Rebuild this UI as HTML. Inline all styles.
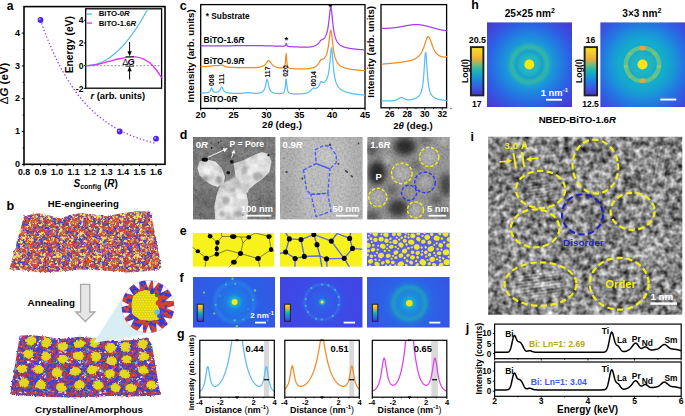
<!DOCTYPE html>
<html><head><meta charset="utf-8"><style>
html,body{margin:0;padding:0;background:#fff;font-family:"Liberation Sans",sans-serif;}
body{width:685px;height:416px;overflow:hidden;}
svg{display:block;}
</style></head><body>
<svg width="685" height="416" viewBox="0 0 685 416" font-family="Liberation Sans" font-weight="bold">
<defs>
<pattern id="amA" width="40" height="40" patternUnits="userSpaceOnUse"><rect width="40" height="40" fill="#b86a70"/><circle cx="18.1" cy="22.4" r="0.9" fill="#3c3cd4"/><circle cx="20.3" cy="23.5" r="1.0" fill="#d8402e"/><circle cx="25.2" cy="31.7" r="0.9" fill="#d8402e"/><circle cx="3.6" cy="32.4" r="0.8" fill="#eee46a"/><circle cx="-0.7" cy="-1.4" r="1.0" fill="#eee46a"/><circle cx="-0.7" cy="38.6" r="1.0" fill="#eee46a"/><circle cx="39.3" cy="-1.4" r="1.0" fill="#eee46a"/><circle cx="39.3" cy="38.6" r="1.0" fill="#eee46a"/><circle cx="6.3" cy="0.6" r="0.8" fill="#eee46a"/><circle cx="6.3" cy="40.6" r="0.8" fill="#eee46a"/><circle cx="7.6" cy="9.7" r="0.9" fill="#d8402e"/><circle cx="17.6" cy="33.7" r="1.0" fill="#eee46a"/><circle cx="20.0" cy="26.5" r="0.9" fill="#eee46a"/><circle cx="-0.1" cy="-0.2" r="1.0" fill="#3c3cd4"/><circle cx="-0.1" cy="39.8" r="1.0" fill="#3c3cd4"/><circle cx="39.9" cy="-0.2" r="1.0" fill="#3c3cd4"/><circle cx="39.9" cy="39.8" r="1.0" fill="#3c3cd4"/><circle cx="12.6" cy="9.2" r="0.8" fill="#d8402e"/><circle cx="30.7" cy="16.0" r="0.9" fill="#3c3cd4"/><circle cx="-1.7" cy="33.9" r="0.8" fill="#d8402e"/><circle cx="38.3" cy="33.9" r="0.8" fill="#d8402e"/><circle cx="36.4" cy="18.8" r="0.9" fill="#3c3cd4"/><circle cx="2.9" cy="25.2" r="0.9" fill="#3c3cd4"/><circle cx="3.5" cy="13.3" r="1.1" fill="#3c3cd4"/><circle cx="4.7" cy="9.9" r="0.8" fill="#d8402e"/><circle cx="31.9" cy="7.1" r="0.9" fill="#eee46a"/><circle cx="7.6" cy="29.3" r="1.0" fill="#d8402e"/><circle cx="4.7" cy="16.8" r="0.9" fill="#d8402e"/><circle cx="-1.2" cy="32.1" r="1.1" fill="#d8402e"/><circle cx="38.8" cy="32.1" r="1.1" fill="#d8402e"/><circle cx="8.4" cy="15.8" r="1.0" fill="#3c3cd4"/><circle cx="4.0" cy="-0.4" r="0.9" fill="#d8402e"/><circle cx="4.0" cy="39.6" r="0.9" fill="#d8402e"/><circle cx="30.9" cy="13.2" r="0.8" fill="#d8402e"/><circle cx="3.6" cy="23.3" r="1.0" fill="#d8402e"/><circle cx="14.9" cy="18.1" r="0.9" fill="#3c3cd4"/><circle cx="23.0" cy="34.7" r="0.8" fill="#d8402e"/><circle cx="36.3" cy="32.7" r="0.8" fill="#d8402e"/><circle cx="29.6" cy="37.6" r="1.1" fill="#d8402e"/><circle cx="35.3" cy="24.1" r="0.8" fill="#eee46a"/><circle cx="1.5" cy="-1.5" r="1.0" fill="#d8402e"/><circle cx="1.5" cy="38.5" r="1.0" fill="#d8402e"/><circle cx="41.5" cy="-1.5" r="1.0" fill="#d8402e"/><circle cx="41.5" cy="38.5" r="1.0" fill="#d8402e"/><circle cx="10.3" cy="32.9" r="0.9" fill="#eee46a"/><circle cx="7.0" cy="28.8" r="0.8" fill="#d8402e"/><circle cx="22.4" cy="34.1" r="0.9" fill="#eee46a"/><circle cx="36.7" cy="8.2" r="0.9" fill="#d8402e"/><circle cx="17.8" cy="2.4" r="0.9" fill="#d8402e"/><circle cx="22.9" cy="5.3" r="1.1" fill="#eee46a"/><circle cx="-0.8" cy="26.3" r="1.0" fill="#eee46a"/><circle cx="39.2" cy="26.3" r="1.0" fill="#eee46a"/><circle cx="5.6" cy="1.4" r="1.1" fill="#d8402e"/><circle cx="5.6" cy="41.4" r="1.1" fill="#d8402e"/><circle cx="28.0" cy="-1.5" r="1.0" fill="#d8402e"/><circle cx="28.0" cy="38.5" r="1.0" fill="#d8402e"/><circle cx="19.3" cy="29.2" r="1.1" fill="#d8402e"/><circle cx="3.0" cy="21.8" r="1.1" fill="#3c3cd4"/><circle cx="29.5" cy="28.1" r="1.1" fill="#3c3cd4"/><circle cx="14.1" cy="27.4" r="1.1" fill="#3c3cd4"/><circle cx="16.7" cy="31.6" r="1.0" fill="#3c3cd4"/><circle cx="25.0" cy="15.3" r="1.0" fill="#eee46a"/><circle cx="3.2" cy="25.6" r="1.1" fill="#3c3cd4"/><circle cx="29.1" cy="15.5" r="1.0" fill="#3c3cd4"/><circle cx="17.6" cy="33.5" r="1.1" fill="#d8402e"/><circle cx="1.2" cy="24.1" r="0.8" fill="#eee46a"/><circle cx="41.2" cy="24.1" r="0.8" fill="#eee46a"/><circle cx="27.9" cy="19.9" r="1.1" fill="#eee46a"/><circle cx="10.2" cy="0.5" r="1.0" fill="#d8402e"/><circle cx="10.2" cy="40.5" r="1.0" fill="#d8402e"/><circle cx="8.1" cy="6.8" r="1.0" fill="#3c3cd4"/><circle cx="17.7" cy="35.7" r="1.0" fill="#d8402e"/><circle cx="7.9" cy="17.2" r="1.1" fill="#3c3cd4"/><circle cx="35.2" cy="15.4" r="0.9" fill="#eee46a"/><circle cx="5.4" cy="19.9" r="1.1" fill="#3c3cd4"/><circle cx="28.4" cy="-2.0" r="0.8" fill="#d8402e"/><circle cx="28.4" cy="38.0" r="0.8" fill="#d8402e"/><circle cx="18.0" cy="11.0" r="0.9" fill="#d8402e"/><circle cx="25.0" cy="19.8" r="1.1" fill="#d8402e"/><circle cx="-0.7" cy="18.1" r="0.8" fill="#d8402e"/><circle cx="39.3" cy="18.1" r="0.8" fill="#d8402e"/><circle cx="34.9" cy="1.7" r="1.0" fill="#3c3cd4"/><circle cx="34.9" cy="41.7" r="1.0" fill="#3c3cd4"/><circle cx="12.4" cy="31.7" r="0.8" fill="#d8402e"/><circle cx="18.2" cy="1.0" r="0.8" fill="#3c3cd4"/><circle cx="18.2" cy="41.0" r="0.8" fill="#3c3cd4"/><circle cx="5.6" cy="1.9" r="0.9" fill="#eee46a"/><circle cx="5.6" cy="41.9" r="0.9" fill="#eee46a"/><circle cx="25.2" cy="26.2" r="1.1" fill="#3c3cd4"/><circle cx="27.4" cy="8.0" r="0.8" fill="#eee46a"/><circle cx="0.4" cy="18.9" r="0.8" fill="#3c3cd4"/><circle cx="40.4" cy="18.9" r="0.8" fill="#3c3cd4"/><circle cx="10.9" cy="13.8" r="1.0" fill="#eee46a"/><circle cx="24.6" cy="30.2" r="1.1" fill="#eee46a"/><circle cx="36.2" cy="3.5" r="1.0" fill="#3c3cd4"/><circle cx="5.2" cy="18.1" r="1.1" fill="#eee46a"/><circle cx="15.1" cy="22.8" r="1.1" fill="#3c3cd4"/><circle cx="37.8" cy="18.5" r="0.8" fill="#eee46a"/><circle cx="28.9" cy="32.7" r="1.0" fill="#eee46a"/><circle cx="8.5" cy="36.0" r="1.1" fill="#3c3cd4"/><circle cx="21.5" cy="31.6" r="1.1" fill="#d8402e"/><circle cx="34.2" cy="13.9" r="0.9" fill="#d8402e"/><circle cx="22.0" cy="30.7" r="0.8" fill="#eee46a"/><circle cx="32.4" cy="2.6" r="0.8" fill="#3c3cd4"/><circle cx="13.4" cy="31.5" r="0.8" fill="#d8402e"/><circle cx="20.7" cy="28.9" r="1.0" fill="#3c3cd4"/><circle cx="37.8" cy="19.7" r="0.8" fill="#3c3cd4"/><circle cx="8.9" cy="21.1" r="1.0" fill="#d8402e"/><circle cx="25.6" cy="20.9" r="1.0" fill="#3c3cd4"/><circle cx="12.5" cy="15.2" r="1.1" fill="#3c3cd4"/><circle cx="8.3" cy="34.0" r="1.0" fill="#3c3cd4"/><circle cx="22.9" cy="8.0" r="1.0" fill="#eee46a"/><circle cx="24.2" cy="1.1" r="1.0" fill="#3c3cd4"/><circle cx="24.2" cy="41.1" r="1.0" fill="#3c3cd4"/><circle cx="16.0" cy="32.0" r="0.9" fill="#eee46a"/><circle cx="27.6" cy="2.6" r="0.9" fill="#eee46a"/><circle cx="-1.7" cy="36.9" r="0.9" fill="#d8402e"/><circle cx="38.3" cy="36.9" r="0.9" fill="#d8402e"/><circle cx="5.1" cy="17.3" r="1.1" fill="#3c3cd4"/><circle cx="19.1" cy="12.7" r="1.0" fill="#d8402e"/><circle cx="37.0" cy="5.2" r="0.8" fill="#3c3cd4"/><circle cx="7.8" cy="9.1" r="0.9" fill="#eee46a"/><circle cx="14.2" cy="24.8" r="1.0" fill="#d8402e"/><circle cx="4.9" cy="20.4" r="0.8" fill="#d8402e"/><circle cx="21.2" cy="17.5" r="0.9" fill="#eee46a"/><circle cx="21.2" cy="6.4" r="1.0" fill="#d8402e"/><circle cx="25.5" cy="21.2" r="1.0" fill="#3c3cd4"/><circle cx="34.3" cy="9.3" r="1.1" fill="#3c3cd4"/><circle cx="36.1" cy="12.6" r="1.1" fill="#d8402e"/><circle cx="8.7" cy="-0.1" r="0.8" fill="#3c3cd4"/><circle cx="8.7" cy="39.9" r="0.8" fill="#3c3cd4"/><circle cx="9.6" cy="29.1" r="0.8" fill="#d8402e"/><circle cx="33.3" cy="16.9" r="0.8" fill="#3c3cd4"/><circle cx="16.1" cy="27.4" r="0.8" fill="#d8402e"/><circle cx="27.3" cy="36.5" r="0.8" fill="#3c3cd4"/><circle cx="20.2" cy="30.3" r="1.0" fill="#eee46a"/><circle cx="7.6" cy="2.8" r="0.8" fill="#d8402e"/><circle cx="22.1" cy="20.6" r="0.8" fill="#eee46a"/><circle cx="7.4" cy="8.2" r="1.1" fill="#3c3cd4"/><circle cx="37.1" cy="3.8" r="1.1" fill="#d8402e"/><circle cx="18.5" cy="30.6" r="0.9" fill="#d8402e"/><circle cx="20.6" cy="17.2" r="0.8" fill="#eee46a"/><circle cx="28.0" cy="33.8" r="0.9" fill="#d8402e"/><circle cx="29.6" cy="16.2" r="0.8" fill="#d8402e"/><circle cx="20.5" cy="0.6" r="1.1" fill="#3c3cd4"/><circle cx="20.5" cy="40.6" r="1.1" fill="#3c3cd4"/><circle cx="28.2" cy="34.4" r="0.9" fill="#eee46a"/><circle cx="24.0" cy="20.2" r="1.1" fill="#3c3cd4"/><circle cx="10.3" cy="36.5" r="1.1" fill="#3c3cd4"/><circle cx="32.6" cy="16.2" r="1.1" fill="#3c3cd4"/><circle cx="27.8" cy="30.7" r="0.9" fill="#3c3cd4"/><circle cx="28.9" cy="2.8" r="0.9" fill="#d8402e"/><circle cx="0.4" cy="14.2" r="1.0" fill="#eee46a"/><circle cx="40.4" cy="14.2" r="1.0" fill="#eee46a"/><circle cx="9.3" cy="37.8" r="0.9" fill="#eee46a"/><circle cx="26.4" cy="22.8" r="0.9" fill="#eee46a"/><circle cx="-0.0" cy="25.7" r="1.1" fill="#3c3cd4"/><circle cx="40.0" cy="25.7" r="1.1" fill="#3c3cd4"/><circle cx="-0.8" cy="0.9" r="1.0" fill="#eee46a"/><circle cx="-0.8" cy="40.9" r="1.0" fill="#eee46a"/><circle cx="39.2" cy="0.9" r="1.0" fill="#eee46a"/><circle cx="39.2" cy="40.9" r="1.0" fill="#eee46a"/><circle cx="10.3" cy="16.1" r="0.8" fill="#d8402e"/><circle cx="15.0" cy="3.9" r="1.1" fill="#d8402e"/><circle cx="22.0" cy="20.3" r="1.0" fill="#3c3cd4"/><circle cx="-0.2" cy="25.5" r="0.8" fill="#3c3cd4"/><circle cx="39.8" cy="25.5" r="0.8" fill="#3c3cd4"/><circle cx="23.9" cy="30.4" r="1.1" fill="#d8402e"/><circle cx="6.4" cy="18.9" r="0.9" fill="#d8402e"/><circle cx="24.4" cy="2.3" r="0.9" fill="#3c3cd4"/><circle cx="21.1" cy="23.9" r="0.9" fill="#eee46a"/><circle cx="26.2" cy="22.4" r="1.0" fill="#d8402e"/><circle cx="11.8" cy="0.6" r="0.8" fill="#d8402e"/><circle cx="11.8" cy="40.6" r="0.8" fill="#d8402e"/><circle cx="6.3" cy="30.2" r="1.1" fill="#eee46a"/><circle cx="29.9" cy="2.0" r="1.1" fill="#3c3cd4"/><circle cx="2.9" cy="36.2" r="0.9" fill="#eee46a"/><circle cx="-1.1" cy="9.7" r="1.1" fill="#eee46a"/><circle cx="38.9" cy="9.7" r="1.1" fill="#eee46a"/><circle cx="28.9" cy="18.7" r="1.1" fill="#3c3cd4"/><circle cx="24.1" cy="4.6" r="0.9" fill="#eee46a"/><circle cx="8.1" cy="2.1" r="0.8" fill="#eee46a"/><circle cx="17.7" cy="26.7" r="0.9" fill="#eee46a"/><circle cx="23.3" cy="16.8" r="1.0" fill="#3c3cd4"/><circle cx="-0.1" cy="-1.9" r="0.8" fill="#3c3cd4"/><circle cx="-0.1" cy="38.1" r="0.8" fill="#3c3cd4"/><circle cx="39.9" cy="-1.9" r="0.8" fill="#3c3cd4"/><circle cx="39.9" cy="38.1" r="0.8" fill="#3c3cd4"/><circle cx="4.6" cy="35.7" r="1.0" fill="#3c3cd4"/><circle cx="14.4" cy="10.9" r="1.0" fill="#eee46a"/><circle cx="23.7" cy="25.3" r="0.8" fill="#3c3cd4"/><circle cx="10.0" cy="-0.8" r="1.1" fill="#3c3cd4"/><circle cx="10.0" cy="39.2" r="1.1" fill="#3c3cd4"/><circle cx="1.6" cy="2.4" r="0.9" fill="#d8402e"/><circle cx="41.6" cy="2.4" r="0.9" fill="#d8402e"/><circle cx="24.9" cy="4.1" r="0.8" fill="#eee46a"/><circle cx="3.5" cy="27.1" r="1.0" fill="#eee46a"/><circle cx="14.9" cy="19.1" r="0.9" fill="#d8402e"/><circle cx="29.8" cy="33.5" r="0.8" fill="#d8402e"/><circle cx="32.4" cy="24.9" r="0.8" fill="#3c3cd4"/><circle cx="17.0" cy="10.3" r="0.9" fill="#3c3cd4"/><circle cx="26.1" cy="-0.4" r="1.0" fill="#d8402e"/><circle cx="26.1" cy="39.6" r="1.0" fill="#d8402e"/><circle cx="29.8" cy="36.8" r="0.9" fill="#eee46a"/><circle cx="3.9" cy="35.0" r="0.8" fill="#d8402e"/><circle cx="22.6" cy="19.4" r="0.9" fill="#eee46a"/><circle cx="31.0" cy="3.0" r="1.0" fill="#d8402e"/><circle cx="3.3" cy="12.2" r="1.0" fill="#3c3cd4"/><circle cx="11.3" cy="5.7" r="1.0" fill="#d8402e"/><circle cx="14.7" cy="4.7" r="1.0" fill="#3c3cd4"/><circle cx="36.7" cy="37.6" r="0.9" fill="#3c3cd4"/><circle cx="32.1" cy="12.2" r="0.9" fill="#d8402e"/><circle cx="37.4" cy="35.8" r="0.9" fill="#d8402e"/><circle cx="14.6" cy="14.5" r="0.9" fill="#eee46a"/><circle cx="7.8" cy="22.6" r="1.0" fill="#3c3cd4"/><circle cx="33.5" cy="22.5" r="1.1" fill="#d8402e"/><circle cx="35.2" cy="11.3" r="1.0" fill="#d8402e"/><circle cx="21.8" cy="22.7" r="1.0" fill="#3c3cd4"/><circle cx="32.2" cy="2.6" r="1.1" fill="#eee46a"/><circle cx="3.4" cy="3.3" r="1.1" fill="#3c3cd4"/><circle cx="3.4" cy="25.4" r="1.0" fill="#d8402e"/><circle cx="26.0" cy="9.8" r="1.1" fill="#d8402e"/><circle cx="20.9" cy="30.6" r="0.9" fill="#eee46a"/><circle cx="-1.3" cy="26.9" r="1.0" fill="#eee46a"/><circle cx="38.7" cy="26.9" r="1.0" fill="#eee46a"/><circle cx="28.8" cy="28.3" r="0.9" fill="#3c3cd4"/><circle cx="33.0" cy="26.7" r="1.1" fill="#3c3cd4"/><circle cx="33.4" cy="35.5" r="1.0" fill="#3c3cd4"/><circle cx="21.0" cy="28.4" r="0.9" fill="#3c3cd4"/><circle cx="16.8" cy="5.8" r="1.1" fill="#3c3cd4"/><circle cx="15.0" cy="6.7" r="0.9" fill="#d8402e"/><circle cx="11.7" cy="-1.2" r="0.9" fill="#d8402e"/><circle cx="11.7" cy="38.8" r="0.9" fill="#d8402e"/><circle cx="4.6" cy="25.9" r="0.8" fill="#3c3cd4"/><circle cx="2.5" cy="18.4" r="1.1" fill="#eee46a"/><circle cx="1.5" cy="4.3" r="0.8" fill="#d8402e"/><circle cx="41.5" cy="4.3" r="0.8" fill="#d8402e"/><circle cx="9.4" cy="28.7" r="0.8" fill="#eee46a"/><circle cx="7.4" cy="11.2" r="1.1" fill="#d8402e"/><circle cx="12.5" cy="21.9" r="0.9" fill="#3c3cd4"/><circle cx="10.4" cy="35.5" r="0.9" fill="#3c3cd4"/><circle cx="21.9" cy="-1.7" r="0.8" fill="#eee46a"/><circle cx="21.9" cy="38.3" r="0.8" fill="#eee46a"/><circle cx="2.0" cy="37.9" r="0.9" fill="#3c3cd4"/><circle cx="42.0" cy="37.9" r="0.9" fill="#3c3cd4"/><circle cx="21.1" cy="20.6" r="1.1" fill="#d8402e"/><circle cx="26.3" cy="9.5" r="0.9" fill="#d8402e"/><circle cx="14.9" cy="31.9" r="1.0" fill="#3c3cd4"/><circle cx="6.3" cy="6.3" r="0.9" fill="#d8402e"/><circle cx="34.8" cy="20.6" r="1.1" fill="#eee46a"/><circle cx="10.7" cy="21.4" r="1.1" fill="#d8402e"/><circle cx="0.1" cy="32.9" r="1.1" fill="#3c3cd4"/><circle cx="40.1" cy="32.9" r="1.1" fill="#3c3cd4"/><circle cx="3.3" cy="10.8" r="0.8" fill="#3c3cd4"/><circle cx="19.2" cy="18.7" r="1.0" fill="#3c3cd4"/><circle cx="34.3" cy="12.1" r="0.9" fill="#3c3cd4"/><circle cx="36.7" cy="3.6" r="0.8" fill="#3c3cd4"/><circle cx="21.7" cy="21.0" r="1.1" fill="#d8402e"/><circle cx="12.5" cy="12.4" r="0.9" fill="#d8402e"/><circle cx="18.7" cy="28.6" r="1.0" fill="#d8402e"/><circle cx="4.2" cy="15.8" r="1.1" fill="#eee46a"/><circle cx="33.2" cy="26.2" r="0.9" fill="#d8402e"/><circle cx="28.4" cy="9.5" r="0.9" fill="#eee46a"/><circle cx="0.4" cy="-0.3" r="0.8" fill="#3c3cd4"/><circle cx="0.4" cy="39.7" r="0.8" fill="#3c3cd4"/><circle cx="40.4" cy="-0.3" r="0.8" fill="#3c3cd4"/><circle cx="40.4" cy="39.7" r="0.8" fill="#3c3cd4"/><circle cx="24.6" cy="11.6" r="1.0" fill="#eee46a"/><circle cx="11.9" cy="13.5" r="1.0" fill="#eee46a"/><circle cx="10.3" cy="8.0" r="0.9" fill="#3c3cd4"/><circle cx="37.8" cy="22.5" r="0.9" fill="#3c3cd4"/><circle cx="33.1" cy="3.7" r="0.8" fill="#d8402e"/><circle cx="27.1" cy="28.3" r="0.9" fill="#d8402e"/><circle cx="33.5" cy="23.7" r="0.8" fill="#d8402e"/><circle cx="6.3" cy="5.0" r="0.8" fill="#eee46a"/><circle cx="36.8" cy="17.1" r="1.0" fill="#eee46a"/><circle cx="30.7" cy="32.8" r="0.9" fill="#eee46a"/><circle cx="16.5" cy="0.6" r="1.0" fill="#eee46a"/><circle cx="16.5" cy="40.6" r="1.0" fill="#eee46a"/><circle cx="-0.7" cy="31.6" r="1.0" fill="#eee46a"/><circle cx="39.3" cy="31.6" r="1.0" fill="#eee46a"/><circle cx="0.7" cy="13.2" r="1.0" fill="#d8402e"/><circle cx="40.7" cy="13.2" r="1.0" fill="#d8402e"/><circle cx="4.3" cy="15.1" r="1.1" fill="#eee46a"/><circle cx="33.0" cy="24.5" r="1.1" fill="#d8402e"/><circle cx="36.1" cy="21.9" r="1.0" fill="#d8402e"/><circle cx="5.7" cy="28.5" r="1.0" fill="#3c3cd4"/><circle cx="28.6" cy="33.4" r="1.1" fill="#d8402e"/><circle cx="25.1" cy="7.9" r="0.8" fill="#d8402e"/><circle cx="23.1" cy="27.9" r="1.1" fill="#d8402e"/><circle cx="14.4" cy="18.5" r="1.1" fill="#d8402e"/><circle cx="5.4" cy="36.2" r="1.0" fill="#eee46a"/><circle cx="22.4" cy="10.6" r="1.1" fill="#3c3cd4"/><circle cx="32.7" cy="24.1" r="1.1" fill="#d8402e"/><circle cx="11.5" cy="35.9" r="1.0" fill="#d8402e"/><circle cx="33.2" cy="7.4" r="0.8" fill="#eee46a"/><circle cx="1.3" cy="7.2" r="1.1" fill="#3c3cd4"/><circle cx="41.3" cy="7.2" r="1.1" fill="#3c3cd4"/><circle cx="26.3" cy="12.3" r="1.0" fill="#eee46a"/><circle cx="15.3" cy="23.7" r="0.8" fill="#3c3cd4"/><circle cx="8.0" cy="18.7" r="0.9" fill="#d8402e"/><circle cx="22.8" cy="6.9" r="0.9" fill="#eee46a"/><circle cx="22.7" cy="13.3" r="0.8" fill="#eee46a"/><circle cx="26.8" cy="5.8" r="1.0" fill="#3c3cd4"/><circle cx="18.8" cy="16.5" r="1.0" fill="#eee46a"/><circle cx="30.3" cy="30.1" r="1.1" fill="#eee46a"/><circle cx="33.5" cy="34.2" r="0.9" fill="#eee46a"/><circle cx="22.6" cy="36.2" r="1.0" fill="#eee46a"/><circle cx="17.3" cy="36.2" r="0.8" fill="#d8402e"/><circle cx="29.0" cy="36.0" r="1.0" fill="#3c3cd4"/><circle cx="30.1" cy="12.2" r="0.8" fill="#eee46a"/><circle cx="5.0" cy="17.9" r="0.9" fill="#eee46a"/><circle cx="2.1" cy="27.8" r="0.8" fill="#eee46a"/><circle cx="12.3" cy="15.8" r="0.8" fill="#d8402e"/><circle cx="36.5" cy="-1.3" r="1.1" fill="#eee46a"/><circle cx="36.5" cy="38.7" r="1.1" fill="#eee46a"/><circle cx="16.9" cy="32.2" r="1.0" fill="#d8402e"/><circle cx="22.7" cy="36.1" r="1.1" fill="#d8402e"/><circle cx="5.0" cy="21.5" r="0.8" fill="#3c3cd4"/><circle cx="9.8" cy="12.0" r="0.8" fill="#d8402e"/><circle cx="35.8" cy="32.6" r="0.9" fill="#eee46a"/><circle cx="23.4" cy="1.8" r="1.1" fill="#d8402e"/><circle cx="23.4" cy="41.8" r="1.1" fill="#d8402e"/><circle cx="12.3" cy="19.9" r="1.1" fill="#3c3cd4"/><circle cx="18.9" cy="8.3" r="1.1" fill="#d8402e"/><circle cx="35.9" cy="7.8" r="0.9" fill="#3c3cd4"/><circle cx="18.9" cy="6.9" r="1.1" fill="#3c3cd4"/><circle cx="8.1" cy="25.3" r="1.1" fill="#d8402e"/><circle cx="2.0" cy="4.2" r="0.9" fill="#3c3cd4"/><circle cx="36.0" cy="34.8" r="0.8" fill="#3c3cd4"/><circle cx="27.8" cy="37.5" r="0.8" fill="#eee46a"/><circle cx="8.9" cy="12.3" r="0.8" fill="#3c3cd4"/><circle cx="7.2" cy="9.4" r="1.1" fill="#eee46a"/><circle cx="14.9" cy="26.5" r="1.0" fill="#3c3cd4"/><circle cx="9.2" cy="12.0" r="1.0" fill="#3c3cd4"/><circle cx="11.1" cy="25.6" r="1.1" fill="#d8402e"/><circle cx="17.6" cy="21.1" r="0.8" fill="#eee46a"/><circle cx="24.0" cy="11.4" r="1.1" fill="#d8402e"/><circle cx="3.5" cy="11.4" r="0.8" fill="#3c3cd4"/><circle cx="11.2" cy="21.9" r="1.1" fill="#d8402e"/><circle cx="-0.5" cy="1.3" r="1.1" fill="#eee46a"/><circle cx="-0.5" cy="41.3" r="1.1" fill="#eee46a"/><circle cx="39.5" cy="1.3" r="1.1" fill="#eee46a"/><circle cx="39.5" cy="41.3" r="1.1" fill="#eee46a"/><circle cx="15.4" cy="37.2" r="0.8" fill="#eee46a"/><circle cx="22.2" cy="25.8" r="1.0" fill="#d8402e"/><circle cx="31.3" cy="20.7" r="1.1" fill="#eee46a"/><circle cx="27.4" cy="20.8" r="0.8" fill="#3c3cd4"/><circle cx="31.2" cy="6.6" r="0.8" fill="#eee46a"/><circle cx="17.6" cy="30.9" r="1.1" fill="#3c3cd4"/><circle cx="9.4" cy="19.6" r="1.0" fill="#d8402e"/><circle cx="20.0" cy="1.4" r="1.0" fill="#eee46a"/><circle cx="20.0" cy="41.4" r="1.0" fill="#eee46a"/><circle cx="22.9" cy="34.9" r="0.8" fill="#d8402e"/><circle cx="0.7" cy="19.8" r="0.9" fill="#eee46a"/><circle cx="40.7" cy="19.8" r="0.9" fill="#eee46a"/><circle cx="10.5" cy="31.9" r="1.1" fill="#d8402e"/><circle cx="22.8" cy="21.7" r="0.8" fill="#3c3cd4"/><circle cx="5.8" cy="12.4" r="0.9" fill="#d8402e"/><circle cx="24.8" cy="21.0" r="1.0" fill="#d8402e"/><circle cx="3.5" cy="32.8" r="0.9" fill="#d8402e"/><circle cx="6.4" cy="27.6" r="1.1" fill="#3c3cd4"/><circle cx="2.4" cy="16.4" r="0.8" fill="#eee46a"/><circle cx="-1.2" cy="1.7" r="1.1" fill="#eee46a"/><circle cx="-1.2" cy="41.7" r="1.1" fill="#eee46a"/><circle cx="38.8" cy="1.7" r="1.1" fill="#eee46a"/><circle cx="38.8" cy="41.7" r="1.1" fill="#eee46a"/><circle cx="-0.6" cy="5.8" r="1.0" fill="#eee46a"/><circle cx="39.4" cy="5.8" r="1.0" fill="#eee46a"/><circle cx="1.6" cy="9.6" r="0.8" fill="#3c3cd4"/><circle cx="41.6" cy="9.6" r="0.8" fill="#3c3cd4"/><circle cx="15.7" cy="11.9" r="0.8" fill="#eee46a"/><circle cx="1.4" cy="-0.2" r="1.0" fill="#3c3cd4"/><circle cx="1.4" cy="39.8" r="1.0" fill="#3c3cd4"/><circle cx="41.4" cy="-0.2" r="1.0" fill="#3c3cd4"/><circle cx="41.4" cy="39.8" r="1.0" fill="#3c3cd4"/><circle cx="9.2" cy="10.1" r="0.8" fill="#eee46a"/><circle cx="18.5" cy="37.3" r="0.9" fill="#eee46a"/><circle cx="-0.8" cy="24.4" r="0.9" fill="#d8402e"/><circle cx="39.2" cy="24.4" r="0.9" fill="#d8402e"/><circle cx="26.0" cy="2.3" r="1.0" fill="#d8402e"/><circle cx="34.6" cy="23.6" r="0.9" fill="#3c3cd4"/><circle cx="15.7" cy="33.7" r="1.1" fill="#eee46a"/><circle cx="8.6" cy="13.9" r="1.0" fill="#d8402e"/><circle cx="6.6" cy="8.1" r="0.9" fill="#d8402e"/><circle cx="12.3" cy="17.9" r="1.0" fill="#3c3cd4"/><circle cx="34.5" cy="8.2" r="0.8" fill="#eee46a"/><circle cx="27.7" cy="14.5" r="0.8" fill="#d8402e"/><circle cx="7.3" cy="10.5" r="1.1" fill="#eee46a"/><circle cx="28.6" cy="10.7" r="0.8" fill="#eee46a"/><circle cx="37.5" cy="14.4" r="1.0" fill="#3c3cd4"/><circle cx="36.3" cy="0.8" r="0.9" fill="#d8402e"/><circle cx="36.3" cy="40.8" r="0.9" fill="#d8402e"/><circle cx="3.3" cy="35.3" r="1.1" fill="#d8402e"/><circle cx="20.8" cy="2.2" r="0.8" fill="#eee46a"/><circle cx="1.6" cy="6.0" r="0.8" fill="#eee46a"/><circle cx="41.6" cy="6.0" r="0.8" fill="#eee46a"/><circle cx="12.5" cy="17.0" r="0.8" fill="#eee46a"/><circle cx="28.3" cy="10.4" r="1.0" fill="#3c3cd4"/><circle cx="5.9" cy="8.2" r="1.0" fill="#d8402e"/><circle cx="16.2" cy="15.5" r="0.8" fill="#3c3cd4"/><circle cx="11.7" cy="13.8" r="0.8" fill="#d8402e"/><circle cx="1.0" cy="25.2" r="1.1" fill="#eee46a"/><circle cx="41.0" cy="25.2" r="1.1" fill="#eee46a"/><circle cx="-1.0" cy="11.9" r="1.1" fill="#eee46a"/><circle cx="39.0" cy="11.9" r="1.1" fill="#eee46a"/><circle cx="8.6" cy="27.6" r="1.1" fill="#eee46a"/><circle cx="34.7" cy="9.4" r="0.8" fill="#eee46a"/><circle cx="17.1" cy="15.7" r="0.9" fill="#d8402e"/><circle cx="13.1" cy="19.9" r="0.8" fill="#d8402e"/><circle cx="16.1" cy="19.0" r="1.0" fill="#d8402e"/><circle cx="9.6" cy="3.7" r="0.9" fill="#d8402e"/><circle cx="6.0" cy="23.3" r="1.0" fill="#3c3cd4"/><circle cx="28.0" cy="0.9" r="0.9" fill="#eee46a"/><circle cx="28.0" cy="40.9" r="0.9" fill="#eee46a"/><circle cx="2.5" cy="16.2" r="0.9" fill="#d8402e"/><circle cx="23.4" cy="18.8" r="0.9" fill="#d8402e"/><circle cx="0.9" cy="13.9" r="1.0" fill="#3c3cd4"/><circle cx="40.9" cy="13.9" r="1.0" fill="#3c3cd4"/><circle cx="10.5" cy="26.7" r="0.9" fill="#d8402e"/><circle cx="24.6" cy="-1.8" r="1.0" fill="#eee46a"/><circle cx="24.6" cy="38.2" r="1.0" fill="#eee46a"/><circle cx="37.7" cy="30.9" r="1.0" fill="#eee46a"/><circle cx="16.4" cy="16.6" r="1.1" fill="#d8402e"/><circle cx="35.2" cy="15.3" r="0.8" fill="#3c3cd4"/><circle cx="5.4" cy="20.3" r="0.9" fill="#d8402e"/><circle cx="-0.9" cy="6.0" r="0.8" fill="#d8402e"/><circle cx="39.1" cy="6.0" r="0.8" fill="#d8402e"/><circle cx="27.2" cy="9.4" r="1.0" fill="#d8402e"/><circle cx="15.8" cy="9.6" r="1.0" fill="#eee46a"/><circle cx="21.9" cy="25.0" r="1.1" fill="#eee46a"/><circle cx="-1.2" cy="13.3" r="1.1" fill="#d8402e"/><circle cx="38.8" cy="13.3" r="1.1" fill="#d8402e"/><circle cx="12.5" cy="28.6" r="1.0" fill="#eee46a"/><circle cx="-1.4" cy="33.0" r="1.0" fill="#d8402e"/><circle cx="38.6" cy="33.0" r="1.0" fill="#d8402e"/><circle cx="19.6" cy="22.6" r="0.9" fill="#eee46a"/><circle cx="30.0" cy="21.4" r="0.8" fill="#d8402e"/><circle cx="13.0" cy="7.1" r="0.8" fill="#eee46a"/><circle cx="2.5" cy="2.7" r="1.0" fill="#d8402e"/><circle cx="4.5" cy="18.1" r="0.9" fill="#3c3cd4"/><circle cx="6.5" cy="34.7" r="0.8" fill="#3c3cd4"/><circle cx="10.2" cy="20.3" r="0.9" fill="#3c3cd4"/><circle cx="28.6" cy="10.1" r="0.9" fill="#3c3cd4"/><circle cx="13.4" cy="30.4" r="1.1" fill="#3c3cd4"/><circle cx="22.7" cy="16.8" r="1.0" fill="#3c3cd4"/><circle cx="33.2" cy="32.0" r="0.9" fill="#d8402e"/><circle cx="26.8" cy="9.2" r="0.8" fill="#d8402e"/><circle cx="23.4" cy="37.6" r="0.8" fill="#3c3cd4"/><circle cx="27.5" cy="16.8" r="0.9" fill="#eee46a"/><circle cx="37.3" cy="-0.4" r="1.0" fill="#d8402e"/><circle cx="37.3" cy="39.6" r="1.0" fill="#d8402e"/><circle cx="4.7" cy="1.7" r="1.0" fill="#d8402e"/><circle cx="4.7" cy="41.7" r="1.0" fill="#d8402e"/><circle cx="-0.3" cy="4.8" r="0.8" fill="#d8402e"/><circle cx="39.7" cy="4.8" r="0.8" fill="#d8402e"/><circle cx="21.7" cy="19.3" r="0.9" fill="#eee46a"/><circle cx="32.0" cy="33.5" r="0.9" fill="#d8402e"/><circle cx="24.7" cy="30.6" r="0.9" fill="#3c3cd4"/><circle cx="27.8" cy="21.8" r="0.8" fill="#3c3cd4"/><circle cx="7.0" cy="4.3" r="0.9" fill="#3c3cd4"/><circle cx="19.5" cy="4.8" r="0.8" fill="#d8402e"/><circle cx="22.6" cy="5.7" r="0.9" fill="#eee46a"/><circle cx="9.1" cy="19.3" r="0.9" fill="#eee46a"/><circle cx="2.0" cy="2.6" r="0.9" fill="#3c3cd4"/><circle cx="3.1" cy="7.3" r="1.1" fill="#eee46a"/><circle cx="8.1" cy="34.7" r="0.9" fill="#eee46a"/><circle cx="32.3" cy="15.8" r="1.0" fill="#d8402e"/><circle cx="26.3" cy="24.9" r="1.1" fill="#d8402e"/><circle cx="34.6" cy="-0.2" r="1.1" fill="#eee46a"/><circle cx="34.6" cy="39.8" r="1.1" fill="#eee46a"/><circle cx="29.0" cy="7.0" r="0.8" fill="#d8402e"/><circle cx="4.8" cy="3.0" r="1.1" fill="#d8402e"/><circle cx="12.4" cy="20.6" r="0.8" fill="#d8402e"/><circle cx="-1.6" cy="0.4" r="1.1" fill="#eee46a"/><circle cx="-1.6" cy="40.4" r="1.1" fill="#eee46a"/><circle cx="38.4" cy="0.4" r="1.1" fill="#eee46a"/><circle cx="38.4" cy="40.4" r="1.1" fill="#eee46a"/><circle cx="31.7" cy="29.4" r="1.1" fill="#eee46a"/><circle cx="33.1" cy="30.7" r="0.8" fill="#3c3cd4"/><circle cx="-2.0" cy="16.1" r="0.9" fill="#3c3cd4"/><circle cx="38.0" cy="16.1" r="0.9" fill="#3c3cd4"/><circle cx="36.4" cy="0.9" r="0.8" fill="#eee46a"/><circle cx="36.4" cy="40.9" r="0.8" fill="#eee46a"/><circle cx="15.5" cy="14.8" r="1.1" fill="#eee46a"/><circle cx="14.6" cy="25.5" r="0.9" fill="#d8402e"/><circle cx="36.2" cy="12.9" r="0.9" fill="#d8402e"/><circle cx="29.7" cy="8.5" r="1.0" fill="#3c3cd4"/><circle cx="27.2" cy="7.1" r="0.8" fill="#d8402e"/><circle cx="14.0" cy="17.2" r="1.0" fill="#d8402e"/><circle cx="16.1" cy="12.9" r="1.1" fill="#eee46a"/><circle cx="8.2" cy="35.2" r="1.1" fill="#d8402e"/><circle cx="4.3" cy="-0.5" r="1.1" fill="#eee46a"/><circle cx="4.3" cy="39.5" r="1.1" fill="#eee46a"/><circle cx="8.8" cy="16.3" r="0.8" fill="#3c3cd4"/><circle cx="10.9" cy="27.1" r="0.9" fill="#3c3cd4"/><circle cx="7.3" cy="14.3" r="0.8" fill="#3c3cd4"/><circle cx="25.4" cy="15.1" r="0.8" fill="#eee46a"/><circle cx="24.7" cy="35.5" r="1.0" fill="#3c3cd4"/><circle cx="20.2" cy="22.7" r="1.1" fill="#d8402e"/><circle cx="27.6" cy="18.1" r="0.9" fill="#eee46a"/><circle cx="15.4" cy="9.2" r="1.0" fill="#eee46a"/><circle cx="20.6" cy="1.3" r="0.9" fill="#eee46a"/><circle cx="20.6" cy="41.3" r="0.9" fill="#eee46a"/><circle cx="23.7" cy="23.8" r="0.8" fill="#3c3cd4"/><circle cx="18.7" cy="-0.3" r="0.9" fill="#3c3cd4"/><circle cx="18.7" cy="39.7" r="0.9" fill="#3c3cd4"/><circle cx="29.5" cy="-0.4" r="1.1" fill="#eee46a"/><circle cx="29.5" cy="39.6" r="1.1" fill="#eee46a"/><circle cx="5.1" cy="-0.4" r="0.8" fill="#eee46a"/><circle cx="5.1" cy="39.6" r="0.8" fill="#eee46a"/><circle cx="33.6" cy="26.0" r="1.1" fill="#3c3cd4"/><circle cx="31.9" cy="20.5" r="0.8" fill="#3c3cd4"/><circle cx="34.8" cy="28.5" r="1.1" fill="#d8402e"/><circle cx="18.2" cy="21.5" r="0.8" fill="#3c3cd4"/><circle cx="11.2" cy="25.7" r="1.0" fill="#d8402e"/><circle cx="31.5" cy="19.6" r="1.1" fill="#d8402e"/><circle cx="34.2" cy="30.8" r="1.1" fill="#eee46a"/><circle cx="31.9" cy="6.1" r="0.8" fill="#eee46a"/><circle cx="1.5" cy="13.8" r="1.1" fill="#3c3cd4"/><circle cx="41.5" cy="13.8" r="1.1" fill="#3c3cd4"/><circle cx="4.7" cy="7.3" r="1.1" fill="#eee46a"/><circle cx="24.7" cy="36.1" r="1.1" fill="#d8402e"/><circle cx="8.3" cy="25.2" r="1.0" fill="#3c3cd4"/><circle cx="7.9" cy="26.7" r="0.8" fill="#eee46a"/><circle cx="13.6" cy="12.6" r="0.9" fill="#eee46a"/><circle cx="24.1" cy="27.8" r="0.8" fill="#d8402e"/><circle cx="27.8" cy="18.7" r="0.8" fill="#d8402e"/><circle cx="37.6" cy="24.4" r="0.8" fill="#d8402e"/><circle cx="-0.2" cy="27.7" r="0.9" fill="#3c3cd4"/><circle cx="39.8" cy="27.7" r="0.9" fill="#3c3cd4"/><circle cx="12.4" cy="16.3" r="1.0" fill="#d8402e"/><circle cx="17.0" cy="32.8" r="0.9" fill="#eee46a"/><circle cx="20.3" cy="37.7" r="1.0" fill="#d8402e"/><circle cx="9.4" cy="23.2" r="1.1" fill="#d8402e"/><circle cx="11.5" cy="34.2" r="0.9" fill="#eee46a"/><circle cx="37.3" cy="15.5" r="1.0" fill="#3c3cd4"/><circle cx="17.9" cy="2.6" r="0.9" fill="#eee46a"/><circle cx="17.6" cy="-1.8" r="1.0" fill="#d8402e"/><circle cx="17.6" cy="38.2" r="1.0" fill="#d8402e"/><circle cx="26.9" cy="9.8" r="0.8" fill="#eee46a"/><circle cx="35.8" cy="10.1" r="0.9" fill="#eee46a"/><circle cx="32.8" cy="34.0" r="1.0" fill="#eee46a"/><circle cx="4.0" cy="35.9" r="0.9" fill="#d8402e"/><circle cx="15.0" cy="28.9" r="0.9" fill="#eee46a"/><circle cx="35.9" cy="38.0" r="1.0" fill="#d8402e"/><circle cx="18.8" cy="14.5" r="0.9" fill="#eee46a"/><circle cx="26.8" cy="24.2" r="1.1" fill="#3c3cd4"/><circle cx="-0.3" cy="15.8" r="1.0" fill="#3c3cd4"/><circle cx="39.7" cy="15.8" r="1.0" fill="#3c3cd4"/><circle cx="28.0" cy="-0.1" r="0.9" fill="#d8402e"/><circle cx="28.0" cy="39.9" r="0.9" fill="#d8402e"/><circle cx="16.1" cy="26.2" r="1.1" fill="#d8402e"/><circle cx="8.4" cy="14.8" r="0.9" fill="#d8402e"/><circle cx="29.7" cy="3.3" r="1.0" fill="#d8402e"/><circle cx="24.9" cy="29.7" r="1.1" fill="#d8402e"/><circle cx="29.2" cy="31.0" r="0.9" fill="#d8402e"/><circle cx="0.6" cy="34.4" r="1.1" fill="#3c3cd4"/><circle cx="40.6" cy="34.4" r="1.1" fill="#3c3cd4"/><circle cx="1.0" cy="14.0" r="1.0" fill="#eee46a"/><circle cx="41.0" cy="14.0" r="1.0" fill="#eee46a"/><circle cx="4.4" cy="31.6" r="1.0" fill="#d8402e"/><circle cx="5.0" cy="22.7" r="0.8" fill="#d8402e"/><circle cx="20.5" cy="11.8" r="0.8" fill="#3c3cd4"/><circle cx="16.6" cy="2.2" r="0.9" fill="#d8402e"/><circle cx="22.3" cy="18.4" r="0.8" fill="#3c3cd4"/><circle cx="34.0" cy="6.2" r="1.0" fill="#3c3cd4"/><circle cx="16.3" cy="24.5" r="1.1" fill="#3c3cd4"/><circle cx="16.5" cy="0.4" r="1.1" fill="#d8402e"/><circle cx="16.5" cy="40.4" r="1.1" fill="#d8402e"/><circle cx="29.4" cy="28.5" r="1.0" fill="#d8402e"/><circle cx="1.1" cy="4.4" r="1.1" fill="#d8402e"/><circle cx="41.1" cy="4.4" r="1.1" fill="#d8402e"/><circle cx="25.7" cy="33.9" r="0.9" fill="#d8402e"/><circle cx="3.1" cy="10.4" r="1.1" fill="#d8402e"/><circle cx="13.2" cy="19.6" r="1.1" fill="#eee46a"/><circle cx="37.9" cy="22.7" r="1.1" fill="#eee46a"/><circle cx="15.8" cy="12.0" r="0.9" fill="#3c3cd4"/><circle cx="14.7" cy="17.2" r="0.9" fill="#eee46a"/><circle cx="17.2" cy="18.0" r="1.1" fill="#d8402e"/><circle cx="2.5" cy="21.1" r="0.9" fill="#eee46a"/><circle cx="8.9" cy="4.0" r="0.9" fill="#eee46a"/><circle cx="19.4" cy="9.2" r="0.9" fill="#3c3cd4"/><circle cx="0.4" cy="16.3" r="0.8" fill="#3c3cd4"/><circle cx="40.4" cy="16.3" r="0.8" fill="#3c3cd4"/><circle cx="23.7" cy="-1.6" r="1.0" fill="#eee46a"/><circle cx="23.7" cy="38.4" r="1.0" fill="#eee46a"/><circle cx="14.8" cy="12.0" r="1.0" fill="#eee46a"/><circle cx="12.6" cy="19.9" r="1.1" fill="#eee46a"/><circle cx="2.1" cy="3.7" r="0.9" fill="#d8402e"/><circle cx="31.8" cy="17.0" r="0.9" fill="#3c3cd4"/><circle cx="11.4" cy="27.2" r="1.1" fill="#d8402e"/><circle cx="33.3" cy="13.1" r="1.1" fill="#d8402e"/><circle cx="31.5" cy="25.7" r="1.1" fill="#d8402e"/><circle cx="1.9" cy="25.0" r="1.1" fill="#eee46a"/><circle cx="41.9" cy="25.0" r="1.1" fill="#eee46a"/><circle cx="25.5" cy="0.9" r="1.1" fill="#3c3cd4"/><circle cx="25.5" cy="40.9" r="1.1" fill="#3c3cd4"/><circle cx="23.2" cy="0.2" r="0.9" fill="#3c3cd4"/><circle cx="23.2" cy="40.2" r="0.9" fill="#3c3cd4"/><circle cx="27.2" cy="-0.7" r="0.8" fill="#3c3cd4"/><circle cx="27.2" cy="39.3" r="0.8" fill="#3c3cd4"/><circle cx="31.3" cy="17.6" r="0.9" fill="#3c3cd4"/><circle cx="17.9" cy="17.5" r="0.9" fill="#d8402e"/><circle cx="29.4" cy="2.9" r="1.1" fill="#d8402e"/><circle cx="26.6" cy="21.9" r="0.8" fill="#d8402e"/><circle cx="12.4" cy="-1.8" r="1.1" fill="#eee46a"/><circle cx="12.4" cy="38.2" r="1.1" fill="#eee46a"/><circle cx="8.4" cy="16.6" r="1.1" fill="#eee46a"/><circle cx="4.9" cy="34.9" r="0.8" fill="#eee46a"/><circle cx="17.3" cy="15.1" r="1.1" fill="#eee46a"/><circle cx="19.7" cy="27.6" r="1.1" fill="#eee46a"/><circle cx="4.2" cy="29.7" r="1.0" fill="#d8402e"/><circle cx="8.1" cy="13.9" r="0.9" fill="#d8402e"/><circle cx="23.7" cy="20.8" r="1.0" fill="#eee46a"/><circle cx="33.7" cy="14.3" r="0.9" fill="#eee46a"/><circle cx="-0.8" cy="13.1" r="0.8" fill="#eee46a"/><circle cx="39.2" cy="13.1" r="0.8" fill="#eee46a"/><circle cx="10.5" cy="29.2" r="0.9" fill="#eee46a"/><circle cx="2.6" cy="33.0" r="1.0" fill="#eee46a"/><circle cx="17.3" cy="24.7" r="1.1" fill="#eee46a"/><circle cx="36.4" cy="18.2" r="0.8" fill="#eee46a"/><circle cx="30.1" cy="4.1" r="1.1" fill="#d8402e"/><circle cx="1.4" cy="27.9" r="1.0" fill="#eee46a"/><circle cx="41.4" cy="27.9" r="1.0" fill="#eee46a"/><circle cx="13.3" cy="6.1" r="1.1" fill="#3c3cd4"/><circle cx="32.2" cy="3.9" r="0.8" fill="#3c3cd4"/><circle cx="8.0" cy="21.4" r="0.8" fill="#eee46a"/><circle cx="30.6" cy="23.3" r="1.1" fill="#3c3cd4"/><circle cx="27.6" cy="14.6" r="1.0" fill="#3c3cd4"/><circle cx="11.6" cy="34.3" r="0.9" fill="#3c3cd4"/><circle cx="10.0" cy="0.8" r="0.9" fill="#eee46a"/><circle cx="10.0" cy="40.8" r="0.9" fill="#eee46a"/><circle cx="11.7" cy="10.1" r="0.9" fill="#d8402e"/><circle cx="10.9" cy="11.4" r="1.0" fill="#d8402e"/><circle cx="35.0" cy="6.4" r="1.1" fill="#3c3cd4"/><circle cx="24.4" cy="21.8" r="1.0" fill="#3c3cd4"/><circle cx="26.4" cy="36.8" r="0.9" fill="#3c3cd4"/><circle cx="2.2" cy="37.5" r="1.1" fill="#eee46a"/><circle cx="9.3" cy="18.1" r="1.0" fill="#eee46a"/><circle cx="37.7" cy="20.2" r="0.9" fill="#eee46a"/><circle cx="9.3" cy="38.0" r="1.1" fill="#d8402e"/><circle cx="26.3" cy="2.9" r="0.8" fill="#3c3cd4"/><circle cx="22.6" cy="4.8" r="0.9" fill="#3c3cd4"/><circle cx="34.9" cy="2.5" r="0.8" fill="#eee46a"/><circle cx="1.2" cy="22.8" r="1.0" fill="#3c3cd4"/><circle cx="41.2" cy="22.8" r="1.0" fill="#3c3cd4"/><circle cx="34.2" cy="31.4" r="0.8" fill="#eee46a"/><circle cx="21.1" cy="7.4" r="0.9" fill="#eee46a"/><circle cx="20.0" cy="7.9" r="0.9" fill="#3c3cd4"/><circle cx="19.4" cy="3.1" r="1.0" fill="#eee46a"/><circle cx="-1.1" cy="22.5" r="0.9" fill="#d8402e"/><circle cx="38.9" cy="22.5" r="0.9" fill="#d8402e"/><circle cx="13.4" cy="28.1" r="1.1" fill="#3c3cd4"/><circle cx="38.0" cy="37.0" r="1.1" fill="#3c3cd4"/><circle cx="0.8" cy="19.6" r="1.0" fill="#eee46a"/><circle cx="40.8" cy="19.6" r="1.0" fill="#eee46a"/><circle cx="24.5" cy="24.5" r="0.8" fill="#3c3cd4"/><circle cx="20.8" cy="-1.6" r="0.8" fill="#d8402e"/><circle cx="20.8" cy="38.4" r="0.8" fill="#d8402e"/><circle cx="34.8" cy="-1.7" r="0.8" fill="#d8402e"/><circle cx="34.8" cy="38.3" r="0.8" fill="#d8402e"/><circle cx="33.2" cy="27.5" r="1.0" fill="#eee46a"/><circle cx="30.3" cy="32.3" r="0.8" fill="#d8402e"/><circle cx="31.8" cy="-1.0" r="0.9" fill="#3c3cd4"/><circle cx="31.8" cy="39.0" r="0.9" fill="#3c3cd4"/><circle cx="13.4" cy="13.9" r="1.1" fill="#d8402e"/><circle cx="10.5" cy="23.4" r="0.9" fill="#eee46a"/><circle cx="27.0" cy="18.2" r="1.1" fill="#d8402e"/><circle cx="7.0" cy="6.0" r="0.9" fill="#d8402e"/><circle cx="31.3" cy="13.3" r="1.0" fill="#d8402e"/><circle cx="10.4" cy="20.9" r="1.1" fill="#d8402e"/><circle cx="7.4" cy="9.3" r="0.9" fill="#d8402e"/><circle cx="29.1" cy="27.0" r="1.0" fill="#3c3cd4"/><circle cx="3.1" cy="30.5" r="0.8" fill="#d8402e"/><circle cx="16.6" cy="-0.4" r="0.9" fill="#eee46a"/><circle cx="16.6" cy="39.6" r="0.9" fill="#eee46a"/><circle cx="36.4" cy="-0.4" r="0.8" fill="#eee46a"/><circle cx="36.4" cy="39.6" r="0.8" fill="#eee46a"/><circle cx="31.6" cy="31.3" r="1.1" fill="#d8402e"/><circle cx="15.2" cy="11.5" r="1.0" fill="#eee46a"/><circle cx="19.0" cy="32.7" r="0.9" fill="#d8402e"/><circle cx="15.2" cy="2.6" r="0.8" fill="#3c3cd4"/><circle cx="8.2" cy="35.1" r="1.1" fill="#3c3cd4"/><circle cx="13.7" cy="37.2" r="1.0" fill="#d8402e"/><circle cx="37.8" cy="7.7" r="1.0" fill="#d8402e"/><circle cx="35.3" cy="29.1" r="0.9" fill="#3c3cd4"/><circle cx="14.9" cy="4.8" r="1.1" fill="#d8402e"/><circle cx="2.9" cy="7.4" r="0.8" fill="#d8402e"/><circle cx="12.3" cy="7.3" r="1.0" fill="#d8402e"/><circle cx="21.6" cy="22.7" r="1.0" fill="#3c3cd4"/><circle cx="37.9" cy="3.3" r="0.8" fill="#d8402e"/><circle cx="12.4" cy="30.4" r="1.0" fill="#3c3cd4"/><circle cx="6.4" cy="13.2" r="0.9" fill="#eee46a"/><circle cx="31.7" cy="-1.1" r="1.0" fill="#eee46a"/><circle cx="31.7" cy="38.9" r="1.0" fill="#eee46a"/><circle cx="33.8" cy="18.6" r="1.1" fill="#d8402e"/><circle cx="-0.9" cy="1.0" r="0.9" fill="#3c3cd4"/><circle cx="-0.9" cy="41.0" r="0.9" fill="#3c3cd4"/><circle cx="39.1" cy="1.0" r="0.9" fill="#3c3cd4"/><circle cx="39.1" cy="41.0" r="0.9" fill="#3c3cd4"/><circle cx="2.1" cy="6.5" r="1.0" fill="#d8402e"/><circle cx="8.5" cy="0.8" r="1.1" fill="#d8402e"/><circle cx="8.5" cy="40.8" r="1.1" fill="#d8402e"/><circle cx="20.0" cy="26.1" r="0.8" fill="#eee46a"/><circle cx="0.6" cy="12.2" r="0.9" fill="#d8402e"/><circle cx="40.6" cy="12.2" r="0.9" fill="#d8402e"/><circle cx="24.8" cy="14.8" r="1.0" fill="#eee46a"/><circle cx="12.7" cy="14.3" r="1.0" fill="#3c3cd4"/><circle cx="16.7" cy="21.6" r="0.9" fill="#eee46a"/><circle cx="36.5" cy="9.3" r="1.1" fill="#3c3cd4"/><circle cx="35.3" cy="6.5" r="1.1" fill="#eee46a"/><circle cx="11.5" cy="6.8" r="0.8" fill="#3c3cd4"/><circle cx="23.3" cy="6.3" r="0.9" fill="#3c3cd4"/><circle cx="3.9" cy="27.5" r="1.0" fill="#d8402e"/><circle cx="19.9" cy="36.9" r="0.9" fill="#eee46a"/><circle cx="0.1" cy="19.9" r="1.0" fill="#d8402e"/><circle cx="40.1" cy="19.9" r="1.0" fill="#d8402e"/><circle cx="25.3" cy="18.5" r="0.9" fill="#d8402e"/><circle cx="19.3" cy="25.7" r="0.9" fill="#3c3cd4"/><circle cx="17.7" cy="3.4" r="0.8" fill="#3c3cd4"/><circle cx="33.2" cy="31.9" r="1.1" fill="#d8402e"/><circle cx="20.2" cy="17.0" r="1.1" fill="#eee46a"/><circle cx="19.6" cy="19.3" r="1.1" fill="#d8402e"/><circle cx="20.1" cy="13.7" r="0.8" fill="#d8402e"/><circle cx="33.4" cy="32.1" r="1.1" fill="#3c3cd4"/><circle cx="27.4" cy="31.9" r="1.1" fill="#3c3cd4"/><circle cx="32.1" cy="7.0" r="0.9" fill="#3c3cd4"/><circle cx="9.8" cy="36.8" r="1.0" fill="#d8402e"/><circle cx="13.7" cy="31.7" r="1.1" fill="#eee46a"/><circle cx="37.3" cy="25.8" r="1.0" fill="#d8402e"/><circle cx="4.4" cy="-0.7" r="0.9" fill="#3c3cd4"/><circle cx="4.4" cy="39.3" r="0.9" fill="#3c3cd4"/><circle cx="7.4" cy="27.8" r="1.1" fill="#3c3cd4"/><circle cx="24.9" cy="5.0" r="0.8" fill="#3c3cd4"/><circle cx="34.7" cy="30.7" r="1.1" fill="#3c3cd4"/><circle cx="22.8" cy="37.7" r="0.9" fill="#eee46a"/><circle cx="15.4" cy="14.1" r="0.8" fill="#d8402e"/><circle cx="31.8" cy="9.1" r="1.1" fill="#eee46a"/><circle cx="27.8" cy="20.6" r="0.9" fill="#d8402e"/><circle cx="7.5" cy="25.9" r="1.1" fill="#eee46a"/><circle cx="13.2" cy="37.1" r="0.9" fill="#3c3cd4"/><circle cx="-1.9" cy="24.8" r="1.1" fill="#3c3cd4"/><circle cx="38.1" cy="24.8" r="1.1" fill="#3c3cd4"/><circle cx="13.3" cy="11.2" r="0.9" fill="#eee46a"/><circle cx="1.4" cy="34.5" r="0.9" fill="#eee46a"/><circle cx="41.4" cy="34.5" r="0.9" fill="#eee46a"/><circle cx="29.8" cy="10.0" r="1.0" fill="#d8402e"/><circle cx="9.7" cy="13.1" r="0.8" fill="#d8402e"/><circle cx="14.2" cy="21.1" r="1.0" fill="#3c3cd4"/><circle cx="16.6" cy="16.3" r="0.9" fill="#d8402e"/><circle cx="-1.6" cy="4.9" r="1.0" fill="#eee46a"/><circle cx="38.4" cy="4.9" r="1.0" fill="#eee46a"/><circle cx="30.5" cy="22.2" r="1.1" fill="#eee46a"/><circle cx="36.1" cy="10.0" r="1.1" fill="#eee46a"/><circle cx="21.1" cy="7.6" r="0.8" fill="#3c3cd4"/><circle cx="6.0" cy="22.1" r="1.0" fill="#d8402e"/><circle cx="29.1" cy="12.8" r="1.0" fill="#3c3cd4"/><circle cx="28.2" cy="18.3" r="0.8" fill="#eee46a"/><circle cx="19.0" cy="-1.8" r="0.8" fill="#3c3cd4"/><circle cx="19.0" cy="38.2" r="0.8" fill="#3c3cd4"/><circle cx="2.8" cy="10.8" r="0.9" fill="#eee46a"/><circle cx="5.1" cy="17.0" r="1.0" fill="#eee46a"/><circle cx="16.1" cy="26.0" r="1.0" fill="#eee46a"/><circle cx="1.9" cy="28.4" r="0.8" fill="#d8402e"/><circle cx="41.9" cy="28.4" r="0.8" fill="#d8402e"/><circle cx="18.9" cy="0.7" r="0.9" fill="#d8402e"/><circle cx="18.9" cy="40.7" r="0.9" fill="#d8402e"/><circle cx="18.7" cy="4.2" r="1.1" fill="#3c3cd4"/><circle cx="19.5" cy="23.5" r="1.1" fill="#d8402e"/><circle cx="4.8" cy="12.2" r="1.1" fill="#d8402e"/><circle cx="20.4" cy="16.4" r="1.1" fill="#eee46a"/><circle cx="10.3" cy="31.7" r="0.9" fill="#3c3cd4"/><circle cx="14.6" cy="17.5" r="0.9" fill="#eee46a"/><circle cx="25.0" cy="16.4" r="1.1" fill="#d8402e"/><circle cx="18.2" cy="18.9" r="0.9" fill="#3c3cd4"/><circle cx="15.0" cy="35.9" r="1.1" fill="#3c3cd4"/><circle cx="16.1" cy="26.8" r="0.9" fill="#3c3cd4"/><circle cx="29.0" cy="38.0" r="1.0" fill="#eee46a"/><circle cx="17.4" cy="26.1" r="1.1" fill="#d8402e"/><circle cx="21.6" cy="-0.8" r="1.0" fill="#d8402e"/><circle cx="21.6" cy="39.2" r="1.0" fill="#d8402e"/><circle cx="0.7" cy="16.6" r="0.9" fill="#3c3cd4"/><circle cx="40.7" cy="16.6" r="0.9" fill="#3c3cd4"/><circle cx="24.5" cy="8.8" r="1.1" fill="#eee46a"/><circle cx="7.9" cy="36.5" r="1.0" fill="#d8402e"/><circle cx="32.9" cy="33.5" r="1.0" fill="#eee46a"/><circle cx="28.5" cy="30.5" r="1.0" fill="#3c3cd4"/><circle cx="10.1" cy="28.2" r="1.0" fill="#eee46a"/><circle cx="-0.5" cy="5.5" r="0.9" fill="#3c3cd4"/><circle cx="39.5" cy="5.5" r="0.9" fill="#3c3cd4"/><circle cx="29.1" cy="-2.0" r="1.0" fill="#d8402e"/><circle cx="29.1" cy="38.0" r="1.0" fill="#d8402e"/><circle cx="21.1" cy="19.8" r="1.0" fill="#d8402e"/><circle cx="35.7" cy="26.5" r="1.1" fill="#d8402e"/><circle cx="16.8" cy="5.8" r="0.9" fill="#eee46a"/><circle cx="21.2" cy="-0.4" r="1.1" fill="#eee46a"/><circle cx="21.2" cy="39.6" r="1.1" fill="#eee46a"/><circle cx="14.1" cy="30.4" r="0.9" fill="#d8402e"/><circle cx="27.7" cy="27.6" r="0.9" fill="#3c3cd4"/><circle cx="10.9" cy="14.3" r="0.8" fill="#eee46a"/><circle cx="15.0" cy="26.3" r="0.9" fill="#d8402e"/><circle cx="34.9" cy="37.3" r="0.8" fill="#d8402e"/><circle cx="4.7" cy="3.4" r="1.0" fill="#3c3cd4"/><circle cx="10.6" cy="19.6" r="0.8" fill="#eee46a"/><circle cx="32.8" cy="34.4" r="1.0" fill="#d8402e"/><circle cx="28.0" cy="13.5" r="0.8" fill="#3c3cd4"/><circle cx="19.0" cy="12.5" r="1.1" fill="#eee46a"/><circle cx="22.8" cy="24.4" r="0.8" fill="#3c3cd4"/><circle cx="8.9" cy="24.8" r="1.1" fill="#d8402e"/><circle cx="13.6" cy="17.6" r="1.1" fill="#eee46a"/><circle cx="36.6" cy="27.1" r="0.9" fill="#d8402e"/><circle cx="28.3" cy="8.6" r="1.1" fill="#3c3cd4"/><circle cx="9.1" cy="14.6" r="1.0" fill="#d8402e"/><circle cx="1.9" cy="27.8" r="1.1" fill="#d8402e"/><circle cx="41.9" cy="27.8" r="1.1" fill="#d8402e"/><circle cx="21.7" cy="23.3" r="0.8" fill="#d8402e"/><circle cx="14.1" cy="-0.6" r="1.1" fill="#eee46a"/><circle cx="14.1" cy="39.4" r="1.1" fill="#eee46a"/><circle cx="2.5" cy="4.1" r="1.0" fill="#d8402e"/><circle cx="7.1" cy="10.9" r="1.0" fill="#eee46a"/><circle cx="12.9" cy="18.7" r="1.0" fill="#d8402e"/><circle cx="14.2" cy="14.4" r="0.9" fill="#d8402e"/><circle cx="10.4" cy="0.6" r="1.0" fill="#d8402e"/><circle cx="10.4" cy="40.6" r="1.0" fill="#d8402e"/><circle cx="10.7" cy="4.5" r="0.9" fill="#3c3cd4"/><circle cx="20.5" cy="12.5" r="1.1" fill="#3c3cd4"/><circle cx="24.9" cy="26.4" r="1.0" fill="#eee46a"/><circle cx="16.5" cy="15.6" r="0.9" fill="#eee46a"/><circle cx="21.2" cy="21.3" r="1.1" fill="#3c3cd4"/><circle cx="9.0" cy="0.9" r="0.8" fill="#d8402e"/><circle cx="9.0" cy="40.9" r="0.8" fill="#d8402e"/><circle cx="31.9" cy="24.8" r="0.8" fill="#d8402e"/><circle cx="34.7" cy="33.4" r="1.0" fill="#eee46a"/><circle cx="29.8" cy="18.2" r="1.0" fill="#eee46a"/><circle cx="35.2" cy="-0.3" r="1.1" fill="#3c3cd4"/><circle cx="35.2" cy="39.7" r="1.1" fill="#3c3cd4"/><circle cx="3.0" cy="9.9" r="1.0" fill="#3c3cd4"/><circle cx="20.6" cy="12.4" r="1.0" fill="#3c3cd4"/><circle cx="-0.4" cy="3.0" r="0.8" fill="#3c3cd4"/><circle cx="39.6" cy="3.0" r="0.8" fill="#3c3cd4"/><circle cx="5.9" cy="15.6" r="0.8" fill="#eee46a"/><circle cx="22.5" cy="37.6" r="1.1" fill="#eee46a"/><circle cx="23.7" cy="23.3" r="0.9" fill="#d8402e"/><circle cx="36.0" cy="27.0" r="0.9" fill="#d8402e"/><circle cx="21.7" cy="13.5" r="1.0" fill="#eee46a"/><circle cx="0.7" cy="8.8" r="0.8" fill="#eee46a"/><circle cx="40.7" cy="8.8" r="0.8" fill="#eee46a"/><circle cx="2.9" cy="30.5" r="1.1" fill="#d8402e"/><circle cx="22.4" cy="4.1" r="0.9" fill="#eee46a"/><circle cx="32.6" cy="29.0" r="0.8" fill="#3c3cd4"/><circle cx="1.4" cy="31.9" r="0.8" fill="#d8402e"/><circle cx="41.4" cy="31.9" r="0.8" fill="#d8402e"/><circle cx="1.2" cy="6.5" r="1.1" fill="#eee46a"/><circle cx="41.2" cy="6.5" r="1.1" fill="#eee46a"/><circle cx="12.9" cy="10.4" r="0.8" fill="#3c3cd4"/><circle cx="25.4" cy="24.6" r="0.8" fill="#3c3cd4"/><circle cx="22.5" cy="15.3" r="0.9" fill="#3c3cd4"/><circle cx="28.6" cy="7.4" r="1.1" fill="#eee46a"/><circle cx="9.6" cy="11.2" r="1.0" fill="#3c3cd4"/><circle cx="2.6" cy="7.5" r="0.9" fill="#d8402e"/><circle cx="33.8" cy="28.0" r="1.0" fill="#3c3cd4"/><circle cx="25.1" cy="15.3" r="0.9" fill="#3c3cd4"/><circle cx="2.4" cy="19.7" r="1.0" fill="#eee46a"/><circle cx="1.9" cy="1.1" r="0.9" fill="#3c3cd4"/><circle cx="1.9" cy="41.1" r="0.9" fill="#3c3cd4"/><circle cx="41.9" cy="1.1" r="0.9" fill="#3c3cd4"/><circle cx="41.9" cy="41.1" r="0.9" fill="#3c3cd4"/><circle cx="13.2" cy="5.9" r="1.1" fill="#eee46a"/><circle cx="7.2" cy="20.0" r="1.1" fill="#eee46a"/><circle cx="22.6" cy="9.6" r="1.0" fill="#d8402e"/><circle cx="3.1" cy="34.6" r="0.8" fill="#d8402e"/><circle cx="18.7" cy="33.8" r="1.0" fill="#eee46a"/><circle cx="30.4" cy="28.9" r="1.1" fill="#d8402e"/><circle cx="5.9" cy="6.5" r="0.8" fill="#d8402e"/><circle cx="35.1" cy="15.2" r="0.8" fill="#d8402e"/><circle cx="33.9" cy="24.1" r="0.8" fill="#3c3cd4"/><circle cx="4.5" cy="11.5" r="0.8" fill="#d8402e"/><circle cx="8.0" cy="25.6" r="0.8" fill="#d8402e"/><circle cx="21.4" cy="15.0" r="1.0" fill="#d8402e"/><circle cx="20.3" cy="15.5" r="0.8" fill="#eee46a"/><circle cx="24.6" cy="7.7" r="0.8" fill="#d8402e"/><circle cx="35.5" cy="23.5" r="1.0" fill="#eee46a"/><circle cx="37.6" cy="5.3" r="1.0" fill="#eee46a"/><circle cx="14.9" cy="28.3" r="0.8" fill="#3c3cd4"/><circle cx="11.4" cy="11.7" r="1.1" fill="#3c3cd4"/><circle cx="28.0" cy="37.0" r="0.9" fill="#d8402e"/><circle cx="34.1" cy="30.6" r="1.1" fill="#d8402e"/><circle cx="29.6" cy="34.6" r="1.0" fill="#eee46a"/><circle cx="-1.7" cy="35.9" r="1.1" fill="#eee46a"/><circle cx="38.3" cy="35.9" r="1.1" fill="#eee46a"/><circle cx="-0.0" cy="33.6" r="1.1" fill="#eee46a"/><circle cx="40.0" cy="33.6" r="1.1" fill="#eee46a"/><circle cx="5.7" cy="16.1" r="0.8" fill="#eee46a"/><circle cx="31.2" cy="2.5" r="0.9" fill="#eee46a"/><circle cx="12.9" cy="24.3" r="0.9" fill="#d8402e"/><circle cx="34.3" cy="-0.5" r="0.9" fill="#d8402e"/><circle cx="34.3" cy="39.5" r="0.9" fill="#d8402e"/><circle cx="27.8" cy="7.6" r="0.8" fill="#3c3cd4"/><circle cx="22.3" cy="13.6" r="0.8" fill="#d8402e"/><circle cx="0.1" cy="13.1" r="1.1" fill="#d8402e"/><circle cx="40.1" cy="13.1" r="1.1" fill="#d8402e"/><circle cx="25.5" cy="2.6" r="0.8" fill="#3c3cd4"/><circle cx="19.3" cy="28.9" r="1.1" fill="#3c3cd4"/><circle cx="16.8" cy="12.7" r="0.9" fill="#eee46a"/><circle cx="29.7" cy="18.5" r="0.8" fill="#eee46a"/><circle cx="31.3" cy="-1.3" r="1.0" fill="#d8402e"/><circle cx="31.3" cy="38.7" r="1.0" fill="#d8402e"/><circle cx="6.5" cy="1.4" r="0.8" fill="#eee46a"/><circle cx="6.5" cy="41.4" r="0.8" fill="#eee46a"/><circle cx="29.2" cy="22.9" r="1.1" fill="#eee46a"/><circle cx="2.3" cy="3.9" r="0.9" fill="#d8402e"/><circle cx="33.0" cy="27.4" r="1.1" fill="#eee46a"/><circle cx="14.9" cy="4.5" r="0.8" fill="#eee46a"/><circle cx="9.2" cy="1.2" r="0.8" fill="#d8402e"/><circle cx="9.2" cy="41.2" r="0.8" fill="#d8402e"/><circle cx="21.3" cy="5.1" r="1.1" fill="#eee46a"/><circle cx="13.8" cy="4.8" r="1.0" fill="#eee46a"/><circle cx="35.4" cy="22.2" r="1.1" fill="#eee46a"/><circle cx="27.1" cy="-1.0" r="1.1" fill="#d8402e"/><circle cx="27.1" cy="39.0" r="1.1" fill="#d8402e"/><circle cx="25.3" cy="18.7" r="0.9" fill="#d8402e"/><circle cx="10.5" cy="24.1" r="1.0" fill="#eee46a"/><circle cx="2.4" cy="5.3" r="1.0" fill="#eee46a"/><circle cx="-0.4" cy="31.7" r="0.9" fill="#d8402e"/><circle cx="39.6" cy="31.7" r="0.9" fill="#d8402e"/><circle cx="20.2" cy="32.2" r="1.1" fill="#eee46a"/><circle cx="19.4" cy="15.9" r="0.9" fill="#eee46a"/><circle cx="-0.0" cy="1.9" r="0.8" fill="#eee46a"/><circle cx="-0.0" cy="41.9" r="0.8" fill="#eee46a"/><circle cx="40.0" cy="1.9" r="0.8" fill="#eee46a"/><circle cx="40.0" cy="41.9" r="0.8" fill="#eee46a"/><circle cx="27.1" cy="6.0" r="0.9" fill="#d8402e"/><circle cx="24.1" cy="30.5" r="0.9" fill="#eee46a"/><circle cx="14.7" cy="35.5" r="0.8" fill="#d8402e"/><circle cx="35.4" cy="19.3" r="0.8" fill="#d8402e"/><circle cx="35.6" cy="30.0" r="1.0" fill="#d8402e"/><circle cx="8.6" cy="17.8" r="0.8" fill="#eee46a"/><circle cx="37.4" cy="13.4" r="1.1" fill="#d8402e"/><circle cx="4.4" cy="1.5" r="0.9" fill="#eee46a"/><circle cx="4.4" cy="41.5" r="0.9" fill="#eee46a"/><circle cx="36.0" cy="31.6" r="0.8" fill="#d8402e"/><circle cx="24.1" cy="18.8" r="1.1" fill="#d8402e"/><circle cx="8.3" cy="25.7" r="1.1" fill="#d8402e"/><circle cx="37.9" cy="24.7" r="1.0" fill="#d8402e"/><circle cx="36.1" cy="31.8" r="1.0" fill="#d8402e"/><circle cx="5.6" cy="21.9" r="1.1" fill="#3c3cd4"/><circle cx="10.0" cy="22.1" r="0.8" fill="#d8402e"/><circle cx="29.7" cy="30.4" r="0.9" fill="#d8402e"/><circle cx="27.9" cy="29.1" r="0.8" fill="#eee46a"/><circle cx="3.8" cy="6.8" r="0.9" fill="#3c3cd4"/><circle cx="25.8" cy="14.6" r="0.8" fill="#eee46a"/><circle cx="-1.0" cy="24.2" r="1.0" fill="#d8402e"/><circle cx="39.0" cy="24.2" r="1.0" fill="#d8402e"/><circle cx="23.9" cy="24.5" r="1.0" fill="#3c3cd4"/><circle cx="35.1" cy="-1.2" r="1.0" fill="#eee46a"/><circle cx="35.1" cy="38.8" r="1.0" fill="#eee46a"/><circle cx="15.0" cy="16.4" r="1.0" fill="#eee46a"/><circle cx="14.1" cy="14.1" r="1.1" fill="#3c3cd4"/><circle cx="27.0" cy="33.7" r="1.0" fill="#eee46a"/><circle cx="10.0" cy="12.6" r="1.1" fill="#d8402e"/><circle cx="36.9" cy="12.1" r="0.8" fill="#eee46a"/><circle cx="5.7" cy="25.5" r="0.8" fill="#3c3cd4"/><circle cx="10.2" cy="30.4" r="1.1" fill="#d8402e"/><circle cx="14.1" cy="18.9" r="0.9" fill="#d8402e"/><circle cx="17.0" cy="11.1" r="0.8" fill="#3c3cd4"/><circle cx="25.6" cy="32.1" r="0.8" fill="#d8402e"/><circle cx="4.8" cy="3.1" r="1.0" fill="#3c3cd4"/><circle cx="0.6" cy="18.1" r="0.9" fill="#eee46a"/><circle cx="40.6" cy="18.1" r="0.9" fill="#eee46a"/><circle cx="1.4" cy="16.8" r="1.1" fill="#d8402e"/><circle cx="41.4" cy="16.8" r="1.1" fill="#d8402e"/><circle cx="14.4" cy="36.9" r="1.0" fill="#3c3cd4"/><circle cx="5.0" cy="32.3" r="1.0" fill="#d8402e"/><circle cx="3.9" cy="3.7" r="0.8" fill="#eee46a"/><circle cx="-0.3" cy="23.1" r="1.1" fill="#3c3cd4"/><circle cx="39.7" cy="23.1" r="1.1" fill="#3c3cd4"/><circle cx="30.3" cy="25.8" r="1.1" fill="#eee46a"/><circle cx="26.8" cy="6.3" r="0.9" fill="#eee46a"/><circle cx="20.6" cy="28.5" r="1.0" fill="#eee46a"/><circle cx="31.6" cy="33.0" r="0.8" fill="#d8402e"/><circle cx="1.9" cy="6.4" r="0.9" fill="#3c3cd4"/><circle cx="41.9" cy="6.4" r="0.9" fill="#3c3cd4"/><circle cx="17.6" cy="18.6" r="0.9" fill="#eee46a"/><circle cx="31.1" cy="13.3" r="1.1" fill="#3c3cd4"/><circle cx="0.0" cy="21.9" r="1.1" fill="#d8402e"/><circle cx="40.0" cy="21.9" r="1.1" fill="#d8402e"/><circle cx="2.8" cy="10.7" r="1.0" fill="#3c3cd4"/><circle cx="26.7" cy="16.5" r="0.8" fill="#eee46a"/><circle cx="18.5" cy="10.3" r="0.8" fill="#eee46a"/><circle cx="5.5" cy="7.9" r="1.0" fill="#eee46a"/><circle cx="0.1" cy="-0.5" r="0.9" fill="#3c3cd4"/><circle cx="0.1" cy="39.5" r="0.9" fill="#3c3cd4"/><circle cx="40.1" cy="-0.5" r="0.9" fill="#3c3cd4"/><circle cx="40.1" cy="39.5" r="0.9" fill="#3c3cd4"/><circle cx="6.4" cy="33.0" r="0.8" fill="#3c3cd4"/><circle cx="30.2" cy="32.7" r="0.8" fill="#3c3cd4"/><circle cx="4.8" cy="6.6" r="1.1" fill="#d8402e"/><circle cx="36.4" cy="19.0" r="0.9" fill="#d8402e"/><circle cx="9.6" cy="25.9" r="1.1" fill="#3c3cd4"/><circle cx="17.5" cy="18.3" r="0.9" fill="#eee46a"/><circle cx="18.2" cy="27.4" r="0.9" fill="#3c3cd4"/><circle cx="22.7" cy="5.8" r="0.9" fill="#d8402e"/><circle cx="14.4" cy="1.3" r="0.9" fill="#d8402e"/><circle cx="14.4" cy="41.3" r="0.9" fill="#d8402e"/><circle cx="37.7" cy="33.5" r="0.9" fill="#d8402e"/><circle cx="14.7" cy="12.4" r="1.0" fill="#d8402e"/><circle cx="33.6" cy="15.3" r="0.8" fill="#d8402e"/><circle cx="0.6" cy="30.6" r="1.0" fill="#d8402e"/><circle cx="40.6" cy="30.6" r="1.0" fill="#d8402e"/><circle cx="31.6" cy="3.3" r="0.9" fill="#d8402e"/><circle cx="30.8" cy="29.5" r="0.9" fill="#d8402e"/><circle cx="14.2" cy="18.9" r="0.9" fill="#3c3cd4"/><circle cx="32.4" cy="36.8" r="1.1" fill="#eee46a"/><circle cx="37.5" cy="6.8" r="0.8" fill="#3c3cd4"/><circle cx="32.2" cy="4.8" r="0.9" fill="#d8402e"/><circle cx="33.6" cy="27.2" r="1.1" fill="#d8402e"/><circle cx="34.6" cy="20.4" r="0.9" fill="#d8402e"/><circle cx="11.7" cy="16.8" r="1.0" fill="#3c3cd4"/><circle cx="32.8" cy="2.9" r="1.0" fill="#d8402e"/><circle cx="13.6" cy="9.1" r="0.8" fill="#d8402e"/><circle cx="16.5" cy="21.9" r="1.0" fill="#eee46a"/><circle cx="11.6" cy="0.7" r="0.9" fill="#eee46a"/><circle cx="11.6" cy="40.7" r="0.9" fill="#eee46a"/><circle cx="19.7" cy="15.1" r="0.8" fill="#d8402e"/><circle cx="11.9" cy="11.9" r="0.8" fill="#d8402e"/><circle cx="19.2" cy="0.8" r="0.9" fill="#3c3cd4"/><circle cx="19.2" cy="40.8" r="0.9" fill="#3c3cd4"/><circle cx="17.7" cy="21.0" r="0.8" fill="#d8402e"/><circle cx="31.4" cy="22.3" r="0.9" fill="#eee46a"/><circle cx="30.0" cy="20.1" r="1.1" fill="#3c3cd4"/><circle cx="35.8" cy="29.0" r="0.9" fill="#eee46a"/><circle cx="21.3" cy="23.2" r="1.1" fill="#eee46a"/><circle cx="34.3" cy="2.1" r="1.0" fill="#3c3cd4"/><circle cx="23.9" cy="36.3" r="0.9" fill="#d8402e"/><circle cx="15.0" cy="37.9" r="1.0" fill="#d8402e"/><circle cx="5.8" cy="30.2" r="1.0" fill="#eee46a"/><circle cx="12.3" cy="35.3" r="0.8" fill="#d8402e"/><circle cx="29.3" cy="35.2" r="0.9" fill="#3c3cd4"/><circle cx="3.2" cy="28.4" r="0.8" fill="#3c3cd4"/><circle cx="37.4" cy="21.1" r="0.9" fill="#d8402e"/><circle cx="13.5" cy="4.2" r="1.1" fill="#3c3cd4"/><circle cx="5.0" cy="17.8" r="1.0" fill="#d8402e"/><circle cx="4.4" cy="13.3" r="0.9" fill="#eee46a"/><circle cx="17.4" cy="23.8" r="1.1" fill="#3c3cd4"/><circle cx="36.3" cy="33.2" r="0.8" fill="#d8402e"/><circle cx="18.4" cy="25.7" r="0.9" fill="#eee46a"/><circle cx="-0.3" cy="12.5" r="0.8" fill="#d8402e"/><circle cx="39.7" cy="12.5" r="0.8" fill="#d8402e"/><circle cx="8.4" cy="29.2" r="0.8" fill="#3c3cd4"/><circle cx="9.5" cy="9.7" r="1.1" fill="#3c3cd4"/><circle cx="10.5" cy="4.1" r="1.1" fill="#3c3cd4"/><circle cx="28.7" cy="18.9" r="1.1" fill="#3c3cd4"/><circle cx="20.4" cy="10.9" r="1.0" fill="#eee46a"/><circle cx="13.0" cy="25.6" r="1.1" fill="#d8402e"/><circle cx="8.5" cy="9.1" r="1.1" fill="#3c3cd4"/><circle cx="37.0" cy="33.6" r="1.1" fill="#3c3cd4"/><circle cx="22.7" cy="3.0" r="1.1" fill="#3c3cd4"/><circle cx="33.5" cy="1.7" r="1.0" fill="#d8402e"/><circle cx="33.5" cy="41.7" r="1.0" fill="#d8402e"/><circle cx="19.5" cy="35.7" r="0.9" fill="#3c3cd4"/><circle cx="27.0" cy="26.6" r="0.9" fill="#eee46a"/><circle cx="25.6" cy="2.7" r="1.0" fill="#3c3cd4"/><circle cx="32.1" cy="18.5" r="0.9" fill="#d8402e"/><circle cx="27.2" cy="21.9" r="0.8" fill="#d8402e"/><circle cx="15.9" cy="9.8" r="0.8" fill="#d8402e"/><circle cx="16.6" cy="27.8" r="1.0" fill="#3c3cd4"/><circle cx="0.8" cy="34.7" r="1.0" fill="#eee46a"/><circle cx="40.8" cy="34.7" r="1.0" fill="#eee46a"/><circle cx="24.5" cy="14.2" r="0.8" fill="#d8402e"/><circle cx="26.6" cy="2.2" r="1.1" fill="#eee46a"/><circle cx="26.7" cy="24.2" r="1.1" fill="#3c3cd4"/><circle cx="32.5" cy="-0.4" r="0.8" fill="#eee46a"/><circle cx="32.5" cy="39.6" r="0.8" fill="#eee46a"/><circle cx="24.6" cy="25.5" r="1.0" fill="#3c3cd4"/><circle cx="14.5" cy="0.2" r="1.0" fill="#3c3cd4"/><circle cx="14.5" cy="40.2" r="1.0" fill="#3c3cd4"/><circle cx="-0.6" cy="23.7" r="1.1" fill="#3c3cd4"/><circle cx="39.4" cy="23.7" r="1.1" fill="#3c3cd4"/><circle cx="-0.4" cy="18.5" r="0.9" fill="#3c3cd4"/><circle cx="39.6" cy="18.5" r="0.9" fill="#3c3cd4"/><circle cx="0.4" cy="13.0" r="1.1" fill="#d8402e"/><circle cx="40.4" cy="13.0" r="1.1" fill="#d8402e"/><circle cx="15.8" cy="11.0" r="0.8" fill="#eee46a"/><circle cx="12.2" cy="15.8" r="1.0" fill="#d8402e"/><circle cx="16.9" cy="32.1" r="1.1" fill="#d8402e"/><circle cx="7.8" cy="21.2" r="0.8" fill="#d8402e"/><circle cx="12.1" cy="35.8" r="0.9" fill="#d8402e"/><circle cx="21.0" cy="10.6" r="0.8" fill="#eee46a"/><circle cx="14.0" cy="11.4" r="1.1" fill="#3c3cd4"/><circle cx="28.0" cy="23.8" r="1.0" fill="#3c3cd4"/><circle cx="2.2" cy="5.2" r="1.1" fill="#3c3cd4"/><circle cx="-0.4" cy="31.0" r="1.0" fill="#d8402e"/><circle cx="39.6" cy="31.0" r="1.0" fill="#d8402e"/><circle cx="25.0" cy="24.2" r="1.1" fill="#d8402e"/><circle cx="20.4" cy="10.8" r="0.9" fill="#3c3cd4"/><circle cx="2.8" cy="26.8" r="0.8" fill="#d8402e"/><circle cx="12.1" cy="24.3" r="1.0" fill="#d8402e"/><circle cx="36.2" cy="-0.4" r="1.1" fill="#3c3cd4"/><circle cx="36.2" cy="39.6" r="1.1" fill="#3c3cd4"/><circle cx="10.1" cy="33.0" r="1.0" fill="#d8402e"/><circle cx="3.0" cy="4.0" r="0.8" fill="#3c3cd4"/><circle cx="28.7" cy="21.1" r="1.1" fill="#d8402e"/><circle cx="2.4" cy="35.5" r="0.9" fill="#3c3cd4"/><circle cx="17.9" cy="1.1" r="0.8" fill="#eee46a"/><circle cx="17.9" cy="41.1" r="0.8" fill="#eee46a"/><circle cx="21.0" cy="37.0" r="0.8" fill="#eee46a"/><circle cx="28.8" cy="28.1" r="1.1" fill="#d8402e"/><circle cx="23.2" cy="16.5" r="0.9" fill="#eee46a"/><circle cx="11.5" cy="35.6" r="1.1" fill="#d8402e"/><circle cx="14.7" cy="7.6" r="1.1" fill="#d8402e"/><circle cx="30.1" cy="-0.7" r="0.8" fill="#eee46a"/><circle cx="30.1" cy="39.3" r="0.8" fill="#eee46a"/><circle cx="6.5" cy="2.0" r="1.0" fill="#eee46a"/><circle cx="6.5" cy="42.0" r="1.0" fill="#eee46a"/><circle cx="-1.8" cy="11.8" r="0.8" fill="#d8402e"/><circle cx="38.2" cy="11.8" r="0.8" fill="#d8402e"/><circle cx="5.9" cy="1.1" r="0.9" fill="#eee46a"/><circle cx="5.9" cy="41.1" r="0.9" fill="#eee46a"/><circle cx="14.7" cy="-2.0" r="1.1" fill="#d8402e"/><circle cx="14.7" cy="38.0" r="1.1" fill="#d8402e"/><circle cx="21.3" cy="4.1" r="1.0" fill="#d8402e"/><circle cx="35.0" cy="2.0" r="0.8" fill="#3c3cd4"/><circle cx="27.5" cy="33.3" r="0.8" fill="#3c3cd4"/><circle cx="6.2" cy="-1.3" r="1.1" fill="#3c3cd4"/><circle cx="6.2" cy="38.7" r="1.1" fill="#3c3cd4"/><circle cx="21.6" cy="2.1" r="1.1" fill="#eee46a"/><circle cx="2.7" cy="11.8" r="1.1" fill="#d8402e"/><circle cx="14.1" cy="3.3" r="0.8" fill="#d8402e"/><circle cx="17.3" cy="24.6" r="0.8" fill="#eee46a"/><circle cx="21.4" cy="2.2" r="1.1" fill="#eee46a"/><circle cx="10.5" cy="32.9" r="0.9" fill="#d8402e"/><circle cx="31.7" cy="0.1" r="1.0" fill="#eee46a"/><circle cx="31.7" cy="40.1" r="1.0" fill="#eee46a"/><circle cx="28.6" cy="37.9" r="0.8" fill="#eee46a"/><circle cx="8.0" cy="19.3" r="1.0" fill="#d8402e"/><circle cx="3.6" cy="27.8" r="0.8" fill="#eee46a"/><circle cx="4.8" cy="37.4" r="1.1" fill="#3c3cd4"/><circle cx="15.6" cy="-0.6" r="1.0" fill="#d8402e"/><circle cx="15.6" cy="39.4" r="1.0" fill="#d8402e"/><circle cx="37.7" cy="8.3" r="0.8" fill="#d8402e"/><circle cx="3.3" cy="32.1" r="0.9" fill="#eee46a"/><circle cx="4.6" cy="25.7" r="0.8" fill="#d8402e"/><circle cx="23.8" cy="25.7" r="1.1" fill="#3c3cd4"/><circle cx="5.5" cy="12.2" r="0.9" fill="#d8402e"/><circle cx="1.1" cy="34.7" r="1.1" fill="#eee46a"/><circle cx="41.1" cy="34.7" r="1.1" fill="#eee46a"/><circle cx="19.5" cy="36.5" r="1.1" fill="#3c3cd4"/><circle cx="32.2" cy="8.6" r="0.8" fill="#d8402e"/><circle cx="30.6" cy="18.9" r="0.9" fill="#3c3cd4"/><circle cx="17.2" cy="34.7" r="1.1" fill="#3c3cd4"/><circle cx="35.3" cy="36.9" r="1.0" fill="#d8402e"/><circle cx="2.5" cy="27.1" r="1.0" fill="#3c3cd4"/><circle cx="5.8" cy="22.8" r="0.9" fill="#d8402e"/><circle cx="3.2" cy="16.7" r="1.0" fill="#3c3cd4"/><circle cx="34.1" cy="18.3" r="0.8" fill="#eee46a"/><circle cx="31.6" cy="22.8" r="0.8" fill="#eee46a"/><circle cx="18.3" cy="2.5" r="0.8" fill="#d8402e"/><circle cx="17.0" cy="5.5" r="1.0" fill="#3c3cd4"/><circle cx="34.7" cy="22.1" r="0.9" fill="#d8402e"/><circle cx="33.6" cy="23.4" r="1.0" fill="#eee46a"/><circle cx="1.9" cy="8.0" r="1.1" fill="#eee46a"/><circle cx="41.9" cy="8.0" r="1.1" fill="#eee46a"/><circle cx="37.7" cy="23.6" r="0.8" fill="#d8402e"/><circle cx="22.4" cy="16.4" r="0.8" fill="#3c3cd4"/><circle cx="8.2" cy="0.6" r="1.1" fill="#d8402e"/><circle cx="8.2" cy="40.6" r="1.1" fill="#d8402e"/><circle cx="34.8" cy="6.2" r="1.0" fill="#d8402e"/><circle cx="9.9" cy="24.6" r="1.0" fill="#3c3cd4"/><circle cx="11.2" cy="24.3" r="1.1" fill="#d8402e"/><circle cx="10.3" cy="34.8" r="1.1" fill="#eee46a"/><circle cx="13.8" cy="-1.8" r="0.9" fill="#eee46a"/><circle cx="13.8" cy="38.2" r="0.9" fill="#eee46a"/><circle cx="25.9" cy="12.4" r="0.8" fill="#d8402e"/><circle cx="24.4" cy="9.7" r="1.1" fill="#d8402e"/><circle cx="5.7" cy="30.2" r="0.9" fill="#d8402e"/><circle cx="37.3" cy="33.1" r="1.1" fill="#3c3cd4"/><circle cx="24.1" cy="37.4" r="1.0" fill="#eee46a"/><circle cx="13.0" cy="15.2" r="0.8" fill="#eee46a"/><circle cx="25.7" cy="34.6" r="0.8" fill="#3c3cd4"/><circle cx="1.1" cy="14.7" r="1.1" fill="#eee46a"/><circle cx="41.1" cy="14.7" r="1.1" fill="#eee46a"/><circle cx="21.9" cy="20.7" r="1.0" fill="#eee46a"/><circle cx="27.1" cy="22.3" r="0.8" fill="#eee46a"/><circle cx="4.9" cy="17.6" r="1.1" fill="#3c3cd4"/><circle cx="11.7" cy="23.0" r="0.9" fill="#eee46a"/><circle cx="7.1" cy="31.6" r="0.8" fill="#d8402e"/><circle cx="11.1" cy="8.1" r="0.8" fill="#d8402e"/><circle cx="20.9" cy="6.9" r="1.0" fill="#eee46a"/><circle cx="25.0" cy="19.2" r="0.9" fill="#eee46a"/><circle cx="18.6" cy="27.5" r="1.0" fill="#d8402e"/><circle cx="23.4" cy="-1.0" r="1.0" fill="#eee46a"/><circle cx="23.4" cy="39.0" r="1.0" fill="#eee46a"/><circle cx="30.7" cy="11.5" r="0.9" fill="#eee46a"/><circle cx="29.4" cy="28.8" r="1.1" fill="#d8402e"/><circle cx="-0.7" cy="19.8" r="1.0" fill="#3c3cd4"/><circle cx="39.3" cy="19.8" r="1.0" fill="#3c3cd4"/><circle cx="15.4" cy="3.5" r="1.0" fill="#d8402e"/><circle cx="28.7" cy="24.6" r="0.9" fill="#3c3cd4"/><circle cx="29.7" cy="24.2" r="1.0" fill="#eee46a"/><circle cx="26.7" cy="22.4" r="1.0" fill="#d8402e"/><circle cx="28.1" cy="17.1" r="0.9" fill="#3c3cd4"/><circle cx="6.7" cy="20.5" r="0.8" fill="#d8402e"/><circle cx="35.5" cy="7.1" r="0.8" fill="#3c3cd4"/><circle cx="20.7" cy="-0.1" r="1.1" fill="#d8402e"/><circle cx="20.7" cy="39.9" r="1.1" fill="#d8402e"/><circle cx="0.2" cy="-0.9" r="0.9" fill="#3c3cd4"/><circle cx="0.2" cy="39.1" r="0.9" fill="#3c3cd4"/><circle cx="40.2" cy="-0.9" r="0.9" fill="#3c3cd4"/><circle cx="40.2" cy="39.1" r="0.9" fill="#3c3cd4"/><circle cx="25.5" cy="18.4" r="0.9" fill="#d8402e"/><circle cx="17.6" cy="34.8" r="1.0" fill="#d8402e"/><circle cx="18.9" cy="22.1" r="1.0" fill="#3c3cd4"/><circle cx="12.9" cy="-1.8" r="0.9" fill="#eee46a"/><circle cx="12.9" cy="38.2" r="0.9" fill="#eee46a"/><circle cx="21.9" cy="34.7" r="1.0" fill="#d8402e"/><circle cx="19.5" cy="11.5" r="0.8" fill="#d8402e"/><circle cx="17.5" cy="16.9" r="0.9" fill="#eee46a"/><circle cx="24.8" cy="18.9" r="1.1" fill="#3c3cd4"/><circle cx="9.5" cy="-0.9" r="0.9" fill="#eee46a"/><circle cx="9.5" cy="39.1" r="0.9" fill="#eee46a"/><circle cx="10.2" cy="28.5" r="1.0" fill="#eee46a"/><circle cx="10.2" cy="34.4" r="1.1" fill="#d8402e"/><circle cx="17.5" cy="16.0" r="1.0" fill="#eee46a"/><circle cx="21.9" cy="22.4" r="1.0" fill="#3c3cd4"/><circle cx="3.7" cy="-0.5" r="0.8" fill="#d8402e"/><circle cx="3.7" cy="39.5" r="0.8" fill="#d8402e"/><circle cx="32.7" cy="11.0" r="0.8" fill="#d8402e"/><circle cx="19.8" cy="33.7" r="0.8" fill="#d8402e"/><circle cx="0.5" cy="2.1" r="0.9" fill="#d8402e"/><circle cx="40.5" cy="2.1" r="0.9" fill="#d8402e"/><circle cx="-1.3" cy="25.9" r="1.0" fill="#3c3cd4"/><circle cx="38.7" cy="25.9" r="1.0" fill="#3c3cd4"/><circle cx="36.4" cy="26.9" r="0.9" fill="#d8402e"/><circle cx="19.2" cy="4.4" r="0.9" fill="#3c3cd4"/><circle cx="8.0" cy="19.7" r="0.9" fill="#3c3cd4"/><circle cx="23.5" cy="3.7" r="0.8" fill="#d8402e"/><circle cx="20.2" cy="27.5" r="1.0" fill="#d8402e"/><circle cx="23.4" cy="30.0" r="0.9" fill="#3c3cd4"/><circle cx="-0.1" cy="18.2" r="0.8" fill="#eee46a"/><circle cx="39.9" cy="18.2" r="0.8" fill="#eee46a"/><circle cx="3.4" cy="25.8" r="0.8" fill="#d8402e"/><circle cx="3.4" cy="21.7" r="0.9" fill="#d8402e"/><circle cx="30.7" cy="17.9" r="1.0" fill="#d8402e"/><circle cx="-0.2" cy="24.9" r="1.0" fill="#eee46a"/><circle cx="39.8" cy="24.9" r="1.0" fill="#eee46a"/><circle cx="28.1" cy="33.5" r="0.8" fill="#3c3cd4"/><circle cx="31.2" cy="4.1" r="1.0" fill="#d8402e"/><circle cx="7.4" cy="22.5" r="1.1" fill="#d8402e"/><circle cx="17.3" cy="32.6" r="0.9" fill="#3c3cd4"/><circle cx="30.7" cy="19.7" r="0.8" fill="#eee46a"/><circle cx="26.3" cy="36.9" r="0.9" fill="#eee46a"/><circle cx="21.0" cy="14.3" r="1.1" fill="#eee46a"/><circle cx="0.3" cy="19.3" r="0.8" fill="#eee46a"/><circle cx="40.3" cy="19.3" r="0.8" fill="#eee46a"/><circle cx="29.3" cy="10.1" r="0.8" fill="#eee46a"/><circle cx="23.9" cy="17.2" r="0.9" fill="#eee46a"/><circle cx="31.3" cy="22.0" r="0.9" fill="#d8402e"/><circle cx="10.1" cy="11.9" r="0.9" fill="#3c3cd4"/><circle cx="29.6" cy="6.2" r="0.8" fill="#eee46a"/><circle cx="8.9" cy="5.1" r="1.1" fill="#d8402e"/><circle cx="-1.4" cy="14.7" r="1.0" fill="#d8402e"/><circle cx="38.6" cy="14.7" r="1.0" fill="#d8402e"/><circle cx="26.5" cy="1.8" r="0.8" fill="#3c3cd4"/><circle cx="26.5" cy="41.8" r="0.8" fill="#3c3cd4"/><circle cx="9.3" cy="31.1" r="0.8" fill="#3c3cd4"/><circle cx="20.3" cy="32.0" r="1.0" fill="#eee46a"/><circle cx="7.4" cy="2.7" r="1.0" fill="#d8402e"/><circle cx="23.8" cy="18.4" r="1.0" fill="#eee46a"/><circle cx="25.8" cy="16.4" r="1.0" fill="#3c3cd4"/><circle cx="35.2" cy="-0.6" r="1.1" fill="#3c3cd4"/><circle cx="35.2" cy="39.4" r="1.1" fill="#3c3cd4"/><circle cx="27.6" cy="22.1" r="0.8" fill="#d8402e"/><circle cx="26.4" cy="9.9" r="1.0" fill="#eee46a"/><circle cx="24.3" cy="17.2" r="0.9" fill="#d8402e"/><circle cx="27.9" cy="35.4" r="0.9" fill="#d8402e"/><circle cx="17.9" cy="17.2" r="1.1" fill="#eee46a"/><circle cx="30.7" cy="32.4" r="1.1" fill="#3c3cd4"/><circle cx="17.9" cy="17.9" r="0.9" fill="#eee46a"/><circle cx="33.2" cy="16.7" r="1.0" fill="#eee46a"/><circle cx="14.6" cy="0.4" r="0.9" fill="#d8402e"/><circle cx="14.6" cy="40.4" r="0.9" fill="#d8402e"/><circle cx="-2.0" cy="5.5" r="1.1" fill="#3c3cd4"/><circle cx="38.0" cy="5.5" r="1.1" fill="#3c3cd4"/><circle cx="31.6" cy="11.2" r="1.1" fill="#d8402e"/><circle cx="2.7" cy="11.9" r="1.0" fill="#3c3cd4"/><circle cx="32.9" cy="33.3" r="1.0" fill="#d8402e"/><circle cx="3.8" cy="15.2" r="1.1" fill="#eee46a"/><circle cx="11.6" cy="26.7" r="0.9" fill="#d8402e"/><circle cx="2.3" cy="23.2" r="1.0" fill="#eee46a"/><circle cx="16.8" cy="37.5" r="1.0" fill="#3c3cd4"/><circle cx="34.9" cy="7.2" r="1.0" fill="#d8402e"/><circle cx="24.0" cy="-1.8" r="0.8" fill="#eee46a"/><circle cx="24.0" cy="38.2" r="0.8" fill="#eee46a"/><circle cx="37.8" cy="18.7" r="1.1" fill="#d8402e"/><circle cx="25.1" cy="34.2" r="0.9" fill="#eee46a"/><circle cx="18.8" cy="18.6" r="1.0" fill="#d8402e"/><circle cx="6.0" cy="10.1" r="0.8" fill="#d8402e"/><circle cx="21.0" cy="29.5" r="1.1" fill="#eee46a"/><circle cx="24.3" cy="26.3" r="1.1" fill="#d8402e"/><circle cx="13.9" cy="33.8" r="1.1" fill="#d8402e"/><circle cx="27.3" cy="7.1" r="0.8" fill="#3c3cd4"/><circle cx="15.4" cy="15.1" r="0.9" fill="#d8402e"/><circle cx="6.4" cy="16.0" r="1.1" fill="#d8402e"/><circle cx="14.2" cy="28.5" r="1.1" fill="#eee46a"/><circle cx="35.2" cy="28.2" r="1.1" fill="#3c3cd4"/><circle cx="37.2" cy="16.5" r="0.8" fill="#eee46a"/><circle cx="14.6" cy="13.1" r="0.8" fill="#eee46a"/><circle cx="30.2" cy="3.0" r="0.9" fill="#eee46a"/><circle cx="33.7" cy="25.3" r="1.0" fill="#d8402e"/><circle cx="9.4" cy="24.7" r="1.1" fill="#eee46a"/><circle cx="18.0" cy="10.9" r="1.1" fill="#d8402e"/><circle cx="13.9" cy="9.7" r="1.0" fill="#eee46a"/><circle cx="37.6" cy="3.2" r="1.0" fill="#d8402e"/><circle cx="19.8" cy="27.6" r="0.8" fill="#eee46a"/><circle cx="2.0" cy="7.1" r="0.8" fill="#d8402e"/><circle cx="11.5" cy="4.6" r="1.0" fill="#d8402e"/><circle cx="30.3" cy="6.4" r="1.0" fill="#d8402e"/><circle cx="3.2" cy="5.6" r="0.9" fill="#eee46a"/><circle cx="31.4" cy="20.2" r="0.9" fill="#eee46a"/><circle cx="1.1" cy="32.8" r="1.1" fill="#eee46a"/><circle cx="41.1" cy="32.8" r="1.1" fill="#eee46a"/><circle cx="4.2" cy="17.3" r="0.8" fill="#eee46a"/><circle cx="3.0" cy="37.4" r="1.1" fill="#3c3cd4"/><circle cx="21.8" cy="29.3" r="0.9" fill="#eee46a"/></pattern>
<pattern id="amB" width="40" height="40" patternUnits="userSpaceOnUse"><rect width="40" height="40" fill="#6a3a9a"/><circle cx="6.9" cy="25.7" r="1.1" fill="#3440dc"/><circle cx="1.7" cy="11.8" r="1.1" fill="#d8402e"/><circle cx="41.7" cy="11.8" r="1.1" fill="#d8402e"/><circle cx="19.2" cy="11.4" r="1.0" fill="#3440dc"/><circle cx="11.6" cy="15.7" r="0.8" fill="#d8402e"/><circle cx="1.5" cy="-1.5" r="1.0" fill="#3440dc"/><circle cx="1.5" cy="38.5" r="1.0" fill="#3440dc"/><circle cx="41.5" cy="-1.5" r="1.0" fill="#3440dc"/><circle cx="41.5" cy="38.5" r="1.0" fill="#3440dc"/><circle cx="37.6" cy="21.6" r="0.8" fill="#3440dc"/><circle cx="17.5" cy="24.4" r="1.1" fill="#d8402e"/><circle cx="13.7" cy="26.2" r="1.0" fill="#d8402e"/><circle cx="17.1" cy="21.0" r="0.9" fill="#d8402e"/><circle cx="28.6" cy="6.6" r="1.2" fill="#3440dc"/><circle cx="24.4" cy="29.4" r="1.2" fill="#3440dc"/><circle cx="15.5" cy="15.8" r="0.8" fill="#3440dc"/><circle cx="18.7" cy="10.9" r="1.1" fill="#3440dc"/><circle cx="34.4" cy="20.3" r="0.8" fill="#3440dc"/><circle cx="26.4" cy="37.2" r="1.0" fill="#3440dc"/><circle cx="20.4" cy="16.5" r="0.9" fill="#d8402e"/><circle cx="31.8" cy="20.6" r="1.1" fill="#d8402e"/><circle cx="33.2" cy="26.0" r="1.2" fill="#d8402e"/><circle cx="7.3" cy="20.3" r="0.9" fill="#3440dc"/><circle cx="10.7" cy="7.5" r="0.8" fill="#d8402e"/><circle cx="25.8" cy="26.7" r="1.2" fill="#d8402e"/><circle cx="16.9" cy="18.3" r="1.1" fill="#eef0f8"/><circle cx="18.6" cy="29.9" r="0.9" fill="#3440dc"/><circle cx="2.8" cy="29.3" r="1.1" fill="#3440dc"/><circle cx="4.7" cy="29.8" r="1.2" fill="#d8402e"/><circle cx="24.9" cy="25.5" r="1.0" fill="#d8402e"/><circle cx="29.3" cy="4.4" r="1.0" fill="#d8402e"/><circle cx="34.1" cy="25.2" r="0.8" fill="#d8402e"/><circle cx="33.5" cy="33.7" r="0.9" fill="#3440dc"/><circle cx="30.0" cy="0.4" r="0.9" fill="#d8402e"/><circle cx="30.0" cy="40.4" r="0.9" fill="#d8402e"/><circle cx="-1.7" cy="1.4" r="1.1" fill="#d8402e"/><circle cx="-1.7" cy="41.4" r="1.1" fill="#d8402e"/><circle cx="38.3" cy="1.4" r="1.1" fill="#d8402e"/><circle cx="38.3" cy="41.4" r="1.1" fill="#d8402e"/><circle cx="30.5" cy="10.7" r="1.2" fill="#d8402e"/><circle cx="-1.2" cy="36.3" r="0.8" fill="#3440dc"/><circle cx="38.8" cy="36.3" r="0.8" fill="#3440dc"/><circle cx="29.6" cy="26.0" r="1.1" fill="#3440dc"/><circle cx="20.1" cy="-0.9" r="1.0" fill="#3440dc"/><circle cx="20.1" cy="39.1" r="1.0" fill="#3440dc"/><circle cx="25.5" cy="31.5" r="1.2" fill="#3440dc"/><circle cx="10.9" cy="35.9" r="1.0" fill="#3440dc"/><circle cx="1.1" cy="24.1" r="1.2" fill="#3440dc"/><circle cx="41.1" cy="24.1" r="1.2" fill="#3440dc"/><circle cx="22.3" cy="29.0" r="0.9" fill="#3440dc"/><circle cx="26.7" cy="17.5" r="0.9" fill="#d8402e"/><circle cx="14.5" cy="29.4" r="0.9" fill="#3440dc"/><circle cx="2.2" cy="31.5" r="1.2" fill="#3440dc"/><circle cx="31.5" cy="2.5" r="1.0" fill="#d8402e"/><circle cx="11.9" cy="33.0" r="0.8" fill="#d8402e"/><circle cx="18.0" cy="2.0" r="1.1" fill="#d8402e"/><circle cx="24.2" cy="21.7" r="1.1" fill="#d8402e"/><circle cx="20.9" cy="12.2" r="0.9" fill="#d8402e"/><circle cx="19.3" cy="14.7" r="1.1" fill="#3440dc"/><circle cx="11.0" cy="24.3" r="1.1" fill="#d8402e"/><circle cx="8.2" cy="23.8" r="1.2" fill="#3440dc"/><circle cx="21.2" cy="36.5" r="1.2" fill="#3a9a50"/><circle cx="14.3" cy="10.7" r="0.9" fill="#3440dc"/><circle cx="7.1" cy="3.8" r="1.0" fill="#3440dc"/><circle cx="36.9" cy="32.3" r="1.0" fill="#3440dc"/><circle cx="12.8" cy="2.1" r="1.2" fill="#d8402e"/><circle cx="11.9" cy="0.3" r="1.0" fill="#3a9a50"/><circle cx="11.9" cy="40.3" r="1.0" fill="#3a9a50"/><circle cx="31.0" cy="18.1" r="0.8" fill="#60c0e0"/><circle cx="18.9" cy="25.9" r="1.2" fill="#d8402e"/><circle cx="13.5" cy="27.1" r="0.8" fill="#d8402e"/><circle cx="3.5" cy="31.5" r="1.2" fill="#60c0e0"/><circle cx="21.2" cy="3.7" r="1.0" fill="#3440dc"/><circle cx="31.3" cy="25.4" r="0.9" fill="#3440dc"/><circle cx="5.7" cy="3.3" r="0.9" fill="#3440dc"/><circle cx="-1.8" cy="2.0" r="0.9" fill="#3440dc"/><circle cx="-1.8" cy="42.0" r="0.9" fill="#3440dc"/><circle cx="38.2" cy="2.0" r="0.9" fill="#3440dc"/><circle cx="38.2" cy="42.0" r="0.9" fill="#3440dc"/><circle cx="4.1" cy="36.9" r="1.1" fill="#d8402e"/><circle cx="23.4" cy="16.0" r="0.9" fill="#d8402e"/><circle cx="27.8" cy="14.9" r="1.2" fill="#3440dc"/><circle cx="3.0" cy="16.9" r="1.2" fill="#d8402e"/><circle cx="24.8" cy="7.9" r="0.8" fill="#3440dc"/><circle cx="20.6" cy="2.8" r="1.0" fill="#d8402e"/><circle cx="21.5" cy="8.5" r="0.9" fill="#3440dc"/><circle cx="28.1" cy="2.1" r="1.0" fill="#3440dc"/><circle cx="6.9" cy="11.6" r="0.8" fill="#3440dc"/><circle cx="36.5" cy="8.8" r="0.8" fill="#d8402e"/><circle cx="18.2" cy="-1.5" r="0.9" fill="#d8402e"/><circle cx="18.2" cy="38.5" r="0.9" fill="#d8402e"/><circle cx="21.9" cy="25.6" r="0.9" fill="#d8402e"/><circle cx="24.2" cy="9.6" r="1.1" fill="#d8402e"/><circle cx="34.7" cy="32.2" r="0.9" fill="#3440dc"/><circle cx="12.4" cy="24.0" r="1.1" fill="#3440dc"/><circle cx="22.1" cy="9.3" r="0.8" fill="#d8402e"/><circle cx="2.3" cy="23.2" r="1.2" fill="#d8402e"/><circle cx="-1.6" cy="5.9" r="1.1" fill="#60c0e0"/><circle cx="38.4" cy="5.9" r="1.1" fill="#60c0e0"/><circle cx="0.2" cy="15.3" r="0.9" fill="#d8402e"/><circle cx="40.2" cy="15.3" r="0.9" fill="#d8402e"/><circle cx="2.7" cy="9.7" r="1.0" fill="#d8402e"/><circle cx="19.3" cy="9.3" r="1.2" fill="#eef0f8"/><circle cx="20.0" cy="32.1" r="1.1" fill="#d8402e"/><circle cx="31.1" cy="14.1" r="1.0" fill="#3440dc"/><circle cx="6.9" cy="16.8" r="1.1" fill="#d8402e"/><circle cx="10.1" cy="19.9" r="1.1" fill="#3440dc"/><circle cx="36.4" cy="29.0" r="1.1" fill="#3440dc"/><circle cx="27.6" cy="36.7" r="1.1" fill="#3440dc"/><circle cx="22.0" cy="21.4" r="0.9" fill="#60c0e0"/><circle cx="7.6" cy="20.0" r="1.1" fill="#d8402e"/><circle cx="25.4" cy="0.1" r="1.1" fill="#d8402e"/><circle cx="25.4" cy="40.1" r="1.1" fill="#d8402e"/><circle cx="15.8" cy="27.2" r="0.9" fill="#3440dc"/><circle cx="27.6" cy="-1.1" r="1.1" fill="#d8402e"/><circle cx="27.6" cy="38.9" r="1.1" fill="#d8402e"/><circle cx="24.5" cy="24.5" r="1.0" fill="#3440dc"/><circle cx="-0.4" cy="34.9" r="1.2" fill="#3440dc"/><circle cx="39.6" cy="34.9" r="1.2" fill="#3440dc"/><circle cx="26.7" cy="32.2" r="0.8" fill="#3a9a50"/><circle cx="8.5" cy="9.3" r="1.2" fill="#3440dc"/><circle cx="9.1" cy="19.4" r="1.1" fill="#eef0f8"/><circle cx="23.5" cy="35.7" r="0.8" fill="#eef0f8"/><circle cx="-1.4" cy="11.7" r="1.1" fill="#3440dc"/><circle cx="38.6" cy="11.7" r="1.1" fill="#3440dc"/><circle cx="11.8" cy="12.3" r="1.2" fill="#eef0f8"/><circle cx="-0.9" cy="3.8" r="1.1" fill="#3440dc"/><circle cx="39.1" cy="3.8" r="1.1" fill="#3440dc"/><circle cx="-1.7" cy="29.0" r="0.8" fill="#d8402e"/><circle cx="38.3" cy="29.0" r="0.8" fill="#d8402e"/><circle cx="6.9" cy="10.4" r="0.9" fill="#3440dc"/><circle cx="5.9" cy="3.5" r="1.2" fill="#3440dc"/><circle cx="4.9" cy="20.5" r="1.0" fill="#3a9a50"/><circle cx="21.4" cy="32.4" r="1.2" fill="#d8402e"/><circle cx="31.0" cy="29.4" r="1.0" fill="#d8402e"/><circle cx="37.6" cy="2.5" r="1.1" fill="#d8402e"/><circle cx="-1.9" cy="6.0" r="1.0" fill="#d8402e"/><circle cx="38.1" cy="6.0" r="1.0" fill="#d8402e"/><circle cx="31.6" cy="22.6" r="0.8" fill="#3440dc"/><circle cx="8.0" cy="23.4" r="0.8" fill="#3440dc"/><circle cx="3.6" cy="12.6" r="0.9" fill="#d8402e"/><circle cx="6.8" cy="3.0" r="1.2" fill="#3440dc"/><circle cx="25.4" cy="36.8" r="1.1" fill="#d8402e"/><circle cx="14.6" cy="33.9" r="1.1" fill="#3440dc"/><circle cx="36.6" cy="-1.8" r="1.0" fill="#d8402e"/><circle cx="36.6" cy="38.2" r="1.0" fill="#d8402e"/><circle cx="3.4" cy="22.4" r="1.1" fill="#d8402e"/><circle cx="14.2" cy="0.3" r="0.9" fill="#eef0f8"/><circle cx="14.2" cy="40.3" r="0.9" fill="#eef0f8"/><circle cx="10.7" cy="20.8" r="1.1" fill="#d8402e"/><circle cx="28.7" cy="4.7" r="0.9" fill="#3440dc"/><circle cx="21.2" cy="3.7" r="1.0" fill="#d8402e"/><circle cx="21.8" cy="26.2" r="1.0" fill="#eef0f8"/><circle cx="14.0" cy="8.4" r="1.0" fill="#3440dc"/><circle cx="8.5" cy="7.7" r="1.2" fill="#3440dc"/><circle cx="17.5" cy="32.5" r="1.1" fill="#3440dc"/><circle cx="10.2" cy="16.4" r="0.8" fill="#3440dc"/><circle cx="18.2" cy="10.1" r="1.0" fill="#d8402e"/><circle cx="7.9" cy="23.1" r="0.9" fill="#d8402e"/><circle cx="10.5" cy="7.2" r="1.1" fill="#3440dc"/><circle cx="35.5" cy="5.3" r="0.9" fill="#d8402e"/><circle cx="20.3" cy="33.4" r="1.2" fill="#3440dc"/><circle cx="0.7" cy="1.1" r="1.0" fill="#d8402e"/><circle cx="0.7" cy="41.1" r="1.0" fill="#d8402e"/><circle cx="40.7" cy="1.1" r="1.0" fill="#d8402e"/><circle cx="40.7" cy="41.1" r="1.0" fill="#d8402e"/><circle cx="0.3" cy="14.0" r="1.2" fill="#d8402e"/><circle cx="40.3" cy="14.0" r="1.2" fill="#d8402e"/><circle cx="8.4" cy="12.7" r="1.2" fill="#d8402e"/><circle cx="4.5" cy="17.6" r="0.9" fill="#d8402e"/><circle cx="-0.2" cy="28.6" r="1.0" fill="#3440dc"/><circle cx="39.8" cy="28.6" r="1.0" fill="#3440dc"/><circle cx="-0.9" cy="-1.4" r="0.9" fill="#3440dc"/><circle cx="-0.9" cy="38.6" r="0.9" fill="#3440dc"/><circle cx="39.1" cy="-1.4" r="0.9" fill="#3440dc"/><circle cx="39.1" cy="38.6" r="0.9" fill="#3440dc"/><circle cx="1.9" cy="21.8" r="1.2" fill="#3440dc"/><circle cx="41.9" cy="21.8" r="1.2" fill="#3440dc"/><circle cx="-0.1" cy="32.7" r="1.2" fill="#d8402e"/><circle cx="39.9" cy="32.7" r="1.2" fill="#d8402e"/><circle cx="24.5" cy="1.5" r="1.2" fill="#d8402e"/><circle cx="24.5" cy="41.5" r="1.2" fill="#d8402e"/><circle cx="31.8" cy="29.6" r="0.8" fill="#3440dc"/><circle cx="37.5" cy="11.9" r="1.0" fill="#3440dc"/><circle cx="19.5" cy="21.1" r="1.2" fill="#eef0f8"/><circle cx="15.8" cy="34.1" r="1.0" fill="#d8402e"/><circle cx="12.8" cy="1.9" r="0.8" fill="#d8402e"/><circle cx="12.8" cy="41.9" r="0.8" fill="#d8402e"/><circle cx="-1.3" cy="32.7" r="0.8" fill="#3440dc"/><circle cx="38.7" cy="32.7" r="0.8" fill="#3440dc"/><circle cx="10.5" cy="30.9" r="0.8" fill="#d8402e"/><circle cx="17.1" cy="23.1" r="1.0" fill="#d8402e"/><circle cx="22.3" cy="29.8" r="1.2" fill="#d8402e"/><circle cx="10.2" cy="30.0" r="1.2" fill="#d8402e"/><circle cx="21.8" cy="6.9" r="1.2" fill="#3440dc"/><circle cx="5.2" cy="35.3" r="1.0" fill="#60c0e0"/><circle cx="31.6" cy="28.8" r="1.0" fill="#3440dc"/><circle cx="12.5" cy="32.6" r="1.2" fill="#3440dc"/><circle cx="2.7" cy="22.8" r="0.9" fill="#3440dc"/><circle cx="0.8" cy="35.7" r="1.1" fill="#3440dc"/><circle cx="40.8" cy="35.7" r="1.1" fill="#3440dc"/><circle cx="13.3" cy="17.5" r="0.8" fill="#3440dc"/><circle cx="28.9" cy="28.3" r="1.2" fill="#3440dc"/><circle cx="25.3" cy="35.4" r="1.0" fill="#d8402e"/><circle cx="11.7" cy="19.9" r="1.2" fill="#3440dc"/><circle cx="36.4" cy="34.1" r="1.1" fill="#3a9a50"/><circle cx="29.5" cy="3.6" r="1.0" fill="#d8402e"/><circle cx="4.2" cy="36.1" r="0.9" fill="#d8402e"/><circle cx="3.3" cy="21.5" r="1.2" fill="#d8402e"/><circle cx="25.4" cy="17.2" r="0.8" fill="#d8402e"/><circle cx="27.5" cy="24.5" r="1.0" fill="#3440dc"/><circle cx="16.4" cy="36.3" r="0.9" fill="#d8402e"/><circle cx="31.8" cy="12.6" r="1.0" fill="#d8402e"/><circle cx="11.8" cy="30.4" r="1.1" fill="#d8402e"/><circle cx="28.6" cy="13.7" r="1.0" fill="#3440dc"/><circle cx="24.9" cy="4.1" r="1.1" fill="#d8402e"/><circle cx="24.5" cy="18.6" r="1.0" fill="#d8402e"/><circle cx="34.6" cy="10.9" r="1.1" fill="#d8402e"/><circle cx="9.3" cy="4.1" r="1.1" fill="#d8402e"/><circle cx="35.3" cy="30.9" r="1.2" fill="#3440dc"/><circle cx="33.9" cy="10.7" r="1.2" fill="#d8402e"/><circle cx="37.7" cy="25.6" r="1.0" fill="#3440dc"/><circle cx="3.6" cy="13.2" r="1.1" fill="#d8402e"/><circle cx="26.2" cy="25.2" r="0.8" fill="#eef0f8"/><circle cx="8.2" cy="4.0" r="1.2" fill="#d8402e"/><circle cx="18.7" cy="32.0" r="1.0" fill="#d8402e"/><circle cx="32.0" cy="11.7" r="1.1" fill="#3440dc"/><circle cx="26.2" cy="1.2" r="1.2" fill="#d8402e"/><circle cx="26.2" cy="41.2" r="1.2" fill="#d8402e"/><circle cx="15.0" cy="11.1" r="1.1" fill="#3a9a50"/><circle cx="27.8" cy="19.4" r="1.0" fill="#3440dc"/><circle cx="11.0" cy="11.6" r="1.1" fill="#d8402e"/><circle cx="3.5" cy="4.7" r="1.2" fill="#3440dc"/><circle cx="31.3" cy="26.8" r="0.9" fill="#3440dc"/><circle cx="20.4" cy="0.7" r="0.8" fill="#3440dc"/><circle cx="20.4" cy="40.7" r="0.8" fill="#3440dc"/><circle cx="4.6" cy="4.8" r="1.0" fill="#d8402e"/><circle cx="8.7" cy="3.1" r="1.2" fill="#d8402e"/><circle cx="-0.6" cy="36.5" r="0.9" fill="#d8402e"/><circle cx="39.4" cy="36.5" r="0.9" fill="#d8402e"/><circle cx="35.2" cy="0.6" r="1.1" fill="#d8402e"/><circle cx="35.2" cy="40.6" r="1.1" fill="#d8402e"/><circle cx="-1.4" cy="37.0" r="0.9" fill="#3440dc"/><circle cx="38.6" cy="37.0" r="0.9" fill="#3440dc"/><circle cx="29.3" cy="37.5" r="1.2" fill="#eef0f8"/><circle cx="30.5" cy="31.5" r="1.0" fill="#3440dc"/><circle cx="22.9" cy="37.2" r="0.8" fill="#3440dc"/><circle cx="17.9" cy="34.8" r="1.0" fill="#3440dc"/><circle cx="37.4" cy="30.2" r="1.1" fill="#d8402e"/><circle cx="34.8" cy="0.3" r="1.0" fill="#eef0f8"/><circle cx="34.8" cy="40.3" r="1.0" fill="#eef0f8"/><circle cx="33.9" cy="0.5" r="0.9" fill="#d8402e"/><circle cx="33.9" cy="40.5" r="0.9" fill="#d8402e"/><circle cx="8.7" cy="26.3" r="1.1" fill="#3440dc"/><circle cx="36.4" cy="4.6" r="1.0" fill="#d8402e"/><circle cx="31.7" cy="29.5" r="1.2" fill="#3a9a50"/><circle cx="21.2" cy="29.6" r="1.0" fill="#3440dc"/><circle cx="27.2" cy="34.1" r="0.9" fill="#3440dc"/><circle cx="1.2" cy="28.3" r="0.9" fill="#3440dc"/><circle cx="41.2" cy="28.3" r="0.9" fill="#3440dc"/><circle cx="34.0" cy="30.3" r="0.9" fill="#d8402e"/><circle cx="26.3" cy="24.9" r="1.2" fill="#d8402e"/><circle cx="8.6" cy="33.3" r="0.9" fill="#60c0e0"/><circle cx="28.0" cy="22.0" r="1.0" fill="#eef0f8"/><circle cx="16.5" cy="9.3" r="0.9" fill="#3440dc"/><circle cx="36.4" cy="1.4" r="0.8" fill="#eef0f8"/><circle cx="36.4" cy="41.4" r="0.8" fill="#eef0f8"/><circle cx="28.9" cy="38.0" r="1.1" fill="#d8402e"/><circle cx="16.6" cy="2.6" r="1.0" fill="#3440dc"/><circle cx="32.1" cy="1.4" r="0.9" fill="#d8402e"/><circle cx="32.1" cy="41.4" r="0.9" fill="#d8402e"/><circle cx="32.7" cy="0.9" r="1.0" fill="#d8402e"/><circle cx="32.7" cy="40.9" r="1.0" fill="#d8402e"/><circle cx="15.5" cy="33.9" r="0.9" fill="#3440dc"/><circle cx="29.7" cy="14.3" r="1.1" fill="#3440dc"/><circle cx="2.8" cy="18.8" r="1.0" fill="#3440dc"/><circle cx="22.2" cy="27.6" r="1.0" fill="#d8402e"/><circle cx="33.1" cy="27.2" r="0.9" fill="#d8402e"/><circle cx="10.9" cy="-2.0" r="1.2" fill="#d8402e"/><circle cx="10.9" cy="38.0" r="1.2" fill="#d8402e"/><circle cx="-1.4" cy="28.0" r="1.1" fill="#d8402e"/><circle cx="38.6" cy="28.0" r="1.1" fill="#d8402e"/><circle cx="20.1" cy="-1.9" r="1.1" fill="#3440dc"/><circle cx="20.1" cy="38.1" r="1.1" fill="#3440dc"/><circle cx="27.4" cy="25.2" r="1.1" fill="#d8402e"/><circle cx="17.1" cy="27.2" r="0.9" fill="#3440dc"/><circle cx="14.8" cy="10.2" r="1.0" fill="#60c0e0"/><circle cx="18.0" cy="-1.4" r="1.2" fill="#3440dc"/><circle cx="18.0" cy="38.6" r="1.2" fill="#3440dc"/><circle cx="20.1" cy="5.1" r="0.8" fill="#d8402e"/><circle cx="16.0" cy="18.0" r="1.2" fill="#3440dc"/><circle cx="21.3" cy="6.6" r="1.1" fill="#d8402e"/><circle cx="20.6" cy="16.4" r="1.0" fill="#3440dc"/><circle cx="27.1" cy="23.7" r="1.0" fill="#d8402e"/><circle cx="10.0" cy="23.3" r="1.1" fill="#3440dc"/><circle cx="-1.4" cy="29.7" r="1.0" fill="#3440dc"/><circle cx="38.6" cy="29.7" r="1.0" fill="#3440dc"/><circle cx="4.5" cy="29.2" r="1.0" fill="#d8402e"/><circle cx="23.4" cy="10.6" r="1.0" fill="#3440dc"/><circle cx="-1.1" cy="0.9" r="0.9" fill="#3440dc"/><circle cx="-1.1" cy="40.9" r="0.9" fill="#3440dc"/><circle cx="38.9" cy="0.9" r="0.9" fill="#3440dc"/><circle cx="38.9" cy="40.9" r="0.9" fill="#3440dc"/><circle cx="23.0" cy="25.9" r="1.2" fill="#3440dc"/><circle cx="17.6" cy="14.8" r="1.0" fill="#3440dc"/><circle cx="10.8" cy="36.9" r="0.8" fill="#d8402e"/><circle cx="21.5" cy="36.4" r="1.2" fill="#3440dc"/><circle cx="24.4" cy="20.4" r="0.9" fill="#d8402e"/><circle cx="17.7" cy="33.3" r="1.2" fill="#3440dc"/><circle cx="32.0" cy="21.7" r="1.0" fill="#3440dc"/><circle cx="36.3" cy="33.3" r="1.2" fill="#d8402e"/><circle cx="27.1" cy="14.4" r="1.0" fill="#3440dc"/><circle cx="27.8" cy="20.2" r="1.2" fill="#3440dc"/><circle cx="35.6" cy="19.2" r="1.1" fill="#d8402e"/><circle cx="26.7" cy="3.8" r="0.9" fill="#3440dc"/><circle cx="25.9" cy="6.7" r="0.9" fill="#d8402e"/><circle cx="11.2" cy="22.6" r="1.1" fill="#3440dc"/><circle cx="25.9" cy="30.5" r="1.0" fill="#d8402e"/><circle cx="26.1" cy="8.3" r="1.2" fill="#3440dc"/><circle cx="35.2" cy="2.6" r="0.9" fill="#eef0f8"/><circle cx="5.2" cy="24.7" r="0.9" fill="#d8402e"/><circle cx="24.3" cy="21.5" r="1.0" fill="#3440dc"/><circle cx="24.7" cy="31.1" r="1.1" fill="#3440dc"/><circle cx="33.1" cy="18.8" r="0.9" fill="#3440dc"/><circle cx="3.3" cy="18.1" r="0.9" fill="#3440dc"/><circle cx="-1.6" cy="11.6" r="1.0" fill="#3440dc"/><circle cx="38.4" cy="11.6" r="1.0" fill="#3440dc"/><circle cx="-1.2" cy="6.1" r="1.1" fill="#d8402e"/><circle cx="38.8" cy="6.1" r="1.1" fill="#d8402e"/><circle cx="14.5" cy="13.7" r="1.2" fill="#d8402e"/><circle cx="17.7" cy="23.1" r="1.2" fill="#d8402e"/><circle cx="4.2" cy="27.9" r="1.0" fill="#d8402e"/><circle cx="13.0" cy="-2.0" r="1.2" fill="#3440dc"/><circle cx="13.0" cy="38.0" r="1.2" fill="#3440dc"/><circle cx="1.2" cy="9.4" r="1.0" fill="#3a9a50"/><circle cx="41.2" cy="9.4" r="1.0" fill="#3a9a50"/><circle cx="1.5" cy="10.4" r="1.0" fill="#d8402e"/><circle cx="41.5" cy="10.4" r="1.0" fill="#d8402e"/><circle cx="15.3" cy="12.2" r="1.0" fill="#3440dc"/><circle cx="7.3" cy="20.7" r="1.1" fill="#3440dc"/><circle cx="29.6" cy="18.1" r="1.2" fill="#d8402e"/><circle cx="4.7" cy="12.1" r="1.0" fill="#d8402e"/><circle cx="8.4" cy="34.4" r="1.0" fill="#d8402e"/><circle cx="24.4" cy="5.2" r="0.9" fill="#3440dc"/><circle cx="21.7" cy="29.2" r="1.2" fill="#3440dc"/><circle cx="4.5" cy="18.4" r="1.0" fill="#3440dc"/><circle cx="37.8" cy="19.8" r="0.8" fill="#3440dc"/><circle cx="15.5" cy="27.9" r="1.0" fill="#3440dc"/><circle cx="34.3" cy="30.4" r="1.1" fill="#d8402e"/><circle cx="20.7" cy="4.5" r="1.2" fill="#eef0f8"/><circle cx="35.7" cy="9.4" r="0.8" fill="#3440dc"/><circle cx="20.0" cy="12.1" r="1.0" fill="#3440dc"/><circle cx="22.0" cy="17.4" r="1.1" fill="#3440dc"/><circle cx="11.1" cy="7.9" r="0.9" fill="#d8402e"/><circle cx="17.0" cy="20.2" r="1.2" fill="#3440dc"/><circle cx="10.4" cy="11.8" r="0.8" fill="#3440dc"/><circle cx="25.4" cy="1.5" r="1.1" fill="#3440dc"/><circle cx="25.4" cy="41.5" r="1.1" fill="#3440dc"/><circle cx="15.3" cy="-0.4" r="0.8" fill="#d8402e"/><circle cx="15.3" cy="39.6" r="0.8" fill="#d8402e"/><circle cx="4.3" cy="9.6" r="1.1" fill="#3440dc"/><circle cx="14.2" cy="35.3" r="0.9" fill="#d8402e"/><circle cx="22.8" cy="21.3" r="0.9" fill="#3440dc"/><circle cx="36.1" cy="25.3" r="1.1" fill="#3440dc"/><circle cx="8.5" cy="22.5" r="0.8" fill="#60c0e0"/><circle cx="13.2" cy="12.3" r="1.1" fill="#d8402e"/><circle cx="25.9" cy="5.4" r="1.2" fill="#3440dc"/><circle cx="2.6" cy="0.8" r="1.2" fill="#3440dc"/><circle cx="2.6" cy="40.8" r="1.2" fill="#3440dc"/><circle cx="22.0" cy="20.2" r="1.1" fill="#d8402e"/><circle cx="36.5" cy="23.9" r="1.0" fill="#3440dc"/><circle cx="35.3" cy="30.8" r="0.9" fill="#3440dc"/><circle cx="12.0" cy="-0.8" r="0.8" fill="#3440dc"/><circle cx="12.0" cy="39.2" r="0.8" fill="#3440dc"/><circle cx="20.8" cy="17.1" r="0.9" fill="#3440dc"/><circle cx="36.2" cy="19.3" r="0.9" fill="#3440dc"/><circle cx="35.5" cy="21.9" r="1.0" fill="#3440dc"/><circle cx="37.7" cy="22.5" r="1.0" fill="#3440dc"/><circle cx="18.3" cy="10.8" r="0.9" fill="#3440dc"/><circle cx="3.1" cy="14.6" r="1.1" fill="#d8402e"/><circle cx="3.8" cy="36.2" r="0.9" fill="#d8402e"/><circle cx="22.0" cy="11.7" r="0.9" fill="#3440dc"/><circle cx="36.8" cy="1.7" r="1.2" fill="#d8402e"/><circle cx="36.8" cy="41.7" r="1.2" fill="#d8402e"/><circle cx="27.5" cy="10.5" r="1.0" fill="#3440dc"/><circle cx="20.3" cy="11.0" r="1.1" fill="#3440dc"/><circle cx="33.8" cy="10.2" r="1.1" fill="#3440dc"/><circle cx="35.0" cy="19.2" r="1.2" fill="#3440dc"/><circle cx="16.3" cy="16.2" r="1.1" fill="#60c0e0"/><circle cx="21.2" cy="31.1" r="1.0" fill="#3440dc"/><circle cx="26.3" cy="10.5" r="0.8" fill="#d8402e"/><circle cx="28.8" cy="33.0" r="1.2" fill="#3440dc"/><circle cx="30.2" cy="4.3" r="1.2" fill="#d8402e"/><circle cx="4.3" cy="35.1" r="0.9" fill="#3440dc"/><circle cx="8.4" cy="29.3" r="0.8" fill="#3440dc"/><circle cx="21.2" cy="7.5" r="1.0" fill="#3440dc"/><circle cx="0.5" cy="15.8" r="1.2" fill="#d8402e"/><circle cx="40.5" cy="15.8" r="1.2" fill="#d8402e"/><circle cx="35.5" cy="28.7" r="1.2" fill="#d8402e"/><circle cx="10.6" cy="26.0" r="1.1" fill="#3440dc"/><circle cx="4.6" cy="9.8" r="0.9" fill="#3440dc"/><circle cx="15.1" cy="37.3" r="0.9" fill="#d8402e"/><circle cx="26.0" cy="14.0" r="1.0" fill="#3440dc"/><circle cx="33.2" cy="33.0" r="1.0" fill="#d8402e"/><circle cx="17.8" cy="4.9" r="1.0" fill="#eef0f8"/><circle cx="24.5" cy="2.4" r="1.2" fill="#60c0e0"/><circle cx="27.4" cy="5.2" r="1.0" fill="#3440dc"/><circle cx="18.9" cy="8.7" r="1.2" fill="#d8402e"/><circle cx="24.2" cy="29.9" r="1.0" fill="#3440dc"/><circle cx="22.0" cy="12.1" r="1.0" fill="#3440dc"/><circle cx="31.4" cy="11.7" r="0.8" fill="#d8402e"/><circle cx="1.6" cy="8.6" r="1.0" fill="#d8402e"/><circle cx="41.6" cy="8.6" r="1.0" fill="#d8402e"/><circle cx="15.2" cy="35.3" r="1.2" fill="#d8402e"/><circle cx="3.8" cy="33.2" r="0.9" fill="#d8402e"/><circle cx="24.4" cy="14.2" r="0.9" fill="#d8402e"/><circle cx="27.2" cy="28.8" r="0.9" fill="#3a9a50"/><circle cx="30.8" cy="13.7" r="0.9" fill="#3440dc"/><circle cx="16.5" cy="36.6" r="1.0" fill="#d8402e"/><circle cx="36.3" cy="18.1" r="1.0" fill="#3440dc"/><circle cx="14.0" cy="28.8" r="1.0" fill="#3440dc"/><circle cx="-0.1" cy="3.7" r="1.1" fill="#3440dc"/><circle cx="39.9" cy="3.7" r="1.1" fill="#3440dc"/><circle cx="28.4" cy="18.9" r="0.8" fill="#3440dc"/><circle cx="26.8" cy="34.6" r="1.1" fill="#d8402e"/><circle cx="27.8" cy="20.1" r="1.0" fill="#3440dc"/><circle cx="4.8" cy="20.9" r="0.9" fill="#3440dc"/><circle cx="18.5" cy="33.4" r="1.2" fill="#d8402e"/><circle cx="14.0" cy="14.5" r="1.1" fill="#3440dc"/><circle cx="11.5" cy="6.2" r="1.2" fill="#3440dc"/><circle cx="-0.2" cy="28.7" r="1.1" fill="#3440dc"/><circle cx="39.8" cy="28.7" r="1.1" fill="#3440dc"/><circle cx="36.6" cy="6.4" r="1.2" fill="#d8402e"/><circle cx="0.8" cy="20.9" r="1.2" fill="#d8402e"/><circle cx="40.8" cy="20.9" r="1.2" fill="#d8402e"/><circle cx="25.0" cy="9.0" r="1.0" fill="#d8402e"/><circle cx="22.1" cy="18.7" r="0.8" fill="#3440dc"/><circle cx="14.4" cy="33.2" r="0.9" fill="#d8402e"/><circle cx="7.1" cy="37.5" r="1.0" fill="#3440dc"/><circle cx="13.2" cy="14.7" r="1.2" fill="#eef0f8"/><circle cx="-1.9" cy="34.3" r="0.9" fill="#3440dc"/><circle cx="38.1" cy="34.3" r="0.9" fill="#3440dc"/><circle cx="37.7" cy="6.7" r="1.0" fill="#3440dc"/><circle cx="1.5" cy="26.3" r="1.2" fill="#d8402e"/><circle cx="41.5" cy="26.3" r="1.2" fill="#d8402e"/><circle cx="7.2" cy="26.7" r="0.8" fill="#3440dc"/><circle cx="11.3" cy="12.4" r="1.1" fill="#3440dc"/><circle cx="37.4" cy="6.6" r="1.0" fill="#d8402e"/><circle cx="12.8" cy="8.2" r="0.8" fill="#3440dc"/><circle cx="21.5" cy="5.3" r="0.9" fill="#d8402e"/><circle cx="18.5" cy="37.6" r="1.0" fill="#3440dc"/><circle cx="-0.4" cy="10.1" r="1.1" fill="#d8402e"/><circle cx="39.6" cy="10.1" r="1.1" fill="#d8402e"/><circle cx="30.8" cy="29.0" r="1.1" fill="#3440dc"/><circle cx="13.3" cy="37.9" r="1.2" fill="#3440dc"/><circle cx="21.6" cy="36.7" r="1.2" fill="#3440dc"/><circle cx="17.7" cy="-2.0" r="1.0" fill="#d8402e"/><circle cx="17.7" cy="38.0" r="1.0" fill="#d8402e"/><circle cx="22.4" cy="22.0" r="1.2" fill="#3440dc"/><circle cx="7.3" cy="28.2" r="1.0" fill="#3440dc"/><circle cx="4.6" cy="36.4" r="1.1" fill="#3a9a50"/><circle cx="22.8" cy="3.3" r="0.9" fill="#d8402e"/><circle cx="3.5" cy="15.0" r="1.0" fill="#d8402e"/><circle cx="2.8" cy="5.3" r="1.0" fill="#60c0e0"/><circle cx="9.3" cy="18.0" r="1.0" fill="#d8402e"/><circle cx="7.1" cy="29.8" r="1.1" fill="#eef0f8"/><circle cx="-1.6" cy="32.6" r="1.0" fill="#3440dc"/><circle cx="38.4" cy="32.6" r="1.0" fill="#3440dc"/><circle cx="27.6" cy="14.7" r="1.0" fill="#d8402e"/><circle cx="32.7" cy="27.0" r="1.2" fill="#d8402e"/><circle cx="1.9" cy="20.7" r="0.9" fill="#d8402e"/><circle cx="41.9" cy="20.7" r="0.9" fill="#d8402e"/><circle cx="9.2" cy="24.6" r="1.2" fill="#3440dc"/><circle cx="20.2" cy="2.4" r="0.8" fill="#d8402e"/><circle cx="5.1" cy="7.0" r="0.9" fill="#d8402e"/><circle cx="34.0" cy="14.4" r="1.2" fill="#3440dc"/><circle cx="7.2" cy="20.0" r="1.0" fill="#d8402e"/><circle cx="37.1" cy="22.7" r="1.1" fill="#d8402e"/><circle cx="20.1" cy="19.9" r="1.1" fill="#3440dc"/><circle cx="35.6" cy="-0.9" r="1.2" fill="#60c0e0"/><circle cx="35.6" cy="39.1" r="1.2" fill="#60c0e0"/><circle cx="27.3" cy="32.0" r="0.9" fill="#d8402e"/><circle cx="33.7" cy="17.4" r="1.1" fill="#d8402e"/><circle cx="5.4" cy="10.9" r="0.9" fill="#eef0f8"/><circle cx="33.1" cy="10.7" r="1.0" fill="#3440dc"/><circle cx="22.5" cy="27.3" r="0.9" fill="#3440dc"/><circle cx="26.8" cy="6.6" r="1.2" fill="#d8402e"/><circle cx="6.1" cy="16.6" r="1.1" fill="#d8402e"/><circle cx="7.0" cy="14.4" r="1.0" fill="#3a9a50"/><circle cx="20.0" cy="1.3" r="0.8" fill="#d8402e"/><circle cx="20.0" cy="41.3" r="0.8" fill="#d8402e"/><circle cx="24.8" cy="6.2" r="0.9" fill="#d8402e"/><circle cx="29.6" cy="26.1" r="0.9" fill="#d8402e"/><circle cx="11.0" cy="21.9" r="0.9" fill="#3440dc"/><circle cx="6.1" cy="25.1" r="1.1" fill="#d8402e"/><circle cx="7.0" cy="3.9" r="1.2" fill="#d8402e"/><circle cx="21.5" cy="0.8" r="1.1" fill="#d8402e"/><circle cx="21.5" cy="40.8" r="1.1" fill="#d8402e"/><circle cx="8.7" cy="33.3" r="1.0" fill="#d8402e"/><circle cx="23.0" cy="7.5" r="1.0" fill="#3a9a50"/><circle cx="5.2" cy="30.2" r="1.1" fill="#d8402e"/><circle cx="33.4" cy="25.5" r="0.8" fill="#d8402e"/><circle cx="33.2" cy="33.9" r="1.2" fill="#d8402e"/><circle cx="32.5" cy="4.3" r="0.8" fill="#eef0f8"/><circle cx="13.0" cy="8.4" r="1.0" fill="#d8402e"/><circle cx="1.8" cy="-1.4" r="1.1" fill="#d8402e"/><circle cx="1.8" cy="38.6" r="1.1" fill="#d8402e"/><circle cx="41.8" cy="-1.4" r="1.1" fill="#d8402e"/><circle cx="41.8" cy="38.6" r="1.1" fill="#d8402e"/><circle cx="14.1" cy="36.7" r="1.0" fill="#3440dc"/><circle cx="30.4" cy="22.5" r="0.9" fill="#3440dc"/><circle cx="32.0" cy="25.1" r="1.2" fill="#3440dc"/><circle cx="18.6" cy="29.7" r="1.0" fill="#d8402e"/><circle cx="25.2" cy="10.3" r="1.2" fill="#3a9a50"/><circle cx="25.8" cy="28.8" r="1.1" fill="#d8402e"/><circle cx="34.4" cy="18.4" r="1.1" fill="#3440dc"/><circle cx="10.0" cy="1.8" r="1.0" fill="#d8402e"/><circle cx="10.0" cy="41.8" r="1.0" fill="#d8402e"/><circle cx="25.5" cy="34.2" r="0.9" fill="#d8402e"/><circle cx="16.8" cy="6.5" r="1.0" fill="#d8402e"/><circle cx="27.4" cy="4.2" r="1.0" fill="#d8402e"/><circle cx="20.8" cy="7.0" r="1.1" fill="#3440dc"/><circle cx="-1.5" cy="-1.8" r="0.8" fill="#3440dc"/><circle cx="-1.5" cy="38.2" r="0.8" fill="#3440dc"/><circle cx="38.5" cy="-1.8" r="0.8" fill="#3440dc"/><circle cx="38.5" cy="38.2" r="0.8" fill="#3440dc"/><circle cx="20.9" cy="10.9" r="0.8" fill="#d8402e"/><circle cx="27.6" cy="26.3" r="0.9" fill="#d8402e"/><circle cx="-0.3" cy="22.1" r="0.9" fill="#3440dc"/><circle cx="39.7" cy="22.1" r="0.9" fill="#3440dc"/><circle cx="37.7" cy="28.7" r="0.9" fill="#3440dc"/><circle cx="17.5" cy="1.0" r="1.2" fill="#d8402e"/><circle cx="17.5" cy="41.0" r="1.2" fill="#d8402e"/><circle cx="4.4" cy="8.2" r="1.2" fill="#d8402e"/><circle cx="6.6" cy="16.6" r="0.8" fill="#3440dc"/><circle cx="22.5" cy="2.8" r="0.9" fill="#d8402e"/><circle cx="-0.1" cy="17.5" r="0.9" fill="#d8402e"/><circle cx="39.9" cy="17.5" r="0.9" fill="#d8402e"/><circle cx="12.0" cy="6.5" r="1.1" fill="#d8402e"/><circle cx="14.1" cy="9.2" r="1.2" fill="#d8402e"/><circle cx="11.9" cy="10.8" r="1.2" fill="#3440dc"/><circle cx="22.0" cy="2.8" r="1.1" fill="#3440dc"/><circle cx="0.7" cy="11.5" r="1.0" fill="#3440dc"/><circle cx="40.7" cy="11.5" r="1.0" fill="#3440dc"/><circle cx="7.1" cy="-0.6" r="0.9" fill="#d8402e"/><circle cx="7.1" cy="39.4" r="0.9" fill="#d8402e"/><circle cx="27.8" cy="-0.5" r="0.8" fill="#3440dc"/><circle cx="27.8" cy="39.5" r="0.8" fill="#3440dc"/><circle cx="0.8" cy="8.6" r="1.2" fill="#3440dc"/><circle cx="40.8" cy="8.6" r="1.2" fill="#3440dc"/><circle cx="4.6" cy="26.7" r="0.8" fill="#3440dc"/><circle cx="36.1" cy="12.5" r="1.2" fill="#d8402e"/><circle cx="21.7" cy="25.0" r="1.1" fill="#d8402e"/><circle cx="6.0" cy="33.0" r="1.1" fill="#3440dc"/><circle cx="25.8" cy="-0.9" r="1.1" fill="#3440dc"/><circle cx="25.8" cy="39.1" r="1.1" fill="#3440dc"/><circle cx="14.4" cy="0.5" r="0.8" fill="#3a9a50"/><circle cx="14.4" cy="40.5" r="0.8" fill="#3a9a50"/><circle cx="1.7" cy="23.8" r="1.0" fill="#3a9a50"/><circle cx="41.7" cy="23.8" r="1.0" fill="#3a9a50"/><circle cx="8.4" cy="0.8" r="1.0" fill="#d8402e"/><circle cx="8.4" cy="40.8" r="1.0" fill="#d8402e"/><circle cx="14.0" cy="10.8" r="1.2" fill="#3440dc"/><circle cx="-0.9" cy="7.8" r="0.9" fill="#3440dc"/><circle cx="39.1" cy="7.8" r="0.9" fill="#3440dc"/><circle cx="18.5" cy="20.0" r="1.2" fill="#d8402e"/><circle cx="8.8" cy="32.1" r="1.1" fill="#3440dc"/><circle cx="3.0" cy="4.9" r="1.2" fill="#3440dc"/><circle cx="9.6" cy="26.7" r="1.2" fill="#3440dc"/><circle cx="5.4" cy="8.2" r="1.1" fill="#d8402e"/><circle cx="14.3" cy="27.9" r="1.1" fill="#d8402e"/><circle cx="10.9" cy="17.5" r="1.2" fill="#3440dc"/><circle cx="7.7" cy="31.3" r="0.9" fill="#d8402e"/><circle cx="27.9" cy="3.3" r="1.2" fill="#3440dc"/><circle cx="8.8" cy="28.3" r="1.2" fill="#3440dc"/><circle cx="19.8" cy="14.7" r="0.9" fill="#3440dc"/><circle cx="36.5" cy="14.5" r="1.2" fill="#d8402e"/><circle cx="30.3" cy="7.4" r="1.2" fill="#3440dc"/><circle cx="16.0" cy="22.3" r="1.1" fill="#3440dc"/><circle cx="15.6" cy="15.2" r="1.1" fill="#d8402e"/><circle cx="13.2" cy="31.5" r="1.1" fill="#d8402e"/><circle cx="6.4" cy="34.7" r="1.0" fill="#3440dc"/><circle cx="4.0" cy="8.4" r="1.2" fill="#d8402e"/><circle cx="32.3" cy="1.0" r="1.1" fill="#d8402e"/><circle cx="32.3" cy="41.0" r="1.1" fill="#d8402e"/><circle cx="18.2" cy="22.1" r="1.2" fill="#3440dc"/><circle cx="5.4" cy="-1.3" r="1.0" fill="#3440dc"/><circle cx="5.4" cy="38.7" r="1.0" fill="#3440dc"/><circle cx="6.0" cy="9.6" r="0.9" fill="#d8402e"/><circle cx="21.8" cy="10.3" r="0.8" fill="#d8402e"/><circle cx="2.8" cy="36.4" r="1.0" fill="#3440dc"/><circle cx="5.2" cy="-0.6" r="1.2" fill="#d8402e"/><circle cx="5.2" cy="39.4" r="1.2" fill="#d8402e"/><circle cx="1.7" cy="11.5" r="1.0" fill="#3440dc"/><circle cx="41.7" cy="11.5" r="1.0" fill="#3440dc"/><circle cx="28.2" cy="22.8" r="0.8" fill="#3440dc"/><circle cx="11.7" cy="11.0" r="1.0" fill="#3440dc"/><circle cx="4.3" cy="5.1" r="0.8" fill="#d8402e"/><circle cx="25.9" cy="-1.4" r="0.9" fill="#3440dc"/><circle cx="25.9" cy="38.6" r="0.9" fill="#3440dc"/><circle cx="24.4" cy="19.8" r="1.2" fill="#d8402e"/><circle cx="10.5" cy="12.2" r="0.9" fill="#d8402e"/><circle cx="36.9" cy="19.2" r="1.0" fill="#3440dc"/><circle cx="10.6" cy="14.2" r="0.9" fill="#3440dc"/><circle cx="20.6" cy="1.0" r="0.9" fill="#d8402e"/><circle cx="20.6" cy="41.0" r="0.9" fill="#d8402e"/><circle cx="19.1" cy="21.2" r="1.2" fill="#eef0f8"/><circle cx="35.7" cy="17.8" r="1.2" fill="#d8402e"/><circle cx="4.8" cy="15.2" r="1.2" fill="#d8402e"/><circle cx="29.8" cy="37.1" r="1.2" fill="#d8402e"/><circle cx="27.9" cy="21.8" r="1.2" fill="#3440dc"/><circle cx="18.9" cy="37.8" r="1.0" fill="#eef0f8"/><circle cx="21.5" cy="17.2" r="1.2" fill="#eef0f8"/><circle cx="16.0" cy="14.7" r="1.1" fill="#d8402e"/><circle cx="26.6" cy="24.8" r="1.1" fill="#3440dc"/><circle cx="0.2" cy="19.1" r="1.1" fill="#3440dc"/><circle cx="40.2" cy="19.1" r="1.1" fill="#3440dc"/><circle cx="32.6" cy="9.0" r="1.2" fill="#eef0f8"/><circle cx="24.8" cy="32.8" r="0.9" fill="#d8402e"/><circle cx="8.7" cy="21.3" r="1.0" fill="#eef0f8"/><circle cx="37.3" cy="33.2" r="0.8" fill="#d8402e"/><circle cx="-0.1" cy="20.0" r="1.2" fill="#3440dc"/><circle cx="39.9" cy="20.0" r="1.2" fill="#3440dc"/><circle cx="12.1" cy="0.6" r="1.2" fill="#3440dc"/><circle cx="12.1" cy="40.6" r="1.2" fill="#3440dc"/><circle cx="16.0" cy="26.4" r="1.2" fill="#d8402e"/><circle cx="24.5" cy="-0.9" r="1.0" fill="#3440dc"/><circle cx="24.5" cy="39.1" r="1.0" fill="#3440dc"/><circle cx="7.2" cy="20.6" r="1.0" fill="#3440dc"/><circle cx="21.6" cy="8.8" r="0.9" fill="#d8402e"/><circle cx="12.2" cy="18.9" r="0.9" fill="#60c0e0"/><circle cx="9.1" cy="29.6" r="0.9" fill="#eef0f8"/><circle cx="11.9" cy="16.6" r="0.8" fill="#d8402e"/><circle cx="22.1" cy="9.8" r="1.2" fill="#d8402e"/><circle cx="19.3" cy="22.6" r="1.1" fill="#3440dc"/><circle cx="36.8" cy="-1.2" r="1.1" fill="#d8402e"/><circle cx="36.8" cy="38.8" r="1.1" fill="#d8402e"/><circle cx="1.0" cy="4.8" r="0.9" fill="#d8402e"/><circle cx="41.0" cy="4.8" r="0.9" fill="#d8402e"/><circle cx="6.1" cy="9.3" r="1.2" fill="#3440dc"/><circle cx="20.1" cy="22.0" r="1.1" fill="#3440dc"/><circle cx="3.1" cy="18.4" r="1.0" fill="#d8402e"/><circle cx="-0.9" cy="7.9" r="1.1" fill="#d8402e"/><circle cx="39.1" cy="7.9" r="1.1" fill="#d8402e"/><circle cx="26.4" cy="12.2" r="1.0" fill="#d8402e"/><circle cx="37.2" cy="2.0" r="1.1" fill="#eef0f8"/><circle cx="37.2" cy="42.0" r="1.1" fill="#eef0f8"/><circle cx="36.7" cy="15.6" r="0.8" fill="#3440dc"/><circle cx="8.9" cy="26.0" r="1.0" fill="#d8402e"/><circle cx="-0.7" cy="22.4" r="1.1" fill="#3440dc"/><circle cx="39.3" cy="22.4" r="1.1" fill="#3440dc"/><circle cx="10.1" cy="-0.6" r="0.8" fill="#d8402e"/><circle cx="10.1" cy="39.4" r="0.8" fill="#d8402e"/><circle cx="17.0" cy="16.6" r="1.0" fill="#d8402e"/><circle cx="2.9" cy="37.6" r="0.9" fill="#3440dc"/><circle cx="21.9" cy="23.7" r="1.2" fill="#d8402e"/><circle cx="18.2" cy="36.9" r="1.1" fill="#3440dc"/><circle cx="6.5" cy="28.2" r="1.2" fill="#3a9a50"/><circle cx="1.8" cy="11.3" r="1.1" fill="#d8402e"/><circle cx="41.8" cy="11.3" r="1.1" fill="#d8402e"/><circle cx="35.5" cy="27.5" r="1.0" fill="#3440dc"/><circle cx="29.2" cy="21.9" r="0.9" fill="#3440dc"/><circle cx="18.8" cy="25.2" r="1.1" fill="#d8402e"/><circle cx="36.6" cy="3.5" r="1.1" fill="#3440dc"/><circle cx="35.6" cy="-1.3" r="1.1" fill="#3440dc"/><circle cx="35.6" cy="38.7" r="1.1" fill="#3440dc"/><circle cx="19.0" cy="17.6" r="1.0" fill="#3440dc"/><circle cx="31.9" cy="21.9" r="1.0" fill="#3440dc"/><circle cx="28.4" cy="33.4" r="1.1" fill="#3440dc"/><circle cx="9.8" cy="0.0" r="0.8" fill="#d8402e"/><circle cx="9.8" cy="40.0" r="0.8" fill="#d8402e"/><circle cx="20.3" cy="3.1" r="1.1" fill="#3440dc"/><circle cx="17.6" cy="34.9" r="1.0" fill="#d8402e"/><circle cx="10.6" cy="5.2" r="0.9" fill="#3440dc"/><circle cx="5.9" cy="11.6" r="1.2" fill="#3440dc"/><circle cx="8.7" cy="9.6" r="1.1" fill="#60c0e0"/><circle cx="31.9" cy="-0.0" r="0.9" fill="#3440dc"/><circle cx="31.9" cy="40.0" r="0.9" fill="#3440dc"/><circle cx="-0.7" cy="35.7" r="1.2" fill="#d8402e"/><circle cx="39.3" cy="35.7" r="1.2" fill="#d8402e"/><circle cx="25.9" cy="9.3" r="0.9" fill="#3440dc"/><circle cx="31.0" cy="16.0" r="1.2" fill="#d8402e"/><circle cx="13.2" cy="7.0" r="0.9" fill="#3440dc"/><circle cx="24.2" cy="17.8" r="1.2" fill="#d8402e"/><circle cx="27.7" cy="2.2" r="1.1" fill="#eef0f8"/><circle cx="32.9" cy="30.9" r="0.9" fill="#d8402e"/><circle cx="6.9" cy="32.4" r="1.1" fill="#60c0e0"/><circle cx="26.6" cy="-0.9" r="1.0" fill="#3440dc"/><circle cx="26.6" cy="39.1" r="1.0" fill="#3440dc"/><circle cx="11.2" cy="-0.6" r="0.9" fill="#d8402e"/><circle cx="11.2" cy="39.4" r="0.9" fill="#d8402e"/><circle cx="34.0" cy="1.1" r="1.0" fill="#d8402e"/><circle cx="34.0" cy="41.1" r="1.0" fill="#d8402e"/><circle cx="9.5" cy="15.4" r="1.1" fill="#d8402e"/><circle cx="3.0" cy="11.6" r="1.1" fill="#d8402e"/><circle cx="8.7" cy="22.2" r="1.1" fill="#d8402e"/><circle cx="13.7" cy="36.3" r="0.9" fill="#d8402e"/><circle cx="34.7" cy="2.4" r="1.0" fill="#3440dc"/><circle cx="11.6" cy="6.7" r="0.8" fill="#3440dc"/><circle cx="0.4" cy="11.4" r="0.9" fill="#d8402e"/><circle cx="40.4" cy="11.4" r="0.9" fill="#d8402e"/><circle cx="28.4" cy="16.6" r="1.1" fill="#3440dc"/><circle cx="28.4" cy="37.3" r="1.1" fill="#3440dc"/><circle cx="22.3" cy="3.0" r="1.0" fill="#3440dc"/><circle cx="1.6" cy="29.7" r="1.2" fill="#3440dc"/><circle cx="41.6" cy="29.7" r="1.2" fill="#3440dc"/><circle cx="16.7" cy="18.8" r="1.2" fill="#eef0f8"/><circle cx="30.8" cy="17.8" r="1.1" fill="#3440dc"/><circle cx="35.9" cy="18.3" r="1.1" fill="#3440dc"/><circle cx="22.1" cy="8.6" r="0.9" fill="#d8402e"/><circle cx="-0.6" cy="1.0" r="0.9" fill="#d8402e"/><circle cx="-0.6" cy="41.0" r="0.9" fill="#d8402e"/><circle cx="39.4" cy="1.0" r="0.9" fill="#d8402e"/><circle cx="39.4" cy="41.0" r="0.9" fill="#d8402e"/><circle cx="32.6" cy="26.9" r="0.8" fill="#d8402e"/><circle cx="26.9" cy="29.9" r="1.1" fill="#3440dc"/><circle cx="23.9" cy="1.2" r="1.2" fill="#3440dc"/><circle cx="23.9" cy="41.2" r="1.2" fill="#3440dc"/><circle cx="6.7" cy="15.3" r="1.2" fill="#3a9a50"/><circle cx="32.7" cy="33.7" r="1.2" fill="#d8402e"/><circle cx="32.9" cy="8.0" r="1.2" fill="#eef0f8"/><circle cx="36.6" cy="35.9" r="0.9" fill="#d8402e"/><circle cx="32.2" cy="6.9" r="1.2" fill="#d8402e"/><circle cx="33.2" cy="16.0" r="1.1" fill="#d8402e"/><circle cx="-0.2" cy="25.1" r="0.9" fill="#d8402e"/><circle cx="39.8" cy="25.1" r="0.9" fill="#d8402e"/><circle cx="7.5" cy="24.5" r="0.9" fill="#3440dc"/><circle cx="29.8" cy="24.2" r="1.0" fill="#3440dc"/><circle cx="16.5" cy="0.6" r="1.1" fill="#3440dc"/><circle cx="16.5" cy="40.6" r="1.1" fill="#3440dc"/><circle cx="35.5" cy="-1.1" r="0.9" fill="#3440dc"/><circle cx="35.5" cy="38.9" r="0.9" fill="#3440dc"/><circle cx="34.4" cy="16.6" r="1.2" fill="#60c0e0"/><circle cx="3.6" cy="2.1" r="1.1" fill="#d8402e"/><circle cx="19.7" cy="24.9" r="1.1" fill="#d8402e"/><circle cx="3.8" cy="8.3" r="0.9" fill="#3440dc"/><circle cx="4.6" cy="26.0" r="1.2" fill="#3a9a50"/><circle cx="35.3" cy="28.5" r="0.9" fill="#d8402e"/><circle cx="23.3" cy="21.3" r="0.8" fill="#3440dc"/><circle cx="25.0" cy="2.9" r="0.8" fill="#3440dc"/><circle cx="19.5" cy="30.9" r="1.2" fill="#3a9a50"/><circle cx="31.3" cy="11.9" r="1.0" fill="#3440dc"/><circle cx="19.8" cy="23.8" r="1.0" fill="#3440dc"/><circle cx="30.5" cy="25.9" r="1.2" fill="#3a9a50"/><circle cx="32.0" cy="4.4" r="1.0" fill="#3440dc"/><circle cx="31.6" cy="36.4" r="0.8" fill="#d8402e"/><circle cx="34.8" cy="-1.0" r="1.1" fill="#d8402e"/><circle cx="34.8" cy="39.0" r="1.1" fill="#d8402e"/><circle cx="15.4" cy="15.4" r="1.1" fill="#3440dc"/><circle cx="36.0" cy="14.6" r="1.0" fill="#3440dc"/><circle cx="-0.6" cy="20.7" r="1.2" fill="#eef0f8"/><circle cx="39.4" cy="20.7" r="1.2" fill="#eef0f8"/><circle cx="1.1" cy="30.9" r="1.0" fill="#d8402e"/><circle cx="41.1" cy="30.9" r="1.0" fill="#d8402e"/><circle cx="25.2" cy="3.1" r="1.1" fill="#3440dc"/><circle cx="13.9" cy="21.6" r="0.9" fill="#d8402e"/><circle cx="10.2" cy="37.7" r="1.0" fill="#3440dc"/><circle cx="32.2" cy="33.5" r="1.0" fill="#3440dc"/><circle cx="21.6" cy="12.9" r="1.2" fill="#d8402e"/><circle cx="3.2" cy="14.9" r="0.9" fill="#3440dc"/><circle cx="36.5" cy="0.9" r="1.0" fill="#d8402e"/><circle cx="36.5" cy="40.9" r="1.0" fill="#d8402e"/><circle cx="25.4" cy="31.7" r="1.2" fill="#eef0f8"/><circle cx="7.4" cy="-0.3" r="1.0" fill="#d8402e"/><circle cx="7.4" cy="39.7" r="1.0" fill="#d8402e"/><circle cx="14.0" cy="1.0" r="1.2" fill="#d8402e"/><circle cx="14.0" cy="41.0" r="1.2" fill="#d8402e"/><circle cx="-1.2" cy="13.8" r="1.1" fill="#3a9a50"/><circle cx="38.8" cy="13.8" r="1.1" fill="#3a9a50"/><circle cx="1.3" cy="24.1" r="0.9" fill="#d8402e"/><circle cx="41.3" cy="24.1" r="0.9" fill="#d8402e"/><circle cx="28.7" cy="8.3" r="0.8" fill="#d8402e"/><circle cx="12.8" cy="12.1" r="0.8" fill="#d8402e"/><circle cx="16.3" cy="3.3" r="0.9" fill="#eef0f8"/><circle cx="14.7" cy="2.5" r="0.9" fill="#3440dc"/><circle cx="3.1" cy="14.8" r="1.2" fill="#eef0f8"/><circle cx="18.7" cy="23.2" r="1.2" fill="#d8402e"/><circle cx="30.2" cy="9.8" r="0.9" fill="#3440dc"/><circle cx="19.3" cy="11.5" r="0.9" fill="#3440dc"/><circle cx="21.7" cy="10.2" r="0.9" fill="#d8402e"/><circle cx="31.5" cy="17.9" r="1.1" fill="#3440dc"/><circle cx="10.2" cy="7.5" r="1.1" fill="#d8402e"/><circle cx="29.3" cy="18.4" r="0.9" fill="#3440dc"/><circle cx="37.9" cy="25.6" r="1.0" fill="#3440dc"/><circle cx="23.1" cy="28.4" r="1.1" fill="#3440dc"/><circle cx="10.9" cy="31.4" r="1.0" fill="#d8402e"/><circle cx="5.7" cy="16.1" r="0.8" fill="#eef0f8"/><circle cx="7.5" cy="21.7" r="1.1" fill="#3440dc"/><circle cx="27.5" cy="28.8" r="0.9" fill="#3440dc"/><circle cx="21.8" cy="11.2" r="1.0" fill="#d8402e"/><circle cx="-1.0" cy="18.7" r="1.1" fill="#3440dc"/><circle cx="39.0" cy="18.7" r="1.1" fill="#3440dc"/><circle cx="1.5" cy="22.0" r="1.1" fill="#3a9a50"/><circle cx="41.5" cy="22.0" r="1.1" fill="#3a9a50"/><circle cx="11.9" cy="36.2" r="1.2" fill="#3440dc"/><circle cx="33.9" cy="23.3" r="1.0" fill="#3440dc"/><circle cx="12.8" cy="34.1" r="1.2" fill="#d8402e"/><circle cx="13.6" cy="17.6" r="0.9" fill="#3440dc"/><circle cx="24.3" cy="2.2" r="0.8" fill="#3440dc"/><circle cx="34.9" cy="34.3" r="1.1" fill="#3440dc"/><circle cx="7.5" cy="22.7" r="1.1" fill="#d8402e"/><circle cx="31.5" cy="8.4" r="0.8" fill="#3440dc"/><circle cx="26.7" cy="27.9" r="1.1" fill="#d8402e"/><circle cx="35.1" cy="7.1" r="0.9" fill="#eef0f8"/><circle cx="0.7" cy="3.4" r="0.9" fill="#3440dc"/><circle cx="40.7" cy="3.4" r="0.9" fill="#3440dc"/><circle cx="34.4" cy="17.4" r="1.2" fill="#d8402e"/><circle cx="13.1" cy="5.3" r="0.9" fill="#d8402e"/><circle cx="18.5" cy="19.8" r="0.8" fill="#3440dc"/><circle cx="0.1" cy="35.5" r="1.1" fill="#3440dc"/><circle cx="40.1" cy="35.5" r="1.1" fill="#3440dc"/><circle cx="35.8" cy="23.8" r="0.9" fill="#3440dc"/><circle cx="8.5" cy="20.5" r="1.2" fill="#3a9a50"/><circle cx="9.3" cy="25.4" r="1.0" fill="#d8402e"/><circle cx="11.3" cy="-0.2" r="1.0" fill="#d8402e"/><circle cx="11.3" cy="39.8" r="1.0" fill="#d8402e"/><circle cx="3.5" cy="33.9" r="1.2" fill="#d8402e"/><circle cx="9.6" cy="9.4" r="1.0" fill="#d8402e"/><circle cx="-1.8" cy="14.5" r="1.1" fill="#d8402e"/><circle cx="38.2" cy="14.5" r="1.1" fill="#d8402e"/><circle cx="9.2" cy="30.3" r="1.2" fill="#60c0e0"/><circle cx="1.6" cy="31.3" r="1.2" fill="#3440dc"/><circle cx="41.6" cy="31.3" r="1.2" fill="#3440dc"/><circle cx="23.1" cy="4.3" r="1.1" fill="#3440dc"/><circle cx="19.4" cy="30.7" r="1.0" fill="#d8402e"/><circle cx="25.3" cy="35.9" r="1.2" fill="#3a9a50"/><circle cx="10.5" cy="16.9" r="1.0" fill="#3440dc"/><circle cx="3.2" cy="14.6" r="1.0" fill="#eef0f8"/><circle cx="35.2" cy="35.7" r="1.2" fill="#3440dc"/><circle cx="-0.9" cy="0.4" r="1.2" fill="#3440dc"/><circle cx="-0.9" cy="40.4" r="1.2" fill="#3440dc"/><circle cx="39.1" cy="0.4" r="1.2" fill="#3440dc"/><circle cx="39.1" cy="40.4" r="1.2" fill="#3440dc"/><circle cx="12.4" cy="14.5" r="1.2" fill="#d8402e"/><circle cx="22.5" cy="23.7" r="1.2" fill="#3440dc"/><circle cx="20.7" cy="22.0" r="1.0" fill="#3440dc"/><circle cx="-1.2" cy="25.9" r="0.8" fill="#3440dc"/><circle cx="38.8" cy="25.9" r="0.8" fill="#3440dc"/><circle cx="25.6" cy="1.8" r="0.9" fill="#3440dc"/><circle cx="25.6" cy="41.8" r="0.9" fill="#3440dc"/><circle cx="15.7" cy="8.8" r="1.0" fill="#d8402e"/><circle cx="4.8" cy="10.1" r="0.8" fill="#3440dc"/><circle cx="33.9" cy="16.5" r="1.1" fill="#d8402e"/><circle cx="15.1" cy="14.7" r="0.9" fill="#d8402e"/><circle cx="37.5" cy="19.8" r="1.1" fill="#3440dc"/><circle cx="3.6" cy="6.1" r="1.1" fill="#3440dc"/><circle cx="12.8" cy="34.5" r="1.0" fill="#d8402e"/><circle cx="31.4" cy="34.1" r="1.2" fill="#d8402e"/><circle cx="8.4" cy="10.6" r="1.1" fill="#3440dc"/><circle cx="21.6" cy="18.7" r="0.9" fill="#3440dc"/><circle cx="17.4" cy="27.0" r="0.9" fill="#eef0f8"/><circle cx="14.2" cy="18.8" r="1.0" fill="#d8402e"/><circle cx="37.6" cy="9.3" r="1.2" fill="#3440dc"/><circle cx="19.6" cy="14.0" r="1.0" fill="#d8402e"/><circle cx="33.8" cy="15.3" r="1.2" fill="#d8402e"/><circle cx="6.3" cy="22.5" r="1.0" fill="#3440dc"/><circle cx="11.7" cy="23.9" r="1.1" fill="#d8402e"/><circle cx="31.8" cy="32.1" r="0.9" fill="#3440dc"/><circle cx="10.8" cy="26.7" r="1.2" fill="#3440dc"/><circle cx="17.6" cy="2.4" r="0.8" fill="#d8402e"/><circle cx="21.5" cy="12.9" r="1.2" fill="#d8402e"/><circle cx="2.6" cy="13.9" r="1.1" fill="#3440dc"/><circle cx="8.7" cy="-1.5" r="1.2" fill="#3440dc"/><circle cx="8.7" cy="38.5" r="1.2" fill="#3440dc"/><circle cx="16.9" cy="25.9" r="0.8" fill="#60c0e0"/><circle cx="22.7" cy="23.6" r="1.1" fill="#60c0e0"/><circle cx="10.5" cy="5.5" r="0.9" fill="#3440dc"/><circle cx="14.0" cy="-1.7" r="0.9" fill="#d8402e"/><circle cx="14.0" cy="38.3" r="0.9" fill="#d8402e"/><circle cx="26.8" cy="20.1" r="0.9" fill="#eef0f8"/><circle cx="30.3" cy="16.6" r="1.2" fill="#3a9a50"/><circle cx="7.8" cy="14.9" r="1.0" fill="#3440dc"/><circle cx="23.7" cy="27.6" r="1.1" fill="#d8402e"/><circle cx="32.9" cy="16.4" r="0.9" fill="#d8402e"/><circle cx="24.3" cy="4.8" r="0.9" fill="#d8402e"/><circle cx="27.5" cy="29.7" r="0.9" fill="#3440dc"/><circle cx="14.1" cy="2.4" r="1.0" fill="#3a9a50"/><circle cx="33.5" cy="9.8" r="0.9" fill="#d8402e"/><circle cx="15.5" cy="27.4" r="0.9" fill="#3440dc"/><circle cx="5.1" cy="10.9" r="0.9" fill="#3440dc"/><circle cx="-0.3" cy="33.5" r="0.8" fill="#d8402e"/><circle cx="39.7" cy="33.5" r="0.8" fill="#d8402e"/><circle cx="33.0" cy="1.7" r="1.0" fill="#3440dc"/><circle cx="33.0" cy="41.7" r="1.0" fill="#3440dc"/><circle cx="16.5" cy="23.3" r="1.1" fill="#d8402e"/><circle cx="33.6" cy="1.5" r="1.2" fill="#d8402e"/><circle cx="33.6" cy="41.5" r="1.2" fill="#d8402e"/><circle cx="7.9" cy="5.8" r="1.2" fill="#3440dc"/><circle cx="-0.5" cy="7.8" r="0.8" fill="#d8402e"/><circle cx="39.5" cy="7.8" r="0.8" fill="#d8402e"/><circle cx="4.7" cy="13.1" r="1.1" fill="#60c0e0"/><circle cx="7.2" cy="15.9" r="0.9" fill="#3440dc"/><circle cx="2.3" cy="7.6" r="0.8" fill="#d8402e"/><circle cx="-1.0" cy="-1.1" r="1.0" fill="#3440dc"/><circle cx="-1.0" cy="38.9" r="1.0" fill="#3440dc"/><circle cx="39.0" cy="-1.1" r="1.0" fill="#3440dc"/><circle cx="39.0" cy="38.9" r="1.0" fill="#3440dc"/><circle cx="22.1" cy="33.4" r="1.2" fill="#d8402e"/><circle cx="-1.7" cy="11.1" r="1.2" fill="#3440dc"/><circle cx="38.3" cy="11.1" r="1.2" fill="#3440dc"/><circle cx="12.2" cy="-0.3" r="1.1" fill="#3440dc"/><circle cx="12.2" cy="39.7" r="1.1" fill="#3440dc"/><circle cx="3.8" cy="15.8" r="0.9" fill="#3440dc"/><circle cx="-1.2" cy="15.9" r="1.2" fill="#3440dc"/><circle cx="38.8" cy="15.9" r="1.2" fill="#3440dc"/><circle cx="12.5" cy="28.1" r="1.1" fill="#3440dc"/><circle cx="12.7" cy="13.6" r="1.0" fill="#3440dc"/><circle cx="18.9" cy="22.7" r="0.9" fill="#3440dc"/><circle cx="8.5" cy="5.0" r="0.9" fill="#3440dc"/><circle cx="37.2" cy="8.2" r="1.1" fill="#3440dc"/><circle cx="11.3" cy="3.2" r="1.1" fill="#d8402e"/><circle cx="14.0" cy="37.8" r="0.9" fill="#d8402e"/><circle cx="19.8" cy="13.4" r="0.8" fill="#d8402e"/><circle cx="20.2" cy="30.0" r="1.2" fill="#d8402e"/><circle cx="24.9" cy="14.5" r="0.9" fill="#d8402e"/><circle cx="3.8" cy="18.9" r="1.2" fill="#3440dc"/><circle cx="3.1" cy="1.2" r="1.0" fill="#eef0f8"/><circle cx="3.1" cy="41.2" r="1.0" fill="#eef0f8"/><circle cx="29.0" cy="35.1" r="0.9" fill="#d8402e"/><circle cx="31.2" cy="12.1" r="0.8" fill="#3440dc"/><circle cx="23.3" cy="17.6" r="0.9" fill="#d8402e"/><circle cx="37.1" cy="36.0" r="0.9" fill="#d8402e"/><circle cx="13.6" cy="13.8" r="1.2" fill="#d8402e"/><circle cx="0.7" cy="14.5" r="1.1" fill="#3440dc"/><circle cx="40.7" cy="14.5" r="1.1" fill="#3440dc"/><circle cx="13.3" cy="28.8" r="0.9" fill="#3440dc"/><circle cx="36.4" cy="8.3" r="1.2" fill="#3440dc"/><circle cx="6.8" cy="30.2" r="1.0" fill="#3440dc"/><circle cx="36.7" cy="5.5" r="1.2" fill="#3440dc"/><circle cx="21.0" cy="35.0" r="1.1" fill="#d8402e"/><circle cx="19.4" cy="28.4" r="1.1" fill="#3440dc"/><circle cx="30.4" cy="8.5" r="1.2" fill="#3440dc"/><circle cx="29.8" cy="7.1" r="0.8" fill="#3440dc"/><circle cx="-1.2" cy="25.9" r="1.1" fill="#d8402e"/><circle cx="38.8" cy="25.9" r="1.1" fill="#d8402e"/><circle cx="12.5" cy="22.3" r="1.2" fill="#3440dc"/><circle cx="-0.7" cy="26.4" r="1.0" fill="#3440dc"/><circle cx="39.3" cy="26.4" r="1.0" fill="#3440dc"/><circle cx="6.1" cy="1.3" r="1.2" fill="#eef0f8"/><circle cx="6.1" cy="41.3" r="1.2" fill="#eef0f8"/><circle cx="33.2" cy="7.5" r="0.9" fill="#3440dc"/><circle cx="12.9" cy="31.6" r="0.8" fill="#eef0f8"/><circle cx="31.2" cy="28.4" r="0.9" fill="#3440dc"/><circle cx="14.0" cy="29.8" r="0.9" fill="#d8402e"/><circle cx="19.1" cy="6.8" r="0.9" fill="#d8402e"/><circle cx="8.5" cy="4.1" r="1.0" fill="#d8402e"/><circle cx="5.6" cy="7.1" r="0.8" fill="#d8402e"/><circle cx="11.9" cy="1.8" r="0.9" fill="#3440dc"/><circle cx="11.9" cy="41.8" r="0.9" fill="#3440dc"/><circle cx="18.8" cy="5.5" r="1.2" fill="#3440dc"/><circle cx="28.2" cy="3.4" r="0.9" fill="#d8402e"/><circle cx="35.4" cy="3.3" r="1.1" fill="#3440dc"/><circle cx="33.4" cy="17.0" r="1.0" fill="#d8402e"/><circle cx="26.1" cy="19.3" r="1.0" fill="#3440dc"/><circle cx="33.7" cy="24.0" r="1.0" fill="#d8402e"/><circle cx="9.3" cy="36.7" r="1.0" fill="#d8402e"/><circle cx="17.2" cy="24.3" r="1.1" fill="#d8402e"/><circle cx="5.3" cy="11.1" r="0.8" fill="#d8402e"/><circle cx="-0.0" cy="2.4" r="1.1" fill="#eef0f8"/><circle cx="40.0" cy="2.4" r="1.1" fill="#eef0f8"/><circle cx="37.2" cy="23.7" r="1.0" fill="#3440dc"/><circle cx="22.0" cy="13.2" r="1.1" fill="#d8402e"/><circle cx="31.8" cy="-0.9" r="1.1" fill="#eef0f8"/><circle cx="31.8" cy="39.1" r="1.1" fill="#eef0f8"/><circle cx="8.2" cy="22.4" r="1.2" fill="#d8402e"/><circle cx="30.2" cy="15.0" r="1.2" fill="#d8402e"/><circle cx="17.4" cy="3.1" r="1.0" fill="#3440dc"/><circle cx="4.7" cy="34.2" r="0.9" fill="#d8402e"/><circle cx="21.1" cy="10.0" r="1.0" fill="#d8402e"/><circle cx="37.2" cy="23.6" r="1.2" fill="#3440dc"/><circle cx="37.1" cy="36.7" r="1.2" fill="#d8402e"/><circle cx="31.0" cy="28.5" r="1.1" fill="#3440dc"/><circle cx="8.3" cy="37.2" r="0.9" fill="#3440dc"/><circle cx="21.3" cy="7.5" r="1.1" fill="#d8402e"/><circle cx="5.6" cy="0.3" r="1.1" fill="#3440dc"/><circle cx="5.6" cy="40.3" r="1.1" fill="#3440dc"/><circle cx="36.3" cy="1.1" r="0.9" fill="#d8402e"/><circle cx="36.3" cy="41.1" r="0.9" fill="#d8402e"/><circle cx="36.6" cy="32.2" r="1.0" fill="#d8402e"/><circle cx="27.5" cy="24.8" r="1.0" fill="#3440dc"/><circle cx="8.4" cy="2.5" r="1.0" fill="#d8402e"/><circle cx="5.7" cy="35.4" r="0.8" fill="#d8402e"/><circle cx="25.8" cy="26.6" r="1.0" fill="#3440dc"/><circle cx="36.6" cy="27.1" r="1.2" fill="#eef0f8"/><circle cx="10.9" cy="17.2" r="1.1" fill="#d8402e"/><circle cx="15.5" cy="18.4" r="0.9" fill="#d8402e"/><circle cx="23.6" cy="29.0" r="0.9" fill="#d8402e"/><circle cx="24.6" cy="24.9" r="1.2" fill="#3440dc"/><circle cx="37.7" cy="30.5" r="1.2" fill="#3440dc"/><circle cx="22.5" cy="20.7" r="0.9" fill="#d8402e"/><circle cx="14.6" cy="10.6" r="0.9" fill="#d8402e"/><circle cx="4.1" cy="22.3" r="1.2" fill="#3440dc"/><circle cx="29.0" cy="37.2" r="0.8" fill="#eef0f8"/><circle cx="26.3" cy="37.0" r="0.9" fill="#d8402e"/><circle cx="0.8" cy="7.1" r="1.2" fill="#60c0e0"/><circle cx="40.8" cy="7.1" r="1.2" fill="#60c0e0"/><circle cx="5.7" cy="0.2" r="1.2" fill="#d8402e"/><circle cx="5.7" cy="40.2" r="1.2" fill="#d8402e"/><circle cx="12.9" cy="22.8" r="1.0" fill="#d8402e"/><circle cx="25.4" cy="37.6" r="1.0" fill="#d8402e"/><circle cx="28.5" cy="31.5" r="0.9" fill="#3440dc"/><circle cx="1.1" cy="9.2" r="1.2" fill="#3440dc"/><circle cx="41.1" cy="9.2" r="1.2" fill="#3440dc"/><circle cx="23.5" cy="23.9" r="1.1" fill="#d8402e"/><circle cx="-1.2" cy="19.0" r="1.0" fill="#3440dc"/><circle cx="38.8" cy="19.0" r="1.0" fill="#3440dc"/><circle cx="10.2" cy="36.3" r="1.0" fill="#d8402e"/><circle cx="37.0" cy="22.9" r="0.9" fill="#d8402e"/><circle cx="14.9" cy="29.9" r="1.1" fill="#3440dc"/><circle cx="-2.0" cy="14.7" r="1.1" fill="#d8402e"/><circle cx="38.0" cy="14.7" r="1.1" fill="#d8402e"/><circle cx="37.2" cy="28.3" r="1.2" fill="#3440dc"/><circle cx="0.9" cy="25.5" r="1.1" fill="#d8402e"/><circle cx="40.9" cy="25.5" r="1.1" fill="#d8402e"/><circle cx="31.5" cy="32.2" r="1.0" fill="#d8402e"/><circle cx="6.3" cy="33.1" r="1.1" fill="#3440dc"/><circle cx="21.9" cy="29.5" r="0.9" fill="#3440dc"/><circle cx="-1.8" cy="30.9" r="1.1" fill="#3440dc"/><circle cx="38.2" cy="30.9" r="1.1" fill="#3440dc"/><circle cx="8.3" cy="9.4" r="1.1" fill="#d8402e"/><circle cx="32.5" cy="10.5" r="1.0" fill="#d8402e"/><circle cx="11.4" cy="30.3" r="0.9" fill="#d8402e"/><circle cx="16.2" cy="34.4" r="0.9" fill="#3440dc"/><circle cx="5.6" cy="2.1" r="1.1" fill="#3440dc"/><circle cx="6.7" cy="11.3" r="0.8" fill="#3440dc"/><circle cx="29.3" cy="33.1" r="0.9" fill="#3440dc"/><circle cx="29.6" cy="36.9" r="1.1" fill="#3440dc"/><circle cx="24.0" cy="37.2" r="1.1" fill="#3a9a50"/><circle cx="19.5" cy="5.0" r="1.0" fill="#3440dc"/><circle cx="27.2" cy="19.4" r="0.9" fill="#d8402e"/><circle cx="30.0" cy="22.8" r="0.9" fill="#3440dc"/><circle cx="17.8" cy="4.7" r="1.0" fill="#d8402e"/><circle cx="11.0" cy="-1.9" r="1.0" fill="#d8402e"/><circle cx="11.0" cy="38.1" r="1.0" fill="#d8402e"/><circle cx="3.7" cy="35.4" r="1.2" fill="#d8402e"/><circle cx="12.6" cy="14.3" r="1.1" fill="#d8402e"/><circle cx="2.9" cy="26.7" r="0.9" fill="#3440dc"/><circle cx="26.0" cy="28.4" r="1.2" fill="#d8402e"/><circle cx="35.0" cy="31.9" r="1.0" fill="#eef0f8"/><circle cx="5.2" cy="17.3" r="1.1" fill="#eef0f8"/><circle cx="4.4" cy="30.0" r="1.0" fill="#3440dc"/><circle cx="25.9" cy="34.9" r="1.2" fill="#3440dc"/><circle cx="22.8" cy="31.4" r="0.9" fill="#3440dc"/><circle cx="7.5" cy="23.5" r="0.9" fill="#d8402e"/><circle cx="0.0" cy="17.7" r="1.0" fill="#3a9a50"/><circle cx="40.0" cy="17.7" r="1.0" fill="#3a9a50"/><circle cx="8.6" cy="14.9" r="0.8" fill="#3440dc"/><circle cx="6.8" cy="21.0" r="1.1" fill="#d8402e"/><circle cx="5.2" cy="2.5" r="1.1" fill="#eef0f8"/><circle cx="25.7" cy="24.1" r="0.9" fill="#d8402e"/><circle cx="17.8" cy="27.3" r="1.0" fill="#3440dc"/><circle cx="3.2" cy="37.9" r="1.0" fill="#d8402e"/><circle cx="32.2" cy="37.9" r="1.0" fill="#d8402e"/><circle cx="33.6" cy="19.5" r="0.9" fill="#d8402e"/><circle cx="13.5" cy="0.1" r="1.2" fill="#d8402e"/><circle cx="13.5" cy="40.1" r="1.2" fill="#d8402e"/><circle cx="33.4" cy="33.1" r="1.0" fill="#d8402e"/><circle cx="37.5" cy="2.1" r="1.0" fill="#3440dc"/><circle cx="29.7" cy="27.4" r="1.2" fill="#3a9a50"/><circle cx="24.3" cy="36.7" r="0.9" fill="#3440dc"/><circle cx="20.3" cy="10.7" r="1.2" fill="#eef0f8"/><circle cx="4.1" cy="26.0" r="1.1" fill="#3440dc"/><circle cx="5.8" cy="23.3" r="1.0" fill="#d8402e"/><circle cx="14.5" cy="14.2" r="1.0" fill="#d8402e"/><circle cx="4.4" cy="21.1" r="1.1" fill="#d8402e"/><circle cx="1.4" cy="19.4" r="1.2" fill="#d8402e"/><circle cx="41.4" cy="19.4" r="1.2" fill="#d8402e"/><circle cx="37.7" cy="29.8" r="1.0" fill="#3440dc"/><circle cx="30.2" cy="3.1" r="1.0" fill="#d8402e"/><circle cx="6.9" cy="18.3" r="0.9" fill="#d8402e"/><circle cx="23.6" cy="17.4" r="1.0" fill="#d8402e"/><circle cx="9.0" cy="22.7" r="1.1" fill="#d8402e"/><circle cx="23.9" cy="0.1" r="1.1" fill="#d8402e"/><circle cx="23.9" cy="40.1" r="1.1" fill="#d8402e"/><circle cx="13.5" cy="30.8" r="1.2" fill="#3440dc"/><circle cx="30.1" cy="17.0" r="0.8" fill="#3440dc"/><circle cx="11.8" cy="10.5" r="1.2" fill="#3440dc"/><circle cx="25.2" cy="30.5" r="1.1" fill="#3440dc"/><circle cx="14.3" cy="0.6" r="1.2" fill="#3440dc"/><circle cx="14.3" cy="40.6" r="1.2" fill="#3440dc"/><circle cx="19.9" cy="36.1" r="0.9" fill="#d8402e"/><circle cx="6.4" cy="17.2" r="0.8" fill="#d8402e"/><circle cx="12.5" cy="-1.9" r="1.0" fill="#3440dc"/><circle cx="12.5" cy="38.1" r="1.0" fill="#3440dc"/><circle cx="9.4" cy="19.9" r="1.1" fill="#d8402e"/><circle cx="11.2" cy="24.9" r="0.9" fill="#3440dc"/><circle cx="8.9" cy="22.7" r="1.2" fill="#3440dc"/><circle cx="32.5" cy="18.5" r="1.2" fill="#3440dc"/><circle cx="23.0" cy="4.8" r="0.9" fill="#d8402e"/><circle cx="26.8" cy="31.2" r="0.8" fill="#3440dc"/><circle cx="16.2" cy="0.7" r="1.1" fill="#3440dc"/><circle cx="16.2" cy="40.7" r="1.1" fill="#3440dc"/><circle cx="8.0" cy="28.6" r="0.9" fill="#d8402e"/><circle cx="37.1" cy="8.7" r="1.2" fill="#3440dc"/><circle cx="30.7" cy="18.2" r="1.0" fill="#3440dc"/><circle cx="6.2" cy="31.4" r="1.1" fill="#3440dc"/><circle cx="19.2" cy="9.4" r="0.9" fill="#d8402e"/><circle cx="28.8" cy="20.0" r="1.2" fill="#d8402e"/><circle cx="14.6" cy="14.2" r="0.9" fill="#d8402e"/><circle cx="9.9" cy="20.5" r="1.0" fill="#d8402e"/><circle cx="33.4" cy="14.0" r="1.0" fill="#3440dc"/><circle cx="37.9" cy="23.8" r="1.0" fill="#eef0f8"/><circle cx="7.7" cy="8.3" r="0.9" fill="#3440dc"/><circle cx="11.6" cy="33.9" r="1.1" fill="#d8402e"/><circle cx="15.7" cy="8.9" r="1.2" fill="#60c0e0"/><circle cx="8.5" cy="5.3" r="0.8" fill="#3440dc"/><circle cx="37.8" cy="13.1" r="0.8" fill="#d8402e"/><circle cx="19.5" cy="22.4" r="1.1" fill="#d8402e"/><circle cx="20.5" cy="32.8" r="1.2" fill="#eef0f8"/><circle cx="17.6" cy="13.9" r="1.0" fill="#3440dc"/><circle cx="18.2" cy="9.9" r="0.8" fill="#d8402e"/><circle cx="25.4" cy="36.5" r="0.9" fill="#3a9a50"/><circle cx="8.2" cy="3.4" r="1.2" fill="#d8402e"/><circle cx="13.8" cy="14.7" r="1.1" fill="#d8402e"/><circle cx="7.7" cy="-1.9" r="1.2" fill="#d8402e"/><circle cx="7.7" cy="38.1" r="1.2" fill="#d8402e"/><circle cx="16.4" cy="17.7" r="0.9" fill="#3440dc"/><circle cx="36.7" cy="20.8" r="1.2" fill="#3440dc"/><circle cx="26.4" cy="33.5" r="0.9" fill="#d8402e"/><circle cx="8.5" cy="20.5" r="1.2" fill="#d8402e"/><circle cx="8.4" cy="15.6" r="0.9" fill="#d8402e"/><circle cx="28.4" cy="19.7" r="1.0" fill="#3440dc"/><circle cx="33.5" cy="33.4" r="1.2" fill="#d8402e"/><circle cx="37.1" cy="9.0" r="1.2" fill="#3440dc"/><circle cx="9.2" cy="34.7" r="1.2" fill="#d8402e"/><circle cx="15.1" cy="37.8" r="1.0" fill="#3440dc"/><circle cx="0.5" cy="24.8" r="0.9" fill="#3440dc"/><circle cx="40.5" cy="24.8" r="0.9" fill="#3440dc"/><circle cx="36.6" cy="16.7" r="0.9" fill="#3440dc"/><circle cx="29.2" cy="21.4" r="1.2" fill="#d8402e"/><circle cx="11.1" cy="5.5" r="1.0" fill="#3440dc"/><circle cx="32.2" cy="17.0" r="1.1" fill="#3440dc"/><circle cx="35.0" cy="6.6" r="1.0" fill="#d8402e"/><circle cx="6.1" cy="31.8" r="1.0" fill="#d8402e"/><circle cx="3.4" cy="10.9" r="0.9" fill="#d8402e"/><circle cx="8.4" cy="11.3" r="0.9" fill="#3440dc"/><circle cx="20.2" cy="26.0" r="1.2" fill="#d8402e"/><circle cx="30.3" cy="9.8" r="0.8" fill="#d8402e"/><circle cx="35.0" cy="1.7" r="1.1" fill="#3440dc"/><circle cx="35.0" cy="41.7" r="1.1" fill="#3440dc"/><circle cx="26.3" cy="18.0" r="1.0" fill="#3440dc"/><circle cx="30.3" cy="4.0" r="1.0" fill="#d8402e"/><circle cx="16.6" cy="24.5" r="1.2" fill="#d8402e"/><circle cx="8.6" cy="36.8" r="1.2" fill="#d8402e"/><circle cx="4.1" cy="11.5" r="1.2" fill="#3440dc"/><circle cx="5.3" cy="20.4" r="1.0" fill="#3440dc"/><circle cx="28.9" cy="-0.0" r="0.9" fill="#3440dc"/><circle cx="28.9" cy="40.0" r="0.9" fill="#3440dc"/><circle cx="13.0" cy="22.0" r="1.2" fill="#3440dc"/><circle cx="33.9" cy="31.2" r="1.1" fill="#3440dc"/><circle cx="34.9" cy="32.0" r="0.9" fill="#d8402e"/><circle cx="16.3" cy="-1.4" r="1.2" fill="#d8402e"/><circle cx="16.3" cy="38.6" r="1.2" fill="#d8402e"/><circle cx="11.8" cy="28.3" r="1.2" fill="#3440dc"/><circle cx="22.9" cy="23.8" r="1.2" fill="#d8402e"/><circle cx="8.5" cy="5.0" r="1.0" fill="#3440dc"/><circle cx="18.5" cy="7.6" r="1.1" fill="#eef0f8"/><circle cx="34.6" cy="15.6" r="1.0" fill="#3440dc"/><circle cx="3.7" cy="0.8" r="1.0" fill="#3440dc"/><circle cx="3.7" cy="40.8" r="1.0" fill="#3440dc"/><circle cx="33.7" cy="30.5" r="1.1" fill="#3440dc"/><circle cx="9.7" cy="23.3" r="0.9" fill="#3440dc"/><circle cx="18.6" cy="2.8" r="1.0" fill="#3440dc"/><circle cx="8.7" cy="28.4" r="0.9" fill="#3440dc"/><circle cx="0.3" cy="23.4" r="0.8" fill="#60c0e0"/><circle cx="40.3" cy="23.4" r="0.8" fill="#60c0e0"/><circle cx="32.1" cy="24.2" r="0.8" fill="#3440dc"/><circle cx="15.9" cy="1.7" r="1.2" fill="#60c0e0"/><circle cx="15.9" cy="41.7" r="1.2" fill="#60c0e0"/><circle cx="28.5" cy="23.8" r="0.9" fill="#3440dc"/><circle cx="-0.6" cy="15.5" r="0.8" fill="#3440dc"/><circle cx="39.4" cy="15.5" r="0.8" fill="#3440dc"/><circle cx="3.2" cy="37.1" r="1.0" fill="#d8402e"/><circle cx="29.0" cy="29.2" r="1.1" fill="#3440dc"/><circle cx="33.4" cy="8.1" r="1.1" fill="#d8402e"/><circle cx="27.7" cy="22.7" r="0.9" fill="#d8402e"/><circle cx="14.3" cy="34.6" r="0.9" fill="#3440dc"/><circle cx="22.7" cy="11.9" r="1.1" fill="#60c0e0"/><circle cx="35.2" cy="15.6" r="1.2" fill="#d8402e"/><circle cx="7.2" cy="34.1" r="1.2" fill="#3440dc"/><circle cx="22.9" cy="25.7" r="0.9" fill="#d8402e"/><circle cx="4.8" cy="2.5" r="0.8" fill="#3440dc"/><circle cx="19.8" cy="6.3" r="1.2" fill="#d8402e"/><circle cx="-0.5" cy="25.3" r="0.9" fill="#3440dc"/><circle cx="39.5" cy="25.3" r="0.9" fill="#3440dc"/><circle cx="17.0" cy="35.6" r="1.0" fill="#d8402e"/><circle cx="9.7" cy="8.9" r="1.1" fill="#d8402e"/><circle cx="13.5" cy="-0.6" r="1.1" fill="#d8402e"/><circle cx="13.5" cy="39.4" r="1.1" fill="#d8402e"/><circle cx="14.6" cy="30.8" r="1.2" fill="#d8402e"/><circle cx="9.9" cy="29.6" r="0.8" fill="#d8402e"/><circle cx="21.5" cy="5.0" r="0.9" fill="#3440dc"/><circle cx="2.0" cy="21.6" r="1.1" fill="#3440dc"/><circle cx="42.0" cy="21.6" r="1.1" fill="#3440dc"/><circle cx="28.5" cy="2.0" r="1.2" fill="#eef0f8"/><circle cx="29.9" cy="0.2" r="0.9" fill="#d8402e"/><circle cx="29.9" cy="40.2" r="0.9" fill="#d8402e"/><circle cx="35.3" cy="10.8" r="0.9" fill="#d8402e"/><circle cx="29.2" cy="4.8" r="1.1" fill="#3440dc"/><circle cx="14.5" cy="9.0" r="0.9" fill="#3440dc"/><circle cx="29.1" cy="32.6" r="0.8" fill="#d8402e"/><circle cx="14.9" cy="0.5" r="1.2" fill="#3440dc"/><circle cx="14.9" cy="40.5" r="1.2" fill="#3440dc"/><circle cx="23.7" cy="20.9" r="1.0" fill="#3440dc"/><circle cx="21.6" cy="24.6" r="0.9" fill="#3440dc"/><circle cx="5.9" cy="17.8" r="0.9" fill="#d8402e"/><circle cx="20.4" cy="34.2" r="1.2" fill="#3440dc"/></pattern>
<filter id="ragged" x="-5%" y="-10%" width="110%" height="120%"><feTurbulence type="fractalNoise" baseFrequency="0.6" numOctaves="1" seed="2" result="t"/><feDisplacementMap in="SourceGraphic" in2="t" scale="3.2" xChannelSelector="R" yChannelSelector="G"/></filter>
<clipPath id="slab2"><path d="M19.70,335.80 L30.00,335.00 L45.00,336.50 L60.00,339.00 L80.00,336.70 L97.30,338.40 L114.60,341.00 L132.00,340.10 L147.50,337.50 L152.00,345.00 L157.00,375.00 L159.60,390.30 L161.30,394.60 L150.00,396.00 L130.00,396.50 L110.00,396.00 L90.00,397.00 L70.00,397.50 L50.00,397.00 L30.00,396.00 L12.00,395.00 L10.20,392.00 L15.00,365.00 Z"/></clipPath>
<clipPath id="mag"><circle cx="148" cy="306.6" r="26.4"/></clipPath>
<pattern id="amC" width="30" height="30" patternUnits="userSpaceOnUse"><rect width="30" height="30" fill="#c04050"/><circle cx="2.3" cy="5.0" r="1.4" fill="#2c3ce0"/><circle cx="17.8" cy="11.2" r="1.7" fill="#d8402e"/><circle cx="10.2" cy="23.8" r="1.9" fill="#2c3ce0"/><circle cx="20.5" cy="25.3" r="1.8" fill="#d8402e"/><circle cx="0.8" cy="22.7" r="1.5" fill="#2c3ce0"/><circle cx="30.8" cy="22.7" r="1.5" fill="#2c3ce0"/><circle cx="12.7" cy="18.6" r="1.4" fill="#d8402e"/><circle cx="12.3" cy="10.2" r="2.1" fill="#2c3ce0"/><circle cx="2.4" cy="16.2" r="1.7" fill="#d8402e"/><circle cx="5.8" cy="13.5" r="1.9" fill="#d8402e"/><circle cx="8.8" cy="26.2" r="1.6" fill="#d8402e"/><circle cx="5.6" cy="21.8" r="2.1" fill="#2c3ce0"/><circle cx="15.5" cy="19.1" r="1.8" fill="#d8402e"/><circle cx="3.4" cy="26.2" r="1.8" fill="#d8402e"/><circle cx="3.1" cy="15.4" r="2.2" fill="#d8402e"/><circle cx="2.2" cy="10.6" r="1.6" fill="#d8402e"/><circle cx="15.1" cy="2.0" r="1.9" fill="#2c3ce0"/><circle cx="23.0" cy="10.2" r="1.7" fill="#2c3ce0"/><circle cx="20.6" cy="-0.4" r="1.9" fill="#d8402e"/><circle cx="20.6" cy="29.6" r="1.9" fill="#d8402e"/><circle cx="23.9" cy="7.4" r="1.8" fill="#d8402e"/><circle cx="15.3" cy="18.3" r="1.7" fill="#2c3ce0"/><circle cx="24.2" cy="21.4" r="1.6" fill="#d8402e"/><circle cx="13.6" cy="25.7" r="1.8" fill="#2c3ce0"/><circle cx="15.9" cy="14.8" r="1.4" fill="#2c3ce0"/><circle cx="21.2" cy="15.5" r="2.1" fill="#2c3ce0"/><circle cx="3.2" cy="15.4" r="1.6" fill="#2c3ce0"/><circle cx="18.5" cy="8.3" r="1.9" fill="#2c3ce0"/><circle cx="4.2" cy="4.2" r="1.8" fill="#d8402e"/><circle cx="23.9" cy="-1.7" r="1.5" fill="#2c3ce0"/><circle cx="23.9" cy="28.3" r="1.5" fill="#2c3ce0"/><circle cx="13.8" cy="-1.7" r="1.8" fill="#d8402e"/><circle cx="13.8" cy="28.3" r="1.8" fill="#d8402e"/><circle cx="8.0" cy="19.4" r="1.4" fill="#d8402e"/><circle cx="5.6" cy="15.7" r="2.1" fill="#d8402e"/><circle cx="6.4" cy="19.5" r="1.4" fill="#2c3ce0"/><circle cx="14.7" cy="6.2" r="1.6" fill="#d8402e"/><circle cx="22.7" cy="7.7" r="1.6" fill="#2c3ce0"/><circle cx="8.8" cy="19.2" r="1.5" fill="#d8402e"/><circle cx="10.0" cy="19.9" r="1.9" fill="#2c3ce0"/><circle cx="8.6" cy="16.9" r="1.7" fill="#2c3ce0"/><circle cx="3.4" cy="1.2" r="2.2" fill="#d8402e"/><circle cx="3.4" cy="31.2" r="2.2" fill="#d8402e"/><circle cx="-1.8" cy="20.9" r="1.7" fill="#d8402e"/><circle cx="28.2" cy="20.9" r="1.7" fill="#d8402e"/><circle cx="6.4" cy="13.2" r="1.4" fill="#2c3ce0"/><circle cx="15.6" cy="6.4" r="2.0" fill="#2c3ce0"/><circle cx="23.0" cy="10.4" r="1.4" fill="#2c3ce0"/><circle cx="8.9" cy="4.4" r="1.8" fill="#2c3ce0"/><circle cx="18.1" cy="1.7" r="2.0" fill="#d8402e"/><circle cx="18.1" cy="31.7" r="2.0" fill="#d8402e"/><circle cx="19.5" cy="27.6" r="1.9" fill="#d8402e"/><circle cx="12.9" cy="26.3" r="1.8" fill="#d8402e"/><circle cx="23.6" cy="11.2" r="1.5" fill="#d8402e"/><circle cx="-1.2" cy="15.0" r="1.5" fill="#d8402e"/><circle cx="28.8" cy="15.0" r="1.5" fill="#d8402e"/><circle cx="12.3" cy="10.6" r="1.7" fill="#d8402e"/><circle cx="10.6" cy="19.2" r="2.2" fill="#d8402e"/><circle cx="25.3" cy="0.3" r="2.0" fill="#d8402e"/><circle cx="25.3" cy="30.3" r="2.0" fill="#d8402e"/><circle cx="1.2" cy="26.7" r="1.5" fill="#2c3ce0"/><circle cx="31.2" cy="26.7" r="1.5" fill="#2c3ce0"/><circle cx="9.7" cy="-1.0" r="2.0" fill="#d8402e"/><circle cx="9.7" cy="29.0" r="2.0" fill="#d8402e"/><circle cx="24.1" cy="0.1" r="1.7" fill="#d8402e"/><circle cx="24.1" cy="30.1" r="1.7" fill="#d8402e"/><circle cx="24.7" cy="2.4" r="1.4" fill="#2c3ce0"/><circle cx="18.2" cy="14.3" r="2.2" fill="#2c3ce0"/><circle cx="24.7" cy="21.0" r="1.9" fill="#d8402e"/><circle cx="12.7" cy="22.3" r="1.9" fill="#2c3ce0"/><circle cx="4.4" cy="16.5" r="2.1" fill="#d8402e"/><circle cx="9.6" cy="11.9" r="1.9" fill="#2c3ce0"/><circle cx="14.8" cy="18.0" r="1.5" fill="#d8402e"/><circle cx="13.1" cy="15.9" r="1.7" fill="#2c3ce0"/><circle cx="10.1" cy="-1.2" r="1.6" fill="#2c3ce0"/><circle cx="10.1" cy="28.8" r="1.6" fill="#2c3ce0"/><circle cx="25.7" cy="10.2" r="2.0" fill="#d8402e"/><circle cx="15.8" cy="27.9" r="1.4" fill="#d8402e"/><circle cx="11.8" cy="20.9" r="1.9" fill="#d8402e"/><circle cx="6.8" cy="20.1" r="2.0" fill="#d8402e"/><circle cx="6.1" cy="11.6" r="1.5" fill="#2c3ce0"/><circle cx="2.3" cy="-0.9" r="1.9" fill="#2c3ce0"/><circle cx="2.3" cy="29.1" r="1.9" fill="#2c3ce0"/><circle cx="15.8" cy="13.8" r="2.1" fill="#2c3ce0"/><circle cx="4.1" cy="10.7" r="1.5" fill="#d8402e"/><circle cx="3.3" cy="19.3" r="2.1" fill="#2c3ce0"/><circle cx="9.5" cy="10.1" r="2.1" fill="#2c3ce0"/><circle cx="17.9" cy="2.4" r="2.0" fill="#d8402e"/><circle cx="11.0" cy="19.8" r="1.9" fill="#d8402e"/><circle cx="15.4" cy="3.3" r="1.6" fill="#d8402e"/><circle cx="11.8" cy="16.2" r="1.6" fill="#2c3ce0"/><circle cx="5.8" cy="15.9" r="1.4" fill="#d8402e"/><circle cx="15.2" cy="12.4" r="1.8" fill="#2c3ce0"/><circle cx="2.2" cy="13.2" r="1.5" fill="#d8402e"/><circle cx="25.8" cy="27.2" r="2.0" fill="#2c3ce0"/><circle cx="18.4" cy="15.1" r="1.7" fill="#d8402e"/><circle cx="26.2" cy="13.9" r="1.7" fill="#2c3ce0"/><circle cx="7.5" cy="19.1" r="1.8" fill="#2c3ce0"/><circle cx="6.6" cy="2.5" r="1.5" fill="#2c3ce0"/><circle cx="25.4" cy="13.8" r="1.6" fill="#2c3ce0"/><circle cx="27.2" cy="7.2" r="1.5" fill="#2c3ce0"/><circle cx="22.1" cy="9.0" r="1.9" fill="#2c3ce0"/><circle cx="22.0" cy="16.4" r="1.6" fill="#2c3ce0"/><circle cx="11.3" cy="19.9" r="1.6" fill="#d8402e"/><circle cx="5.9" cy="5.3" r="1.4" fill="#d8402e"/><circle cx="16.7" cy="12.6" r="2.2" fill="#2c3ce0"/><circle cx="17.9" cy="19.7" r="2.2" fill="#2c3ce0"/><circle cx="13.3" cy="25.9" r="1.8" fill="#d8402e"/><circle cx="7.6" cy="22.3" r="1.7" fill="#d8402e"/><circle cx="13.3" cy="0.5" r="1.4" fill="#2c3ce0"/><circle cx="13.3" cy="30.5" r="1.4" fill="#2c3ce0"/><circle cx="4.0" cy="26.9" r="1.4" fill="#2c3ce0"/><circle cx="6.6" cy="12.4" r="1.6" fill="#d8402e"/><circle cx="10.4" cy="-0.6" r="2.0" fill="#d8402e"/><circle cx="10.4" cy="29.4" r="2.0" fill="#d8402e"/><circle cx="6.4" cy="18.8" r="2.0" fill="#d8402e"/><circle cx="27.7" cy="1.9" r="2.1" fill="#2c3ce0"/><circle cx="27.7" cy="31.9" r="2.1" fill="#2c3ce0"/><circle cx="9.3" cy="14.5" r="1.5" fill="#d8402e"/><circle cx="1.7" cy="10.3" r="1.5" fill="#d8402e"/><circle cx="31.7" cy="10.3" r="1.5" fill="#d8402e"/><circle cx="1.9" cy="5.5" r="1.5" fill="#d8402e"/><circle cx="31.9" cy="5.5" r="1.5" fill="#d8402e"/><circle cx="25.1" cy="12.8" r="2.1" fill="#d8402e"/><circle cx="5.2" cy="6.7" r="2.1" fill="#d8402e"/><circle cx="13.4" cy="17.4" r="2.1" fill="#d8402e"/><circle cx="27.1" cy="24.0" r="2.0" fill="#d8402e"/><circle cx="6.5" cy="25.9" r="1.4" fill="#d8402e"/><circle cx="9.9" cy="-1.6" r="1.5" fill="#d8402e"/><circle cx="9.9" cy="28.4" r="1.5" fill="#d8402e"/><circle cx="-0.4" cy="12.8" r="1.7" fill="#2c3ce0"/><circle cx="29.6" cy="12.8" r="1.7" fill="#2c3ce0"/><circle cx="7.8" cy="9.7" r="1.8" fill="#2c3ce0"/><circle cx="21.4" cy="18.4" r="2.1" fill="#d8402e"/><circle cx="27.5" cy="4.2" r="2.0" fill="#d8402e"/><circle cx="4.5" cy="26.0" r="1.8" fill="#d8402e"/><circle cx="8.3" cy="16.7" r="1.4" fill="#d8402e"/><circle cx="16.1" cy="26.2" r="1.8" fill="#2c3ce0"/><circle cx="25.5" cy="1.4" r="1.7" fill="#d8402e"/><circle cx="25.5" cy="31.4" r="1.7" fill="#d8402e"/><circle cx="0.7" cy="2.7" r="1.8" fill="#2c3ce0"/><circle cx="30.7" cy="2.7" r="1.8" fill="#2c3ce0"/><circle cx="19.6" cy="5.5" r="2.1" fill="#2c3ce0"/><circle cx="10.2" cy="6.0" r="1.6" fill="#d8402e"/><circle cx="11.5" cy="20.5" r="2.1" fill="#2c3ce0"/><circle cx="18.4" cy="24.7" r="1.5" fill="#2c3ce0"/><circle cx="5.2" cy="7.1" r="1.6" fill="#d8402e"/><circle cx="20.1" cy="22.3" r="1.8" fill="#d8402e"/><circle cx="19.2" cy="20.5" r="1.7" fill="#d8402e"/><circle cx="15.6" cy="17.4" r="1.8" fill="#d8402e"/><circle cx="15.0" cy="22.8" r="2.2" fill="#d8402e"/><circle cx="21.7" cy="18.7" r="1.5" fill="#d8402e"/><circle cx="10.2" cy="9.3" r="1.5" fill="#d8402e"/><circle cx="0.6" cy="-0.1" r="1.6" fill="#d8402e"/><circle cx="0.6" cy="29.9" r="1.6" fill="#d8402e"/><circle cx="30.6" cy="-0.1" r="1.6" fill="#d8402e"/><circle cx="30.6" cy="29.9" r="1.6" fill="#d8402e"/><circle cx="12.1" cy="-0.4" r="1.6" fill="#d8402e"/><circle cx="12.1" cy="29.6" r="1.6" fill="#d8402e"/><circle cx="14.6" cy="18.8" r="2.0" fill="#2c3ce0"/><circle cx="2.3" cy="27.1" r="1.5" fill="#2c3ce0"/><circle cx="24.6" cy="27.4" r="2.1" fill="#2c3ce0"/><circle cx="9.2" cy="19.1" r="2.1" fill="#2c3ce0"/><circle cx="18.1" cy="26.5" r="1.7" fill="#2c3ce0"/><circle cx="-1.6" cy="12.3" r="2.1" fill="#d8402e"/><circle cx="28.4" cy="12.3" r="2.1" fill="#d8402e"/><circle cx="11.1" cy="23.8" r="2.0" fill="#2c3ce0"/><circle cx="20.7" cy="9.7" r="1.7" fill="#d8402e"/><circle cx="24.3" cy="9.4" r="2.0" fill="#d8402e"/><circle cx="3.4" cy="23.6" r="1.9" fill="#2c3ce0"/><circle cx="20.4" cy="7.3" r="1.9" fill="#2c3ce0"/><circle cx="10.7" cy="3.2" r="1.4" fill="#d8402e"/><circle cx="8.7" cy="4.1" r="1.4" fill="#d8402e"/><circle cx="3.1" cy="6.5" r="1.6" fill="#d8402e"/><circle cx="3.2" cy="4.7" r="1.7" fill="#2c3ce0"/><circle cx="20.5" cy="6.9" r="1.6" fill="#2c3ce0"/><circle cx="12.9" cy="7.6" r="2.2" fill="#d8402e"/><circle cx="7.7" cy="0.1" r="1.4" fill="#2c3ce0"/><circle cx="7.7" cy="30.1" r="1.4" fill="#2c3ce0"/><circle cx="3.1" cy="6.8" r="1.7" fill="#d8402e"/><circle cx="10.1" cy="9.3" r="1.7" fill="#2c3ce0"/><circle cx="27.0" cy="21.1" r="1.7" fill="#2c3ce0"/><circle cx="10.1" cy="17.4" r="1.5" fill="#2c3ce0"/><circle cx="20.4" cy="24.7" r="1.5" fill="#2c3ce0"/><circle cx="-0.1" cy="9.8" r="1.8" fill="#2c3ce0"/><circle cx="29.9" cy="9.8" r="1.8" fill="#2c3ce0"/><circle cx="3.5" cy="16.0" r="1.6" fill="#d8402e"/><circle cx="26.7" cy="27.0" r="1.9" fill="#2c3ce0"/><circle cx="19.9" cy="13.5" r="1.9" fill="#2c3ce0"/><circle cx="-0.2" cy="24.1" r="1.4" fill="#2c3ce0"/><circle cx="29.8" cy="24.1" r="1.4" fill="#2c3ce0"/><circle cx="14.0" cy="4.6" r="1.5" fill="#d8402e"/><circle cx="26.1" cy="13.7" r="2.1" fill="#2c3ce0"/><circle cx="23.1" cy="26.0" r="1.5" fill="#d8402e"/><circle cx="14.2" cy="17.6" r="1.7" fill="#2c3ce0"/><circle cx="4.1" cy="7.3" r="2.0" fill="#d8402e"/><circle cx="16.4" cy="7.5" r="1.7" fill="#2c3ce0"/><circle cx="5.9" cy="2.2" r="2.1" fill="#2c3ce0"/><circle cx="21.3" cy="-1.2" r="1.4" fill="#2c3ce0"/><circle cx="21.3" cy="28.8" r="1.4" fill="#2c3ce0"/><circle cx="4.0" cy="15.1" r="1.7" fill="#d8402e"/><circle cx="6.5" cy="8.0" r="1.8" fill="#2c3ce0"/><circle cx="12.6" cy="22.2" r="2.0" fill="#2c3ce0"/><circle cx="23.5" cy="9.2" r="1.8" fill="#d8402e"/><circle cx="22.2" cy="8.0" r="1.5" fill="#2c3ce0"/><circle cx="7.0" cy="11.6" r="1.5" fill="#d8402e"/><circle cx="9.4" cy="0.2" r="1.8" fill="#2c3ce0"/><circle cx="9.4" cy="30.2" r="1.8" fill="#2c3ce0"/><circle cx="4.3" cy="22.2" r="1.8" fill="#d8402e"/><circle cx="26.5" cy="15.0" r="1.7" fill="#d8402e"/><circle cx="4.6" cy="26.6" r="1.5" fill="#d8402e"/><circle cx="13.5" cy="10.1" r="1.4" fill="#2c3ce0"/><circle cx="6.7" cy="9.4" r="1.8" fill="#d8402e"/><circle cx="26.8" cy="27.7" r="1.4" fill="#2c3ce0"/><circle cx="19.1" cy="4.5" r="1.9" fill="#d8402e"/><circle cx="-1.6" cy="17.0" r="1.5" fill="#d8402e"/><circle cx="28.4" cy="17.0" r="1.5" fill="#d8402e"/><circle cx="22.6" cy="10.6" r="1.8" fill="#d8402e"/><circle cx="20.1" cy="18.2" r="2.1" fill="#d8402e"/><circle cx="19.8" cy="26.1" r="1.9" fill="#2c3ce0"/><circle cx="8.1" cy="10.4" r="1.7" fill="#2c3ce0"/><circle cx="27.3" cy="7.8" r="2.2" fill="#d8402e"/><circle cx="19.2" cy="15.6" r="1.7" fill="#d8402e"/><circle cx="3.9" cy="17.0" r="1.6" fill="#2c3ce0"/><circle cx="27.9" cy="27.7" r="2.1" fill="#d8402e"/><circle cx="21.3" cy="5.0" r="1.9" fill="#d8402e"/><circle cx="26.1" cy="9.1" r="1.9" fill="#2c3ce0"/><circle cx="3.8" cy="21.2" r="1.5" fill="#d8402e"/><circle cx="13.7" cy="1.1" r="1.4" fill="#2c3ce0"/><circle cx="13.7" cy="31.1" r="1.4" fill="#2c3ce0"/><circle cx="-0.5" cy="-0.4" r="1.9" fill="#2c3ce0"/><circle cx="-0.5" cy="29.6" r="1.9" fill="#2c3ce0"/><circle cx="29.5" cy="-0.4" r="1.9" fill="#2c3ce0"/><circle cx="29.5" cy="29.6" r="1.9" fill="#2c3ce0"/><circle cx="-0.4" cy="1.3" r="1.8" fill="#d8402e"/><circle cx="-0.4" cy="31.3" r="1.8" fill="#d8402e"/><circle cx="29.6" cy="1.3" r="1.8" fill="#d8402e"/><circle cx="29.6" cy="31.3" r="1.8" fill="#d8402e"/><circle cx="4.9" cy="20.6" r="1.8" fill="#2c3ce0"/><circle cx="1.7" cy="9.9" r="2.2" fill="#2c3ce0"/><circle cx="31.7" cy="9.9" r="2.2" fill="#2c3ce0"/><circle cx="11.5" cy="0.4" r="2.0" fill="#2c3ce0"/><circle cx="11.5" cy="30.4" r="2.0" fill="#2c3ce0"/><circle cx="1.2" cy="15.0" r="2.2" fill="#d8402e"/><circle cx="31.2" cy="15.0" r="2.2" fill="#d8402e"/><circle cx="17.1" cy="27.9" r="1.7" fill="#d8402e"/><circle cx="15.9" cy="2.7" r="1.7" fill="#d8402e"/><circle cx="5.3" cy="25.1" r="2.0" fill="#2c3ce0"/><circle cx="18.2" cy="6.7" r="1.5" fill="#d8402e"/><circle cx="18.9" cy="9.2" r="2.1" fill="#d8402e"/><circle cx="3.9" cy="-0.7" r="1.9" fill="#d8402e"/><circle cx="3.9" cy="29.3" r="1.9" fill="#d8402e"/><circle cx="-0.5" cy="7.3" r="1.7" fill="#2c3ce0"/><circle cx="29.5" cy="7.3" r="1.7" fill="#2c3ce0"/><circle cx="16.1" cy="13.6" r="1.9" fill="#d8402e"/><circle cx="23.0" cy="11.4" r="2.1" fill="#2c3ce0"/><circle cx="15.3" cy="14.1" r="1.5" fill="#d8402e"/><circle cx="18.2" cy="7.9" r="2.1" fill="#d8402e"/><circle cx="8.7" cy="10.0" r="1.9" fill="#2c3ce0"/><circle cx="25.5" cy="3.8" r="1.5" fill="#d8402e"/><circle cx="4.3" cy="11.8" r="2.1" fill="#2c3ce0"/><circle cx="5.9" cy="21.3" r="1.8" fill="#d8402e"/><circle cx="3.8" cy="7.1" r="2.0" fill="#2c3ce0"/><circle cx="14.8" cy="26.6" r="1.6" fill="#d8402e"/><circle cx="20.2" cy="3.9" r="1.7" fill="#d8402e"/><circle cx="5.3" cy="8.3" r="1.8" fill="#d8402e"/><circle cx="10.2" cy="17.1" r="2.0" fill="#d8402e"/><circle cx="26.3" cy="18.5" r="1.8" fill="#2c3ce0"/><circle cx="2.5" cy="26.9" r="1.5" fill="#d8402e"/><circle cx="22.4" cy="2.8" r="1.7" fill="#d8402e"/><circle cx="1.6" cy="13.6" r="2.0" fill="#d8402e"/><circle cx="31.6" cy="13.6" r="2.0" fill="#d8402e"/><circle cx="25.3" cy="12.6" r="1.7" fill="#2c3ce0"/><circle cx="17.9" cy="-0.9" r="1.9" fill="#d8402e"/><circle cx="17.9" cy="29.1" r="1.9" fill="#d8402e"/><circle cx="0.4" cy="27.5" r="1.7" fill="#d8402e"/><circle cx="30.4" cy="27.5" r="1.7" fill="#d8402e"/><circle cx="11.0" cy="16.4" r="1.5" fill="#d8402e"/><circle cx="15.8" cy="24.5" r="1.7" fill="#2c3ce0"/><circle cx="7.3" cy="9.7" r="2.1" fill="#d8402e"/><circle cx="24.1" cy="4.2" r="1.8" fill="#2c3ce0"/><circle cx="17.8" cy="18.9" r="1.6" fill="#2c3ce0"/><circle cx="10.7" cy="16.5" r="2.0" fill="#2c3ce0"/><circle cx="6.8" cy="5.9" r="1.7" fill="#2c3ce0"/><circle cx="-0.7" cy="-1.3" r="2.2" fill="#2c3ce0"/><circle cx="-0.7" cy="28.7" r="2.2" fill="#2c3ce0"/><circle cx="29.3" cy="-1.3" r="2.2" fill="#2c3ce0"/><circle cx="29.3" cy="28.7" r="2.2" fill="#2c3ce0"/><circle cx="26.6" cy="23.9" r="2.0" fill="#d8402e"/><circle cx="25.2" cy="5.1" r="2.1" fill="#d8402e"/><circle cx="5.2" cy="1.4" r="1.7" fill="#d8402e"/><circle cx="5.2" cy="31.4" r="1.7" fill="#d8402e"/><circle cx="9.1" cy="5.6" r="2.1" fill="#d8402e"/></pattern>
<clipPath id="corec"><path d="M133.30,296.10 L139.00,292.00 L145.90,289.90 L149.50,291.00 L151.50,293.50 L154.00,293.00 L158.40,298.90 L156.50,302.00 L157.50,306.00 L159.50,310.00 L158.40,319.80 L150.00,320.50 L140.30,319.80 L135.00,316.00 L132.00,312.90 L131.80,303.00 Z"/></clipPath>
<filter id="blur2" x="-20%" y="-20%" width="140%" height="140%"><feGaussianBlur stdDeviation="2"/></filter>
<filter id="blur1" x="-20%" y="-20%" width="140%" height="140%"><feGaussianBlur stdDeviation="0.8"/></filter>
<filter id="blur4" x="-50%" y="-50%" width="200%" height="200%"><feGaussianBlur stdDeviation="4"/></filter>
<filter id="blur3" x="-50%" y="-50%" width="200%" height="200%"><feGaussianBlur stdDeviation="3"/></filter>
<filter id="noiseS" x="0" y="0" width="100%" height="100%"><feTurbulence type="fractalNoise" baseFrequency="0.45" numOctaves="2" seed="3"/><feColorMatrix type="matrix" values="0 0 0 0 0  0 0 0 0 0  0 0 0 0 0  1.2 0 0 0 -0.45"/></filter>
<filter id="noiseW" x="0" y="0" width="100%" height="100%"><feTurbulence type="fractalNoise" baseFrequency="0.12" numOctaves="3" seed="8"/><feColorMatrix type="matrix" values="0 0 0 0 0  0 0 0 0 0  0 0 0 0 0  1.6 0 0 0 -0.6"/></filter>
<clipPath id="dclip0"><rect x="193" y="137" width="82.60000000000002" height="82.6"/></clipPath>
<clipPath id="dclip1"><rect x="280" y="137" width="82.80000000000001" height="82.6"/></clipPath>
<clipPath id="dclip2"><rect x="367.2" y="137" width="82.60000000000002" height="82.6"/></clipPath>
<clipPath id="eclip0"><rect x="192.6" y="233.0" width="81.70000000000002" height="33.80000000000001"/></clipPath>
<clipPath id="eclip1"><rect x="279.9" y="233.0" width="82.40000000000003" height="33.80000000000001"/></clipPath>
<clipPath id="eclip2"><rect x="367" y="232.6" width="82.80000000000001" height="33.599999999999994"/></clipPath>
<linearGradient id="parV" x1="0" y1="1" x2="0" y2="0"><stop offset="0" stop-color="#4a36c8"/><stop offset="0.15" stop-color="#3a58e0"/><stop offset="0.3" stop-color="#2080e0"/><stop offset="0.45" stop-color="#12a8c8"/><stop offset="0.55" stop-color="#30b8a0"/><stop offset="0.65" stop-color="#80bc78"/><stop offset="0.74" stop-color="#e6ac3a"/><stop offset="0.85" stop-color="#f6c430"/><stop offset="1.0" stop-color="#f8e024"/></linearGradient>
<filter id="bl07" x="-100%" y="-100%" width="300%" height="300%"><feGaussianBlur stdDeviation="0.7"/></filter>
<filter id="bl15" x="-100%" y="-100%" width="300%" height="300%"><feGaussianBlur stdDeviation="1.5"/></filter>
<clipPath id="fclip0"><rect x="193" y="277" width="82.10000000000002" height="50.69999999999999"/></clipPath>
<radialGradient id="fg0" cx="234.6" cy="302.1" r="60" gradientUnits="userSpaceOnUse"><stop offset="0" stop-color="#1a9ae0"/><stop offset="0.12" stop-color="#1e7ee6"/><stop offset="0.35" stop-color="#2a60e6"/><stop offset="1" stop-color="#3b52e4"/></radialGradient>
<clipPath id="fclip1"><rect x="279.9" y="277" width="82.80000000000001" height="50.69999999999999"/></clipPath>
<radialGradient id="fg1" cx="322.1" cy="302.1" r="60" gradientUnits="userSpaceOnUse"><stop offset="0" stop-color="#2080e8"/><stop offset="0.1" stop-color="#3060e8"/><stop offset="0.4" stop-color="#3c4ae6"/><stop offset="1" stop-color="#4440e0"/></radialGradient>
<clipPath id="fclip2"><rect x="367" y="277" width="82.80000000000001" height="50.69999999999999"/></clipPath>
<radialGradient id="fg2" cx="409.3" cy="303.3" r="55" gradientUnits="userSpaceOnUse"><stop offset="0" stop-color="#18a0d0"/><stop offset="0.15" stop-color="#1c8ede"/><stop offset="0.45" stop-color="#2c62e6"/><stop offset="1" stop-color="#3c4ee4"/></radialGradient>
<clipPath id="gc199"><rect x="199.8" y="340.3" width="74.5" height="56.89999999999998"/></clipPath>
<clipPath id="gc284"><rect x="284.8" y="340.3" width="74.5" height="56.89999999999998"/></clipPath>
<clipPath id="gc372"><rect x="372.3" y="340.3" width="74.5" height="56.89999999999998"/></clipPath>
<clipPath id="hclip0"><rect x="487" y="22.2" width="85" height="84.89999999999999"/></clipPath>
<radialGradient id="hg0" cx="529.3" cy="64.5" r="62" gradientUnits="userSpaceOnUse"><stop offset="0" stop-color="#20b4c4"/><stop offset="0.2" stop-color="#18a8d0"/><stop offset="0.35" stop-color="#1a9cd8"/><stop offset="0.5" stop-color="#2080e0"/><stop offset="0.65" stop-color="#2c62e4"/><stop offset="0.8" stop-color="#3c4ade"/><stop offset="1" stop-color="#5034c0"/></radialGradient>
<clipPath id="hclip1"><rect x="600.2" y="22.2" width="85.79999999999995" height="84.89999999999999"/></clipPath>
<radialGradient id="hg1" cx="642.5" cy="64.5" r="62" gradientUnits="userSpaceOnUse"><stop offset="0" stop-color="#18b0c8"/><stop offset="0.38" stop-color="#14aacc"/><stop offset="0.52" stop-color="#1a94d8"/><stop offset="0.66" stop-color="#2476e2"/><stop offset="0.82" stop-color="#3458e2"/><stop offset="1" stop-color="#4a40cc"/></radialGradient>
<clipPath id="iclip"><rect x="488.2" y="136.8" width="194.09999999999997" height="178.0"/></clipPath>
<filter id="hrtem" x="0" y="0" width="100%" height="100%" color-interpolation-filters="sRGB"><feTurbulence type="fractalNoise" baseFrequency="0.17" numOctaves="2" seed="12" result="n1"/><feColorMatrix in="n1" type="matrix" values="1 0 0 0 0  1 0 0 0 0  1 0 0 0 0  0 0 0 0 1" result="g1"/><feTurbulence type="fractalNoise" baseFrequency="0.03" numOctaves="1" seed="4" result="n2"/><feColorMatrix in="n2" type="matrix" values="1 0 0 0 0  1 0 0 0 0  1 0 0 0 0  0 0 0 0 1" result="g2"/><feComposite in="g1" in2="g2" operator="arithmetic" k1="0" k2="1.12" k3="0.3" k4="-0.18"/><feGaussianBlur stdDeviation="0.7"/></filter>
<pattern id="fr1" width="40" height="3.1" patternUnits="userSpaceOnUse" patternTransform="rotate(-8)"><rect width="40" height="1.3" fill="#222"/><rect y="1.55" width="40" height="0.9" fill="#ddd"/></pattern>
<pattern id="fr2" width="3.0" height="40" patternUnits="userSpaceOnUse" patternTransform="rotate(12)"><rect width="1.3" height="40" fill="#222"/><rect x="1.5" width="0.9" height="40" fill="#ddd"/></pattern>
<filter id="bl05"><feGaussianBlur stdDeviation="0.5"/></filter>
<radialGradient id="softm"><stop offset="0.5" stop-color="#fff"/><stop offset="1" stop-color="#000"/></radialGradient>
<mask id="sm1" maskContentUnits="objectBoundingBox"><rect width="1" height="1" fill="url(#softm)"/></mask>
</defs>
<text x="6.7" y="9.6" font-size="12.2" text-anchor="start" fill="#000" >a</text>
<rect x="24" y="6.6" width="141" height="157.70000000000002" fill="none" stroke="#000" stroke-width="1.6"/>
<line x1="24.0" y1="164.3" x2="24.0" y2="166.3" stroke="#000" stroke-width="1"/>
<line x1="32.25" y1="164.3" x2="32.25" y2="165.60000000000002" stroke="#000" stroke-width="0.9"/>
<text x="24.0" y="175.2" font-size="8.8" text-anchor="middle" fill="#000" >0.8</text>
<line x1="40.5" y1="164.3" x2="40.5" y2="166.3" stroke="#000" stroke-width="1"/>
<line x1="48.75" y1="164.3" x2="48.75" y2="165.60000000000002" stroke="#000" stroke-width="0.9"/>
<text x="40.5" y="175.2" font-size="8.8" text-anchor="middle" fill="#000" >0.9</text>
<line x1="56.99999999999999" y1="164.3" x2="56.99999999999999" y2="166.3" stroke="#000" stroke-width="1"/>
<line x1="65.25" y1="164.3" x2="65.25" y2="165.60000000000002" stroke="#000" stroke-width="0.9"/>
<text x="56.99999999999999" y="175.2" font-size="8.8" text-anchor="middle" fill="#000" >1.0</text>
<line x1="73.5" y1="164.3" x2="73.5" y2="166.3" stroke="#000" stroke-width="1"/>
<line x1="81.75" y1="164.3" x2="81.75" y2="165.60000000000002" stroke="#000" stroke-width="0.9"/>
<text x="73.5" y="175.2" font-size="8.8" text-anchor="middle" fill="#000" >1.1</text>
<line x1="90.00000000000001" y1="164.3" x2="90.00000000000001" y2="166.3" stroke="#000" stroke-width="1"/>
<line x1="98.25000000000001" y1="164.3" x2="98.25000000000001" y2="165.60000000000002" stroke="#000" stroke-width="0.9"/>
<text x="90.00000000000001" y="175.2" font-size="8.8" text-anchor="middle" fill="#000" >1.2</text>
<line x1="106.5" y1="164.3" x2="106.5" y2="166.3" stroke="#000" stroke-width="1"/>
<line x1="114.75" y1="164.3" x2="114.75" y2="165.60000000000002" stroke="#000" stroke-width="0.9"/>
<text x="106.5" y="175.2" font-size="8.8" text-anchor="middle" fill="#000" >1.3</text>
<line x1="123.00000000000001" y1="164.3" x2="123.00000000000001" y2="166.3" stroke="#000" stroke-width="1"/>
<line x1="131.25" y1="164.3" x2="131.25" y2="165.60000000000002" stroke="#000" stroke-width="0.9"/>
<text x="123.00000000000001" y="175.2" font-size="8.8" text-anchor="middle" fill="#000" >1.4</text>
<line x1="139.5" y1="164.3" x2="139.5" y2="166.3" stroke="#000" stroke-width="1"/>
<line x1="147.75" y1="164.3" x2="147.75" y2="165.60000000000002" stroke="#000" stroke-width="0.9"/>
<text x="139.5" y="175.2" font-size="8.8" text-anchor="middle" fill="#000" >1.5</text>
<line x1="156.0" y1="164.3" x2="156.0" y2="166.3" stroke="#000" stroke-width="1"/>
<text x="156.0" y="175.2" font-size="8.8" text-anchor="middle" fill="#000" >1.6</text>
<line x1="21.8" y1="164.3" x2="24" y2="164.3" stroke="#000" stroke-width="1"/>
<text x="20.1" y="166.9" font-size="9" text-anchor="end" fill="#000" >0</text>
<line x1="21.8" y1="131.5" x2="24" y2="131.5" stroke="#000" stroke-width="1"/>
<text x="20.1" y="134.1" font-size="9" text-anchor="end" fill="#000" >1</text>
<line x1="21.8" y1="98.70000000000002" x2="24" y2="98.70000000000002" stroke="#000" stroke-width="1"/>
<text x="20.1" y="101.30000000000001" font-size="9" text-anchor="end" fill="#000" >2</text>
<line x1="21.8" y1="65.90000000000002" x2="24" y2="65.90000000000002" stroke="#000" stroke-width="1"/>
<text x="20.1" y="68.50000000000001" font-size="9" text-anchor="end" fill="#000" >3</text>
<line x1="21.8" y1="33.10000000000002" x2="24" y2="33.10000000000002" stroke="#000" stroke-width="1"/>
<text x="20.1" y="35.700000000000024" font-size="9" text-anchor="end" fill="#000" >4</text>
<line x1="22.7" y1="147.9" x2="24" y2="147.9" stroke="#000" stroke-width="1"/>
<line x1="22.7" y1="115.10000000000002" x2="24" y2="115.10000000000002" stroke="#000" stroke-width="1"/>
<line x1="22.7" y1="82.30000000000001" x2="24" y2="82.30000000000001" stroke="#000" stroke-width="1"/>
<line x1="22.7" y1="49.50000000000003" x2="24" y2="49.50000000000003" stroke="#000" stroke-width="1"/>
<text transform="translate(8.2,83.5) rotate(-90)" font-size="11.5" text-anchor="middle"><tspan font-weight="normal">Δ</tspan><tspan font-style="italic">G</tspan> (eV)</text>
<text transform="translate(8.2,83.5) rotate(-90)" font-size="11.5" text-anchor="middle" fill="none"></text>
<text x="73.5" y="186.8" font-size="10"><tspan font-style="italic">S</tspan><tspan font-size="7" dy="2.5">config</tspan><tspan dy="-2.5"> (</tspan><tspan font-style="italic">R</tspan>)</text>
<path d="M40.50,19.98 L41.66,23.30 L42.81,26.54 L43.97,29.70 L45.12,32.78 L46.28,35.78 L47.43,38.71 L48.59,41.57 L49.74,44.36 L50.90,47.08 L52.05,49.73 L53.20,52.31 L54.36,54.83 L55.51,57.29 L56.67,59.69 L57.83,62.03 L58.98,64.32 L60.13,66.54 L61.29,68.71 L62.44,70.83 L63.60,72.89 L64.75,74.91 L65.91,76.87 L67.06,78.79 L68.22,80.66 L69.37,82.48 L70.53,84.26 L71.68,85.99 L72.84,87.68 L73.99,89.33 L75.15,90.94 L76.30,92.50 L77.46,94.03 L78.61,95.53 L79.77,96.98 L80.92,98.40 L82.08,99.78 L83.23,101.13 L84.39,102.45 L85.55,103.74 L86.70,104.99 L87.86,106.21 L89.01,107.40 L90.16,108.56 L91.32,109.70 L92.47,110.80 L93.63,111.88 L94.78,112.93 L95.94,113.96 L97.09,114.96 L98.25,115.93 L99.41,116.88 L100.56,117.81 L101.71,118.71 L102.87,119.60 L104.03,120.46 L105.18,121.30 L106.33,122.12 L107.49,122.91 L108.64,123.69 L109.80,124.45 L110.95,125.19 L112.11,125.92 L113.26,126.62 L114.42,127.31 L115.57,127.98 L116.73,128.63 L117.88,129.27 L119.04,129.89 L120.19,130.50 L121.35,131.09 L122.50,131.67 L123.66,132.23 L124.81,132.78 L125.97,133.31 L127.12,133.84 L128.28,134.35 L129.44,134.84 L130.59,135.33 L131.74,135.80 L132.90,136.26 L134.06,136.71 L135.21,137.15 L136.36,137.58 L137.52,137.99 L138.68,138.40 L139.83,138.80 L140.98,139.18 L142.14,139.56 L143.30,139.93 L144.45,140.29 L145.60,140.64 L146.76,140.98 L147.91,141.31 L149.07,141.63 L150.22,141.95 L151.38,142.26 L152.53,142.56 L153.69,142.86 L154.84,143.14 L156.00,143.42" fill="none" stroke="#9933ee" stroke-width="1.3" stroke-dasharray="1.3,2.2"/>
<circle cx="40.5" cy="19.980000000000018" r="2.9" fill="#5020f0"/>
<circle cx="39.7" cy="19.180000000000017" r="1.0" fill="#a898ff"/>
<circle cx="119.69999999999997" cy="131.5" r="2.9" fill="#5020f0"/>
<circle cx="118.89999999999998" cy="130.7" r="1.0" fill="#a898ff"/>
<circle cx="156.0" cy="138.716" r="2.9" fill="#5020f0"/>
<circle cx="155.2" cy="137.916" r="1.0" fill="#a898ff"/>
<rect x="85.7" y="8.8" width="75.89999999999999" height="79.4" fill="#fff" stroke="#000" stroke-width="1.3"/>
<line x1="83.9" y1="88.4" x2="85.7" y2="88.4" stroke="#000" stroke-width="1"/>
<text x="83.5" y="91.5" font-size="8.6" text-anchor="end" fill="#000" >-2</text>
<line x1="83.9" y1="65.7" x2="85.7" y2="65.7" stroke="#000" stroke-width="1"/>
<text x="83.5" y="68.8" font-size="8.6" text-anchor="end" fill="#000" >0</text>
<line x1="83.9" y1="43.0" x2="85.7" y2="43.0" stroke="#000" stroke-width="1"/>
<text x="83.5" y="46.1" font-size="8.6" text-anchor="end" fill="#000" >2</text>
<line x1="83.9" y1="20.300000000000004" x2="85.7" y2="20.300000000000004" stroke="#000" stroke-width="1"/>
<text x="83.5" y="23.400000000000006" font-size="8.6" text-anchor="end" fill="#000" >4</text>
<text transform="translate(73.2,44.7) rotate(-90)" font-size="10.3" text-anchor="middle">Energy (eV)</text>
<line x1="85.7" y1="65.7" x2="161.6" y2="65.7" stroke="#777" stroke-width="0.8" stroke-dasharray="2,1.6"/>
<path d="M85.70,65.70 L86.32,65.70 L86.94,65.68 L87.56,65.66 L88.18,65.62 L88.80,65.57 L89.42,65.52 L90.04,65.45 L90.66,65.37 L91.28,65.28 L91.90,65.18 L92.52,65.07 L93.14,64.95 L93.76,64.82 L94.38,64.67 L95.00,64.52 L95.62,64.35 L96.24,64.17 L96.86,63.99 L97.48,63.79 L98.10,63.57 L98.72,63.35 L99.34,63.12 L99.96,62.87 L100.58,62.62 L101.20,62.35 L101.82,62.07 L102.44,61.78 L103.06,61.48 L103.68,61.16 L104.30,60.84 L104.92,60.50 L105.54,60.16 L106.16,59.80 L106.78,59.43 L107.40,59.04 L108.02,58.65 L108.64,58.24 L109.26,57.83 L109.88,57.40 L110.50,56.96 L111.12,56.51 L111.74,56.04 L112.36,55.57 L112.98,55.08 L113.60,54.58 L114.22,54.07 L114.84,53.55 L115.46,53.02 L116.08,52.48 L116.70,51.92 L117.32,51.35 L117.94,50.77 L118.56,50.18 L119.18,49.58 L119.80,48.96 L120.42,48.33 L121.04,47.70 L121.66,47.05 L122.28,46.38 L122.90,45.71 L123.52,45.02 L124.14,44.33 L124.76,43.62 L125.38,42.90 L126.00,42.16 L126.62,41.42 L127.24,40.66 L127.86,39.89 L128.48,39.11 L129.10,38.32 L129.72,37.52 L130.34,36.70 L130.96,35.88 L131.58,35.04 L132.20,34.19 L132.82,33.32 L133.44,32.45 L134.06,31.56 L134.68,30.66 L135.30,29.75 L135.92,28.83 L136.54,27.89 L137.16,26.95 L137.78,25.99 L138.40,25.02 L139.02,24.04 L139.64,23.04 L140.26,22.03 L140.88,21.02 L141.50,19.99 L142.12,18.94 L142.74,17.89 L143.36,16.82 L143.98,15.75 L144.60,14.66 L145.22,13.55 L145.84,12.44 L146.46,11.31 L147.08,10.18 L147.70,9.03" fill="none" stroke="#55bbee" stroke-width="1.2"/>
<path d="M85.70,65.70 C87.25,65.58 92.32,65.40 95.00,65.00 C97.68,64.60 99.30,63.93 101.80,63.30 C104.30,62.67 107.30,61.92 110.00,61.20 C112.70,60.48 115.17,59.63 118.00,59.00 C120.83,58.37 124.08,57.75 127.00,57.40 C129.92,57.05 132.83,56.67 135.50,56.90 C138.17,57.13 140.58,57.78 143.00,58.80 C145.42,59.82 147.83,61.22 150.00,63.00 C152.17,64.78 154.07,67.05 156.00,69.50 C157.93,71.95 160.67,76.33 161.60,77.70" fill="none" stroke="#dd33ee" stroke-width="1.3"/>
<line x1="86.7" y1="14" x2="92" y2="14" stroke="#55bbee" stroke-width="1.3"/>
<line x1="86.7" y1="23.1" x2="92" y2="23.1" stroke="#dd33ee" stroke-width="1.3"/>
<text x="98.7" y="16.4" font-size="7.8">BiTO-0<tspan font-style="italic">R</tspan></text>
<text x="98.7" y="25.6" font-size="7.8">BiTO-1.6<tspan font-style="italic">R</tspan></text>
<line x1="129.6" y1="42" x2="129.6" y2="55" stroke="#000" stroke-width="1"/>
<path d="M127.4,51.3 L129.6,56.3 L131.8,51.3 Z" fill="#000"/>
<line x1="125.5" y1="56.7" x2="134" y2="56.7" stroke="#000" stroke-width="0.8"/>
<line x1="125.5" y1="66.2" x2="134" y2="66.2" stroke="#000" stroke-width="0.8"/>
<line x1="129.6" y1="67.5" x2="129.6" y2="79.5" stroke="#000" stroke-width="1"/>
<path d="M127.4,71.3 L129.6,66.5 L131.8,71.3 Z" fill="#000"/>
<text x="122.6" y="64.7" font-size="8.6" font-weight="normal">Δ</text>
<text x="127.6" y="64.7" font-size="9.2" font-style="italic">G</text>
<text x="90.4" y="99.4" font-size="9.4"><tspan font-style="italic">r</tspan> (arb. units)</text>
<text x="6.4" y="209.5" font-size="12.6" text-anchor="start" fill="#000" >b</text>
<text x="83.3" y="207.2" font-size="9.6" text-anchor="middle" fill="#000" >HE-engineering</text>
<path d="M23.80,216.50 L32.00,214.20 L39.70,213.30 L50.00,215.80 L60.80,218.50 L70.00,215.00 L82.00,213.00 L94.00,214.50 L105.80,216.20 L120.00,213.50 L137.60,211.20 L150.80,211.50 L161.40,266.70 L158.70,269.40 L143.00,271.50 L127.00,272.50 L105.00,270.50 L79.40,269.40 L60.00,271.50 L42.30,272.50 L25.00,270.50 L9.30,269.40 Z" fill="url(#amA)" filter="url(#ragged)"/>
<g filter="url(#ragged)">
<path d="M19.70,335.80 L30.00,335.00 L45.00,336.50 L60.00,339.00 L80.00,336.70 L97.30,338.40 L114.60,341.00 L132.00,340.10 L147.50,337.50 L152.00,345.00 L157.00,375.00 L159.60,390.30 L161.30,394.60 L150.00,396.00 L130.00,396.50 L110.00,396.00 L90.00,397.00 L70.00,397.50 L50.00,397.00 L30.00,396.00 L12.00,395.00 L10.20,392.00 L15.00,365.00 Z" fill="url(#amB)"/>
<g clip-path="url(#slab2)">
<path d="M32.25,336.18 L36.09,338.88 L35.47,342.79 L32.09,344.92 L27.64,344.62 L25.52,341.03 L27.83,337.67 Z" fill="#e2d81c" stroke="#e2d81c" stroke-width="0.8" stroke-linejoin="round"/>
<path d="M48.79,338.59 L51.94,341.61 L50.05,345.06 L46.54,347.47 L42.09,345.73 L41.80,341.82 L44.02,338.42 Z" fill="#e2d81c" stroke="#e2d81c" stroke-width="0.8" stroke-linejoin="round"/>
<path d="M62.53,350.96 L58.34,348.85 L57.66,344.75 L61.35,342.53 L65.42,342.72 L68.18,345.58 L66.50,349.01 Z" fill="#e2d81c" stroke="#e2d81c" stroke-width="0.8" stroke-linejoin="round"/>
<path d="M75.19,346.96 L73.75,342.91 L77.01,340.14 L81.10,339.85 L84.68,342.19 L83.76,346.09 L79.77,347.42 Z" fill="#e2d81c" stroke="#e2d81c" stroke-width="0.8" stroke-linejoin="round"/>
<path d="M99.30,341.69 L98.39,345.06 L94.86,347.52 L90.42,345.77 L90.15,341.93 L92.28,338.73 L97.05,338.24 Z" fill="#e2d81c" stroke="#e2d81c" stroke-width="0.8" stroke-linejoin="round"/>
<path d="M116.01,347.76 L113.93,351.54 L109.18,352.69 L105.83,349.86 L105.33,346.01 L108.89,343.27 L113.66,344.10 Z" fill="#e2d81c" stroke="#e2d81c" stroke-width="0.8" stroke-linejoin="round"/>
<path d="M120.39,344.27 L124.65,342.33 L129.24,343.73 L130.63,347.78 L127.78,351.19 L123.22,350.74 L120.25,348.20 Z" fill="#e2d81c" stroke="#e2d81c" stroke-width="0.8" stroke-linejoin="round"/>
<path d="M137.79,344.54 L139.12,341.26 L143.35,339.68 L147.43,342.10 L147.02,346.15 L143.64,348.66 L139.54,347.58 Z" fill="#e2d81c" stroke="#e2d81c" stroke-width="0.8" stroke-linejoin="round"/>
<path d="M22.81,352.89 L26.30,350.23 L30.76,349.90 L33.85,352.97 L32.37,356.73 L28.37,358.31 L24.12,356.86 Z" fill="#e2d81c" stroke="#e2d81c" stroke-width="0.8" stroke-linejoin="round"/>
<path d="M47.88,360.37 L43.65,360.29 L41.23,357.50 L41.90,354.07 L45.66,351.84 L49.97,353.66 L50.62,357.52 Z" fill="#e2d81c" stroke="#e2d81c" stroke-width="0.8" stroke-linejoin="round"/>
<path d="M66.91,362.09 L62.79,363.34 L58.68,361.87 L57.56,357.93 L61.04,355.31 L65.34,355.51 L68.51,358.35 Z" fill="#e2d81c" stroke="#e2d81c" stroke-width="0.8" stroke-linejoin="round"/>
<path d="M81.96,352.09 L83.55,355.68 L82.19,359.49 L77.60,359.50 L73.37,357.86 L73.67,353.71 L77.56,351.91 Z" fill="#e2d81c" stroke="#e2d81c" stroke-width="0.8" stroke-linejoin="round"/>
<path d="M98.30,360.73 L93.41,361.11 L91.15,357.70 L91.25,353.99 L95.27,351.82 L99.61,353.55 L101.26,357.41 Z" fill="#e2d81c" stroke="#e2d81c" stroke-width="0.8" stroke-linejoin="round"/>
<path d="M115.40,358.10 L116.58,361.40 L114.95,365.03 L110.33,364.75 L106.62,362.42 L107.16,358.23 L111.52,356.66 Z" fill="#e2d81c" stroke="#e2d81c" stroke-width="0.8" stroke-linejoin="round"/>
<path d="M127.18,355.16 L131.06,356.82 L131.12,360.47 L128.52,363.46 L124.25,362.60 L121.67,359.73 L123.46,356.51 Z" fill="#e2d81c" stroke="#e2d81c" stroke-width="0.8" stroke-linejoin="round"/>
<path d="M149.27,355.96 L147.61,359.48 L143.60,360.66 L139.40,359.22 L139.09,355.28 L142.12,352.43 L146.31,353.26 Z" fill="#e2d81c" stroke="#e2d81c" stroke-width="0.8" stroke-linejoin="round"/>
<path d="M18.91,371.96 L16.69,368.46 L19.51,365.41 L23.54,364.96 L27.11,366.98 L26.51,370.65 L23.09,372.51 Z" fill="#e2d81c" stroke="#e2d81c" stroke-width="0.8" stroke-linejoin="round"/>
<path d="M42.70,372.25 L38.66,373.81 L34.88,372.05 L33.41,368.44 L36.75,365.99 L40.85,365.77 L43.74,368.55 Z" fill="#e2d81c" stroke="#e2d81c" stroke-width="0.8" stroke-linejoin="round"/>
<path d="M57.11,377.91 L53.14,375.74 L51.88,372.19 L54.21,368.67 L58.98,368.96 L61.55,371.94 L61.03,375.59 Z" fill="#e2d81c" stroke="#e2d81c" stroke-width="0.8" stroke-linejoin="round"/>
<path d="M80.70,371.02 L78.39,374.41 L74.34,375.15 L70.09,373.66 L70.57,369.72 L73.81,367.54 L78.02,367.79 Z" fill="#e2d81c" stroke="#e2d81c" stroke-width="0.8" stroke-linejoin="round"/>
<path d="M92.51,365.27 L96.72,366.86 L97.58,370.97 L94.04,373.78 L89.23,373.65 L86.87,370.14 L88.74,366.81 Z" fill="#e2d81c" stroke="#e2d81c" stroke-width="0.8" stroke-linejoin="round"/>
<path d="M107.25,370.21 L111.77,369.61 L114.94,372.78 L113.44,376.58 L109.46,378.52 L105.86,376.35 L104.25,372.95 Z" fill="#e2d81c" stroke="#e2d81c" stroke-width="0.8" stroke-linejoin="round"/>
<path d="M121.92,369.81 L126.48,370.21 L129.49,372.53 L129.69,376.36 L125.64,378.38 L121.42,376.99 L119.24,373.39 Z" fill="#e2d81c" stroke="#e2d81c" stroke-width="0.8" stroke-linejoin="round"/>
<path d="M148.31,372.47 L144.25,374.25 L140.21,373.61 L137.82,370.42 L140.34,367.37 L144.41,365.83 L147.62,368.58 Z" fill="#e2d81c" stroke="#e2d81c" stroke-width="0.8" stroke-linejoin="round"/>
<path d="M25.50,378.18 L28.49,380.95 L28.84,384.81 L24.92,387.29 L20.27,385.99 L19.38,382.25 L21.08,378.96 Z" fill="#e2d81c" stroke="#e2d81c" stroke-width="0.8" stroke-linejoin="round"/>
<path d="M45.95,386.88 L42.51,389.11 L38.16,388.63 L35.65,385.23 L37.76,381.53 L42.39,380.47 L45.37,383.32 Z" fill="#e2d81c" stroke="#e2d81c" stroke-width="0.8" stroke-linejoin="round"/>
<path d="M56.17,388.10 L57.40,384.36 L61.94,382.92 L65.07,385.72 L66.50,389.36 L62.75,391.69 L58.71,390.93 Z" fill="#e2d81c" stroke="#e2d81c" stroke-width="0.8" stroke-linejoin="round"/>
<path d="M75.58,382.09 L79.83,380.21 L84.00,382.44 L84.30,386.38 L81.42,389.48 L76.56,389.28 L74.27,385.76 Z" fill="#e2d81c" stroke="#e2d81c" stroke-width="0.8" stroke-linejoin="round"/>
<path d="M95.98,389.25 L92.74,386.27 L93.86,382.30 L98.08,380.58 L101.82,382.53 L103.56,386.03 L100.61,389.11 Z" fill="#e2d81c" stroke="#e2d81c" stroke-width="0.8" stroke-linejoin="round"/>
<path d="M114.64,383.42 L118.53,384.81 L120.33,387.93 L118.57,391.36 L114.20,391.55 L110.94,389.31 L111.08,385.63 Z" fill="#e2d81c" stroke="#e2d81c" stroke-width="0.8" stroke-linejoin="round"/>
<path d="M134.05,390.93 L129.87,391.92 L125.86,389.81 L126.08,385.70 L129.96,383.86 L134.13,384.36 L136.58,387.69 Z" fill="#e2d81c" stroke="#e2d81c" stroke-width="0.8" stroke-linejoin="round"/>
<path d="M156.44,385.10 L154.40,388.72 L149.92,389.10 L146.92,386.77 L146.57,383.29 L149.90,381.01 L154.36,381.53 Z" fill="#e2d81c" stroke="#e2d81c" stroke-width="0.8" stroke-linejoin="round"/>
</g>
</g>
<path d="M80.6,284.3 L89.8,284.3 L89.8,312 L95,312 L85.3,321.5 L75.7,312 L80.6,312 Z" fill="#e6e6e6" stroke="#a8a8a8" stroke-width="1.3"/>
<text x="27.6" y="306.2" font-size="9.8" text-anchor="start" fill="#000" >Annealing</text>
<text x="89" y="413.3" font-size="9.8" text-anchor="middle" fill="#000" >Crystalline/Amorphous</text>
<path d="M93.5,343 L125.4,292.9 L147.6,307 L152.1,332.9 Z" fill="#d9edf4"/>
<circle cx="148" cy="306.6" r="26.4" fill="url(#amC)"/>
<g clip-path="url(#mag)">
<path d="M176.0,305.1 L166.4,308.0 L175.4,312.3 Z" fill="#fafafa"/>
<path d="M173.0,319.2 L163.3,317.0 L168.9,325.2 Z" fill="#fafafa"/>
<path d="M163.4,330.0 L156.1,323.2 L156.9,333.2 Z" fill="#fafafa"/>
<path d="M152.3,334.3 L148.5,325.1 L145.1,334.4 Z" fill="#fafafa"/>
<path d="M143.3,334.2 L142.6,324.3 L136.4,332.1 Z" fill="#fafafa"/>
<path d="M129.9,327.9 L134.3,319.0 L125.0,322.6 Z" fill="#fafafa"/>
<path d="M123.1,319.5 L130.6,312.9 L120.7,312.6 Z" fill="#fafafa"/>
<path d="M120.0,307.6 L129.6,304.9 L120.7,300.4 Z" fill="#fafafa"/>
<path d="M123.8,292.5 L133.4,295.3 L128.2,286.8 Z" fill="#fafafa"/>
<path d="M132.5,283.3 L139.8,290.0 L139.0,280.1 Z" fill="#fafafa"/>
<path d="M144.5,278.8 L148.1,288.1 L151.8,278.9 Z" fill="#fafafa"/>
<path d="M152.7,279.0 L153.4,288.9 L159.6,281.1 Z" fill="#fafafa"/>
<path d="M164.2,283.7 L160.6,293.0 L169.5,288.7 Z" fill="#fafafa"/>
<path d="M173.2,294.3 L165.5,300.7 L175.5,301.2 Z" fill="#fafafa"/>
<path d="M133.30,296.10 L139.00,292.00 L145.90,289.90 L149.50,291.00 L151.50,293.50 L154.00,293.00 L158.40,298.90 L156.50,302.00 L157.50,306.00 L159.50,310.00 L158.40,319.80 L150.00,320.50 L140.30,319.80 L135.00,316.00 L132.00,312.90 L131.80,303.00 Z" fill="#f0e414"/>
<g clip-path="url(#corec)">
<circle cx="131.0" cy="289.5" r="1.35" fill="#f6ec1c" stroke="#c8b610" stroke-width="0.35"/>
<circle cx="133.8" cy="289.5" r="1.35" fill="#f6ec1c" stroke="#c8b610" stroke-width="0.35"/>
<circle cx="136.6" cy="289.5" r="1.35" fill="#f6ec1c" stroke="#c8b610" stroke-width="0.35"/>
<circle cx="139.4" cy="289.5" r="1.35" fill="#f6ec1c" stroke="#c8b610" stroke-width="0.35"/>
<circle cx="142.2" cy="289.5" r="1.35" fill="#f6ec1c" stroke="#c8b610" stroke-width="0.35"/>
<circle cx="145.0" cy="289.5" r="1.35" fill="#f6ec1c" stroke="#c8b610" stroke-width="0.35"/>
<circle cx="147.8" cy="289.5" r="1.35" fill="#f6ec1c" stroke="#c8b610" stroke-width="0.35"/>
<circle cx="150.6" cy="289.5" r="1.35" fill="#f6ec1c" stroke="#c8b610" stroke-width="0.35"/>
<circle cx="153.4" cy="289.5" r="1.35" fill="#f6ec1c" stroke="#c8b610" stroke-width="0.35"/>
<circle cx="156.2" cy="289.5" r="1.35" fill="#f6ec1c" stroke="#c8b610" stroke-width="0.35"/>
<circle cx="159.0" cy="289.5" r="1.35" fill="#f6ec1c" stroke="#c8b610" stroke-width="0.35"/>
<circle cx="132.4" cy="291.9" r="1.35" fill="#f6ec1c" stroke="#c8b610" stroke-width="0.35"/>
<circle cx="135.2" cy="291.9" r="1.35" fill="#f6ec1c" stroke="#c8b610" stroke-width="0.35"/>
<circle cx="138.0" cy="291.9" r="1.35" fill="#f6ec1c" stroke="#c8b610" stroke-width="0.35"/>
<circle cx="140.8" cy="291.9" r="1.35" fill="#f6ec1c" stroke="#c8b610" stroke-width="0.35"/>
<circle cx="143.6" cy="291.9" r="1.35" fill="#f6ec1c" stroke="#c8b610" stroke-width="0.35"/>
<circle cx="146.4" cy="291.9" r="1.35" fill="#f6ec1c" stroke="#c8b610" stroke-width="0.35"/>
<circle cx="149.2" cy="291.9" r="1.35" fill="#f6ec1c" stroke="#c8b610" stroke-width="0.35"/>
<circle cx="152.0" cy="291.9" r="1.35" fill="#f6ec1c" stroke="#c8b610" stroke-width="0.35"/>
<circle cx="154.8" cy="291.9" r="1.35" fill="#f6ec1c" stroke="#c8b610" stroke-width="0.35"/>
<circle cx="157.6" cy="291.9" r="1.35" fill="#f6ec1c" stroke="#c8b610" stroke-width="0.35"/>
<circle cx="160.4" cy="291.9" r="1.35" fill="#f6ec1c" stroke="#c8b610" stroke-width="0.35"/>
<circle cx="131.0" cy="294.4" r="1.35" fill="#f6ec1c" stroke="#c8b610" stroke-width="0.35"/>
<circle cx="133.8" cy="294.4" r="1.35" fill="#f6ec1c" stroke="#c8b610" stroke-width="0.35"/>
<circle cx="136.6" cy="294.4" r="1.35" fill="#f6ec1c" stroke="#c8b610" stroke-width="0.35"/>
<circle cx="139.4" cy="294.4" r="1.35" fill="#f6ec1c" stroke="#c8b610" stroke-width="0.35"/>
<circle cx="142.2" cy="294.4" r="1.35" fill="#f6ec1c" stroke="#c8b610" stroke-width="0.35"/>
<circle cx="145.0" cy="294.4" r="1.35" fill="#f6ec1c" stroke="#c8b610" stroke-width="0.35"/>
<circle cx="147.8" cy="294.4" r="1.35" fill="#f6ec1c" stroke="#c8b610" stroke-width="0.35"/>
<circle cx="150.6" cy="294.4" r="1.35" fill="#f6ec1c" stroke="#c8b610" stroke-width="0.35"/>
<circle cx="153.4" cy="294.4" r="1.35" fill="#f6ec1c" stroke="#c8b610" stroke-width="0.35"/>
<circle cx="156.2" cy="294.4" r="1.35" fill="#f6ec1c" stroke="#c8b610" stroke-width="0.35"/>
<circle cx="159.0" cy="294.4" r="1.35" fill="#f6ec1c" stroke="#c8b610" stroke-width="0.35"/>
<circle cx="132.4" cy="296.8" r="1.35" fill="#f6ec1c" stroke="#c8b610" stroke-width="0.35"/>
<circle cx="135.2" cy="296.8" r="1.35" fill="#f6ec1c" stroke="#c8b610" stroke-width="0.35"/>
<circle cx="138.0" cy="296.8" r="1.35" fill="#f6ec1c" stroke="#c8b610" stroke-width="0.35"/>
<circle cx="140.8" cy="296.8" r="1.35" fill="#f6ec1c" stroke="#c8b610" stroke-width="0.35"/>
<circle cx="143.6" cy="296.8" r="1.35" fill="#f6ec1c" stroke="#c8b610" stroke-width="0.35"/>
<circle cx="146.4" cy="296.8" r="1.35" fill="#f6ec1c" stroke="#c8b610" stroke-width="0.35"/>
<circle cx="149.2" cy="296.8" r="1.35" fill="#f6ec1c" stroke="#c8b610" stroke-width="0.35"/>
<circle cx="152.0" cy="296.8" r="1.35" fill="#f6ec1c" stroke="#c8b610" stroke-width="0.35"/>
<circle cx="154.8" cy="296.8" r="1.35" fill="#f6ec1c" stroke="#c8b610" stroke-width="0.35"/>
<circle cx="157.6" cy="296.8" r="1.35" fill="#f6ec1c" stroke="#c8b610" stroke-width="0.35"/>
<circle cx="160.4" cy="296.8" r="1.35" fill="#f6ec1c" stroke="#c8b610" stroke-width="0.35"/>
<circle cx="131.0" cy="299.3" r="1.35" fill="#f6ec1c" stroke="#c8b610" stroke-width="0.35"/>
<circle cx="133.8" cy="299.3" r="1.35" fill="#f6ec1c" stroke="#c8b610" stroke-width="0.35"/>
<circle cx="136.6" cy="299.3" r="1.35" fill="#f6ec1c" stroke="#c8b610" stroke-width="0.35"/>
<circle cx="139.4" cy="299.3" r="1.35" fill="#f6ec1c" stroke="#c8b610" stroke-width="0.35"/>
<circle cx="142.2" cy="299.3" r="1.35" fill="#f6ec1c" stroke="#c8b610" stroke-width="0.35"/>
<circle cx="145.0" cy="299.3" r="1.35" fill="#f6ec1c" stroke="#c8b610" stroke-width="0.35"/>
<circle cx="147.8" cy="299.3" r="1.35" fill="#f6ec1c" stroke="#c8b610" stroke-width="0.35"/>
<circle cx="150.6" cy="299.3" r="1.35" fill="#f6ec1c" stroke="#c8b610" stroke-width="0.35"/>
<circle cx="153.4" cy="299.3" r="1.35" fill="#f6ec1c" stroke="#c8b610" stroke-width="0.35"/>
<circle cx="156.2" cy="299.3" r="1.35" fill="#f6ec1c" stroke="#c8b610" stroke-width="0.35"/>
<circle cx="159.0" cy="299.3" r="1.35" fill="#f6ec1c" stroke="#c8b610" stroke-width="0.35"/>
<circle cx="132.4" cy="301.7" r="1.35" fill="#f6ec1c" stroke="#c8b610" stroke-width="0.35"/>
<circle cx="135.2" cy="301.7" r="1.35" fill="#f6ec1c" stroke="#c8b610" stroke-width="0.35"/>
<circle cx="138.0" cy="301.7" r="1.35" fill="#f6ec1c" stroke="#c8b610" stroke-width="0.35"/>
<circle cx="140.8" cy="301.7" r="1.35" fill="#f6ec1c" stroke="#c8b610" stroke-width="0.35"/>
<circle cx="143.6" cy="301.7" r="1.35" fill="#f6ec1c" stroke="#c8b610" stroke-width="0.35"/>
<circle cx="146.4" cy="301.7" r="1.35" fill="#f6ec1c" stroke="#c8b610" stroke-width="0.35"/>
<circle cx="149.2" cy="301.7" r="1.35" fill="#f6ec1c" stroke="#c8b610" stroke-width="0.35"/>
<circle cx="152.0" cy="301.7" r="1.35" fill="#f6ec1c" stroke="#c8b610" stroke-width="0.35"/>
<circle cx="154.8" cy="301.7" r="1.35" fill="#f6ec1c" stroke="#c8b610" stroke-width="0.35"/>
<circle cx="157.6" cy="301.7" r="1.35" fill="#f6ec1c" stroke="#c8b610" stroke-width="0.35"/>
<circle cx="160.4" cy="301.7" r="1.35" fill="#f6ec1c" stroke="#c8b610" stroke-width="0.35"/>
<circle cx="131.0" cy="304.2" r="1.35" fill="#f6ec1c" stroke="#c8b610" stroke-width="0.35"/>
<circle cx="133.8" cy="304.2" r="1.35" fill="#f6ec1c" stroke="#c8b610" stroke-width="0.35"/>
<circle cx="136.6" cy="304.2" r="1.35" fill="#f6ec1c" stroke="#c8b610" stroke-width="0.35"/>
<circle cx="139.4" cy="304.2" r="1.35" fill="#f6ec1c" stroke="#c8b610" stroke-width="0.35"/>
<circle cx="142.2" cy="304.2" r="1.35" fill="#f6ec1c" stroke="#c8b610" stroke-width="0.35"/>
<circle cx="145.0" cy="304.2" r="1.35" fill="#f6ec1c" stroke="#c8b610" stroke-width="0.35"/>
<circle cx="147.8" cy="304.2" r="1.35" fill="#f6ec1c" stroke="#c8b610" stroke-width="0.35"/>
<circle cx="150.6" cy="304.2" r="1.35" fill="#f6ec1c" stroke="#c8b610" stroke-width="0.35"/>
<circle cx="153.4" cy="304.2" r="1.35" fill="#f6ec1c" stroke="#c8b610" stroke-width="0.35"/>
<circle cx="156.2" cy="304.2" r="1.35" fill="#f6ec1c" stroke="#c8b610" stroke-width="0.35"/>
<circle cx="159.0" cy="304.2" r="1.35" fill="#f6ec1c" stroke="#c8b610" stroke-width="0.35"/>
<circle cx="132.4" cy="306.6" r="1.35" fill="#f6ec1c" stroke="#c8b610" stroke-width="0.35"/>
<circle cx="135.2" cy="306.6" r="1.35" fill="#f6ec1c" stroke="#c8b610" stroke-width="0.35"/>
<circle cx="138.0" cy="306.6" r="1.35" fill="#f6ec1c" stroke="#c8b610" stroke-width="0.35"/>
<circle cx="140.8" cy="306.6" r="1.35" fill="#f6ec1c" stroke="#c8b610" stroke-width="0.35"/>
<circle cx="143.6" cy="306.6" r="1.35" fill="#f6ec1c" stroke="#c8b610" stroke-width="0.35"/>
<circle cx="146.4" cy="306.6" r="1.35" fill="#f6ec1c" stroke="#c8b610" stroke-width="0.35"/>
<circle cx="149.2" cy="306.6" r="1.35" fill="#f6ec1c" stroke="#c8b610" stroke-width="0.35"/>
<circle cx="152.0" cy="306.6" r="1.35" fill="#f6ec1c" stroke="#c8b610" stroke-width="0.35"/>
<circle cx="154.8" cy="306.6" r="1.35" fill="#f6ec1c" stroke="#c8b610" stroke-width="0.35"/>
<circle cx="157.6" cy="306.6" r="1.35" fill="#f6ec1c" stroke="#c8b610" stroke-width="0.35"/>
<circle cx="160.4" cy="306.6" r="1.35" fill="#f6ec1c" stroke="#c8b610" stroke-width="0.35"/>
<circle cx="131.0" cy="309.1" r="1.35" fill="#f6ec1c" stroke="#c8b610" stroke-width="0.35"/>
<circle cx="133.8" cy="309.1" r="1.35" fill="#f6ec1c" stroke="#c8b610" stroke-width="0.35"/>
<circle cx="136.6" cy="309.1" r="1.35" fill="#f6ec1c" stroke="#c8b610" stroke-width="0.35"/>
<circle cx="139.4" cy="309.1" r="1.35" fill="#f6ec1c" stroke="#c8b610" stroke-width="0.35"/>
<circle cx="142.2" cy="309.1" r="1.35" fill="#f6ec1c" stroke="#c8b610" stroke-width="0.35"/>
<circle cx="145.0" cy="309.1" r="1.35" fill="#f6ec1c" stroke="#c8b610" stroke-width="0.35"/>
<circle cx="147.8" cy="309.1" r="1.35" fill="#f6ec1c" stroke="#c8b610" stroke-width="0.35"/>
<circle cx="150.6" cy="309.1" r="1.35" fill="#f6ec1c" stroke="#c8b610" stroke-width="0.35"/>
<circle cx="153.4" cy="309.1" r="1.35" fill="#f6ec1c" stroke="#c8b610" stroke-width="0.35"/>
<circle cx="156.2" cy="309.1" r="1.35" fill="#f6ec1c" stroke="#c8b610" stroke-width="0.35"/>
<circle cx="159.0" cy="309.1" r="1.35" fill="#f6ec1c" stroke="#c8b610" stroke-width="0.35"/>
<circle cx="132.4" cy="311.5" r="1.35" fill="#f6ec1c" stroke="#c8b610" stroke-width="0.35"/>
<circle cx="135.2" cy="311.5" r="1.35" fill="#f6ec1c" stroke="#c8b610" stroke-width="0.35"/>
<circle cx="138.0" cy="311.5" r="1.35" fill="#f6ec1c" stroke="#c8b610" stroke-width="0.35"/>
<circle cx="140.8" cy="311.5" r="1.35" fill="#f6ec1c" stroke="#c8b610" stroke-width="0.35"/>
<circle cx="143.6" cy="311.5" r="1.35" fill="#f6ec1c" stroke="#c8b610" stroke-width="0.35"/>
<circle cx="146.4" cy="311.5" r="1.35" fill="#f6ec1c" stroke="#c8b610" stroke-width="0.35"/>
<circle cx="149.2" cy="311.5" r="1.35" fill="#f6ec1c" stroke="#c8b610" stroke-width="0.35"/>
<circle cx="152.0" cy="311.5" r="1.35" fill="#f6ec1c" stroke="#c8b610" stroke-width="0.35"/>
<circle cx="154.8" cy="311.5" r="1.35" fill="#f6ec1c" stroke="#c8b610" stroke-width="0.35"/>
<circle cx="157.6" cy="311.5" r="1.35" fill="#f6ec1c" stroke="#c8b610" stroke-width="0.35"/>
<circle cx="160.4" cy="311.5" r="1.35" fill="#f6ec1c" stroke="#c8b610" stroke-width="0.35"/>
<circle cx="131.0" cy="314.0" r="1.35" fill="#f6ec1c" stroke="#c8b610" stroke-width="0.35"/>
<circle cx="133.8" cy="314.0" r="1.35" fill="#f6ec1c" stroke="#c8b610" stroke-width="0.35"/>
<circle cx="136.6" cy="314.0" r="1.35" fill="#f6ec1c" stroke="#c8b610" stroke-width="0.35"/>
<circle cx="139.4" cy="314.0" r="1.35" fill="#f6ec1c" stroke="#c8b610" stroke-width="0.35"/>
<circle cx="142.2" cy="314.0" r="1.35" fill="#f6ec1c" stroke="#c8b610" stroke-width="0.35"/>
<circle cx="145.0" cy="314.0" r="1.35" fill="#f6ec1c" stroke="#c8b610" stroke-width="0.35"/>
<circle cx="147.8" cy="314.0" r="1.35" fill="#f6ec1c" stroke="#c8b610" stroke-width="0.35"/>
<circle cx="150.6" cy="314.0" r="1.35" fill="#f6ec1c" stroke="#c8b610" stroke-width="0.35"/>
<circle cx="153.4" cy="314.0" r="1.35" fill="#f6ec1c" stroke="#c8b610" stroke-width="0.35"/>
<circle cx="156.2" cy="314.0" r="1.35" fill="#f6ec1c" stroke="#c8b610" stroke-width="0.35"/>
<circle cx="159.0" cy="314.0" r="1.35" fill="#f6ec1c" stroke="#c8b610" stroke-width="0.35"/>
<circle cx="132.4" cy="316.4" r="1.35" fill="#f6ec1c" stroke="#c8b610" stroke-width="0.35"/>
<circle cx="135.2" cy="316.4" r="1.35" fill="#f6ec1c" stroke="#c8b610" stroke-width="0.35"/>
<circle cx="138.0" cy="316.4" r="1.35" fill="#f6ec1c" stroke="#c8b610" stroke-width="0.35"/>
<circle cx="140.8" cy="316.4" r="1.35" fill="#f6ec1c" stroke="#c8b610" stroke-width="0.35"/>
<circle cx="143.6" cy="316.4" r="1.35" fill="#f6ec1c" stroke="#c8b610" stroke-width="0.35"/>
<circle cx="146.4" cy="316.4" r="1.35" fill="#f6ec1c" stroke="#c8b610" stroke-width="0.35"/>
<circle cx="149.2" cy="316.4" r="1.35" fill="#f6ec1c" stroke="#c8b610" stroke-width="0.35"/>
<circle cx="152.0" cy="316.4" r="1.35" fill="#f6ec1c" stroke="#c8b610" stroke-width="0.35"/>
<circle cx="154.8" cy="316.4" r="1.35" fill="#f6ec1c" stroke="#c8b610" stroke-width="0.35"/>
<circle cx="157.6" cy="316.4" r="1.35" fill="#f6ec1c" stroke="#c8b610" stroke-width="0.35"/>
<circle cx="160.4" cy="316.4" r="1.35" fill="#f6ec1c" stroke="#c8b610" stroke-width="0.35"/>
<circle cx="131.0" cy="318.9" r="1.35" fill="#f6ec1c" stroke="#c8b610" stroke-width="0.35"/>
<circle cx="133.8" cy="318.9" r="1.35" fill="#f6ec1c" stroke="#c8b610" stroke-width="0.35"/>
<circle cx="136.6" cy="318.9" r="1.35" fill="#f6ec1c" stroke="#c8b610" stroke-width="0.35"/>
<circle cx="139.4" cy="318.9" r="1.35" fill="#f6ec1c" stroke="#c8b610" stroke-width="0.35"/>
<circle cx="142.2" cy="318.9" r="1.35" fill="#f6ec1c" stroke="#c8b610" stroke-width="0.35"/>
<circle cx="145.0" cy="318.9" r="1.35" fill="#f6ec1c" stroke="#c8b610" stroke-width="0.35"/>
<circle cx="147.8" cy="318.9" r="1.35" fill="#f6ec1c" stroke="#c8b610" stroke-width="0.35"/>
<circle cx="150.6" cy="318.9" r="1.35" fill="#f6ec1c" stroke="#c8b610" stroke-width="0.35"/>
<circle cx="153.4" cy="318.9" r="1.35" fill="#f6ec1c" stroke="#c8b610" stroke-width="0.35"/>
<circle cx="156.2" cy="318.9" r="1.35" fill="#f6ec1c" stroke="#c8b610" stroke-width="0.35"/>
<circle cx="159.0" cy="318.9" r="1.35" fill="#f6ec1c" stroke="#c8b610" stroke-width="0.35"/>
<circle cx="132.4" cy="321.3" r="1.35" fill="#f6ec1c" stroke="#c8b610" stroke-width="0.35"/>
<circle cx="135.2" cy="321.3" r="1.35" fill="#f6ec1c" stroke="#c8b610" stroke-width="0.35"/>
<circle cx="138.0" cy="321.3" r="1.35" fill="#f6ec1c" stroke="#c8b610" stroke-width="0.35"/>
<circle cx="140.8" cy="321.3" r="1.35" fill="#f6ec1c" stroke="#c8b610" stroke-width="0.35"/>
<circle cx="143.6" cy="321.3" r="1.35" fill="#f6ec1c" stroke="#c8b610" stroke-width="0.35"/>
<circle cx="146.4" cy="321.3" r="1.35" fill="#f6ec1c" stroke="#c8b610" stroke-width="0.35"/>
<circle cx="149.2" cy="321.3" r="1.35" fill="#f6ec1c" stroke="#c8b610" stroke-width="0.35"/>
<circle cx="152.0" cy="321.3" r="1.35" fill="#f6ec1c" stroke="#c8b610" stroke-width="0.35"/>
<circle cx="154.8" cy="321.3" r="1.35" fill="#f6ec1c" stroke="#c8b610" stroke-width="0.35"/>
<circle cx="157.6" cy="321.3" r="1.35" fill="#f6ec1c" stroke="#c8b610" stroke-width="0.35"/>
<circle cx="160.4" cy="321.3" r="1.35" fill="#f6ec1c" stroke="#c8b610" stroke-width="0.35"/>
</g>
<circle cx="157" cy="312" r="2.6" fill="#60c0ee"/><circle cx="159" cy="316" r="2" fill="#2a60d0"/><circle cx="156.5" cy="295.5" r="1.6" fill="#2a8a40"/>
<circle cx="158" cy="303" r="2.4" fill="#d8402e"/><circle cx="160.5" cy="299.5" r="2.2" fill="#d8402e"/><circle cx="152" cy="292" r="2.2" fill="#2c3ce0"/>
</g>
<text x="179.8" y="10.1" font-size="12.5" text-anchor="start" fill="#000" >c</text>
<rect x="200.7" y="4.6" width="164.3" height="103.80000000000001" fill="none" stroke="#000" stroke-width="1.3"/>
<line x1="200.70" y1="108.4" x2="200.70" y2="110.4" stroke="#000" stroke-width="1"/>
<line x1="217.13" y1="108.4" x2="217.13" y2="109.7" stroke="#000" stroke-width="0.9"/>
<text x="200.7" y="117.9" font-size="9.2" text-anchor="middle" fill="#000" >20</text>
<line x1="233.56" y1="108.4" x2="233.56" y2="110.4" stroke="#000" stroke-width="1"/>
<line x1="249.99" y1="108.4" x2="249.99" y2="109.7" stroke="#000" stroke-width="0.9"/>
<text x="233.56" y="117.9" font-size="9.2" text-anchor="middle" fill="#000" >25</text>
<line x1="266.42" y1="108.4" x2="266.42" y2="110.4" stroke="#000" stroke-width="1"/>
<line x1="282.85" y1="108.4" x2="282.85" y2="109.7" stroke="#000" stroke-width="0.9"/>
<text x="266.42" y="117.9" font-size="9.2" text-anchor="middle" fill="#000" >30</text>
<line x1="299.28" y1="108.4" x2="299.28" y2="110.4" stroke="#000" stroke-width="1"/>
<line x1="315.71" y1="108.4" x2="315.71" y2="109.7" stroke="#000" stroke-width="0.9"/>
<text x="299.28" y="117.9" font-size="9.2" text-anchor="middle" fill="#000" >35</text>
<line x1="332.14" y1="108.4" x2="332.14" y2="110.4" stroke="#000" stroke-width="1"/>
<line x1="348.57" y1="108.4" x2="348.57" y2="109.7" stroke="#000" stroke-width="0.9"/>
<text x="332.14" y="117.9" font-size="9.2" text-anchor="middle" fill="#000" >40</text>
<line x1="365.00" y1="108.4" x2="365.00" y2="110.4" stroke="#000" stroke-width="1"/>
<text x="365.0" y="117.9" font-size="9.2" text-anchor="middle" fill="#000" >45</text>
<text x="282" y="128.3" font-size="9.7" text-anchor="middle">2<tspan font-style="italic">θ</tspan> (deg.)</text>
<text transform="translate(193.8,55.8) rotate(-90)" font-size="9.75" text-anchor="middle">Intensity (arb. units)</text>
<path d="M200.70,92.87 L201.03,92.87 L201.36,92.87 L201.69,92.87 L202.01,92.86 L202.34,92.86 L202.67,92.86 L203.00,92.85 L203.33,92.85 L203.66,92.84 L203.99,92.84 L204.31,92.83 L204.64,92.82 L204.97,92.81 L205.30,92.79 L205.63,92.77 L205.96,92.75 L206.29,92.73 L206.61,92.70 L206.94,92.66 L207.27,92.61 L207.60,92.56 L207.93,92.49 L208.26,92.40 L208.59,92.28 L208.91,92.13 L209.24,91.92 L209.57,91.64 L209.90,91.25 L210.23,90.72 L210.56,90.00 L210.89,89.13 L211.22,88.30 L211.54,87.94 L211.87,88.29 L212.20,89.10 L212.53,89.96 L212.86,90.66 L213.19,91.17 L213.52,91.54 L213.84,91.80 L214.17,91.98 L214.50,92.11 L214.83,92.19 L215.16,92.25 L215.49,92.28 L215.82,92.29 L216.14,92.28 L216.47,92.25 L216.80,92.21 L217.13,92.14 L217.46,92.05 L217.79,91.94 L218.12,91.79 L218.44,91.61 L218.77,91.37 L219.10,91.08 L219.43,90.71 L219.76,90.26 L220.09,89.71 L220.42,89.06 L220.74,88.36 L221.07,87.69 L221.40,87.19 L221.73,87.01 L222.06,87.21 L222.39,87.73 L222.72,88.41 L223.04,89.13 L223.37,89.80 L223.70,90.37 L224.03,90.84 L224.36,91.23 L224.69,91.54 L225.02,91.80 L225.34,92.01 L225.67,92.18 L226.00,92.33 L226.33,92.45 L226.66,92.55 L226.99,92.64 L227.32,92.71 L227.65,92.78 L227.97,92.84 L228.30,92.89 L228.63,92.93 L228.96,92.97 L229.29,93.01 L229.62,93.04 L229.95,93.07 L230.27,93.09 L230.60,93.12 L230.93,93.14 L231.26,93.16 L231.59,93.18 L231.92,93.19 L232.25,93.21 L232.57,93.23 L232.90,93.24 L233.23,93.25 L233.56,93.27 L233.89,93.28 L234.22,93.29 L234.55,93.30 L234.87,93.31 L235.20,93.32 L235.53,93.33 L235.86,93.34 L236.19,93.35 L236.52,93.35 L236.85,93.36 L237.17,93.37 L237.50,93.37 L237.83,93.38 L238.16,93.38 L238.49,93.38 L238.82,93.39 L239.15,93.39 L239.47,93.38 L239.80,93.38 L240.13,93.37 L240.46,93.36 L240.79,93.35 L241.12,93.33 L241.45,93.31 L241.77,93.29 L242.10,93.26 L242.43,93.23 L242.76,93.19 L243.09,93.15 L243.42,93.10 L243.75,93.05 L244.08,92.99 L244.40,92.94 L244.73,92.88 L245.06,92.82 L245.39,92.77 L245.72,92.71 L246.05,92.66 L246.38,92.62 L246.70,92.58 L247.03,92.55 L247.36,92.53 L247.69,92.51 L248.02,92.51 L248.35,92.51 L248.68,92.53 L249.00,92.55 L249.33,92.59 L249.66,92.63 L249.99,92.67 L250.32,92.72 L250.65,92.78 L250.98,92.84 L251.30,92.89 L251.63,92.95 L251.96,93.01 L252.29,93.06 L252.62,93.11 L252.95,93.15 L253.28,93.19 L253.60,93.23 L253.93,93.26 L254.26,93.28 L254.59,93.30 L254.92,93.31 L255.25,93.32 L255.58,93.33 L255.90,93.32 L256.23,93.32 L256.56,93.31 L256.89,93.29 L257.22,93.27 L257.55,93.25 L257.88,93.22 L258.20,93.19 L258.53,93.15 L258.86,93.11 L259.19,93.06 L259.52,93.00 L259.85,92.93 L260.18,92.86 L260.51,92.77 L260.83,92.67 L261.16,92.55 L261.49,92.42 L261.82,92.26 L262.15,92.07 L262.48,91.85 L262.81,91.59 L263.13,91.27 L263.46,90.88 L263.79,90.41 L264.12,89.82 L264.45,89.11 L264.78,88.22 L265.11,87.13 L265.43,85.82 L265.76,84.29 L266.09,82.63 L266.42,81.04 L266.75,79.85 L267.08,79.40 L267.41,79.86 L267.73,81.05 L268.06,82.65 L268.39,84.32 L268.72,85.85 L269.05,87.17 L269.38,88.27 L269.71,89.16 L270.03,89.88 L270.36,90.47 L270.69,90.95 L271.02,91.35 L271.35,91.67 L271.68,91.94 L272.01,92.17 L272.33,92.36 L272.66,92.53 L272.99,92.67 L273.32,92.79 L273.65,92.90 L273.98,92.99 L274.31,93.07 L274.63,93.14 L274.96,93.20 L275.29,93.25 L275.62,93.30 L275.95,93.34 L276.28,93.38 L276.61,93.41 L276.94,93.44 L277.26,93.46 L277.59,93.49 L277.92,93.50 L278.25,93.51 L278.58,93.52 L278.91,93.53 L279.24,93.53 L279.56,93.53 L279.89,93.52 L280.22,93.51 L280.55,93.48 L280.88,93.46 L281.21,93.42 L281.54,93.37 L281.86,93.30 L282.19,93.22 L282.52,93.11 L282.85,92.96 L283.18,92.76 L283.51,92.49 L283.84,92.11 L284.16,91.56 L284.49,90.74 L284.82,89.47 L285.15,87.47 L285.48,84.45 L285.81,80.76 L286.14,78.81 L286.46,80.78 L286.79,84.47 L287.12,87.51 L287.45,89.52 L287.78,90.80 L288.11,91.64 L288.44,92.21 L288.76,92.60 L289.09,92.89 L289.42,93.10 L289.75,93.26 L290.08,93.39 L290.41,93.49 L290.74,93.57 L291.06,93.63 L291.39,93.69 L291.72,93.73 L292.05,93.77 L292.38,93.80 L292.71,93.83 L293.04,93.85 L293.37,93.87 L293.69,93.89 L294.02,93.90 L294.35,93.92 L294.68,93.93 L295.01,93.93 L295.34,93.94 L295.67,93.95 L295.99,93.95 L296.32,93.95 L296.65,93.95 L296.98,93.95 L297.31,93.95 L297.64,93.95 L297.97,93.94 L298.29,93.94 L298.62,93.93 L298.95,93.92 L299.28,93.92 L299.61,93.90 L299.94,93.89 L300.27,93.88 L300.59,93.86 L300.92,93.85 L301.25,93.83 L301.58,93.81 L301.91,93.78 L302.24,93.76 L302.57,93.73 L302.89,93.70 L303.22,93.66 L303.55,93.62 L303.88,93.58 L304.21,93.54 L304.54,93.49 L304.87,93.43 L305.19,93.37 L305.52,93.30 L305.85,93.23 L306.18,93.14 L306.51,93.05 L306.84,92.95 L307.17,92.84 L307.50,92.72 L307.82,92.58 L308.15,92.42 L308.48,92.25 L308.81,92.06 L309.14,91.85 L309.47,91.61 L309.80,91.36 L310.12,91.07 L310.45,90.76 L310.78,90.43 L311.11,90.08 L311.44,89.72 L311.77,89.36 L312.10,89.02 L312.42,88.72 L312.75,88.47 L313.08,88.29 L313.41,88.17 L313.74,88.12 L314.07,88.12 L314.40,88.16 L314.72,88.20 L315.05,88.24 L315.38,88.27 L315.71,88.26 L316.04,88.22 L316.37,88.14 L316.70,88.02 L317.02,87.85 L317.35,87.62 L317.68,87.34 L318.01,87.00 L318.34,86.60 L318.67,86.11 L319.00,85.55 L319.32,84.90 L319.65,84.17 L319.98,83.40 L320.31,82.66 L320.64,82.05 L320.97,81.65 L321.30,81.51 L321.62,81.60 L321.95,81.81 L322.28,82.05 L322.61,82.25 L322.94,82.38 L323.27,82.44 L323.60,82.42 L323.92,82.33 L324.25,82.18 L324.58,81.97 L324.91,81.71 L325.24,81.40 L325.57,81.03 L325.90,80.61 L326.23,80.12 L326.55,79.55 L326.88,78.89 L327.21,78.11 L327.54,77.19 L327.87,76.10 L328.20,74.78 L328.53,73.19 L328.85,71.26 L329.18,68.91 L329.51,66.08 L329.84,62.74 L330.17,58.96 L330.50,54.98 L330.83,51.30 L331.15,48.66 L331.48,47.78 L331.81,48.96 L332.14,51.89 L332.47,55.86 L332.80,60.13 L333.13,64.19 L333.45,67.80 L333.78,70.90 L334.11,73.51 L334.44,75.70 L334.77,77.53 L335.10,79.08 L335.43,80.40 L335.75,81.53 L336.08,82.50 L336.41,83.36 L336.74,84.12 L337.07,84.79 L337.40,85.39 L337.73,85.94 L338.05,86.43 L338.38,86.88 L338.71,87.30 L339.04,87.68 L339.37,88.04 L339.70,88.37 L340.03,88.68 L340.36,88.96 L340.68,89.23 L341.01,89.48 L341.34,89.72 L341.67,89.95 L342.00,90.16 L342.33,90.35 L342.66,90.54 L342.98,90.72 L343.31,90.89 L343.64,91.05 L343.97,91.20 L344.30,91.35 L344.63,91.49 L344.96,91.62 L345.28,91.74 L345.61,91.86 L345.94,91.98 L346.27,92.09 L346.60,92.20 L346.93,92.30 L347.26,92.40 L347.58,92.49 L347.91,92.58 L348.24,92.67 L348.57,92.76 L348.90,92.84 L349.23,92.92 L349.56,93.00 L349.88,93.08 L350.21,93.15 L350.54,93.22 L350.87,93.29 L351.20,93.36 L351.53,93.42 L351.86,93.49 L352.18,93.55 L352.51,93.61 L352.84,93.67 L353.17,93.73 L353.50,93.79 L353.83,93.85 L354.16,93.90 L354.48,93.96 L354.81,94.01 L355.14,94.06 L355.47,94.11 L355.80,94.16 L356.13,94.20 L356.46,94.25 L356.78,94.30 L357.11,94.34 L357.44,94.38 L357.77,94.42 L358.10,94.46 L358.43,94.50 L358.76,94.54 L359.09,94.58 L359.41,94.62 L359.74,94.65 L360.07,94.69 L360.40,94.72 L360.73,94.75 L361.06,94.78 L361.39,94.81 L361.71,94.84 L362.04,94.87 L362.37,94.90 L362.70,94.93 L363.03,94.95 L363.36,94.98 L363.69,95.00 L364.01,95.03 L364.34,95.05 L364.67,95.07 L365.00,95.10" fill="none" stroke="#5bbcf0" stroke-width="1.25" stroke-linejoin="round"/>
<path d="M200.70,66.71 L201.03,66.71 L201.36,66.71 L201.69,66.71 L202.01,66.71 L202.34,66.71 L202.67,66.71 L203.00,66.70 L203.33,66.70 L203.66,66.69 L203.99,66.68 L204.31,66.67 L204.64,66.66 L204.97,66.64 L205.30,66.63 L205.63,66.61 L205.96,66.59 L206.29,66.56 L206.61,66.54 L206.94,66.51 L207.27,66.48 L207.60,66.45 L207.93,66.41 L208.26,66.38 L208.59,66.34 L208.91,66.30 L209.24,66.26 L209.57,66.22 L209.90,66.18 L210.23,66.14 L210.56,66.09 L210.89,66.05 L211.22,66.01 L211.54,65.97 L211.87,65.93 L212.20,65.89 L212.53,65.86 L212.86,65.83 L213.19,65.80 L213.52,65.77 L213.84,65.74 L214.17,65.72 L214.50,65.70 L214.83,65.68 L215.16,65.67 L215.49,65.66 L215.82,65.65 L216.14,65.64 L216.47,65.63 L216.80,65.62 L217.13,65.60 L217.46,65.59 L217.79,65.57 L218.12,65.54 L218.44,65.51 L218.77,65.46 L219.10,65.41 L219.43,65.34 L219.76,65.26 L220.09,65.17 L220.42,65.07 L220.74,64.99 L221.07,64.93 L221.40,64.90 L221.73,64.92 L222.06,65.00 L222.39,65.13 L222.72,65.29 L223.04,65.47 L223.37,65.66 L223.70,65.85 L224.03,66.02 L224.36,66.17 L224.69,66.31 L225.02,66.44 L225.34,66.55 L225.67,66.65 L226.00,66.73 L226.33,66.81 L226.66,66.88 L226.99,66.94 L227.32,66.99 L227.65,67.04 L227.97,67.08 L228.30,67.12 L228.63,67.16 L228.96,67.19 L229.29,67.22 L229.62,67.24 L229.95,67.27 L230.27,67.29 L230.60,67.31 L230.93,67.33 L231.26,67.35 L231.59,67.36 L231.92,67.38 L232.25,67.40 L232.57,67.41 L232.90,67.42 L233.23,67.44 L233.56,67.45 L233.89,67.46 L234.22,67.47 L234.55,67.48 L234.87,67.49 L235.20,67.50 L235.53,67.51 L235.86,67.52 L236.19,67.53 L236.52,67.54 L236.85,67.55 L237.17,67.55 L237.50,67.56 L237.83,67.57 L238.16,67.58 L238.49,67.59 L238.82,67.59 L239.15,67.60 L239.47,67.61 L239.80,67.61 L240.13,67.62 L240.46,67.63 L240.79,67.63 L241.12,67.64 L241.45,67.65 L241.77,67.65 L242.10,67.66 L242.43,67.66 L242.76,67.67 L243.09,67.67 L243.42,67.68 L243.75,67.68 L244.08,67.69 L244.40,67.69 L244.73,67.70 L245.06,67.70 L245.39,67.71 L245.72,67.71 L246.05,67.71 L246.38,67.72 L246.70,67.72 L247.03,67.72 L247.36,67.72 L247.69,67.72 L248.02,67.73 L248.35,67.73 L248.68,67.73 L249.00,67.73 L249.33,67.73 L249.66,67.73 L249.99,67.73 L250.32,67.73 L250.65,67.72 L250.98,67.72 L251.30,67.72 L251.63,67.72 L251.96,67.71 L252.29,67.71 L252.62,67.70 L252.95,67.69 L253.28,67.69 L253.60,67.68 L253.93,67.67 L254.26,67.66 L254.59,67.65 L254.92,67.63 L255.25,67.62 L255.58,67.60 L255.90,67.58 L256.23,67.56 L256.56,67.54 L256.89,67.52 L257.22,67.49 L257.55,67.46 L257.88,67.43 L258.20,67.39 L258.53,67.35 L258.86,67.30 L259.19,67.26 L259.52,67.20 L259.85,67.14 L260.18,67.08 L260.51,67.00 L260.83,66.92 L261.16,66.83 L261.49,66.73 L261.82,66.62 L262.15,66.50 L262.48,66.36 L262.81,66.20 L263.13,66.03 L263.46,65.84 L263.79,65.62 L264.12,65.38 L264.45,65.11 L264.78,64.81 L265.11,64.48 L265.43,64.11 L265.76,63.72 L266.09,63.30 L266.42,62.86 L266.75,62.40 L267.08,61.96 L267.41,61.54 L267.73,61.18 L268.06,60.89 L268.39,60.71 L268.72,60.66 L269.05,60.73 L269.38,60.92 L269.71,61.22 L270.03,61.60 L270.36,62.03 L270.69,62.49 L271.02,62.95 L271.35,63.41 L271.68,63.85 L272.01,64.25 L272.33,64.63 L272.66,64.98 L272.99,65.29 L273.32,65.57 L273.65,65.83 L273.98,66.06 L274.31,66.26 L274.63,66.45 L274.96,66.62 L275.29,66.77 L275.62,66.90 L275.95,67.03 L276.28,67.14 L276.61,67.24 L276.94,67.33 L277.26,67.41 L277.59,67.49 L277.92,67.56 L278.25,67.62 L278.58,67.67 L278.91,67.72 L279.24,67.77 L279.56,67.80 L279.89,67.84 L280.22,67.86 L280.55,67.88 L280.88,67.90 L281.21,67.90 L281.54,67.90 L281.86,67.89 L282.19,67.86 L282.52,67.82 L282.85,67.75 L283.18,67.65 L283.51,67.50 L283.84,67.27 L284.16,66.93 L284.49,66.38 L284.82,65.47 L285.15,63.88 L285.48,61.01 L285.81,56.53 L286.14,53.55 L286.46,56.57 L286.79,61.09 L287.12,63.99 L287.45,65.62 L287.78,66.56 L288.11,67.15 L288.44,67.53 L288.76,67.79 L289.09,67.99 L289.42,68.13 L289.75,68.24 L290.08,68.32 L290.41,68.39 L290.74,68.45 L291.06,68.50 L291.39,68.54 L291.72,68.58 L292.05,68.61 L292.38,68.64 L292.71,68.67 L293.04,68.69 L293.37,68.71 L293.69,68.73 L294.02,68.75 L294.35,68.76 L294.68,68.78 L295.01,68.79 L295.34,68.80 L295.67,68.81 L295.99,68.82 L296.32,68.83 L296.65,68.84 L296.98,68.85 L297.31,68.86 L297.64,68.87 L297.97,68.87 L298.29,68.88 L298.62,68.88 L298.95,68.89 L299.28,68.89 L299.61,68.90 L299.94,68.90 L300.27,68.90 L300.59,68.90 L300.92,68.90 L301.25,68.90 L301.58,68.90 L301.91,68.90 L302.24,68.90 L302.57,68.89 L302.89,68.89 L303.22,68.88 L303.55,68.88 L303.88,68.87 L304.21,68.86 L304.54,68.85 L304.87,68.84 L305.19,68.83 L305.52,68.82 L305.85,68.80 L306.18,68.79 L306.51,68.77 L306.84,68.75 L307.17,68.73 L307.50,68.70 L307.82,68.68 L308.15,68.65 L308.48,68.61 L308.81,68.58 L309.14,68.54 L309.47,68.50 L309.80,68.45 L310.12,68.40 L310.45,68.34 L310.78,68.28 L311.11,68.22 L311.44,68.14 L311.77,68.07 L312.10,67.98 L312.42,67.89 L312.75,67.79 L313.08,67.68 L313.41,67.56 L313.74,67.43 L314.07,67.29 L314.40,67.14 L314.72,66.98 L315.05,66.81 L315.38,66.62 L315.71,66.41 L316.04,66.18 L316.37,65.94 L316.70,65.67 L317.02,65.38 L317.35,65.06 L317.68,64.71 L318.01,64.32 L318.34,63.89 L318.67,63.42 L319.00,62.90 L319.32,62.34 L319.65,61.75 L319.98,61.15 L320.31,60.58 L320.64,60.09 L320.97,59.71 L321.30,59.46 L321.62,59.32 L321.95,59.26 L322.28,59.22 L322.61,59.18 L322.94,59.09 L323.27,58.96 L323.60,58.78 L323.92,58.53 L324.25,58.24 L324.58,57.88 L324.91,57.46 L325.24,56.98 L325.57,56.43 L325.90,55.79 L326.23,55.06 L326.55,54.22 L326.88,53.24 L327.21,52.10 L327.54,50.77 L327.87,49.20 L328.20,47.38 L328.53,45.27 L328.85,42.86 L329.18,40.19 L329.51,37.37 L329.84,34.62 L330.17,32.25 L330.50,30.66 L330.83,30.18 L331.15,30.94 L331.48,32.81 L331.81,35.45 L332.14,38.48 L332.47,41.57 L332.80,44.49 L333.13,47.15 L333.45,49.51 L333.78,51.56 L334.11,53.34 L334.44,54.89 L334.77,56.23 L335.10,57.40 L335.43,58.42 L335.75,59.33 L336.08,60.13 L336.41,60.84 L336.74,61.48 L337.07,62.06 L337.40,62.59 L337.73,63.06 L338.05,63.50 L338.38,63.90 L338.71,64.27 L339.04,64.61 L339.37,64.92 L339.70,65.21 L340.03,65.48 L340.36,65.73 L340.68,65.96 L341.01,66.18 L341.34,66.38 L341.67,66.57 L342.00,66.75 L342.33,66.92 L342.66,67.07 L342.98,67.22 L343.31,67.36 L343.64,67.49 L343.97,67.61 L344.30,67.73 L344.63,67.84 L344.96,67.95 L345.28,68.05 L345.61,68.14 L345.94,68.23 L346.27,68.32 L346.60,68.40 L346.93,68.48 L347.26,68.56 L347.58,68.63 L347.91,68.71 L348.24,68.78 L348.57,68.84 L348.90,68.91 L349.23,68.97 L349.56,69.03 L349.88,69.09 L350.21,69.15 L350.54,69.20 L350.87,69.26 L351.20,69.31 L351.53,69.36 L351.86,69.41 L352.18,69.46 L352.51,69.51 L352.84,69.56 L353.17,69.60 L353.50,69.65 L353.83,69.69 L354.16,69.73 L354.48,69.77 L354.81,69.81 L355.14,69.85 L355.47,69.89 L355.80,69.93 L356.13,69.97 L356.46,70.01 L356.78,70.04 L357.11,70.08 L357.44,70.11 L357.77,70.14 L358.10,70.17 L358.43,70.21 L358.76,70.24 L359.09,70.27 L359.41,70.30 L359.74,70.32 L360.07,70.35 L360.40,70.38 L360.73,70.41 L361.06,70.43 L361.39,70.46 L361.71,70.48 L362.04,70.51 L362.37,70.53 L362.70,70.55 L363.03,70.57 L363.36,70.60 L363.69,70.62 L364.01,70.64 L364.34,70.66 L364.67,70.68 L365.00,70.70" fill="none" stroke="#f28a26" stroke-width="1.25" stroke-linejoin="round"/>
<path d="M200.70,45.90 L201.03,45.91 L201.36,45.91 L201.69,45.91 L202.01,45.91 L202.34,45.91 L202.67,45.91 L203.00,45.91 L203.33,45.91 L203.66,45.91 L203.99,45.91 L204.31,45.92 L204.64,45.92 L204.97,45.92 L205.30,45.92 L205.63,45.92 L205.96,45.92 L206.29,45.92 L206.61,45.92 L206.94,45.92 L207.27,45.92 L207.60,45.92 L207.93,45.92 L208.26,45.92 L208.59,45.92 L208.91,45.92 L209.24,45.92 L209.57,45.92 L209.90,45.91 L210.23,45.91 L210.56,45.91 L210.89,45.91 L211.22,45.91 L211.54,45.91 L211.87,45.91 L212.20,45.91 L212.53,45.91 L212.86,45.91 L213.19,45.90 L213.52,45.90 L213.84,45.90 L214.17,45.90 L214.50,45.90 L214.83,45.90 L215.16,45.90 L215.49,45.89 L215.82,45.89 L216.14,45.89 L216.47,45.89 L216.80,45.89 L217.13,45.88 L217.46,45.88 L217.79,45.88 L218.12,45.88 L218.44,45.88 L218.77,45.87 L219.10,45.87 L219.43,45.87 L219.76,45.87 L220.09,45.86 L220.42,45.86 L220.74,45.86 L221.07,45.86 L221.40,45.85 L221.73,45.85 L222.06,45.85 L222.39,45.84 L222.72,45.84 L223.04,45.84 L223.37,45.84 L223.70,45.83 L224.03,45.83 L224.36,45.83 L224.69,45.82 L225.02,45.82 L225.34,45.82 L225.67,45.81 L226.00,45.81 L226.33,45.81 L226.66,45.80 L226.99,45.80 L227.32,45.80 L227.65,45.79 L227.97,45.79 L228.30,45.79 L228.63,45.78 L228.96,45.78 L229.29,45.78 L229.62,45.77 L229.95,45.77 L230.27,45.77 L230.60,45.76 L230.93,45.76 L231.26,45.76 L231.59,45.75 L231.92,45.75 L232.25,45.75 L232.57,45.74 L232.90,45.74 L233.23,45.74 L233.56,45.73 L233.89,45.73 L234.22,45.73 L234.55,45.72 L234.87,45.72 L235.20,45.72 L235.53,45.71 L235.86,45.71 L236.19,45.71 L236.52,45.71 L236.85,45.70 L237.17,45.70 L237.50,45.70 L237.83,45.69 L238.16,45.69 L238.49,45.69 L238.82,45.68 L239.15,45.68 L239.47,45.68 L239.80,45.68 L240.13,45.67 L240.46,45.67 L240.79,45.67 L241.12,45.67 L241.45,45.66 L241.77,45.66 L242.10,45.66 L242.43,45.66 L242.76,45.66 L243.09,45.65 L243.42,45.65 L243.75,45.65 L244.08,45.65 L244.40,45.65 L244.73,45.64 L245.06,45.64 L245.39,45.64 L245.72,45.64 L246.05,45.64 L246.38,45.64 L246.70,45.64 L247.03,45.64 L247.36,45.64 L247.69,45.63 L248.02,45.63 L248.35,45.63 L248.68,45.63 L249.00,45.63 L249.33,45.63 L249.66,45.63 L249.99,45.63 L250.32,45.63 L250.65,45.63 L250.98,45.63 L251.30,45.63 L251.63,45.63 L251.96,45.63 L252.29,45.64 L252.62,45.64 L252.95,45.64 L253.28,45.64 L253.60,45.64 L253.93,45.64 L254.26,45.64 L254.59,45.65 L254.92,45.65 L255.25,45.65 L255.58,45.65 L255.90,45.65 L256.23,45.66 L256.56,45.66 L256.89,45.66 L257.22,45.66 L257.55,45.67 L257.88,45.67 L258.20,45.67 L258.53,45.68 L258.86,45.68 L259.19,45.68 L259.52,45.69 L259.85,45.69 L260.18,45.70 L260.51,45.70 L260.83,45.71 L261.16,45.71 L261.49,45.71 L261.82,45.72 L262.15,45.72 L262.48,45.73 L262.81,45.74 L263.13,45.74 L263.46,45.75 L263.79,45.75 L264.12,45.76 L264.45,45.76 L264.78,45.77 L265.11,45.78 L265.43,45.78 L265.76,45.79 L266.09,45.80 L266.42,45.80 L266.75,45.81 L267.08,45.82 L267.41,45.83 L267.73,45.83 L268.06,45.84 L268.39,45.85 L268.72,45.86 L269.05,45.87 L269.38,45.88 L269.71,45.88 L270.03,45.89 L270.36,45.90 L270.69,45.91 L271.02,45.92 L271.35,45.93 L271.68,45.94 L272.01,45.95 L272.33,45.96 L272.66,45.97 L272.99,45.98 L273.32,45.99 L273.65,46.00 L273.98,46.01 L274.31,46.02 L274.63,46.03 L274.96,46.04 L275.29,46.05 L275.62,46.06 L275.95,46.07 L276.28,46.08 L276.61,46.09 L276.94,46.10 L277.26,46.12 L277.59,46.13 L277.92,46.14 L278.25,46.15 L278.58,46.16 L278.91,46.17 L279.24,46.18 L279.56,46.19 L279.89,46.20 L280.22,46.21 L280.55,46.22 L280.88,46.23 L281.21,46.24 L281.54,46.24 L281.86,46.25 L282.19,46.25 L282.52,46.25 L282.85,46.25 L283.18,46.24 L283.51,46.22 L283.84,46.19 L284.16,46.14 L284.49,46.05 L284.82,45.90 L285.15,45.60 L285.48,45.03 L285.81,44.03 L286.14,43.29 L286.46,44.06 L286.79,45.09 L287.12,45.69 L287.45,46.01 L287.78,46.20 L288.11,46.32 L288.44,46.40 L288.76,46.46 L289.09,46.50 L289.42,46.54 L289.75,46.57 L290.08,46.60 L290.41,46.62 L290.74,46.65 L291.06,46.67 L291.39,46.69 L291.72,46.71 L292.05,46.72 L292.38,46.74 L292.71,46.76 L293.04,46.78 L293.37,46.79 L293.69,46.81 L294.02,46.82 L294.35,46.84 L294.68,46.86 L295.01,46.87 L295.34,46.88 L295.67,46.90 L295.99,46.91 L296.32,46.93 L296.65,46.94 L296.98,46.95 L297.31,46.97 L297.64,46.98 L297.97,46.99 L298.29,47.00 L298.62,47.02 L298.95,47.03 L299.28,47.04 L299.61,47.05 L299.94,47.06 L300.27,47.07 L300.59,47.08 L300.92,47.09 L301.25,47.10 L301.58,47.11 L301.91,47.11 L302.24,47.12 L302.57,47.13 L302.89,47.13 L303.22,47.14 L303.55,47.14 L303.88,47.15 L304.21,47.15 L304.54,47.15 L304.87,47.15 L305.19,47.15 L305.52,47.15 L305.85,47.15 L306.18,47.14 L306.51,47.14 L306.84,47.13 L307.17,47.12 L307.50,47.11 L307.82,47.10 L308.15,47.08 L308.48,47.07 L308.81,47.05 L309.14,47.02 L309.47,47.00 L309.80,46.97 L310.12,46.93 L310.45,46.90 L310.78,46.86 L311.11,46.81 L311.44,46.76 L311.77,46.70 L312.10,46.64 L312.42,46.57 L312.75,46.50 L313.08,46.42 L313.41,46.33 L313.74,46.23 L314.07,46.13 L314.40,46.01 L314.72,45.88 L315.05,45.75 L315.38,45.60 L315.71,45.44 L316.04,45.26 L316.37,45.07 L316.70,44.86 L317.02,44.63 L317.35,44.37 L317.68,44.10 L318.01,43.79 L318.34,43.46 L318.67,43.09 L319.00,42.68 L319.32,42.25 L319.65,41.79 L319.98,41.32 L320.31,40.86 L320.64,40.46 L320.97,40.14 L321.30,39.90 L321.62,39.74 L321.95,39.63 L322.28,39.53 L322.61,39.42 L322.94,39.28 L323.27,39.09 L323.60,38.86 L323.92,38.57 L324.25,38.24 L324.58,37.84 L324.91,37.39 L325.24,36.86 L325.57,36.27 L325.90,35.58 L326.23,34.79 L326.55,33.87 L326.88,32.81 L327.21,31.57 L327.54,30.11 L327.87,28.41 L328.20,26.41 L328.53,24.10 L328.85,21.46 L329.18,18.53 L329.51,15.43 L329.84,12.40 L330.17,9.80 L330.50,8.04 L330.83,7.48 L331.15,8.28 L331.48,10.29 L331.81,13.14 L332.14,16.41 L332.47,19.74 L332.80,22.90 L333.13,25.76 L333.45,28.29 L333.78,30.49 L334.11,32.39 L334.44,34.03 L334.77,35.45 L335.10,36.69 L335.43,37.76 L335.75,38.70 L336.08,39.54 L336.41,40.27 L336.74,40.93 L337.07,41.52 L337.40,42.06 L337.73,42.54 L338.05,42.98 L338.38,43.38 L338.71,43.74 L339.04,44.08 L339.37,44.39 L339.70,44.68 L340.03,44.94 L340.36,45.18 L340.68,45.41 L341.01,45.62 L341.34,45.82 L341.67,46.01 L342.00,46.18 L342.33,46.34 L342.66,46.49 L342.98,46.63 L343.31,46.77 L343.64,46.89 L343.97,47.01 L344.30,47.12 L344.63,47.23 L344.96,47.33 L345.28,47.42 L345.61,47.51 L345.94,47.60 L346.27,47.68 L346.60,47.76 L346.93,47.84 L347.26,47.91 L347.58,47.98 L347.91,48.05 L348.24,48.11 L348.57,48.17 L348.90,48.23 L349.23,48.29 L349.56,48.35 L349.88,48.40 L350.21,48.45 L350.54,48.51 L350.87,48.56 L351.20,48.61 L351.53,48.65 L351.86,48.70 L352.18,48.74 L352.51,48.79 L352.84,48.83 L353.17,48.87 L353.50,48.91 L353.83,48.95 L354.16,48.99 L354.48,49.03 L354.81,49.07 L355.14,49.11 L355.47,49.14 L355.80,49.18 L356.13,49.21 L356.46,49.24 L356.78,49.28 L357.11,49.31 L357.44,49.34 L357.77,49.37 L358.10,49.40 L358.43,49.43 L358.76,49.45 L359.09,49.48 L359.41,49.51 L359.74,49.53 L360.07,49.56 L360.40,49.59 L360.73,49.61 L361.06,49.63 L361.39,49.66 L361.71,49.68 L362.04,49.70 L362.37,49.72 L362.70,49.74 L363.03,49.77 L363.36,49.79 L363.69,49.81 L364.01,49.82 L364.34,49.84 L364.67,49.86 L365.00,49.88" fill="none" stroke="#a43ef0" stroke-width="1.25" stroke-linejoin="round"/>
<text x="205.8" y="19" font-size="8.3" text-anchor="start" fill="#000" >* Substrate</text>
<text x="286.3" y="43.2" font-size="9.5" text-anchor="middle" fill="#000" >*</text>
<text x="330.3" y="10.2" font-size="9.5" text-anchor="middle" fill="#000" >*</text>
<text x="203.5" y="42.6" font-size="8.5">BiTO-1.6<tspan font-style="italic">R</tspan></text>
<text x="203.5" y="63.6" font-size="8.5">BiTO-0.9<tspan font-style="italic">R</tspan></text>
<text x="203.5" y="102.4" font-size="8.5">BiTO-0<tspan font-style="italic">R</tspan></text>
<text transform="translate(213.6,80.2) rotate(-90)" font-size="7" text-anchor="middle">008</text>
<text transform="translate(224.2,79.2) rotate(-90)" font-size="7" text-anchor="middle">111</text>
<text transform="translate(270.0,72) rotate(-90)" font-size="7" text-anchor="middle">117</text>
<text transform="translate(288.4,71) rotate(-90)" font-size="7" text-anchor="middle">020</text>
<text transform="translate(316.4,78.8) rotate(-90)" font-size="7" text-anchor="middle">0014</text>
<rect x="381" y="4.6" width="65.60000000000002" height="103.2" fill="none" stroke="#000" stroke-width="1.3"/>
<line x1="389.75" y1="107.8" x2="389.75" y2="109.8" stroke="#000" stroke-width="1"/>
<line x1="398.50" y1="107.8" x2="398.50" y2="109.1" stroke="#000" stroke-width="0.9"/>
<text x="389.75" y="117.3" font-size="8.6" text-anchor="middle" fill="#000" >26</text>
<line x1="407.25" y1="107.8" x2="407.25" y2="109.8" stroke="#000" stroke-width="1"/>
<line x1="416.00" y1="107.8" x2="416.00" y2="109.1" stroke="#000" stroke-width="0.9"/>
<text x="407.25" y="117.3" font-size="8.6" text-anchor="middle" fill="#000" >28</text>
<line x1="424.75" y1="107.8" x2="424.75" y2="109.8" stroke="#000" stroke-width="1"/>
<line x1="433.50" y1="107.8" x2="433.50" y2="109.1" stroke="#000" stroke-width="0.9"/>
<text x="424.75" y="117.3" font-size="8.6" text-anchor="middle" fill="#000" >30</text>
<line x1="442.25" y1="107.8" x2="442.25" y2="109.8" stroke="#000" stroke-width="1"/>
<line x1="451.00" y1="107.8" x2="451.00" y2="109.1" stroke="#000" stroke-width="0.9"/>
<text x="442.25" y="117.3" font-size="8.6" text-anchor="middle" fill="#000" >32</text>
<text x="413" y="128.6" font-size="9.6" text-anchor="middle">2<tspan font-style="italic">θ</tspan> (deg.)</text>
<text transform="translate(373.6,51.8) rotate(-90)" font-size="9.6" text-anchor="middle">Intensity (arb. units)</text>
<path d="M381.44,28.31 L381.57,28.31 L381.70,28.31 L381.83,28.31 L381.96,28.31 L382.09,28.32 L382.23,28.32 L382.36,28.32 L382.49,28.32 L382.62,28.32 L382.75,28.32 L382.88,28.32 L383.01,28.32 L383.14,28.32 L383.28,28.32 L383.41,28.32 L383.54,28.32 L383.67,28.32 L383.80,28.32 L383.93,28.32 L384.06,28.32 L384.19,28.31 L384.32,28.31 L384.46,28.31 L384.59,28.31 L384.72,28.31 L384.85,28.31 L384.98,28.31 L385.11,28.30 L385.24,28.30 L385.38,28.30 L385.51,28.30 L385.64,28.30 L385.77,28.29 L385.90,28.29 L386.03,28.29 L386.16,28.28 L386.29,28.28 L386.43,28.28 L386.56,28.27 L386.69,28.27 L386.82,28.27 L386.95,28.26 L387.08,28.26 L387.21,28.25 L387.34,28.25 L387.48,28.25 L387.61,28.24 L387.74,28.24 L387.87,28.23 L388.00,28.22 L388.13,28.22 L388.26,28.21 L388.39,28.21 L388.52,28.20 L388.66,28.20 L388.79,28.19 L388.92,28.18 L389.05,28.18 L389.18,28.17 L389.31,28.16 L389.44,28.15 L389.57,28.15 L389.71,28.14 L389.84,28.13 L389.97,28.12 L390.10,28.11 L390.23,28.11 L390.36,28.10 L390.49,28.09 L390.62,28.08 L390.76,28.07 L390.89,28.06 L391.02,28.05 L391.15,28.04 L391.28,28.03 L391.41,28.02 L391.54,28.01 L391.68,28.00 L391.81,27.99 L391.94,27.97 L392.07,27.96 L392.20,27.95 L392.33,27.94 L392.46,27.93 L392.59,27.92 L392.73,27.90 L392.86,27.89 L392.99,27.88 L393.12,27.86 L393.25,27.85 L393.38,27.84 L393.51,27.82 L393.64,27.81 L393.78,27.79 L393.91,27.78 L394.04,27.77 L394.17,27.75 L394.30,27.74 L394.43,27.72 L394.56,27.70 L394.69,27.69 L394.82,27.67 L394.96,27.66 L395.09,27.64 L395.22,27.62 L395.35,27.61 L395.48,27.59 L395.61,27.57 L395.74,27.56 L395.88,27.54 L396.01,27.52 L396.14,27.50 L396.27,27.48 L396.40,27.46 L396.53,27.45 L396.66,27.43 L396.79,27.41 L396.93,27.39 L397.06,27.37 L397.19,27.35 L397.32,27.33 L397.45,27.31 L397.58,27.29 L397.71,27.27 L397.84,27.25 L397.98,27.23 L398.11,27.21 L398.24,27.19 L398.37,27.16 L398.50,27.14 L398.63,27.12 L398.76,27.10 L398.89,27.08 L399.02,27.06 L399.16,27.03 L399.29,27.01 L399.42,26.99 L399.55,26.97 L399.68,26.94 L399.81,26.92 L399.94,26.90 L400.07,26.87 L400.21,26.85 L400.34,26.83 L400.47,26.80 L400.60,26.78 L400.73,26.75 L400.86,26.73 L400.99,26.71 L401.12,26.68 L401.26,26.66 L401.39,26.63 L401.52,26.61 L401.65,26.58 L401.78,26.56 L401.91,26.54 L402.04,26.51 L402.18,26.49 L402.31,26.46 L402.44,26.44 L402.57,26.41 L402.70,26.39 L402.83,26.36 L402.96,26.34 L403.09,26.31 L403.22,26.29 L403.36,26.26 L403.49,26.23 L403.62,26.21 L403.75,26.18 L403.88,26.16 L404.01,26.13 L404.14,26.11 L404.27,26.08 L404.41,26.06 L404.54,26.03 L404.67,26.01 L404.80,25.98 L404.93,25.96 L405.06,25.93 L405.19,25.91 L405.32,25.88 L405.46,25.86 L405.59,25.83 L405.72,25.81 L405.85,25.78 L405.98,25.76 L406.11,25.73 L406.24,25.71 L406.38,25.69 L406.51,25.66 L406.64,25.64 L406.77,25.61 L406.90,25.59 L407.03,25.57 L407.16,25.54 L407.29,25.52 L407.43,25.50 L407.56,25.47 L407.69,25.45 L407.82,25.43 L407.95,25.41 L408.08,25.38 L408.21,25.36 L408.34,25.34 L408.48,25.32 L408.61,25.30 L408.74,25.28 L408.87,25.26 L409.00,25.24 L409.13,25.22 L409.26,25.20 L409.39,25.18 L409.52,25.16 L409.66,25.14 L409.79,25.12 L409.92,25.10 L410.05,25.08 L410.18,25.06 L410.31,25.04 L410.44,25.03 L410.57,25.01 L410.71,24.99 L410.84,24.98 L410.97,24.96 L411.10,24.94 L411.23,24.93 L411.36,24.91 L411.49,24.90 L411.62,24.88 L411.76,24.87 L411.89,24.85 L412.02,24.84 L412.15,24.83 L412.28,24.81 L412.41,24.80 L412.54,24.79 L412.67,24.78 L412.81,24.77 L412.94,24.76 L413.07,24.75 L413.20,24.73 L413.33,24.73 L413.46,24.72 L413.59,24.71 L413.72,24.70 L413.86,24.69 L413.99,24.68 L414.12,24.68 L414.25,24.67 L414.38,24.66 L414.51,24.66 L414.64,24.65 L414.77,24.65 L414.91,24.64 L415.04,24.64 L415.17,24.63 L415.30,24.63 L415.43,24.63 L415.56,24.63 L415.69,24.63 L415.82,24.62 L415.96,24.62 L416.09,24.62 L416.22,24.62 L416.35,24.62 L416.48,24.62 L416.61,24.63 L416.74,24.63 L416.88,24.63 L417.01,24.63 L417.14,24.64 L417.27,24.64 L417.40,24.65 L417.53,24.65 L417.66,24.66 L417.79,24.66 L417.93,24.67 L418.06,24.68 L418.19,24.68 L418.32,24.69 L418.45,24.70 L418.58,24.71 L418.71,24.72 L418.84,24.73 L418.98,24.74 L419.11,24.75 L419.24,24.76 L419.37,24.77 L419.50,24.78 L419.63,24.80 L419.76,24.81 L419.89,24.82 L420.02,24.84 L420.16,24.85 L420.29,24.87 L420.42,24.88 L420.55,24.90 L420.68,24.91 L420.81,24.93 L420.94,24.95 L421.07,24.96 L421.21,24.98 L421.34,25.00 L421.47,25.02 L421.60,25.04 L421.73,25.06 L421.86,25.08 L421.99,25.10 L422.12,25.12 L422.26,25.14 L422.39,25.17 L422.52,25.19 L422.65,25.21 L422.78,25.23 L422.91,25.26 L423.04,25.28 L423.18,25.31 L423.31,25.33 L423.44,25.36 L423.57,25.38 L423.70,25.41 L423.83,25.43 L423.96,25.46 L424.09,25.49 L424.22,25.51 L424.36,25.54 L424.49,25.57 L424.62,25.60 L424.75,25.63 L424.88,25.66 L425.01,25.68 L425.14,25.71 L425.27,25.74 L425.41,25.77 L425.54,25.80 L425.67,25.84 L425.80,25.87 L425.93,25.90 L426.06,25.93 L426.19,25.96 L426.32,25.99 L426.46,26.03 L426.59,26.06 L426.72,26.09 L426.85,26.12 L426.98,26.16 L427.11,26.19 L427.24,26.22 L427.38,26.26 L427.51,26.29 L427.64,26.33 L427.77,26.36 L427.90,26.40 L428.03,26.43 L428.16,26.46 L428.29,26.50 L428.42,26.54 L428.56,26.57 L428.69,26.61 L428.82,26.64 L428.95,26.68 L429.08,26.71 L429.21,26.75 L429.34,26.79 L429.48,26.82 L429.61,26.86 L429.74,26.90 L429.87,26.93 L430.00,26.97 L430.13,27.01 L430.26,27.04 L430.39,27.08 L430.52,27.12 L430.66,27.15 L430.79,27.19 L430.92,27.23 L431.05,27.27 L431.18,27.30 L431.31,27.34 L431.44,27.38 L431.57,27.41 L431.71,27.45 L431.84,27.49 L431.97,27.53 L432.10,27.56 L432.23,27.60 L432.36,27.64 L432.49,27.68 L432.62,27.71 L432.76,27.75 L432.89,27.79 L433.02,27.82 L433.15,27.86 L433.28,27.90 L433.41,27.93 L433.54,27.97 L433.67,28.01 L433.81,28.04 L433.94,28.08 L434.07,28.12 L434.20,28.15 L434.33,28.19 L434.46,28.23 L434.59,28.26 L434.72,28.30 L434.86,28.33 L434.99,28.37 L435.12,28.41 L435.25,28.44 L435.38,28.48 L435.51,28.51 L435.64,28.55 L435.77,28.58 L435.91,28.62 L436.04,28.65 L436.17,28.69 L436.30,28.72 L436.43,28.76 L436.56,28.79 L436.69,28.82 L436.82,28.86 L436.96,28.89 L437.09,28.93 L437.22,28.96 L437.35,28.99 L437.48,29.02 L437.61,29.06 L437.74,29.09 L437.88,29.12 L438.01,29.16 L438.14,29.19 L438.27,29.22 L438.40,29.25 L438.53,29.28 L438.66,29.31 L438.79,29.34 L438.92,29.38 L439.06,29.41 L439.19,29.44 L439.32,29.47 L439.45,29.50 L439.58,29.53 L439.71,29.56 L439.84,29.59 L439.97,29.62 L440.11,29.65 L440.24,29.67 L440.37,29.70 L440.50,29.73 L440.63,29.76 L440.76,29.79 L440.89,29.82 L441.02,29.84 L441.16,29.87 L441.29,29.90 L441.42,29.92 L441.55,29.95 L441.68,29.98 L441.81,30.00 L441.94,30.03 L442.07,30.06 L442.21,30.08 L442.34,30.11 L442.47,30.13 L442.60,30.16 L442.73,30.18 L442.86,30.21 L442.99,30.23 L443.12,30.26 L443.26,30.28 L443.39,30.30 L443.52,30.33 L443.65,30.35 L443.78,30.37 L443.91,30.40 L444.04,30.42 L444.18,30.44 L444.31,30.46 L444.44,30.49 L444.57,30.51 L444.70,30.53 L444.83,30.55 L444.96,30.57 L445.09,30.59 L445.22,30.61 L445.36,30.63 L445.49,30.66 L445.62,30.68 L445.75,30.70 L445.88,30.72 L446.01,30.74 L446.14,30.75 L446.27,30.77 L446.41,30.79 L446.54,30.81 L446.67,30.83 L446.80,30.85 L446.93,30.87 L447.06,30.89" fill="none" stroke="#a43ef0" stroke-width="1.25" stroke-linejoin="round"/>
<path d="M381.44,64.19 L381.57,64.18 L381.70,64.17 L381.83,64.16 L381.96,64.14 L382.09,64.13 L382.23,64.12 L382.36,64.11 L382.49,64.10 L382.62,64.09 L382.75,64.08 L382.88,64.07 L383.01,64.06 L383.14,64.05 L383.28,64.04 L383.41,64.03 L383.54,64.01 L383.67,64.00 L383.80,63.99 L383.93,63.98 L384.06,63.97 L384.19,63.96 L384.32,63.95 L384.46,63.94 L384.59,63.93 L384.72,63.92 L384.85,63.90 L384.98,63.89 L385.11,63.88 L385.24,63.87 L385.38,63.86 L385.51,63.85 L385.64,63.84 L385.77,63.83 L385.90,63.81 L386.03,63.80 L386.16,63.79 L386.29,63.78 L386.43,63.77 L386.56,63.76 L386.69,63.75 L386.82,63.73 L386.95,63.72 L387.08,63.71 L387.21,63.70 L387.34,63.69 L387.48,63.68 L387.61,63.67 L387.74,63.65 L387.87,63.64 L388.00,63.63 L388.13,63.62 L388.26,63.61 L388.39,63.60 L388.52,63.58 L388.66,63.57 L388.79,63.56 L388.92,63.55 L389.05,63.54 L389.18,63.52 L389.31,63.51 L389.44,63.50 L389.57,63.49 L389.71,63.48 L389.84,63.46 L389.97,63.45 L390.10,63.44 L390.23,63.43 L390.36,63.42 L390.49,63.40 L390.62,63.39 L390.76,63.38 L390.89,63.37 L391.02,63.35 L391.15,63.34 L391.28,63.33 L391.41,63.32 L391.54,63.31 L391.68,63.29 L391.81,63.28 L391.94,63.27 L392.07,63.25 L392.20,63.24 L392.33,63.23 L392.46,63.22 L392.59,63.20 L392.73,63.19 L392.86,63.18 L392.99,63.17 L393.12,63.15 L393.25,63.14 L393.38,63.13 L393.51,63.11 L393.64,63.10 L393.78,63.09 L393.91,63.07 L394.04,63.06 L394.17,63.05 L394.30,63.03 L394.43,63.02 L394.56,63.01 L394.69,62.99 L394.82,62.98 L394.96,62.97 L395.09,62.95 L395.22,62.94 L395.35,62.93 L395.48,62.91 L395.61,62.90 L395.74,62.88 L395.88,62.87 L396.01,62.86 L396.14,62.84 L396.27,62.83 L396.40,62.81 L396.53,62.80 L396.66,62.78 L396.79,62.77 L396.93,62.76 L397.06,62.74 L397.19,62.73 L397.32,62.71 L397.45,62.70 L397.58,62.68 L397.71,62.67 L397.84,62.65 L397.98,62.64 L398.11,62.62 L398.24,62.61 L398.37,62.59 L398.50,62.58 L398.63,62.56 L398.76,62.55 L398.89,62.53 L399.02,62.51 L399.16,62.50 L399.29,62.48 L399.42,62.47 L399.55,62.45 L399.68,62.43 L399.81,62.42 L399.94,62.40 L400.07,62.39 L400.21,62.37 L400.34,62.35 L400.47,62.34 L400.60,62.32 L400.73,62.30 L400.86,62.28 L400.99,62.27 L401.12,62.25 L401.26,62.23 L401.39,62.22 L401.52,62.20 L401.65,62.18 L401.78,62.16 L401.91,62.14 L402.04,62.13 L402.18,62.11 L402.31,62.09 L402.44,62.07 L402.57,62.05 L402.70,62.03 L402.83,62.01 L402.96,62.00 L403.09,61.98 L403.22,61.96 L403.36,61.94 L403.49,61.92 L403.62,61.90 L403.75,61.88 L403.88,61.86 L404.01,61.84 L404.14,61.82 L404.27,61.80 L404.41,61.77 L404.54,61.75 L404.67,61.73 L404.80,61.71 L404.93,61.69 L405.06,61.67 L405.19,61.65 L405.32,61.62 L405.46,61.60 L405.59,61.58 L405.72,61.55 L405.85,61.53 L405.98,61.51 L406.11,61.48 L406.24,61.46 L406.38,61.44 L406.51,61.41 L406.64,61.39 L406.77,61.36 L406.90,61.34 L407.03,61.31 L407.16,61.29 L407.29,61.26 L407.43,61.23 L407.56,61.21 L407.69,61.18 L407.82,61.15 L407.95,61.13 L408.08,61.10 L408.21,61.07 L408.34,61.04 L408.48,61.01 L408.61,60.98 L408.74,60.95 L408.87,60.92 L409.00,60.89 L409.13,60.86 L409.26,60.83 L409.39,60.80 L409.52,60.77 L409.66,60.73 L409.79,60.70 L409.92,60.67 L410.05,60.63 L410.18,60.60 L410.31,60.56 L410.44,60.53 L410.57,60.49 L410.71,60.46 L410.84,60.42 L410.97,60.38 L411.10,60.34 L411.23,60.30 L411.36,60.26 L411.49,60.22 L411.62,60.18 L411.76,60.14 L411.89,60.10 L412.02,60.06 L412.15,60.01 L412.28,59.97 L412.41,59.92 L412.54,59.88 L412.67,59.83 L412.81,59.78 L412.94,59.74 L413.07,59.69 L413.20,59.64 L413.33,59.59 L413.46,59.53 L413.59,59.48 L413.72,59.43 L413.86,59.37 L413.99,59.32 L414.12,59.26 L414.25,59.20 L414.38,59.14 L414.51,59.08 L414.64,59.02 L414.77,58.96 L414.91,58.89 L415.04,58.83 L415.17,58.76 L415.30,58.69 L415.43,58.62 L415.56,58.55 L415.69,58.47 L415.82,58.40 L415.96,58.32 L416.09,58.24 L416.22,58.16 L416.35,58.08 L416.48,58.00 L416.61,57.91 L416.74,57.82 L416.88,57.73 L417.01,57.64 L417.14,57.55 L417.27,57.45 L417.40,57.35 L417.53,57.25 L417.66,57.15 L417.79,57.04 L417.93,56.93 L418.06,56.82 L418.19,56.70 L418.32,56.58 L418.45,56.46 L418.58,56.34 L418.71,56.21 L418.84,56.08 L418.98,55.94 L419.11,55.81 L419.24,55.66 L419.37,55.52 L419.50,55.37 L419.63,55.21 L419.76,55.05 L419.89,54.89 L420.02,54.72 L420.16,54.55 L420.29,54.37 L420.42,54.19 L420.55,54.00 L420.68,53.81 L420.81,53.61 L420.94,53.41 L421.07,53.20 L421.21,52.98 L421.34,52.76 L421.47,52.53 L421.60,52.29 L421.73,52.05 L421.86,51.81 L421.99,51.55 L422.12,51.29 L422.26,51.02 L422.39,50.74 L422.52,50.46 L422.65,50.17 L422.78,49.87 L422.91,49.56 L423.04,49.25 L423.18,48.92 L423.31,48.59 L423.44,48.26 L423.57,47.91 L423.70,47.56 L423.83,47.20 L423.96,46.83 L424.09,46.46 L424.22,46.08 L424.36,45.70 L424.49,45.31 L424.62,44.91 L424.75,44.51 L424.88,44.11 L425.01,43.71 L425.14,43.30 L425.27,42.89 L425.41,42.48 L425.54,42.08 L425.67,41.68 L425.80,41.28 L425.93,40.89 L426.06,40.50 L426.19,40.13 L426.32,39.76 L426.46,39.41 L426.59,39.07 L426.72,38.75 L426.85,38.45 L426.98,38.16 L427.11,37.90 L427.24,37.66 L427.38,37.44 L427.51,37.25 L427.64,37.09 L427.77,36.96 L427.90,36.85 L428.03,36.78 L428.16,36.73 L428.29,36.72 L428.42,36.73 L428.56,36.78 L428.69,36.85 L428.82,36.96 L428.95,37.09 L429.08,37.25 L429.21,37.44 L429.34,37.65 L429.48,37.89 L429.61,38.15 L429.74,38.42 L429.87,38.72 L430.00,39.03 L430.13,39.36 L430.26,39.70 L430.39,40.06 L430.52,40.42 L430.66,40.79 L430.79,41.16 L430.92,41.54 L431.05,41.93 L431.18,42.32 L431.31,42.70 L431.44,43.09 L431.57,43.48 L431.71,43.86 L431.84,44.24 L431.97,44.62 L432.10,44.99 L432.23,45.35 L432.36,45.72 L432.49,46.07 L432.62,46.42 L432.76,46.76 L432.89,47.10 L433.02,47.42 L433.15,47.74 L433.28,48.05 L433.41,48.36 L433.54,48.65 L433.67,48.94 L433.81,49.23 L433.94,49.50 L434.07,49.77 L434.20,50.02 L434.33,50.28 L434.46,50.52 L434.59,50.76 L434.72,50.99 L434.86,51.21 L434.99,51.43 L435.12,51.64 L435.25,51.84 L435.38,52.04 L435.51,52.23 L435.64,52.41 L435.77,52.59 L435.91,52.76 L436.04,52.93 L436.17,53.10 L436.30,53.25 L436.43,53.41 L436.56,53.55 L436.69,53.70 L436.82,53.84 L436.96,53.97 L437.09,54.10 L437.22,54.23 L437.35,54.35 L437.48,54.47 L437.61,54.58 L437.74,54.69 L437.88,54.80 L438.01,54.90 L438.14,55.00 L438.27,55.10 L438.40,55.19 L438.53,55.28 L438.66,55.37 L438.79,55.45 L438.92,55.53 L439.06,55.61 L439.19,55.69 L439.32,55.76 L439.45,55.83 L439.58,55.90 L439.71,55.97 L439.84,56.03 L439.97,56.09 L440.11,56.15 L440.24,56.21 L440.37,56.26 L440.50,56.32 L440.63,56.37 L440.76,56.42 L440.89,56.46 L441.02,56.51 L441.16,56.55 L441.29,56.59 L441.42,56.63 L441.55,56.67 L441.68,56.70 L441.81,56.74 L441.94,56.77 L442.07,56.80 L442.21,56.83 L442.34,56.86 L442.47,56.88 L442.60,56.91 L442.73,56.93 L442.86,56.95 L442.99,56.97 L443.12,56.98 L443.26,57.00 L443.39,57.01 L443.52,57.02 L443.65,57.03 L443.78,57.04 L443.91,57.05 L444.04,57.05 L444.18,57.05 L444.31,57.05 L444.44,57.05 L444.57,57.04 L444.70,57.04 L444.83,57.03 L444.96,57.02 L445.09,57.00 L445.22,56.98 L445.36,56.96 L445.49,56.94 L445.62,56.91 L445.75,56.88 L445.88,56.85 L446.01,56.81 L446.14,56.77 L446.27,56.73 L446.41,56.68 L446.54,56.62 L446.67,56.56 L446.80,56.49 L446.93,56.42 L447.06,56.34" fill="none" stroke="#f28a26" stroke-width="1.25" stroke-linejoin="round"/>
<path d="M381.44,100.91 L381.57,100.91 L381.70,100.91 L381.83,100.91 L381.96,100.91 L382.09,100.91 L382.23,100.91 L382.36,100.91 L382.49,100.91 L382.62,100.91 L382.75,100.91 L382.88,100.91 L383.01,100.91 L383.14,100.90 L383.28,100.90 L383.41,100.90 L383.54,100.90 L383.67,100.90 L383.80,100.90 L383.93,100.90 L384.06,100.90 L384.19,100.90 L384.32,100.90 L384.46,100.90 L384.59,100.90 L384.72,100.90 L384.85,100.90 L384.98,100.90 L385.11,100.90 L385.24,100.89 L385.38,100.89 L385.51,100.89 L385.64,100.89 L385.77,100.89 L385.90,100.89 L386.03,100.89 L386.16,100.89 L386.29,100.89 L386.43,100.89 L386.56,100.89 L386.69,100.89 L386.82,100.89 L386.95,100.88 L387.08,100.88 L387.21,100.88 L387.34,100.88 L387.48,100.88 L387.61,100.88 L387.74,100.88 L387.87,100.88 L388.00,100.88 L388.13,100.88 L388.26,100.88 L388.39,100.88 L388.52,100.87 L388.66,100.87 L388.79,100.87 L388.92,100.87 L389.05,100.87 L389.18,100.87 L389.31,100.87 L389.44,100.87 L389.57,100.86 L389.71,100.86 L389.84,100.86 L389.97,100.86 L390.10,100.86 L390.23,100.86 L390.36,100.85 L390.49,100.85 L390.62,100.85 L390.76,100.85 L390.89,100.85 L391.02,100.84 L391.15,100.84 L391.28,100.84 L391.41,100.83 L391.54,100.83 L391.68,100.82 L391.81,100.82 L391.94,100.81 L392.07,100.81 L392.20,100.80 L392.33,100.80 L392.46,100.79 L392.59,100.78 L392.73,100.77 L392.86,100.76 L392.99,100.75 L393.12,100.74 L393.25,100.72 L393.38,100.71 L393.51,100.69 L393.64,100.68 L393.78,100.66 L393.91,100.64 L394.04,100.62 L394.17,100.60 L394.30,100.57 L394.43,100.54 L394.56,100.52 L394.69,100.49 L394.82,100.45 L394.96,100.42 L395.09,100.38 L395.22,100.34 L395.35,100.30 L395.48,100.26 L395.61,100.21 L395.74,100.16 L395.88,100.11 L396.01,100.06 L396.14,100.00 L396.27,99.94 L396.40,99.88 L396.53,99.82 L396.66,99.75 L396.79,99.68 L396.93,99.61 L397.06,99.54 L397.19,99.47 L397.32,99.39 L397.45,99.31 L397.58,99.23 L397.71,99.16 L397.84,99.08 L397.98,98.99 L398.11,98.91 L398.24,98.83 L398.37,98.75 L398.50,98.67 L398.63,98.59 L398.76,98.52 L398.89,98.44 L399.02,98.37 L399.16,98.29 L399.29,98.23 L399.42,98.16 L399.55,98.10 L399.68,98.04 L399.81,97.98 L399.94,97.93 L400.07,97.88 L400.21,97.84 L400.34,97.80 L400.47,97.77 L400.60,97.74 L400.73,97.71 L400.86,97.70 L400.99,97.68 L401.12,97.68 L401.26,97.67 L401.39,97.68 L401.52,97.69 L401.65,97.70 L401.78,97.72 L401.91,97.74 L402.04,97.77 L402.18,97.80 L402.31,97.84 L402.44,97.89 L402.57,97.93 L402.70,97.98 L402.83,98.03 L402.96,98.09 L403.09,98.15 L403.22,98.21 L403.36,98.28 L403.49,98.34 L403.62,98.41 L403.75,98.48 L403.88,98.55 L404.01,98.62 L404.14,98.69 L404.27,98.76 L404.41,98.82 L404.54,98.89 L404.67,98.96 L404.80,99.03 L404.93,99.09 L405.06,99.16 L405.19,99.22 L405.32,99.28 L405.46,99.34 L405.59,99.39 L405.72,99.44 L405.85,99.50 L405.98,99.54 L406.11,99.59 L406.24,99.63 L406.38,99.67 L406.51,99.71 L406.64,99.74 L406.77,99.78 L406.90,99.80 L407.03,99.83 L407.16,99.85 L407.29,99.88 L407.43,99.89 L407.56,99.91 L407.69,99.92 L407.82,99.94 L407.95,99.94 L408.08,99.95 L408.21,99.96 L408.34,99.96 L408.48,99.96 L408.61,99.96 L408.74,99.96 L408.87,99.95 L409.00,99.95 L409.13,99.94 L409.26,99.93 L409.39,99.92 L409.52,99.91 L409.66,99.89 L409.79,99.88 L409.92,99.86 L410.05,99.85 L410.18,99.83 L410.31,99.81 L410.44,99.79 L410.57,99.77 L410.71,99.75 L410.84,99.73 L410.97,99.70 L411.10,99.68 L411.23,99.65 L411.36,99.63 L411.49,99.60 L411.62,99.57 L411.76,99.54 L411.89,99.52 L412.02,99.49 L412.15,99.45 L412.28,99.42 L412.41,99.39 L412.54,99.36 L412.67,99.32 L412.81,99.29 L412.94,99.25 L413.07,99.22 L413.20,99.18 L413.33,99.14 L413.46,99.10 L413.59,99.06 L413.72,99.02 L413.86,98.98 L413.99,98.94 L414.12,98.89 L414.25,98.85 L414.38,98.80 L414.51,98.75 L414.64,98.70 L414.77,98.65 L414.91,98.60 L415.04,98.55 L415.17,98.50 L415.30,98.44 L415.43,98.38 L415.56,98.33 L415.69,98.27 L415.82,98.20 L415.96,98.14 L416.09,98.08 L416.22,98.01 L416.35,97.94 L416.48,97.87 L416.61,97.79 L416.74,97.72 L416.88,97.64 L417.01,97.56 L417.14,97.48 L417.27,97.39 L417.40,97.30 L417.53,97.21 L417.66,97.11 L417.79,97.01 L417.93,96.91 L418.06,96.80 L418.19,96.69 L418.32,96.57 L418.45,96.45 L418.58,96.32 L418.71,96.19 L418.84,96.05 L418.98,95.91 L419.11,95.75 L419.24,95.60 L419.37,95.43 L419.50,95.25 L419.63,95.07 L419.76,94.88 L419.89,94.67 L420.02,94.46 L420.16,94.23 L420.29,93.99 L420.42,93.73 L420.55,93.46 L420.68,93.17 L420.81,92.87 L420.94,92.54 L421.07,92.19 L421.21,91.82 L421.34,91.43 L421.47,91.00 L421.60,90.54 L421.73,90.06 L421.86,89.53 L421.99,88.96 L422.12,88.35 L422.26,87.70 L422.39,86.99 L422.52,86.22 L422.65,85.39 L422.78,84.49 L422.91,83.52 L423.04,82.47 L423.18,81.33 L423.31,80.10 L423.44,78.77 L423.57,77.34 L423.70,75.80 L423.83,74.15 L423.96,72.40 L424.09,70.55 L424.22,68.61 L424.36,66.60 L424.49,64.55 L424.62,62.49 L424.75,60.47 L424.88,58.55 L425.01,56.78 L425.14,55.24 L425.27,53.99 L425.41,53.09 L425.54,52.60 L425.67,52.52 L425.80,52.88 L425.93,53.65 L426.06,54.79 L426.19,56.24 L426.32,57.94 L426.46,59.82 L426.59,61.81 L426.72,63.86 L426.85,65.92 L426.98,67.95 L427.11,69.91 L427.24,71.80 L427.38,73.58 L427.51,75.26 L427.64,76.84 L427.77,78.30 L427.90,79.66 L428.03,80.93 L428.16,82.10 L428.29,83.18 L428.42,84.18 L428.56,85.10 L428.69,85.95 L428.82,86.74 L428.95,87.47 L429.08,88.14 L429.21,88.77 L429.34,89.35 L429.48,89.88 L429.61,90.39 L429.74,90.85 L429.87,91.29 L430.00,91.69 L430.13,92.07 L430.26,92.43 L430.39,92.76 L430.52,93.07 L430.66,93.37 L430.79,93.64 L430.92,93.90 L431.05,94.15 L431.18,94.38 L431.31,94.60 L431.44,94.81 L431.57,95.01 L431.71,95.19 L431.84,95.37 L431.97,95.54 L432.10,95.70 L432.23,95.86 L432.36,96.00 L432.49,96.14 L432.62,96.28 L432.76,96.41 L432.89,96.53 L433.02,96.65 L433.15,96.76 L433.28,96.87 L433.41,96.98 L433.54,97.08 L433.67,97.17 L433.81,97.27 L433.94,97.36 L434.07,97.45 L434.20,97.53 L434.33,97.61 L434.46,97.69 L434.59,97.77 L434.72,97.84 L434.86,97.92 L434.99,97.99 L435.12,98.05 L435.25,98.12 L435.38,98.18 L435.51,98.25 L435.64,98.31 L435.77,98.36 L435.91,98.42 L436.04,98.48 L436.17,98.53 L436.30,98.59 L436.43,98.64 L436.56,98.69 L436.69,98.74 L436.82,98.78 L436.96,98.83 L437.09,98.88 L437.22,98.92 L437.35,98.96 L437.48,99.01 L437.61,99.05 L437.74,99.09 L437.88,99.13 L438.01,99.17 L438.14,99.21 L438.27,99.24 L438.40,99.28 L438.53,99.31 L438.66,99.35 L438.79,99.38 L438.92,99.42 L439.06,99.45 L439.19,99.48 L439.32,99.51 L439.45,99.54 L439.58,99.57 L439.71,99.60 L439.84,99.63 L439.97,99.66 L440.11,99.68 L440.24,99.71 L440.37,99.74 L440.50,99.76 L440.63,99.79 L440.76,99.81 L440.89,99.84 L441.02,99.86 L441.16,99.88 L441.29,99.91 L441.42,99.93 L441.55,99.95 L441.68,99.97 L441.81,99.99 L441.94,100.01 L442.07,100.03 L442.21,100.05 L442.34,100.07 L442.47,100.09 L442.60,100.10 L442.73,100.12 L442.86,100.14 L442.99,100.16 L443.12,100.17 L443.26,100.19 L443.39,100.21 L443.52,100.22 L443.65,100.24 L443.78,100.25 L443.91,100.27 L444.04,100.28 L444.18,100.29 L444.31,100.31 L444.44,100.32 L444.57,100.33 L444.70,100.35 L444.83,100.36 L444.96,100.37 L445.09,100.38 L445.22,100.39 L445.36,100.40 L445.49,100.42 L445.62,100.43 L445.75,100.44 L445.88,100.45 L446.01,100.46 L446.14,100.47 L446.27,100.48 L446.41,100.49 L446.54,100.49 L446.67,100.50 L446.80,100.51 L446.93,100.52 L447.06,100.53" fill="none" stroke="#5bbcf0" stroke-width="1.25" stroke-linejoin="round"/>
<text x="179.8" y="139.1" font-size="12.4" text-anchor="start" fill="#000" >d</text>
<g clip-path="url(#dclip0)">
<rect x="193" y="137" width="82.60000000000002" height="82.6" fill="#888"/>
<ellipse cx="205" cy="205" rx="14" ry="16" fill="#7a7a7a" filter="url(#blur4)"/>
<ellipse cx="268" cy="205" rx="10" ry="16" fill="#7f7f7f" filter="url(#blur4)"/>
<ellipse cx="228" cy="157" rx="9" ry="7" fill="#757575" filter="url(#blur3)"/>
<rect x="193" y="137" width="82.60000000000002" height="82.6" fill="#000" filter="url(#noiseS)" opacity="0.35"/>
<path d="M199.50,161.50 L207.00,159.40 L215.40,161.50 L221.80,167.90 L225.00,176.40 L223.90,183.80 L217.50,186.90 L211.20,184.80 L204.80,180.60 L199.50,175.30 L197.40,167.90 Z" fill="#e2e2e2" filter="url(#bl05)"/>
<path d="M233.40,163.60 L243.00,160.50 L253.50,155.20 L262.00,152.00 L268.40,154.10 L271.50,161.50 L269.40,172.10 L263.00,178.50 L255.60,183.80 L249.30,189.00 L247.20,193.30 L243.00,190.10 L238.70,184.80 L235.50,176.40 L234.50,168.90 Z" fill="#e2e2e2" filter="url(#bl05)"/>
<path d="M221.80,183.80 L228.00,181.00 L232.40,181.60 L240.80,185.90 L246.10,192.20 L248.20,201.80 L248.00,210.00 L247.20,222.00 L232.40,222.00 L215.40,222.00 L214.40,206.00 L216.50,195.40 L218.60,189.00 Z" fill="#e2e2e2" filter="url(#bl05)"/>
<path d="M220,186 L236,176 L242,186 L228,192 Z" fill="#d0d0d0" filter="url(#blur1)"/>
<ellipse cx="208" cy="170" rx="6" ry="6" fill="#f4f4f4" filter="url(#blur2)"/>
<ellipse cx="216" cy="176" rx="4" ry="5" fill="#f4f4f4" filter="url(#blur2)"/>
<ellipse cx="258" cy="163" rx="8" ry="6" fill="#f4f4f4" filter="url(#blur2)"/>
<ellipse cx="250" cy="175" rx="5" ry="5" fill="#f4f4f4" filter="url(#blur2)"/>
<ellipse cx="230" cy="203" rx="8" ry="8" fill="#f4f4f4" filter="url(#blur2)"/>
<ellipse cx="240" cy="196" rx="4" ry="4" fill="#f4f4f4" filter="url(#blur2)"/>
<ellipse cx="222" cy="212" rx="5" ry="5" fill="#f4f4f4" filter="url(#blur2)"/>
<ellipse cx="258" cy="176" rx="5" ry="4" fill="#b4b4b4" filter="url(#blur1)"/>
<ellipse cx="226" cy="200" rx="4" ry="4" fill="#b4b4b4" filter="url(#blur1)"/>
<ellipse cx="238" cy="214" rx="5" ry="3" fill="#b4b4b4" filter="url(#blur1)"/>
<ellipse cx="205" cy="178" rx="3" ry="2.5" fill="#b4b4b4" filter="url(#blur1)"/>
<ellipse cx="219" cy="180" rx="3" ry="4" fill="#b4b4b4" filter="url(#blur1)"/>
<ellipse cx="244" cy="170" rx="3" ry="4" fill="#b4b4b4" filter="url(#blur1)"/>
<ellipse cx="232" cy="190" rx="3" ry="2" fill="#b4b4b4" filter="url(#blur1)"/>
<ellipse cx="222" cy="214" rx="3" ry="3" fill="#b4b4b4" filter="url(#blur1)"/>
<rect x="193" y="137" width="82.60000000000002" height="82.6" fill="#000" filter="url(#noiseW)" opacity="0.22"/>
<ellipse cx="204.8" cy="159.6" rx="3.2" ry="2.2" fill="#0a0a0a"/>
<circle cx="231.8" cy="161.8" r="1.9" fill="#151515"/>
<circle cx="228.2" cy="172.7" r="1.8" fill="#151515"/>
<circle cx="211.6" cy="147.9" r="0.9" fill="#151515"/>
<circle cx="218.3" cy="142.7" r="0.8" fill="#151515"/>
<circle cx="221" cy="141.1" r="0.7" fill="#151515"/>
<circle cx="268.4" cy="155.2" r="1.1" fill="#151515"/>
<circle cx="196" cy="190" r="0.6" fill="#151515"/>
<circle cx="222" cy="148" r="0.7" fill="#151515"/>
<circle cx="259" cy="199" r="0.6" fill="#151515"/>
<circle cx="243" cy="215" r="0.6" fill="#151515"/>
<circle cx="200" cy="215" r="0.5" fill="#151515"/>
<circle cx="211" cy="143" r="0.6" fill="#151515"/>
<circle cx="262" cy="145" r="0.5" fill="#151515"/>
</g>
<text x="195.7" y="147.9" font-size="9.5" fill="#fff">0<tspan font-style="italic">R</tspan></text>
<text x="229.6" y="147.4" font-size="8.6" fill="#fff">P = Pore</text>
<line x1="208" y1="157.2" x2="225.5" y2="149.3" stroke="#fff" stroke-width="0.9"/><path d="M227.8,148.3 L222.6,148.4 L224.5,152.2 Z" fill="#fff"/>
<line x1="231.6" y1="157.5" x2="233.6" y2="151.5" stroke="#fff" stroke-width="0.9"/><path d="M234.2,149.4 L231.5,153 L235.3,153.6 Z" fill="#fff"/>
<text x="240.9" y="212.2" font-size="9.3" fill="#fff">100 nm</text>
<rect x="246" y="214.8" width="25.3" height="1.8" fill="#fff"/>
<g clip-path="url(#dclip1)">
<rect x="280" y="137" width="82.80000000000001" height="82.6" fill="#b4b4b4"/>
<path d="M300,137 L345,137 L352,180 L340,222 L305,222 L298,180 Z" fill="#c2c2c2" filter="url(#blur4)"/>
<ellipse cx="326" cy="156" rx="9" ry="9" fill="#cacaca" filter="url(#blur3)"/>
<ellipse cx="285" cy="200" rx="8" ry="16" fill="#aaaaaa" filter="url(#blur4)"/>
<rect x="280" y="137" width="82.80000000000001" height="82.6" fill="#000" filter="url(#noiseS)" opacity="0.25"/>
<ellipse cx="286.5" cy="172.1" rx="1.26" ry="0.9900000000000001" fill="#404040" transform="rotate(0 286.5 172.1)"/>
<ellipse cx="302.4" cy="178.5" rx="0.9" ry="1.26" fill="#404040" transform="rotate(0 302.4 178.5)"/>
<ellipse cx="338.4" cy="163.8" rx="1.08" ry="0.9" fill="#404040" transform="rotate(0 338.4 163.8)"/>
<ellipse cx="346.5" cy="171.5" rx="0.9" ry="1.9800000000000002" fill="#404040" transform="rotate(-50 346.5 171.5)"/>
<ellipse cx="351.8" cy="176.2" rx="0.81" ry="1.62" fill="#404040" transform="rotate(-50 351.8 176.2)"/>
<ellipse cx="330" cy="144.8" rx="1.08" ry="1.35" fill="#404040" transform="rotate(0 330 144.8)"/>
<ellipse cx="358.5" cy="143.5" rx="0.9" ry="0.9" fill="#404040" transform="rotate(0 358.5 143.5)"/>
<ellipse cx="283" cy="148" rx="0.54" ry="0.54" fill="#404040" transform="rotate(0 283 148)"/>
<ellipse cx="284" cy="158" rx="0.54" ry="0.54" fill="#404040" transform="rotate(0 284 158)"/>
<ellipse cx="290" cy="211" rx="0.54" ry="0.54" fill="#404040" transform="rotate(0 290 211)"/>
</g>
<path d="M315.10,149.90 L323.60,145.60 L329.90,146.30 L336.30,155.20 L336.30,162.60 L329.90,168.90 L316.20,163.60 Z" fill="none" stroke="#4656ff" stroke-width="1.3" stroke-dasharray="3.6,1.9"/>
<path d="M303.50,170.00 L316.20,163.60 L329.90,168.90 L327.80,193.30 L310.90,194.40 L306.60,190.10 Z" fill="none" stroke="#4656ff" stroke-width="1.3" stroke-dasharray="3.6,1.9"/>
<path d="M310.90,194.40 L327.80,193.30 L331.00,211.30 L316.20,216.60 Z" fill="none" stroke="#4656ff" stroke-width="1.3" stroke-dasharray="3.6,1.9"/>
<text x="282.6" y="147.9" font-size="9.5" fill="#fff">0.9<tspan font-style="italic">R</tspan></text>
<text x="332.6" y="212.2" font-size="9.3" fill="#fff">50 nm</text>
<rect x="336" y="214.8" width="22" height="1.8" fill="#fff"/>
<g clip-path="url(#dclip2)">
<rect x="367.2" y="137" width="82.60000000000002" height="82.6" fill="#9a9a9a"/>
<ellipse cx="405" cy="146.5" rx="11" ry="9" fill="#2e2e2e" filter="url(#blur3)"/>
<ellipse cx="377" cy="173" rx="9" ry="12" fill="#2a2a2a" filter="url(#blur3)"/>
<ellipse cx="372" cy="150" rx="6" ry="5" fill="#4a4a4a" filter="url(#blur3)"/>
<ellipse cx="398" cy="208" rx="10" ry="9" fill="#3a3a3a" filter="url(#blur3)"/>
<ellipse cx="446" cy="185" rx="6" ry="12" fill="#444" filter="url(#blur3)"/>
<ellipse cx="392" cy="190" rx="5" ry="5" fill="#5a5a5a" filter="url(#blur3)"/>
<ellipse cx="416" cy="165" rx="4" ry="4" fill="#555" filter="url(#blur3)"/>
<ellipse cx="372" cy="216" rx="8" ry="5" fill="#555" filter="url(#blur3)"/>
<ellipse cx="444" cy="212" rx="6" ry="5" fill="#606060" filter="url(#blur3)"/>
<ellipse cx="425" cy="140" rx="5" ry="4" fill="#606060" filter="url(#blur3)"/>
<ellipse cx="436" cy="200" rx="6" ry="5" fill="#5a5a5a" filter="url(#blur3)"/>
<circle cx="401.8" cy="173.4" r="8" fill="#b6b6b6" filter="url(#blur2)"/>
<circle cx="429.2" cy="156.9" r="8" fill="#b6b6b6" filter="url(#blur2)"/>
<circle cx="377.8" cy="197.4" r="7" fill="#b6b6b6" filter="url(#blur2)"/>
<circle cx="415.5" cy="210" r="6" fill="#b6b6b6" filter="url(#blur2)"/>
<circle cx="388" cy="160" r="4" fill="#b6b6b6" filter="url(#blur2)"/>
<circle cx="444" cy="141" r="5" fill="#b6b6b6" filter="url(#blur2)"/>
<circle cx="385" cy="140" r="4" fill="#b6b6b6" filter="url(#blur2)"/>
<circle cx="425" cy="182" r="5" fill="#b6b6b6" filter="url(#blur2)"/>
<rect x="367.2" y="137" width="82.60000000000002" height="82.6" fill="#000" filter="url(#noiseS)" opacity="0.3"/>
</g>
<circle cx="429.2" cy="156.9" r="9.6" fill="none" stroke="#f6f210" stroke-width="1.4" stroke-dasharray="3.4,1.8"/>
<circle cx="401.8" cy="173.4" r="10.3" fill="none" stroke="#f6f210" stroke-width="1.4" stroke-dasharray="3.4,1.8"/>
<circle cx="377.8" cy="197.4" r="9.1" fill="none" stroke="#f6f210" stroke-width="1.4" stroke-dasharray="3.4,1.8"/>
<circle cx="415.5" cy="209.9" r="8" fill="none" stroke="#f6f210" stroke-width="1.4" stroke-dasharray="3.4,1.8"/>
<circle cx="425" cy="182.5" r="10.3" fill="none" stroke="#3434f4" stroke-width="1.4" stroke-dasharray="3.4,1.8"/>
<circle cx="409.1" cy="192.8" r="7.5" fill="none" stroke="#3434f4" stroke-width="1.4" stroke-dasharray="3.4,1.8"/>
<text x="370.3" y="147.9" font-size="9.5" fill="#fff">1.6<tspan font-style="italic">R</tspan></text>
<text x="375.4" y="180.2" font-size="9.5" fill="#fff">P</text>
<text x="427" y="212.2" font-size="9.3" fill="#fff">5 nm</text>
<rect x="428.5" y="214.8" width="17.8" height="1.8" fill="#fff"/>
<text x="179.8" y="234.6" font-size="12.4" text-anchor="start" fill="#000" >e</text>
<g clip-path="url(#eclip0)">
<rect x="192.6" y="233.0" width="81.70000000000002" height="33.80000000000001" fill="#f7f21c"/>
<line x1="207" y1="231" x2="210.1" y2="236" stroke="#333" stroke-width="0.6"/>
<line x1="210.1" y1="236" x2="217.4" y2="242.5" stroke="#333" stroke-width="0.6"/>
<line x1="217.4" y1="242.5" x2="216.8" y2="248.4" stroke="#333" stroke-width="0.6"/>
<line x1="216.8" y1="248.4" x2="216.8" y2="254.2" stroke="#333" stroke-width="0.6"/>
<line x1="216.8" y1="254.2" x2="206.2" y2="258.3" stroke="#333" stroke-width="0.6"/>
<line x1="206.2" y1="258.3" x2="197.8" y2="251.3" stroke="#333" stroke-width="0.6"/>
<line x1="197.8" y1="251.3" x2="191" y2="246" stroke="#333" stroke-width="0.6"/>
<line x1="206.2" y1="258.3" x2="205" y2="268" stroke="#333" stroke-width="0.6"/>
<line x1="216.8" y1="254.2" x2="227" y2="250" stroke="#333" stroke-width="0.6"/>
<line x1="227" y1="250" x2="240.5" y2="253.5" stroke="#333" stroke-width="0.6"/>
<line x1="240.5" y1="253.5" x2="233.9" y2="262.2" stroke="#333" stroke-width="0.6"/>
<line x1="233.9" y1="262.2" x2="228" y2="268" stroke="#333" stroke-width="0.6"/>
<line x1="217.4" y1="242.5" x2="222" y2="236.5" stroke="#333" stroke-width="0.6"/>
<line x1="222" y1="236.5" x2="233.2" y2="236.4" stroke="#333" stroke-width="0.6"/>
<line x1="233.2" y1="236.4" x2="241" y2="237" stroke="#333" stroke-width="0.6"/>
<line x1="241" y1="237" x2="248.8" y2="237" stroke="#333" stroke-width="0.6"/>
<line x1="222" y1="236.5" x2="221" y2="231" stroke="#333" stroke-width="0.6"/>
<line x1="240.5" y1="253.5" x2="243" y2="243" stroke="#333" stroke-width="0.6"/>
<line x1="243" y1="243" x2="248.8" y2="237" stroke="#333" stroke-width="0.6"/>
<line x1="248.8" y1="237" x2="255" y2="233" stroke="#333" stroke-width="0.6"/>
<line x1="255" y1="233" x2="269" y2="236.4" stroke="#333" stroke-width="0.6"/>
<line x1="269" y1="236.4" x2="271.1" y2="249.5" stroke="#333" stroke-width="0.6"/>
<line x1="271.1" y1="249.5" x2="276" y2="252" stroke="#333" stroke-width="0.6"/>
<line x1="271.1" y1="249.5" x2="258" y2="258.6" stroke="#333" stroke-width="0.6"/>
<line x1="258" y1="258.6" x2="240.5" y2="253.5" stroke="#333" stroke-width="0.6"/>
<line x1="258" y1="258.6" x2="260" y2="268" stroke="#333" stroke-width="0.6"/>
<line x1="241" y1="237" x2="243" y2="243" stroke="#333" stroke-width="0.6"/>
<ellipse cx="210.1" cy="236.3" rx="2.3" ry="2.2" fill="#000"/>
<ellipse cx="217.4" cy="242.5" rx="2.2" ry="2.6" fill="#000"/>
<ellipse cx="216.8" cy="248.6" rx="2.1" ry="2.6" fill="#000"/>
<ellipse cx="216.8" cy="254.2" rx="2.2" ry="2.4" fill="#000"/>
<ellipse cx="197.8" cy="251.3" rx="2.2" ry="2.0" fill="#000"/>
<ellipse cx="206.2" cy="258.3" rx="2.7" ry="2.6" fill="#000"/>
<ellipse cx="233.2" cy="236.6" rx="3.2" ry="2.3" fill="#000"/>
<ellipse cx="240.5" cy="253.5" rx="2.6" ry="2.6" fill="#000"/>
<ellipse cx="233.9" cy="262.2" rx="2.8" ry="2.4" fill="#000"/>
<ellipse cx="248.8" cy="237.2" rx="2.4" ry="2.3" fill="#000"/>
<ellipse cx="269" cy="236.6" rx="2.6" ry="2.3" fill="#000"/>
<ellipse cx="271.1" cy="249.5" rx="2.2" ry="2.5" fill="#000"/>
<ellipse cx="258" cy="258.6" rx="2.8" ry="2.5" fill="#000"/>
</g>
<g clip-path="url(#eclip1)">
<rect x="279.9" y="233.0" width="82.40000000000003" height="33.80000000000001" fill="#f7f21c"/>
<line x1="289.3" y1="238.9" x2="301" y2="239.6" stroke="#5563f0" stroke-width="1.3"/>
<line x1="301" y1="239.6" x2="313.8" y2="234.5" stroke="#5563f0" stroke-width="1.3"/>
<line x1="313.8" y1="234.5" x2="331.3" y2="241.1" stroke="#5563f0" stroke-width="1.3"/>
<line x1="331.3" y1="241.1" x2="337" y2="233.5" stroke="#5563f0" stroke-width="1.3"/>
<line x1="337" y1="233.5" x2="349.6" y2="238.4" stroke="#5563f0" stroke-width="1.3"/>
<line x1="349.6" y1="238.4" x2="352.5" y2="248.4" stroke="#5563f0" stroke-width="1.3"/>
<line x1="352.5" y1="248.4" x2="344.2" y2="258.3" stroke="#5563f0" stroke-width="1.3"/>
<line x1="344.2" y1="258.3" x2="326.5" y2="258.9" stroke="#5563f0" stroke-width="1.3"/>
<line x1="326.5" y1="258.9" x2="320" y2="256" stroke="#5563f0" stroke-width="1.3"/>
<line x1="320" y1="256" x2="304.3" y2="256.4" stroke="#5563f0" stroke-width="1.3"/>
<line x1="304.3" y1="256.4" x2="295.1" y2="258.6" stroke="#5563f0" stroke-width="1.3"/>
<line x1="295.1" y1="258.6" x2="285.6" y2="252" stroke="#5563f0" stroke-width="1.3"/>
<line x1="285.6" y1="252" x2="289.3" y2="238.9" stroke="#5563f0" stroke-width="1.3"/>
<line x1="301" y1="239.6" x2="304.3" y2="256.4" stroke="#5563f0" stroke-width="1.3"/>
<line x1="313.8" y1="234.5" x2="317" y2="244.7" stroke="#5563f0" stroke-width="1.3"/>
<line x1="317" y1="244.7" x2="320" y2="256" stroke="#5563f0" stroke-width="1.3"/>
<line x1="331.3" y1="241.1" x2="344.2" y2="258.3" stroke="#5563f0" stroke-width="1.3"/>
<line x1="352.5" y1="248.4" x2="365" y2="249.5" stroke="#5563f0" stroke-width="1.3"/>
<line x1="289.3" y1="238.9" x2="285" y2="231.5" stroke="#5563f0" stroke-width="1.3"/>
<line x1="285.6" y1="252" x2="278" y2="254" stroke="#5563f0" stroke-width="1.3"/>
<line x1="295.1" y1="258.6" x2="295" y2="268" stroke="#5563f0" stroke-width="1.3"/>
<line x1="320" y1="256" x2="322" y2="268" stroke="#5563f0" stroke-width="1.3"/>
<line x1="326.5" y1="258.9" x2="327" y2="268" stroke="#5563f0" stroke-width="1.3"/>
<line x1="344.2" y1="258.3" x2="350" y2="268" stroke="#5563f0" stroke-width="1.3"/>
<line x1="349.6" y1="238.4" x2="351" y2="231" stroke="#5563f0" stroke-width="1.3"/>
<ellipse cx="289.3" cy="238.9" rx="2.5" ry="2.6" fill="#000"/>
<ellipse cx="301" cy="239.6" rx="2.5" ry="2.6" fill="#000"/>
<ellipse cx="313.8" cy="234.5" rx="2.5" ry="2.6" fill="#000"/>
<ellipse cx="317" cy="244.7" rx="2.5" ry="2.6" fill="#000"/>
<ellipse cx="331.3" cy="241.1" rx="2.5" ry="2.6" fill="#000"/>
<ellipse cx="349.6" cy="238.4" rx="2.5" ry="2.6" fill="#000"/>
<ellipse cx="352.5" cy="248.4" rx="2.5" ry="2.6" fill="#000"/>
<ellipse cx="285.6" cy="252" rx="2.5" ry="2.6" fill="#000"/>
<ellipse cx="295.1" cy="258.6" rx="2.5" ry="2.6" fill="#000"/>
<ellipse cx="304.3" cy="256.4" rx="2.5" ry="2.6" fill="#000"/>
<ellipse cx="326.5" cy="258.9" rx="2.5" ry="2.6" fill="#000"/>
<ellipse cx="344.2" cy="258.3" rx="2.5" ry="2.6" fill="#000"/>
</g>
<g clip-path="url(#eclip2)">
<rect x="367" y="232.6" width="82.80000000000001" height="33.599999999999994" fill="#5c5cf2"/>
<ellipse cx="381.0" cy="255.5" rx="3.03" ry="2.64" fill="#ecea22" transform="rotate(-23 381.0 255.5)"/>
<ellipse cx="432.3" cy="259.4" rx="2.87" ry="2.51" fill="#ecea22" transform="rotate(-21 432.3 259.4)"/>
<ellipse cx="367.8" cy="245.2" rx="2.96" ry="2.40" fill="#ecea22" transform="rotate(24 367.8 245.2)"/>
<ellipse cx="386.5" cy="240.7" rx="2.26" ry="2.14" fill="#ecea22" transform="rotate(19 386.5 240.7)"/>
<ellipse cx="439.1" cy="253.2" rx="2.24" ry="1.91" fill="#ecea22" transform="rotate(-0 439.1 253.2)"/>
<ellipse cx="377.0" cy="264.0" rx="2.68" ry="2.21" fill="#ecea22" transform="rotate(25 377.0 264.0)"/>
<ellipse cx="404.6" cy="251.1" rx="2.65" ry="2.31" fill="#ecea22" transform="rotate(-25 404.6 251.1)"/>
<ellipse cx="370.5" cy="261.3" rx="2.51" ry="2.30" fill="#ecea22" transform="rotate(-23 370.5 261.3)"/>
<ellipse cx="446.7" cy="262.2" rx="3.18" ry="2.91" fill="#ecea22" transform="rotate(6 446.7 262.2)"/>
<ellipse cx="427.2" cy="237.2" rx="2.82" ry="2.61" fill="#ecea22" transform="rotate(-24 427.2 237.2)"/>
<ellipse cx="401.0" cy="245.0" rx="2.79" ry="2.39" fill="#ecea22" transform="rotate(40 401.0 245.0)"/>
<ellipse cx="399.1" cy="234.1" rx="2.32" ry="2.11" fill="#ecea22" transform="rotate(39 399.1 234.1)"/>
<ellipse cx="412.5" cy="257.4" rx="2.49" ry="2.22" fill="#ecea22" transform="rotate(5 412.5 257.4)"/>
<ellipse cx="418.4" cy="239.1" rx="2.42" ry="2.06" fill="#ecea22" transform="rotate(34 418.4 239.1)"/>
<ellipse cx="395.9" cy="252.6" rx="2.60" ry="2.12" fill="#ecea22" transform="rotate(-35 395.9 252.6)"/>
<ellipse cx="422.8" cy="262.3" rx="3.45" ry="2.97" fill="#ecea22" transform="rotate(39 422.8 262.3)"/>
<ellipse cx="446.1" cy="252.3" rx="3.35" ry="2.93" fill="#ecea22" transform="rotate(-10 446.1 252.3)"/>
<ellipse cx="387.7" cy="261.6" rx="2.41" ry="1.95" fill="#ecea22" transform="rotate(24 387.7 261.6)"/>
<ellipse cx="430.8" cy="248.9" rx="3.29" ry="2.66" fill="#ecea22" transform="rotate(-19 430.8 248.9)"/>
<ellipse cx="391.2" cy="246.8" rx="2.42" ry="1.96" fill="#ecea22" transform="rotate(-13 391.2 246.8)"/>
<ellipse cx="441.1" cy="265.1" rx="2.46" ry="2.14" fill="#ecea22" transform="rotate(-20 441.1 265.1)"/>
<ellipse cx="416.7" cy="247.0" rx="2.96" ry="2.74" fill="#ecea22" transform="rotate(-15 416.7 247.0)"/>
<ellipse cx="411.2" cy="242.1" rx="3.20" ry="2.56" fill="#ecea22" transform="rotate(15 411.2 242.1)"/>
<ellipse cx="445.5" cy="234.0" rx="2.97" ry="2.66" fill="#ecea22" transform="rotate(28 445.5 234.0)"/>
<ellipse cx="400.7" cy="264.3" rx="3.38" ry="2.77" fill="#ecea22" transform="rotate(-32 400.7 264.3)"/>
<ellipse cx="375.2" cy="234.0" rx="2.78" ry="2.28" fill="#ecea22" transform="rotate(29 375.2 234.0)"/>
<ellipse cx="381.1" cy="239.2" rx="2.63" ry="2.39" fill="#ecea22" transform="rotate(4 381.1 239.2)"/>
<ellipse cx="371.3" cy="256.2" rx="1.82" ry="1.67" fill="#ecea22" transform="rotate(23 371.3 256.2)"/>
<ellipse cx="388.2" cy="255.8" rx="2.61" ry="2.10" fill="#ecea22" transform="rotate(-9 388.2 255.8)"/>
<ellipse cx="392.8" cy="262.4" rx="1.99" ry="1.74" fill="#ecea22" transform="rotate(4 392.8 262.4)"/>
<ellipse cx="392.9" cy="255.9" rx="1.11" ry="0.98" fill="#ecea22" transform="rotate(-35 392.9 255.9)"/>
<ellipse cx="434.1" cy="264.8" rx="2.15" ry="1.82" fill="#ecea22" transform="rotate(39 434.1 264.8)"/>
<ellipse cx="418.3" cy="233.8" rx="2.04" ry="1.77" fill="#ecea22" transform="rotate(1 418.3 233.8)"/>
<ellipse cx="385.9" cy="234.8" rx="2.76" ry="2.31" fill="#ecea22" transform="rotate(16 385.9 234.8)"/>
<ellipse cx="404.8" cy="240.9" rx="2.10" ry="1.84" fill="#ecea22" transform="rotate(11 404.8 240.9)"/>
<ellipse cx="429.5" cy="254.8" rx="1.70" ry="1.54" fill="#ecea22" transform="rotate(15 429.5 254.8)"/>
<ellipse cx="412.8" cy="235.8" rx="2.59" ry="2.44" fill="#ecea22" transform="rotate(19 412.8 235.8)"/>
<ellipse cx="405.3" cy="236.7" rx="1.33" ry="1.21" fill="#ecea22" transform="rotate(-24 405.3 236.7)"/>
<ellipse cx="423.3" cy="241.7" rx="2.31" ry="1.96" fill="#ecea22" transform="rotate(-20 423.3 241.7)"/>
<ellipse cx="436.7" cy="238.2" rx="3.09" ry="2.56" fill="#ecea22" transform="rotate(8 436.7 238.2)"/>
<ellipse cx="390.5" cy="238.8" rx="1.38" ry="1.16" fill="#ecea22" transform="rotate(-25 390.5 238.8)"/>
<ellipse cx="408.5" cy="234.5" rx="1.11" ry="1.00" fill="#ecea22" transform="rotate(-21 408.5 234.5)"/>
<ellipse cx="368.1" cy="250.8" rx="1.92" ry="1.62" fill="#ecea22" transform="rotate(-4 368.1 250.8)"/>
<ellipse cx="440.7" cy="245.2" rx="2.38" ry="2.18" fill="#ecea22" transform="rotate(26 440.7 245.2)"/>
<ellipse cx="382.8" cy="246.3" rx="2.92" ry="2.43" fill="#ecea22" transform="rotate(24 382.8 246.3)"/>
<ellipse cx="439.8" cy="233.8" rx="1.56" ry="1.27" fill="#ecea22" transform="rotate(32 439.8 233.8)"/>
<ellipse cx="434.2" cy="252.9" rx="1.19" ry="1.04" fill="#ecea22" transform="rotate(24 434.2 252.9)"/>
<ellipse cx="395.1" cy="241.9" rx="2.66" ry="2.25" fill="#ecea22" transform="rotate(10 395.1 241.9)"/>
<ellipse cx="373.0" cy="249.8" rx="2.36" ry="1.95" fill="#ecea22" transform="rotate(-18 373.0 249.8)"/>
<ellipse cx="408.0" cy="255.3" rx="1.79" ry="1.47" fill="#ecea22" transform="rotate(-32 408.0 255.3)"/>
<ellipse cx="400.9" cy="255.6" rx="2.40" ry="2.11" fill="#ecea22" transform="rotate(-34 400.9 255.6)"/>
<ellipse cx="437.1" cy="259.3" rx="1.15" ry="1.04" fill="#ecea22" transform="rotate(-23 437.1 259.3)"/>
<ellipse cx="411.1" cy="262.6" rx="2.14" ry="1.84" fill="#ecea22" transform="rotate(35 411.1 262.6)"/>
<ellipse cx="417.7" cy="252.9" rx="2.25" ry="2.02" fill="#ecea22" transform="rotate(-27 417.7 252.9)"/>
<ellipse cx="434.2" cy="244.9" rx="1.12" ry="0.90" fill="#ecea22" transform="rotate(-6 434.2 244.9)"/>
<ellipse cx="389.2" cy="250.6" rx="1.15" ry="0.92" fill="#ecea22" transform="rotate(26 389.2 250.6)"/>
<ellipse cx="448.8" cy="245.4" rx="2.71" ry="2.17" fill="#ecea22" transform="rotate(13 448.8 245.4)"/>
<ellipse cx="449.1" cy="239.6" rx="2.38" ry="2.16" fill="#ecea22" transform="rotate(25 449.1 239.6)"/>
<ellipse cx="408.4" cy="248.2" rx="1.42" ry="1.27" fill="#ecea22" transform="rotate(8 408.4 248.2)"/>
<ellipse cx="395.8" cy="257.7" rx="1.61" ry="1.40" fill="#ecea22" transform="rotate(1 395.8 257.7)"/>
<ellipse cx="375.4" cy="239.8" rx="2.25" ry="2.08" fill="#ecea22" transform="rotate(2 375.4 239.8)"/>
<ellipse cx="431.7" cy="234.3" rx="1.76" ry="1.65" fill="#ecea22" transform="rotate(22 431.7 234.3)"/>
<ellipse cx="421.8" cy="254.5" rx="1.41" ry="1.30" fill="#ecea22" transform="rotate(-36 421.8 254.5)"/>
<ellipse cx="421.6" cy="247.5" rx="1.28" ry="1.09" fill="#ecea22" transform="rotate(29 421.6 247.5)"/>
<ellipse cx="382.8" cy="262.8" rx="1.95" ry="1.61" fill="#ecea22" transform="rotate(-37 382.8 262.8)"/>
<ellipse cx="435.5" cy="255.6" rx="1.13" ry="0.96" fill="#ecea22" transform="rotate(31 435.5 255.6)"/>
<ellipse cx="417.6" cy="257.3" rx="1.43" ry="1.33" fill="#ecea22" transform="rotate(31 417.6 257.3)"/>
<ellipse cx="378.1" cy="245.7" rx="1.12" ry="0.89" fill="#ecea22" transform="rotate(-33 378.1 245.7)"/>
<ellipse cx="404.7" cy="257.9" rx="1.28" ry="1.14" fill="#ecea22" transform="rotate(-31 404.7 257.9)"/>
<ellipse cx="441.9" cy="238.6" rx="1.41" ry="1.15" fill="#ecea22" transform="rotate(24 441.9 238.6)"/>
<ellipse cx="437.6" cy="249.1" rx="1.29" ry="1.20" fill="#ecea22" transform="rotate(-35 437.6 249.1)"/>
<ellipse cx="422.6" cy="235.9" rx="1.17" ry="1.08" fill="#ecea22" transform="rotate(-2 422.6 235.9)"/>
<ellipse cx="370.9" cy="238.6" rx="1.61" ry="1.43" fill="#ecea22" transform="rotate(12 370.9 238.6)"/>
<ellipse cx="443.1" cy="258.4" rx="1.33" ry="1.13" fill="#ecea22" transform="rotate(36 443.1 258.4)"/>
<ellipse cx="429.4" cy="242.4" rx="2.07" ry="1.96" fill="#ecea22" transform="rotate(-33 429.4 242.4)"/>
<ellipse cx="398.1" cy="248.7" rx="1.12" ry="0.90" fill="#ecea22" transform="rotate(3 398.1 248.7)"/>
<ellipse cx="412.6" cy="252.3" rx="1.91" ry="1.73" fill="#ecea22" transform="rotate(17 412.6 252.3)"/>
<ellipse cx="381.3" cy="234.4" rx="1.12" ry="1.04" fill="#ecea22" transform="rotate(-9 381.3 234.4)"/>
<ellipse cx="444.1" cy="242.4" rx="1.29" ry="1.08" fill="#ecea22" transform="rotate(-2 444.1 242.4)"/>
<ellipse cx="425.7" cy="247.3" rx="1.31" ry="1.15" fill="#ecea22" transform="rotate(25 425.7 247.3)"/>
<ellipse cx="406.2" cy="265.0" rx="1.45" ry="1.24" fill="#ecea22" transform="rotate(6 406.2 265.0)"/>
<ellipse cx="368.9" cy="235.8" rx="1.13" ry="0.99" fill="#ecea22" transform="rotate(9 368.9 235.8)"/>
<ellipse cx="375.5" cy="259.6" rx="1.25" ry="1.11" fill="#ecea22" transform="rotate(34 375.5 259.6)"/>
<ellipse cx="394.0" cy="234.3" rx="2.03" ry="1.77" fill="#ecea22" transform="rotate(-17 394.0 234.3)"/>
<ellipse cx="377.0" cy="252.7" rx="1.15" ry="0.93" fill="#ecea22" transform="rotate(2 377.0 252.7)"/>
<ellipse cx="426.2" cy="256.5" rx="1.24" ry="1.03" fill="#ecea22" transform="rotate(-7 426.2 256.5)"/>
<ellipse cx="429.3" cy="263.7" rx="1.70" ry="1.48" fill="#ecea22" transform="rotate(-35 429.3 263.7)"/>
<ellipse cx="373.2" cy="245.3" rx="1.36" ry="1.22" fill="#ecea22" transform="rotate(-7 373.2 245.3)"/>
<ellipse cx="425.8" cy="252.4" rx="1.99" ry="1.60" fill="#ecea22" transform="rotate(-36 425.8 252.4)"/>
<ellipse cx="384.8" cy="250.8" rx="1.28" ry="1.12" fill="#ecea22" transform="rotate(12 384.8 250.8)"/>
<ellipse cx="417.2" cy="264.7" rx="1.83" ry="1.50" fill="#ecea22" transform="rotate(-32 417.2 264.7)"/>
<ellipse cx="375.0" cy="255.6" rx="1.24" ry="1.00" fill="#ecea22" transform="rotate(18 375.0 255.6)"/>
<ellipse cx="377.7" cy="249.7" rx="1.19" ry="1.06" fill="#ecea22" transform="rotate(-23 377.7 249.7)"/>
<ellipse cx="399.2" cy="239.7" rx="1.19" ry="1.10" fill="#ecea22" transform="rotate(6 399.2 239.7)"/>
<ellipse cx="422.1" cy="251.2" rx="1.10" ry="0.92" fill="#ecea22" transform="rotate(-34 422.1 251.2)"/>
<ellipse cx="396.7" cy="237.6" rx="1.15" ry="0.97" fill="#ecea22" transform="rotate(14 396.7 237.6)"/>
<ellipse cx="390.4" cy="242.4" rx="1.27" ry="1.09" fill="#ecea22" transform="rotate(19 390.4 242.4)"/>
<ellipse cx="441.4" cy="249.7" rx="1.16" ry="0.98" fill="#ecea22" transform="rotate(28 441.4 249.7)"/>
<ellipse cx="407.1" cy="260.8" rx="1.50" ry="1.38" fill="#ecea22" transform="rotate(39 407.1 260.8)"/>
<ellipse cx="406.5" cy="244.6" rx="1.28" ry="1.14" fill="#ecea22" transform="rotate(31 406.5 244.6)"/>
<ellipse cx="408.5" cy="237.5" rx="1.18" ry="1.11" fill="#ecea22" transform="rotate(39 408.5 237.5)"/>
<ellipse cx="436.7" cy="243.3" rx="1.12" ry="1.04" fill="#ecea22" transform="rotate(-12 436.7 243.3)"/>
<ellipse cx="424.5" cy="233.2" rx="1.17" ry="0.95" fill="#ecea22" transform="rotate(-20 424.5 233.2)"/>
<ellipse cx="448.8" cy="256.9" rx="1.19" ry="1.05" fill="#ecea22" transform="rotate(21 448.8 256.9)"/>
<ellipse cx="369.8" cy="265.6" rx="1.14" ry="0.92" fill="#ecea22" transform="rotate(-10 369.8 265.6)"/>
<ellipse cx="371.9" cy="241.9" rx="1.12" ry="0.98" fill="#ecea22" transform="rotate(40 371.9 241.9)"/>
<ellipse cx="401.8" cy="237.7" rx="1.37" ry="1.16" fill="#ecea22" transform="rotate(-31 401.8 237.7)"/>
<ellipse cx="416.2" cy="261.0" rx="1.23" ry="1.09" fill="#ecea22" transform="rotate(-24 416.2 261.0)"/>
<ellipse cx="370.6" cy="233.3" rx="1.10" ry="1.01" fill="#ecea22" transform="rotate(-11 370.6 233.3)"/>
<ellipse cx="405.7" cy="233.5" rx="1.10" ry="1.04" fill="#ecea22" transform="rotate(-17 405.7 233.5)"/>
<ellipse cx="440.1" cy="260.6" rx="1.35" ry="1.18" fill="#ecea22" transform="rotate(8 440.1 260.6)"/>
<ellipse cx="379.4" cy="260.2" rx="1.10" ry="0.91" fill="#ecea22" transform="rotate(-14 379.4 260.2)"/>
<ellipse cx="411.8" cy="247.4" rx="1.21" ry="1.00" fill="#ecea22" transform="rotate(-19 411.8 247.4)"/>
<ellipse cx="367.6" cy="239.7" rx="1.15" ry="0.99" fill="#ecea22" transform="rotate(-35 367.6 239.7)"/>
<ellipse cx="387.4" cy="244.8" rx="1.11" ry="0.90" fill="#ecea22" transform="rotate(19 387.4 244.8)"/>
<ellipse cx="367.5" cy="254.9" rx="1.41" ry="1.31" fill="#ecea22" transform="rotate(-39 367.5 254.9)"/>
<ellipse cx="386.1" cy="265.5" rx="1.12" ry="1.06" fill="#ecea22" transform="rotate(-28 386.1 265.5)"/>
<ellipse cx="390.3" cy="265.5" rx="1.26" ry="1.09" fill="#ecea22" transform="rotate(-17 390.3 265.5)"/>
<ellipse cx="427.7" cy="260.0" rx="1.10" ry="1.01" fill="#ecea22" transform="rotate(34 427.7 260.0)"/>
<ellipse cx="395.6" cy="246.9" rx="1.20" ry="1.02" fill="#ecea22" transform="rotate(26 395.6 246.9)"/>
<ellipse cx="395.3" cy="265.3" rx="1.12" ry="0.98" fill="#ecea22" transform="rotate(35 395.3 265.3)"/>
<ellipse cx="439.8" cy="257.3" rx="1.20" ry="1.14" fill="#ecea22" transform="rotate(20 439.8 257.3)"/>
<ellipse cx="391.6" cy="258.7" rx="1.15" ry="1.04" fill="#ecea22" transform="rotate(-2 391.6 258.7)"/>
<ellipse cx="387.1" cy="248.5" rx="1.11" ry="0.96" fill="#ecea22" transform="rotate(-10 387.1 248.5)"/>
</g>
<text x="179.6" y="281.5" font-size="12.4" text-anchor="start" fill="#000" >f</text>
<g clip-path="url(#fclip0)">
<rect x="193" y="277" width="82.10000000000002" height="50.69999999999999" fill="url(#fg0)"/>
<circle cx="234.6" cy="302.1" r="19.5" fill="none" stroke="#2c84ea" stroke-width="3.5" opacity="0.8" filter="url(#bl15)"/>
<circle cx="232.4" cy="278.8" r="1.2" fill="#60d080" filter="url(#bl07)"/>
<circle cx="235.4" cy="283.9" r="1.0" fill="#40b8c0" filter="url(#bl07)"/>
<circle cx="225.9" cy="284.6" r="1.0" fill="#40b8c0" filter="url(#bl07)"/>
<circle cx="255" cy="290.4" r="1.2" fill="#70d070" filter="url(#bl07)"/>
<circle cx="204" cy="292.6" r="1.1" fill="#70d070" filter="url(#bl07)"/>
<circle cx="252.9" cy="299.9" r="1.1" fill="#40c0b0" filter="url(#bl07)"/>
<circle cx="215.7" cy="305" r="1.0" fill="#40c0b0" filter="url(#bl07)"/>
<circle cx="214.2" cy="313.5" r="1.1" fill="#70d070" filter="url(#bl07)"/>
<circle cx="234.6" cy="320.4" r="1.1" fill="#50c8a0" filter="url(#bl07)"/>
<circle cx="236.8" cy="326.2" r="1.2" fill="#70d070" filter="url(#bl07)"/>
<circle cx="243.4" cy="319.6" r="0.9" fill="#40b8c0" filter="url(#bl07)"/>
<circle cx="267.5" cy="320.4" r="0.9" fill="#40b8c0" filter="url(#bl07)"/>
<circle cx="220" cy="296" r="1.0" fill="#3090e0" filter="url(#bl07)"/>
<circle cx="248" cy="309" r="1.0" fill="#3090e0" filter="url(#bl07)"/>
<circle cx="234.6" cy="302.1" r="6" fill="#18b0d8" filter="url(#bl15)"/>
<circle cx="234.6" cy="302.1" r="3" fill="#f8e818" filter="url(#bl07)"/>
</g>
<rect x="197.3" y="304.2" width="6.0" height="17.100000000000023" fill="url(#parV)" stroke="#222" stroke-width="1.0"/>
<text x="250.2" y="318.2" font-size="8" fill="#fff">2 nm<tspan font-size="5.6" dy="-3.2">-1</tspan></text>
<rect x="255" y="321.7" width="11" height="1.8" fill="#fff"/>
<g clip-path="url(#fclip1)">
<rect x="279.9" y="277" width="82.80000000000001" height="50.69999999999999" fill="url(#fg1)"/>
<circle cx="322.1" cy="302.1" r="17.5" fill="none" stroke="#3a6ee8" stroke-width="2.5" opacity="0.7" filter="url(#bl07)"/>
<circle cx="322.1" cy="284.6" r="1.15" fill="#30b4d4" filter="url(#bl07)"/>
<circle cx="328.4" cy="285.3" r="1.15" fill="#30b4d4" filter="url(#bl07)"/>
<circle cx="311.3" cy="288.2" r="1.15" fill="#30b4d4" filter="url(#bl07)"/>
<circle cx="338.6" cy="297" r="1.15" fill="#30b4d4" filter="url(#bl07)"/>
<circle cx="305.8" cy="299.2" r="1.15" fill="#30b4d4" filter="url(#bl07)"/>
<circle cx="305.8" cy="305.8" r="1.15" fill="#30b4d4" filter="url(#bl07)"/>
<circle cx="338.6" cy="305" r="1.15" fill="#30b4d4" filter="url(#bl07)"/>
<circle cx="332.8" cy="316" r="1.15" fill="#30b4d4" filter="url(#bl07)"/>
<circle cx="316" cy="318.9" r="1.15" fill="#30b4d4" filter="url(#bl07)"/>
<circle cx="321.8" cy="319.6" r="1.15" fill="#30b4d4" filter="url(#bl07)"/>
<circle cx="335" cy="290" r="1.15" fill="#30b4d4" filter="url(#bl07)"/>
<circle cx="308" cy="312" r="1.15" fill="#30b4d4" filter="url(#bl07)"/>
<circle cx="322.1" cy="302.1" r="3" fill="#20a8d0" filter="url(#bl07)"/>
<circle cx="322.1" cy="302.1" r="1.5" fill="#f0f020"/>
</g>
<rect x="284.6" y="304.2" width="5.7999999999999545" height="17.100000000000023" fill="url(#parV)" stroke="#222" stroke-width="1.0"/>
<rect x="343.7" y="321.7" width="11.3" height="1.8" fill="#fff"/>
<g clip-path="url(#fclip2)">
<rect x="367" y="277" width="82.80000000000001" height="50.69999999999999" fill="url(#fg2)"/>
<circle cx="409.3" cy="303.3" r="16" fill="none" stroke="#20a4b8" stroke-width="4" opacity="0.85" filter="url(#bl15)"/>
<circle cx="409.3" cy="303.3" r="6" fill="#14b0c8" filter="url(#bl15)"/>
<circle cx="409.3" cy="303.3" r="3.3" fill="#f8e418" filter="url(#bl07)"/>
</g>
<rect x="372.4" y="304.2" width="5.400000000000034" height="17.100000000000023" fill="url(#parV)" stroke="#222" stroke-width="1.0"/>
<rect x="429.3" y="321.7" width="11" height="1.8" fill="#fff"/>
<text x="177" y="337.7" font-size="12.4" text-anchor="start" fill="#000" >g</text>
<rect x="263.9" y="340.3" width="5.2000000000000455" height="56.89999999999998" fill="#d9d9d9"/>
<g clip-path="url(#gc199)"><path d="M199.80,391.29 L199.99,391.16 L200.17,391.03 L200.36,390.89 L200.55,390.73 L200.73,390.57 L200.92,390.40 L201.10,390.21 L201.29,390.02 L201.48,389.81 L201.66,389.58 L201.85,389.34 L202.04,389.08 L202.22,388.81 L202.41,388.51 L202.59,388.19 L202.78,387.84 L202.97,387.47 L203.15,387.06 L203.34,386.63 L203.53,386.15 L203.71,385.64 L203.90,385.09 L204.08,384.48 L204.27,383.83 L204.46,383.12 L204.64,382.35 L204.83,381.52 L205.02,380.62 L205.20,379.66 L205.39,378.63 L205.57,377.54 L205.76,376.39 L205.95,375.19 L206.13,373.95 L206.32,372.71 L206.50,371.48 L206.69,370.31 L206.88,369.22 L207.06,368.27 L207.25,367.50 L207.44,366.95 L207.62,366.64 L207.81,366.59 L208.00,366.80 L208.18,367.26 L208.37,367.93 L208.55,368.78 L208.74,369.77 L208.93,370.85 L209.11,371.97 L209.30,373.12 L209.49,374.25 L209.67,375.35 L209.86,376.40 L210.04,377.39 L210.23,378.32 L210.42,379.18 L210.60,379.97 L210.79,380.70 L210.98,381.36 L211.16,381.96 L211.35,382.50 L211.53,383.00 L211.72,383.44 L211.91,383.84 L212.09,384.20 L212.28,384.52 L212.47,384.80 L212.65,385.06 L212.84,385.28 L213.02,385.48 L213.21,385.65 L213.40,385.80 L213.58,385.93 L213.77,386.03 L213.96,386.12 L214.14,386.20 L214.33,386.25 L214.51,386.29 L214.70,386.32 L214.89,386.34 L215.07,386.34 L215.26,386.33 L215.45,386.31 L215.63,386.27 L215.82,386.23 L216.00,386.18 L216.19,386.12 L216.38,386.04 L216.56,385.96 L216.75,385.87 L216.94,385.77 L217.12,385.67 L217.31,385.55 L217.49,385.43 L217.68,385.30 L217.87,385.16 L218.05,385.01 L218.24,384.86 L218.43,384.69 L218.61,384.52 L218.80,384.34 L218.98,384.16 L219.17,383.96 L219.36,383.76 L219.54,383.55 L219.73,383.33 L219.92,383.11 L220.10,382.87 L220.29,382.63 L220.47,382.38 L220.66,382.12 L220.85,381.85 L221.03,381.57 L221.22,381.28 L221.41,380.99 L221.59,380.68 L221.78,380.36 L221.96,380.04 L222.15,379.71 L222.34,379.36 L222.52,379.01 L222.71,378.64 L222.90,378.27 L223.08,377.88 L223.27,377.48 L223.45,377.07 L223.64,376.65 L223.83,376.22 L224.01,375.77 L224.20,375.31 L224.39,374.84 L224.57,374.36 L224.76,373.86 L224.94,373.35 L225.13,372.82 L225.32,372.29 L225.50,371.73 L225.69,371.16 L225.88,370.58 L226.06,369.97 L226.25,369.36 L226.43,368.72 L226.62,368.07 L226.81,367.40 L226.99,366.72 L227.18,366.01 L227.37,365.29 L227.55,364.54 L227.74,363.78 L227.92,363.00 L228.11,362.19 L228.30,361.36 L228.48,360.52 L228.67,359.64 L228.86,358.75 L229.04,357.83 L229.23,356.89 L229.41,355.92 L229.60,354.93 L229.79,353.91 L229.97,352.86 L230.16,351.79 L230.34,350.69 L230.53,349.55 L230.72,348.39 L230.90,347.20 L231.09,345.98 L231.28,344.72 L231.46,343.43 L231.65,342.11 L231.84,340.75 L232.02,339.35 L232.21,337.92 L232.39,336.45 L232.58,334.95 L232.77,333.40 L232.95,331.81 L233.14,330.18 L233.33,328.51 L233.51,326.79 L233.70,325.03 L233.88,323.22 L234.07,321.37 L234.26,319.46 L234.44,317.51 L234.63,315.50 L234.81,313.44 L235.00,311.33 L235.19,309.16 L235.37,306.94 L235.56,304.66 L235.75,302.31 L235.93,299.91 L236.12,297.44 L236.31,294.91 L236.49,292.31 L236.68,289.64 L236.86,286.90 L237.05,284.09 L237.24,286.90 L237.42,289.64 L237.61,292.31 L237.80,294.91 L237.98,297.44 L238.17,299.91 L238.35,302.31 L238.54,304.66 L238.73,306.94 L238.91,309.16 L239.10,311.33 L239.29,313.44 L239.47,315.50 L239.66,317.51 L239.84,319.46 L240.03,321.37 L240.22,323.22 L240.40,325.03 L240.59,326.79 L240.78,328.51 L240.96,330.18 L241.15,331.81 L241.33,333.40 L241.52,334.95 L241.71,336.45 L241.89,337.92 L242.08,339.35 L242.27,340.75 L242.45,342.11 L242.64,343.43 L242.82,344.72 L243.01,345.98 L243.20,347.20 L243.38,348.39 L243.57,349.55 L243.75,350.69 L243.94,351.79 L244.13,352.86 L244.31,353.91 L244.50,354.93 L244.69,355.92 L244.87,356.89 L245.06,357.83 L245.25,358.75 L245.43,359.64 L245.62,360.52 L245.80,361.36 L245.99,362.19 L246.18,363.00 L246.36,363.78 L246.55,364.54 L246.74,365.29 L246.92,366.01 L247.11,366.72 L247.29,367.40 L247.48,368.07 L247.67,368.72 L247.85,369.36 L248.04,369.97 L248.23,370.58 L248.41,371.16 L248.60,371.73 L248.78,372.29 L248.97,372.82 L249.16,373.35 L249.34,373.86 L249.53,374.36 L249.72,374.84 L249.90,375.31 L250.09,375.77 L250.27,376.22 L250.46,376.65 L250.65,377.07 L250.83,377.48 L251.02,377.88 L251.21,378.27 L251.39,378.64 L251.58,379.01 L251.76,379.36 L251.95,379.71 L252.14,380.04 L252.32,380.36 L252.51,380.68 L252.69,380.99 L252.88,381.28 L253.07,381.57 L253.25,381.85 L253.44,382.12 L253.63,382.38 L253.81,382.63 L254.00,382.87 L254.19,383.11 L254.37,383.33 L254.56,383.55 L254.74,383.76 L254.93,383.96 L255.12,384.16 L255.30,384.34 L255.49,384.52 L255.68,384.69 L255.86,384.86 L256.05,385.01 L256.23,385.16 L256.42,385.30 L256.61,385.43 L256.79,385.55 L256.98,385.67 L257.17,385.77 L257.35,385.87 L257.54,385.96 L257.72,386.04 L257.91,386.12 L258.10,386.18 L258.28,386.23 L258.47,386.27 L258.66,386.31 L258.84,386.33 L259.03,386.34 L259.21,386.34 L259.40,386.32 L259.59,386.29 L259.77,386.25 L259.96,386.20 L260.15,386.12 L260.33,386.03 L260.52,385.93 L260.70,385.80 L260.89,385.65 L261.08,385.48 L261.26,385.28 L261.45,385.06 L261.63,384.80 L261.82,384.52 L262.01,384.20 L262.19,383.84 L262.38,383.44 L262.57,383.00 L262.75,382.50 L262.94,381.96 L263.12,381.36 L263.31,380.70 L263.50,379.97 L263.68,379.18 L263.87,378.32 L264.06,377.39 L264.24,376.40 L264.43,375.35 L264.62,374.25 L264.80,373.12 L264.99,371.97 L265.17,370.85 L265.36,369.77 L265.55,368.78 L265.73,367.93 L265.92,367.26 L266.11,366.80 L266.29,366.59 L266.48,366.64 L266.66,366.95 L266.85,367.50 L267.04,368.27 L267.22,369.22 L267.41,370.31 L267.60,371.48 L267.78,372.71 L267.97,373.95 L268.15,375.19 L268.34,376.39 L268.53,377.54 L268.71,378.63 L268.90,379.66 L269.09,380.62 L269.27,381.52 L269.46,382.35 L269.64,383.12 L269.83,383.83 L270.02,384.48 L270.20,385.09 L270.39,385.64 L270.57,386.15 L270.76,386.63 L270.95,387.06 L271.13,387.47 L271.32,387.84 L271.51,388.19 L271.69,388.51 L271.88,388.81 L272.06,389.08 L272.25,389.34 L272.44,389.58 L272.62,389.81 L272.81,390.02 L273.00,390.21 L273.18,390.40 L273.37,390.57 L273.56,390.73 L273.74,390.89 L273.93,391.03 L274.11,391.16 L274.30,391.29" fill="none" stroke="#5bbcf0" stroke-width="1.25"/></g>
<rect x="199.8" y="340.3" width="74.5" height="56.89999999999998" fill="none" stroke="#000" stroke-width="1.2"/>
<line x1="199.80" y1="397.2" x2="199.80" y2="399.0" stroke="#000" stroke-width="0.9"/>
<text x="199.4" y="405.0" font-size="7.6" text-anchor="middle" fill="#000" >-4</text>
<line x1="220.80" y1="397.2" x2="220.80" y2="399.0" stroke="#000" stroke-width="0.9"/>
<text x="220.4" y="405.0" font-size="7.6" text-anchor="middle" fill="#000" >-2</text>
<line x1="237.05" y1="397.2" x2="237.05" y2="399.0" stroke="#000" stroke-width="0.9"/>
<line x1="253.30" y1="397.2" x2="253.30" y2="399.0" stroke="#000" stroke-width="0.9"/>
<text x="253.6" y="405.0" font-size="7.6" text-anchor="middle" fill="#000" >2</text>
<line x1="274.30" y1="397.2" x2="274.30" y2="399.0" stroke="#000" stroke-width="0.9"/>
<text x="274.6" y="405.0" font-size="7.6" text-anchor="middle" fill="#000" >4</text>
<line x1="210.30" y1="397.2" x2="210.30" y2="398.3" stroke="#000" stroke-width="0.9"/>
<line x1="228.93" y1="397.2" x2="228.93" y2="398.3" stroke="#000" stroke-width="0.9"/>
<line x1="245.18" y1="397.2" x2="245.18" y2="398.3" stroke="#000" stroke-width="0.9"/>
<line x1="263.80" y1="397.2" x2="263.80" y2="398.3" stroke="#000" stroke-width="0.9"/>
<line x1="235.45000000000002" y1="340.3" x2="238.65" y2="340.3" stroke="#000" stroke-width="1.6"/>
<line x1="235.45000000000002" y1="397.2" x2="238.65" y2="397.2" stroke="#000" stroke-width="1.6"/>
<line x1="264.3" y1="379.7" x2="268.7" y2="379.7" stroke="#000" stroke-width="1.1"/>
<path d="M263.9,379.7 l1.3,-0.9 v1.8 z M269.1,379.7 l-1.3,-0.9 v1.8 z" fill="#000"/>
<text x="254.6" y="351.7" font-size="9.3" text-anchor="middle" fill="#000" >0.44</text>
<text x="237.05" y="412.5" font-size="8.9" text-anchor="middle">Distance <tspan font-weight="normal">(</tspan>nm<tspan font-size="6" dy="-3.2">-1</tspan><tspan dy="3.2" font-weight="normal">)</tspan></text>
<rect x="349.3" y="340.3" width="4.800000000000011" height="56.89999999999998" fill="#d9d9d9"/>
<g clip-path="url(#gc284)"><path d="M284.80,388.84 L284.99,388.71 L285.17,388.56 L285.36,388.41 L285.55,388.24 L285.73,388.07 L285.92,387.88 L286.10,387.68 L286.29,387.46 L286.48,387.23 L286.66,386.98 L286.85,386.72 L287.04,386.43 L287.22,386.12 L287.41,385.78 L287.59,385.42 L287.78,385.02 L287.97,384.60 L288.15,384.13 L288.34,383.63 L288.53,383.08 L288.71,382.49 L288.90,381.85 L289.08,381.15 L289.27,380.39 L289.46,379.58 L289.64,378.70 L289.83,377.75 L290.01,376.74 L290.20,375.68 L290.39,374.56 L290.57,373.40 L290.76,372.22 L290.95,371.05 L291.13,369.90 L291.32,368.83 L291.50,367.86 L291.69,367.04 L291.88,366.42 L292.06,366.02 L292.25,365.87 L292.44,365.96 L292.62,366.31 L292.81,366.88 L293.00,367.64 L293.18,368.55 L293.37,369.56 L293.55,370.65 L293.74,371.77 L293.93,372.89 L294.11,373.99 L294.30,375.05 L294.49,376.06 L294.67,377.01 L294.86,377.90 L295.04,378.72 L295.23,379.47 L295.42,380.17 L295.60,380.81 L295.79,381.39 L295.98,381.92 L296.16,382.40 L296.35,382.84 L296.53,383.23 L296.72,383.60 L296.91,383.92 L297.09,384.22 L297.28,384.49 L297.47,384.73 L297.65,384.94 L297.84,385.14 L298.02,385.31 L298.21,385.47 L298.40,385.61 L298.58,385.73 L298.77,385.84 L298.95,385.94 L299.14,386.02 L299.33,386.09 L299.51,386.15 L299.70,386.20 L299.89,386.24 L300.07,386.27 L300.26,386.29 L300.44,386.31 L300.63,386.31 L300.82,386.31 L301.00,386.30 L301.19,386.28 L301.38,386.26 L301.56,386.23 L301.75,386.20 L301.94,386.16 L302.12,386.11 L302.31,386.06 L302.49,386.00 L302.68,385.94 L302.87,385.87 L303.05,385.79 L303.24,385.71 L303.43,385.63 L303.61,385.54 L303.80,385.44 L303.98,385.34 L304.17,385.24 L304.36,385.13 L304.54,385.01 L304.73,384.89 L304.92,384.77 L305.10,384.63 L305.29,384.50 L305.47,384.36 L305.66,384.21 L305.85,384.06 L306.03,383.90 L306.22,383.74 L306.41,383.57 L306.59,383.39 L306.78,383.21 L306.96,383.03 L307.15,382.84 L307.34,382.64 L307.52,382.43 L307.71,382.22 L307.89,382.01 L308.08,381.78 L308.27,381.55 L308.45,381.31 L308.64,381.07 L308.83,380.82 L309.01,380.56 L309.20,380.30 L309.38,380.02 L309.57,379.74 L309.76,379.45 L309.94,379.16 L310.13,378.85 L310.32,378.54 L310.50,378.21 L310.69,377.88 L310.88,377.54 L311.06,377.19 L311.25,376.83 L311.43,376.46 L311.62,376.08 L311.81,375.70 L311.99,375.30 L312.18,374.89 L312.37,374.46 L312.55,374.03 L312.74,373.59 L312.92,373.13 L313.11,372.66 L313.30,372.18 L313.48,371.69 L313.67,371.18 L313.86,370.66 L314.04,370.13 L314.23,369.58 L314.41,369.02 L314.60,368.44 L314.79,367.85 L314.97,367.24 L315.16,366.62 L315.35,365.98 L315.53,365.33 L315.72,364.65 L315.90,363.96 L316.09,363.25 L316.28,362.52 L316.46,361.78 L316.65,361.01 L316.84,360.22 L317.02,359.42 L317.21,358.59 L317.39,357.74 L317.58,356.87 L317.77,355.98 L317.95,355.06 L318.14,354.12 L318.32,353.15 L318.51,352.16 L318.70,351.15 L318.88,350.10 L319.07,349.03 L319.26,347.94 L319.44,346.81 L319.63,345.66 L319.81,344.47 L320.00,343.26 L320.19,342.01 L320.37,340.73 L320.56,339.42 L320.75,338.07 L320.93,336.69 L321.12,335.27 L321.31,333.82 L321.49,332.33 L321.68,330.80 L321.86,329.23 L322.05,327.62 L322.24,329.23 L322.42,330.80 L322.61,332.33 L322.80,333.82 L322.98,335.27 L323.17,336.69 L323.35,338.07 L323.54,339.42 L323.73,340.73 L323.91,342.01 L324.10,343.26 L324.29,344.47 L324.47,345.66 L324.66,346.81 L324.84,347.94 L325.03,349.03 L325.22,350.10 L325.40,351.15 L325.59,352.16 L325.78,353.15 L325.96,354.12 L326.15,355.06 L326.33,355.98 L326.52,356.87 L326.71,357.74 L326.89,358.59 L327.08,359.42 L327.26,360.22 L327.45,361.01 L327.64,361.78 L327.82,362.52 L328.01,363.25 L328.20,363.96 L328.38,364.65 L328.57,365.33 L328.75,365.98 L328.94,366.62 L329.13,367.24 L329.31,367.85 L329.50,368.44 L329.69,369.02 L329.87,369.58 L330.06,370.13 L330.25,370.66 L330.43,371.18 L330.62,371.69 L330.80,372.18 L330.99,372.66 L331.18,373.13 L331.36,373.59 L331.55,374.03 L331.74,374.46 L331.92,374.89 L332.11,375.30 L332.29,375.70 L332.48,376.08 L332.67,376.46 L332.85,376.83 L333.04,377.19 L333.23,377.54 L333.41,377.88 L333.60,378.21 L333.78,378.54 L333.97,378.85 L334.16,379.16 L334.34,379.45 L334.53,379.74 L334.72,380.02 L334.90,380.30 L335.09,380.56 L335.27,380.82 L335.46,381.07 L335.65,381.31 L335.83,381.55 L336.02,381.78 L336.20,382.01 L336.39,382.22 L336.58,382.43 L336.76,382.64 L336.95,382.84 L337.14,383.03 L337.32,383.21 L337.51,383.39 L337.69,383.57 L337.88,383.74 L338.07,383.90 L338.25,384.06 L338.44,384.21 L338.63,384.36 L338.81,384.50 L339.00,384.63 L339.19,384.77 L339.37,384.89 L339.56,385.01 L339.74,385.13 L339.93,385.24 L340.12,385.34 L340.30,385.44 L340.49,385.54 L340.68,385.63 L340.86,385.71 L341.05,385.79 L341.23,385.87 L341.42,385.94 L341.61,386.00 L341.79,386.06 L341.98,386.11 L342.17,386.16 L342.35,386.20 L342.54,386.23 L342.72,386.26 L342.91,386.28 L343.10,386.30 L343.28,386.31 L343.47,386.31 L343.66,386.31 L343.84,386.29 L344.03,386.27 L344.21,386.24 L344.40,386.20 L344.59,386.15 L344.77,386.09 L344.96,386.02 L345.15,385.94 L345.33,385.84 L345.52,385.73 L345.70,385.61 L345.89,385.47 L346.08,385.31 L346.26,385.14 L346.45,384.94 L346.63,384.73 L346.82,384.49 L347.01,384.22 L347.19,383.92 L347.38,383.60 L347.57,383.23 L347.75,382.84 L347.94,382.40 L348.12,381.92 L348.31,381.39 L348.50,380.81 L348.68,380.17 L348.87,379.47 L349.06,378.72 L349.24,377.90 L349.43,377.01 L349.62,376.06 L349.80,375.05 L349.99,373.99 L350.17,372.89 L350.36,371.77 L350.55,370.65 L350.73,369.56 L350.92,368.55 L351.11,367.64 L351.29,366.88 L351.48,366.31 L351.66,365.96 L351.85,365.87 L352.04,366.02 L352.22,366.42 L352.41,367.04 L352.60,367.86 L352.78,368.83 L352.97,369.90 L353.15,371.05 L353.34,372.22 L353.53,373.40 L353.71,374.56 L353.90,375.68 L354.09,376.74 L354.27,377.75 L354.46,378.70 L354.64,379.58 L354.83,380.39 L355.02,381.15 L355.20,381.85 L355.39,382.49 L355.57,383.08 L355.76,383.63 L355.95,384.13 L356.13,384.60 L356.32,385.02 L356.51,385.42 L356.69,385.78 L356.88,386.12 L357.06,386.43 L357.25,386.72 L357.44,386.98 L357.62,387.23 L357.81,387.46 L358.00,387.68 L358.18,387.88 L358.37,388.07 L358.56,388.24 L358.74,388.41 L358.93,388.56 L359.11,388.71 L359.30,388.84" fill="none" stroke="#f28a26" stroke-width="1.25"/></g>
<rect x="284.8" y="340.3" width="74.5" height="56.89999999999998" fill="none" stroke="#000" stroke-width="1.2"/>
<line x1="284.80" y1="397.2" x2="284.80" y2="399.0" stroke="#000" stroke-width="0.9"/>
<text x="284.4" y="405.0" font-size="7.6" text-anchor="middle" fill="#000" >-4</text>
<line x1="305.80" y1="397.2" x2="305.80" y2="399.0" stroke="#000" stroke-width="0.9"/>
<text x="305.4" y="405.0" font-size="7.6" text-anchor="middle" fill="#000" >-2</text>
<line x1="322.05" y1="397.2" x2="322.05" y2="399.0" stroke="#000" stroke-width="0.9"/>
<line x1="338.30" y1="397.2" x2="338.30" y2="399.0" stroke="#000" stroke-width="0.9"/>
<text x="338.6" y="405.0" font-size="7.6" text-anchor="middle" fill="#000" >2</text>
<line x1="359.30" y1="397.2" x2="359.30" y2="399.0" stroke="#000" stroke-width="0.9"/>
<text x="359.6" y="405.0" font-size="7.6" text-anchor="middle" fill="#000" >4</text>
<line x1="295.30" y1="397.2" x2="295.30" y2="398.3" stroke="#000" stroke-width="0.9"/>
<line x1="313.93" y1="397.2" x2="313.93" y2="398.3" stroke="#000" stroke-width="0.9"/>
<line x1="330.18" y1="397.2" x2="330.18" y2="398.3" stroke="#000" stroke-width="0.9"/>
<line x1="348.80" y1="397.2" x2="348.80" y2="398.3" stroke="#000" stroke-width="0.9"/>
<line x1="320.45" y1="340.3" x2="323.65000000000003" y2="340.3" stroke="#000" stroke-width="1.6"/>
<line x1="320.45" y1="397.2" x2="323.65000000000003" y2="397.2" stroke="#000" stroke-width="1.6"/>
<line x1="349.50000000000006" y1="379.7" x2="353.90000000000003" y2="379.7" stroke="#000" stroke-width="1.1"/>
<path d="M349.1,379.7 l1.3,-0.9 v1.8 z M354.30000000000007,379.7 l-1.3,-0.9 v1.8 z" fill="#000"/>
<text x="339.6" y="351.7" font-size="9.3" text-anchor="middle" fill="#000" >0.51</text>
<text x="322.05" y="412.5" font-size="8.9" text-anchor="middle">Distance <tspan font-weight="normal">(</tspan>nm<tspan font-size="6" dy="-3.2">-1</tspan><tspan dy="3.2" font-weight="normal">)</tspan></text>
<rect x="431.3" y="340.3" width="6.599999999999966" height="56.89999999999998" fill="#d9d9d9"/>
<g clip-path="url(#gc372)"><path d="M372.30,391.23 L372.49,391.15 L372.67,391.07 L372.86,390.98 L373.05,390.89 L373.23,390.79 L373.42,390.69 L373.60,390.58 L373.79,390.47 L373.98,390.36 L374.16,390.24 L374.35,390.11 L374.54,389.98 L374.72,389.84 L374.91,389.69 L375.09,389.54 L375.28,389.37 L375.47,389.20 L375.65,389.02 L375.84,388.83 L376.03,388.63 L376.21,388.42 L376.40,388.19 L376.58,387.95 L376.77,387.70 L376.96,387.44 L377.14,387.15 L377.33,386.85 L377.51,386.53 L377.70,386.20 L377.89,385.84 L378.07,385.45 L378.26,385.04 L378.45,384.61 L378.63,384.14 L378.82,383.65 L379.00,383.12 L379.19,382.56 L379.38,381.96 L379.56,381.32 L379.75,380.63 L379.94,379.91 L380.12,379.13 L380.31,378.30 L380.50,377.42 L380.68,376.49 L380.87,375.50 L381.05,374.46 L381.24,373.37 L381.43,372.23 L381.61,371.03 L381.80,369.80 L381.99,368.54 L382.17,367.27 L382.36,365.99 L382.54,364.72 L382.73,363.50 L382.92,362.34 L383.10,361.27 L383.29,360.31 L383.48,359.51 L383.66,358.87 L383.85,358.42 L384.03,358.18 L384.22,358.15 L384.41,358.34 L384.59,358.73 L384.78,359.31 L384.97,360.07 L385.15,360.96 L385.34,361.98 L385.52,363.08 L385.71,364.25 L385.90,365.46 L386.08,366.68 L386.27,367.90 L386.45,369.10 L386.64,370.26 L386.83,371.39 L387.01,372.47 L387.20,373.50 L387.39,374.48 L387.57,375.40 L387.76,376.26 L387.94,377.07 L388.13,377.83 L388.32,378.53 L388.50,379.18 L388.69,379.79 L388.88,380.35 L389.06,380.87 L389.25,381.35 L389.44,381.79 L389.62,382.20 L389.81,382.57 L389.99,382.91 L390.18,383.22 L390.37,383.51 L390.55,383.76 L390.74,384.00 L390.93,384.21 L391.11,384.39 L391.30,384.56 L391.48,384.71 L391.67,384.83 L391.86,384.94 L392.04,385.03 L392.23,385.11 L392.42,385.17 L392.60,385.21 L392.79,385.24 L392.97,385.25 L393.16,385.25 L393.35,385.24 L393.53,385.21 L393.72,385.17 L393.91,385.11 L394.09,385.04 L394.28,384.96 L394.46,384.87 L394.65,384.76 L394.84,384.64 L395.02,384.51 L395.21,384.36 L395.39,384.20 L395.58,384.03 L395.77,383.85 L395.95,383.65 L396.14,383.44 L396.33,383.21 L396.51,382.97 L396.70,382.72 L396.88,382.45 L397.07,382.17 L397.26,381.87 L397.44,381.55 L397.63,381.22 L397.82,380.87 L398.00,380.51 L398.19,380.13 L398.38,379.73 L398.56,379.31 L398.75,378.87 L398.93,378.42 L399.12,377.94 L399.31,377.44 L399.49,376.92 L399.68,376.38 L399.87,375.81 L400.05,375.22 L400.24,374.61 L400.42,373.97 L400.61,373.31 L400.80,372.61 L400.98,371.89 L401.17,371.14 L401.36,370.36 L401.54,369.55 L401.73,368.71 L401.91,367.83 L402.10,366.92 L402.29,365.97 L402.47,364.99 L402.66,363.96 L402.85,362.90 L403.03,361.79 L403.22,360.64 L403.40,359.45 L403.59,358.21 L403.78,356.92 L403.96,355.58 L404.15,354.19 L404.34,352.74 L404.52,351.24 L404.71,349.69 L404.89,348.07 L405.08,346.39 L405.27,344.65 L405.45,342.83 L405.64,340.95 L405.82,339.00 L406.01,336.97 L406.20,334.87 L406.38,332.68 L406.57,330.42 L406.76,328.06 L406.94,325.62 L407.13,323.08 L407.31,320.44 L407.50,317.71 L407.69,314.87 L407.87,311.92 L408.06,308.86 L408.25,305.69 L408.43,302.39 L408.62,298.97 L408.81,295.41 L408.99,291.73 L409.18,287.90 L409.36,283.93 L409.55,279.80 L409.74,283.93 L409.92,287.90 L410.11,291.73 L410.30,295.41 L410.48,298.97 L410.67,302.39 L410.85,305.69 L411.04,308.86 L411.23,311.92 L411.41,314.87 L411.60,317.71 L411.79,320.44 L411.97,323.08 L412.16,325.62 L412.34,328.06 L412.53,330.42 L412.72,332.68 L412.90,334.87 L413.09,336.97 L413.28,339.00 L413.46,340.95 L413.65,342.83 L413.83,344.65 L414.02,346.39 L414.21,348.07 L414.39,349.69 L414.58,351.24 L414.76,352.74 L414.95,354.19 L415.14,355.58 L415.32,356.92 L415.51,358.21 L415.70,359.45 L415.88,360.64 L416.07,361.79 L416.25,362.90 L416.44,363.96 L416.63,364.99 L416.81,365.97 L417.00,366.92 L417.19,367.83 L417.37,368.71 L417.56,369.55 L417.75,370.36 L417.93,371.14 L418.12,371.89 L418.30,372.61 L418.49,373.31 L418.68,373.97 L418.86,374.61 L419.05,375.22 L419.24,375.81 L419.42,376.38 L419.61,376.92 L419.79,377.44 L419.98,377.94 L420.17,378.42 L420.35,378.87 L420.54,379.31 L420.73,379.73 L420.91,380.13 L421.10,380.51 L421.28,380.87 L421.47,381.22 L421.66,381.55 L421.84,381.87 L422.03,382.17 L422.22,382.45 L422.40,382.72 L422.59,382.97 L422.77,383.21 L422.96,383.44 L423.15,383.65 L423.33,383.85 L423.52,384.03 L423.70,384.20 L423.89,384.36 L424.08,384.51 L424.26,384.64 L424.45,384.76 L424.64,384.87 L424.82,384.96 L425.01,385.04 L425.19,385.11 L425.38,385.17 L425.57,385.21 L425.75,385.24 L425.94,385.25 L426.13,385.25 L426.31,385.24 L426.50,385.21 L426.69,385.17 L426.87,385.11 L427.06,385.03 L427.24,384.94 L427.43,384.83 L427.62,384.71 L427.80,384.56 L427.99,384.39 L428.18,384.21 L428.36,384.00 L428.55,383.76 L428.73,383.51 L428.92,383.22 L429.11,382.91 L429.29,382.57 L429.48,382.20 L429.67,381.79 L429.85,381.35 L430.04,380.87 L430.22,380.35 L430.41,379.79 L430.60,379.18 L430.78,378.53 L430.97,377.83 L431.16,377.07 L431.34,376.26 L431.53,375.40 L431.71,374.48 L431.90,373.50 L432.09,372.47 L432.27,371.39 L432.46,370.26 L432.65,369.10 L432.83,367.90 L433.02,366.68 L433.20,365.46 L433.39,364.25 L433.58,363.08 L433.76,361.98 L433.95,360.96 L434.13,360.07 L434.32,359.31 L434.51,358.73 L434.69,358.34 L434.88,358.15 L435.07,358.18 L435.25,358.42 L435.44,358.87 L435.62,359.51 L435.81,360.31 L436.00,361.27 L436.18,362.34 L436.37,363.50 L436.56,364.72 L436.74,365.99 L436.93,367.27 L437.12,368.54 L437.30,369.80 L437.49,371.03 L437.67,372.23 L437.86,373.37 L438.05,374.46 L438.23,375.50 L438.42,376.49 L438.61,377.42 L438.79,378.30 L438.98,379.13 L439.16,379.91 L439.35,380.63 L439.54,381.32 L439.72,381.96 L439.91,382.56 L440.10,383.12 L440.28,383.65 L440.47,384.14 L440.65,384.61 L440.84,385.04 L441.03,385.45 L441.21,385.84 L441.40,386.20 L441.59,386.53 L441.77,386.85 L441.96,387.15 L442.14,387.44 L442.33,387.70 L442.52,387.95 L442.70,388.19 L442.89,388.42 L443.07,388.63 L443.26,388.83 L443.45,389.02 L443.63,389.20 L443.82,389.37 L444.01,389.54 L444.19,389.69 L444.38,389.84 L444.56,389.98 L444.75,390.11 L444.94,390.24 L445.12,390.36 L445.31,390.47 L445.50,390.58 L445.68,390.69 L445.87,390.79 L446.06,390.89 L446.24,390.98 L446.43,391.07 L446.61,391.15 L446.80,391.23" fill="none" stroke="#dd40ee" stroke-width="1.25"/></g>
<rect x="372.3" y="340.3" width="74.5" height="56.89999999999998" fill="none" stroke="#000" stroke-width="1.2"/>
<line x1="372.30" y1="397.2" x2="372.30" y2="399.0" stroke="#000" stroke-width="0.9"/>
<text x="371.9" y="405.0" font-size="7.6" text-anchor="middle" fill="#000" >-4</text>
<line x1="393.30" y1="397.2" x2="393.30" y2="399.0" stroke="#000" stroke-width="0.9"/>
<text x="392.9" y="405.0" font-size="7.6" text-anchor="middle" fill="#000" >-2</text>
<line x1="409.55" y1="397.2" x2="409.55" y2="399.0" stroke="#000" stroke-width="0.9"/>
<line x1="425.80" y1="397.2" x2="425.80" y2="399.0" stroke="#000" stroke-width="0.9"/>
<text x="426.1" y="405.0" font-size="7.6" text-anchor="middle" fill="#000" >2</text>
<line x1="446.80" y1="397.2" x2="446.80" y2="399.0" stroke="#000" stroke-width="0.9"/>
<text x="447.1" y="405.0" font-size="7.6" text-anchor="middle" fill="#000" >4</text>
<line x1="382.80" y1="397.2" x2="382.80" y2="398.3" stroke="#000" stroke-width="0.9"/>
<line x1="401.43" y1="397.2" x2="401.43" y2="398.3" stroke="#000" stroke-width="0.9"/>
<line x1="417.68" y1="397.2" x2="417.68" y2="398.3" stroke="#000" stroke-width="0.9"/>
<line x1="436.30" y1="397.2" x2="436.30" y2="398.3" stroke="#000" stroke-width="0.9"/>
<line x1="407.95" y1="340.3" x2="411.15000000000003" y2="340.3" stroke="#000" stroke-width="1.6"/>
<line x1="407.95" y1="397.2" x2="411.15000000000003" y2="397.2" stroke="#000" stroke-width="1.6"/>
<line x1="432.40000000000003" y1="379.7" x2="436.8" y2="379.7" stroke="#000" stroke-width="1.1"/>
<path d="M432.0,379.7 l1.3,-0.9 v1.8 z M437.20000000000005,379.7 l-1.3,-0.9 v1.8 z" fill="#000"/>
<text x="422.9" y="351.7" font-size="9.3" text-anchor="middle" fill="#000" >0.65</text>
<text x="409.55" y="412.5" font-size="8.9" text-anchor="middle">Distance <tspan font-weight="normal">(</tspan>nm<tspan font-size="6" dy="-3.2">-1</tspan><tspan dy="3.2" font-weight="normal">)</tspan></text>
<text transform="translate(193.8,372.5) rotate(-90)" font-size="7.9" text-anchor="middle">Intensity (arb. units)</text>
<text x="471.3" y="9.1" font-size="12.4" text-anchor="start" fill="#000" >h</text>
<text x="529.8" y="16.6" font-size="10.1" text-anchor="middle">25×25 nm<tspan font-size="7" dy="-3.6">2</tspan></text>
<text x="641.8" y="16.6" font-size="10.1" text-anchor="middle">3×3 nm<tspan font-size="7" dy="-3.6">2</tspan></text>
<text x="577.3" y="122.6" font-size="9.7" text-anchor="middle">NBED-BiTO-1.6<tspan font-style="italic">R</tspan></text>
<g clip-path="url(#hclip0)">
<rect x="487" y="22.2" width="85" height="84.89999999999999" fill="url(#hg0)"/>
<circle cx="529.3" cy="64.5" r="17.8" fill="none" stroke="#34b8a0" stroke-width="4.5" filter="url(#bl15)"/>
<circle cx="529.3" cy="64.5" r="13.2" fill="none" stroke="#1aa0c8" stroke-width="2" filter="url(#bl07)"/>
<circle cx="529.3" cy="64.5" r="10" fill="#26b6bc" filter="url(#bl15)"/>
<circle cx="529.3" cy="64.5" r="5" fill="#f8e614" filter="url(#bl07)"/>
</g>
<rect x="470.9" y="47.1" width="12.5" height="48.300000000000004" fill="url(#parV)" stroke="#222" stroke-width="1.9"/>
<text x="477.4" y="43.2" font-size="8.9" text-anchor="middle" fill="#000" >20.5</text>
<text x="476.7" y="106.6" font-size="8.6" text-anchor="middle" fill="#000" >17</text>
<text transform="translate(468.2,71) rotate(-90)" font-size="8.6" text-anchor="middle">Log(I)</text>
<text x="540.8" y="95.8" font-size="9.4" fill="#fff">1 nm<tspan font-size="6" dy="-3.6">-1</tspan></text>
<rect x="546" y="98.8" width="16" height="1.9" fill="#fff"/>
<g clip-path="url(#hclip1)">
<rect x="600.2" y="22.2" width="85.79999999999995" height="84.89999999999999" fill="url(#hg1)"/>
<circle cx="642.5" cy="64.5" r="16.6" fill="none" stroke="#62c08a" stroke-width="4.4" filter="url(#bl07)"/>
<ellipse cx="642.5" cy="48.2" rx="3.24" ry="2.4" fill="#eca434" opacity="1" filter="url(#bl07)"/>
<ellipse cx="642.5" cy="80.6" rx="3.24" ry="2.4" fill="#eca434" opacity="1" filter="url(#bl07)"/>
<ellipse cx="626.0" cy="66.5" rx="2.43" ry="1.8" fill="#98c868" opacity="0.8" filter="url(#bl07)"/>
<ellipse cx="659.0" cy="66.5" rx="2.43" ry="1.8" fill="#98c868" opacity="0.8" filter="url(#bl07)"/>
<ellipse cx="630.5" cy="53.5" rx="2.295" ry="1.7" fill="#88c470" opacity="0.7" filter="url(#bl07)"/>
<ellipse cx="654.5" cy="53.5" rx="2.295" ry="1.7" fill="#88c470" opacity="0.7" filter="url(#bl07)"/>
<ellipse cx="630.5" cy="76.5" rx="2.295" ry="1.7" fill="#88c470" opacity="0.7" filter="url(#bl07)"/>
<ellipse cx="654.5" cy="76.5" rx="2.295" ry="1.7" fill="#88c470" opacity="0.7" filter="url(#bl07)"/>
<circle cx="642.5" cy="64.5" r="11" fill="#20b4c0" filter="url(#bl15)"/>
<circle cx="642.5" cy="64.5" r="5" fill="#f8e614" filter="url(#bl07)"/>
</g>
<rect x="584.6" y="47.1" width="12.5" height="48.300000000000004" fill="url(#parV)" stroke="#222" stroke-width="1.9"/>
<text x="590.5" y="43.2" font-size="8.6" text-anchor="middle" fill="#000" >16</text>
<text x="590.5" y="106.6" font-size="8.6" text-anchor="middle" fill="#000" >12.5</text>
<text transform="translate(582,71) rotate(-90)" font-size="8.6" text-anchor="middle">Log(I)</text>
<rect x="660.3" y="98.6" width="16" height="1.9" fill="#fff"/>
<text x="470.6" y="140.6" font-size="12.4" text-anchor="start" fill="#000" >i</text>
<g clip-path="url(#iclip)">
<rect x="488.2" y="136.8" width="194.09999999999997" height="178.0" fill="#888" filter="url(#hrtem)"/>
<ellipse cx="540.5" cy="284.1" rx="31" ry="18" fill="url(#fr1)" opacity="0.2" mask="url(#sm1)" filter="url(#bl05)"/>
<ellipse cx="540.6" cy="189.4" rx="21" ry="15" fill="url(#fr1)" opacity="0.13" mask="url(#sm1)" filter="url(#bl05)"/>
<ellipse cx="660" cy="165" rx="20" ry="24" fill="url(#fr2)" opacity="0.12" mask="url(#sm1)" filter="url(#bl05)"/>
<ellipse cx="500" cy="150" rx="14" ry="12" fill="#444" opacity="0.25" filter="url(#blur4)"/>
</g>
<ellipse cx="595.4" cy="166.6" rx="22.8" ry="27" fill="none" stroke="#f4ee18" stroke-width="2.2" stroke-dasharray="6.4,3.4" transform="rotate(-8 595.4 166.6)"/>
<ellipse cx="540.6" cy="189.4" rx="24.6" ry="18.6" fill="none" stroke="#f4ee18" stroke-width="2.2" stroke-dasharray="6.4,3.4" transform="rotate(0 540.6 189.4)"/>
<ellipse cx="535.2" cy="228.3" rx="24.3" ry="19" fill="none" stroke="#f4ee18" stroke-width="2.2" stroke-dasharray="6.4,3.4" transform="rotate(0 535.2 228.3)"/>
<ellipse cx="632.6" cy="211.3" rx="22" ry="18.5" fill="none" stroke="#f4ee18" stroke-width="2.2" stroke-dasharray="6.4,3.4" transform="rotate(0 632.6 211.3)"/>
<ellipse cx="540.5" cy="284.1" rx="36" ry="21.7" fill="none" stroke="#f4ee18" stroke-width="2.2" stroke-dasharray="6.4,3.4" transform="rotate(0 540.5 284.1)"/>
<ellipse cx="619.2" cy="283.7" rx="29.5" ry="25.9" fill="none" stroke="#f4ee18" stroke-width="2.2" stroke-dasharray="6.4,3.4" transform="rotate(0 619.2 283.7)"/>
<ellipse cx="582.5" cy="214.5" rx="20.5" ry="20" fill="none" stroke="#2020c8" stroke-width="2.2" stroke-dasharray="6.4,3.4" transform="rotate(0 582.5 214.5)"/>
<text x="516" y="148.9" font-size="9.9" fill="#f4ee18" text-anchor="middle">3.0 Å</text>
<line x1="513.4" y1="152.8" x2="515.9" y2="168.4" stroke="#f4ee18" stroke-width="1.9"/>
<line x1="521.9" y1="152.1" x2="524.4" y2="167.3" stroke="#f4ee18" stroke-width="1.9"/>
<line x1="499.2" y1="162" x2="509" y2="161" stroke="#f4ee18" stroke-width="1.3"/><path d="M512,160.7 L507,158.2 L507.6,163.6 Z" fill="#f4ee18"/>
<line x1="538.8" y1="158" x2="529" y2="159" stroke="#f4ee18" stroke-width="1.3"/><path d="M526,159.3 L531,156.6 L531.5,162 Z" fill="#f4ee18"/>
<text x="583.4" y="245.7" font-size="9.9" fill="#2424d0" text-anchor="middle">Disorder</text>
<text x="620.6" y="288.3" font-size="11.2" fill="#f4ee18" text-anchor="middle">Order</text>
<text x="661.9" y="300.4" font-size="9.8" fill="#fff" text-anchor="middle">1 nm</text>
<rect x="650.5" y="302.4" width="26.5" height="2.4" fill="#fff"/>
<text x="465.8" y="332.4" font-size="12.5" text-anchor="start" fill="#000" >j</text>
<rect x="494.6" y="324.1" width="186.60000000000002" height="34.599999999999966" fill="none" stroke="#000" stroke-width="1.2"/>
<line x1="492.8" y1="353.70" x2="494.6" y2="353.70" stroke="#000" stroke-width="0.9"/>
<text x="491.3" y="356.6" font-size="8.2" text-anchor="end" fill="#000" >0</text>
<line x1="492.8" y1="343.60" x2="494.6" y2="343.60" stroke="#000" stroke-width="0.9"/>
<text x="491.3" y="346.5" font-size="8.2" text-anchor="end" fill="#000" >5</text>
<line x1="492.8" y1="333.50" x2="494.6" y2="333.50" stroke="#000" stroke-width="0.9"/>
<text x="491.3" y="336.4" font-size="8.2" text-anchor="end" fill="#000" >10</text>
<line x1="494.60" y1="358.7" x2="494.60" y2="360.5" stroke="#000" stroke-width="0.9"/>
<line x1="541.25" y1="358.7" x2="541.25" y2="360.5" stroke="#000" stroke-width="0.9"/>
<line x1="587.90" y1="358.7" x2="587.90" y2="360.5" stroke="#000" stroke-width="0.9"/>
<line x1="634.55" y1="358.7" x2="634.55" y2="360.5" stroke="#000" stroke-width="0.9"/>
<line x1="681.20" y1="358.7" x2="681.20" y2="360.5" stroke="#000" stroke-width="0.9"/>
<line x1="517.93" y1="358.7" x2="517.93" y2="359.8" stroke="#000" stroke-width="0.9"/>
<line x1="564.58" y1="358.7" x2="564.58" y2="359.8" stroke="#000" stroke-width="0.9"/>
<line x1="611.23" y1="358.7" x2="611.23" y2="359.8" stroke="#000" stroke-width="0.9"/>
<line x1="657.88" y1="358.7" x2="657.88" y2="359.8" stroke="#000" stroke-width="0.9"/>
<path d="M494.60,352.29 L494.91,352.29 L495.22,352.29 L495.53,352.29 L495.85,352.29 L496.16,352.29 L496.47,352.29 L496.78,352.29 L497.09,352.29 L497.40,352.29 L497.72,352.29 L498.03,352.29 L498.34,352.29 L498.65,352.29 L498.96,352.29 L499.27,352.29 L499.58,352.29 L499.90,352.29 L500.21,352.29 L500.52,352.29 L500.83,352.29 L501.14,352.29 L501.45,352.29 L501.76,352.29 L502.08,352.29 L502.39,352.29 L502.70,352.29 L503.01,352.29 L503.32,352.29 L503.63,352.29 L503.95,352.29 L504.26,352.29 L504.57,352.29 L504.88,352.29 L505.19,352.28 L505.50,352.28 L505.81,352.28 L506.13,352.28 L506.44,352.27 L506.75,352.26 L507.06,352.24 L507.37,352.20 L507.68,352.16 L508.00,352.08 L508.31,351.97 L508.62,351.82 L508.93,351.60 L509.24,351.30 L509.55,350.90 L509.86,350.38 L510.18,349.72 L510.49,348.92 L510.80,347.96 L511.11,346.84 L511.42,345.58 L511.73,344.21 L512.05,342.76 L512.36,341.30 L512.67,339.88 L512.98,338.56 L513.29,337.42 L513.60,336.51 L513.91,335.86 L514.23,335.51 L514.54,335.46 L514.85,335.68 L515.16,336.13 L515.47,336.76 L515.78,337.50 L516.09,338.28 L516.41,339.06 L516.72,339.76 L517.03,340.37 L517.34,340.85 L517.65,341.21 L517.96,341.46 L518.28,341.62 L518.59,341.72 L518.90,341.79 L519.21,341.86 L519.52,341.96 L519.83,342.09 L520.14,342.27 L520.46,342.52 L520.77,342.82 L521.08,343.18 L521.39,343.61 L521.70,344.08 L522.01,344.61 L522.33,345.18 L522.64,345.79 L522.95,346.42 L523.26,347.07 L523.57,347.72 L523.88,348.35 L524.19,348.94 L524.51,349.47 L524.82,349.95 L525.13,350.34 L525.44,350.66 L525.75,350.90 L526.06,351.06 L526.37,351.15 L526.69,351.19 L527.00,351.18 L527.31,351.13 L527.62,351.05 L527.93,350.97 L528.24,350.88 L528.56,350.80 L528.87,350.73 L529.18,350.69 L529.49,350.67 L529.80,350.67 L530.11,350.71 L530.42,350.77 L530.74,350.85 L531.05,350.96 L531.36,351.07 L531.67,351.20 L531.98,351.33 L532.29,351.46 L532.61,351.59 L532.92,351.70 L533.23,351.81 L533.54,351.90 L533.85,351.98 L534.16,352.05 L534.47,352.11 L534.79,352.15 L535.10,352.19 L535.41,352.21 L535.72,352.24 L536.03,352.25 L536.34,352.26 L536.66,352.27 L536.97,352.28 L537.28,352.28 L537.59,352.28 L537.90,352.28 L538.21,352.28 L538.52,352.28 L538.84,352.29 L539.15,352.29 L539.46,352.29 L539.77,352.29 L540.08,352.29 L540.39,352.29 L540.70,352.29 L541.02,352.29 L541.33,352.29 L541.64,352.29 L541.95,352.29 L542.26,352.29 L542.57,352.29 L542.89,352.29 L543.20,352.29 L543.51,352.29 L543.82,352.29 L544.13,352.29 L544.44,352.29 L544.75,352.29 L545.07,352.29 L545.38,352.29 L545.69,352.29 L546.00,352.29 L546.31,352.29 L546.62,352.29 L546.94,352.29 L547.25,352.29 L547.56,352.29 L547.87,352.29 L548.18,352.29 L548.49,352.29 L548.80,352.29 L549.12,352.29 L549.43,352.29 L549.74,352.29 L550.05,352.29 L550.36,352.29 L550.67,352.29 L550.98,352.29 L551.30,352.29 L551.61,352.29 L551.92,352.29 L552.23,352.29 L552.54,352.29 L552.85,352.29 L553.17,352.29 L553.48,352.29 L553.79,352.29 L554.10,352.29 L554.41,352.29 L554.72,352.29 L555.03,352.29 L555.35,352.29 L555.66,352.29 L555.97,352.29 L556.28,352.29 L556.59,352.29 L556.90,352.29 L557.22,352.29 L557.53,352.29 L557.84,352.29 L558.15,352.29 L558.46,352.29 L558.77,352.29 L559.08,352.29 L559.40,352.29 L559.71,352.29 L560.02,352.29 L560.33,352.29 L560.64,352.29 L560.95,352.29 L561.27,352.29 L561.58,352.29 L561.89,352.29 L562.20,352.29 L562.51,352.29 L562.82,352.29 L563.13,352.29 L563.45,352.29 L563.76,352.29 L564.07,352.29 L564.38,352.29 L564.69,352.29 L565.00,352.29 L565.31,352.29 L565.63,352.29 L565.94,352.29 L566.25,352.29 L566.56,352.29 L566.87,352.29 L567.18,352.29 L567.50,352.29 L567.81,352.29 L568.12,352.29 L568.43,352.29 L568.74,352.29 L569.05,352.29 L569.36,352.29 L569.68,352.29 L569.99,352.29 L570.30,352.29 L570.61,352.29 L570.92,352.29 L571.23,352.29 L571.55,352.29 L571.86,352.29 L572.17,352.29 L572.48,352.29 L572.79,352.29 L573.10,352.29 L573.41,352.29 L573.73,352.29 L574.04,352.29 L574.35,352.29 L574.66,352.29 L574.97,352.29 L575.28,352.29 L575.59,352.29 L575.91,352.29 L576.22,352.29 L576.53,352.29 L576.84,352.29 L577.15,352.29 L577.46,352.29 L577.78,352.29 L578.09,352.29 L578.40,352.29 L578.71,352.29 L579.02,352.29 L579.33,352.29 L579.64,352.29 L579.96,352.29 L580.27,352.29 L580.58,352.29 L580.89,352.29 L581.20,352.29 L581.51,352.29 L581.83,352.29 L582.14,352.29 L582.45,352.29 L582.76,352.29 L583.07,352.29 L583.38,352.29 L583.69,352.29 L584.01,352.29 L584.32,352.29 L584.63,352.29 L584.94,352.29 L585.25,352.29 L585.56,352.29 L585.88,352.29 L586.19,352.29 L586.50,352.29 L586.81,352.29 L587.12,352.29 L587.43,352.29 L587.74,352.29 L588.06,352.29 L588.37,352.29 L588.68,352.29 L588.99,352.29 L589.30,352.29 L589.61,352.29 L589.92,352.29 L590.24,352.29 L590.55,352.29 L590.86,352.29 L591.17,352.29 L591.48,352.29 L591.79,352.29 L592.11,352.29 L592.42,352.29 L592.73,352.29 L593.04,352.29 L593.35,352.29 L593.66,352.29 L593.97,352.29 L594.29,352.29 L594.60,352.29 L594.91,352.29 L595.22,352.29 L595.53,352.29 L595.84,352.29 L596.16,352.29 L596.47,352.29 L596.78,352.29 L597.09,352.29 L597.40,352.29 L597.71,352.29 L598.02,352.29 L598.34,352.29 L598.65,352.29 L598.96,352.29 L599.27,352.29 L599.58,352.29 L599.89,352.29 L600.21,352.29 L600.52,352.29 L600.83,352.29 L601.14,352.29 L601.45,352.28 L601.76,352.28 L602.07,352.28 L602.39,352.27 L602.70,352.26 L603.01,352.25 L603.32,352.24 L603.63,352.21 L603.94,352.18 L604.25,352.13 L604.57,352.07 L604.88,351.97 L605.19,351.84 L605.50,351.66 L605.81,351.41 L606.12,351.09 L606.44,350.67 L606.75,350.13 L607.06,349.47 L607.37,348.66 L607.68,347.70 L607.99,346.58 L608.30,345.31 L608.62,343.90 L608.93,342.38 L609.24,340.80 L609.55,339.19 L609.86,337.61 L610.17,336.13 L610.49,334.81 L610.80,333.72 L611.11,332.88 L611.42,332.36 L611.73,332.17 L612.04,332.30 L612.35,332.75 L612.67,333.48 L612.98,334.45 L613.29,335.58 L613.60,336.82 L613.91,338.09 L614.22,339.35 L614.53,340.53 L614.85,341.59 L615.16,342.51 L615.47,343.28 L615.78,343.90 L616.09,344.38 L616.40,344.75 L616.72,345.03 L617.03,345.26 L617.34,345.46 L617.65,345.67 L617.96,345.91 L618.27,346.18 L618.58,346.51 L618.90,346.87 L619.21,347.28 L619.52,347.73 L619.83,348.19 L620.14,348.65 L620.45,349.11 L620.77,349.54 L621.08,349.93 L621.39,350.29 L621.70,350.60 L622.01,350.87 L622.32,351.08 L622.63,351.25 L622.95,351.37 L623.26,351.46 L623.57,351.52 L623.88,351.54 L624.19,351.54 L624.50,351.52 L624.82,351.48 L625.13,351.42 L625.44,351.35 L625.75,351.27 L626.06,351.17 L626.37,351.07 L626.68,350.95 L627.00,350.82 L627.31,350.68 L627.62,350.53 L627.93,350.37 L628.24,350.20 L628.55,350.01 L628.86,349.80 L629.18,349.58 L629.49,349.34 L629.80,349.08 L630.11,348.80 L630.42,348.50 L630.73,348.17 L631.05,347.82 L631.36,347.45 L631.67,347.06 L631.98,346.66 L632.29,346.24 L632.60,345.82 L632.91,345.40 L633.23,344.99 L633.54,344.60 L633.85,344.24 L634.16,343.92 L634.47,343.65 L634.78,343.43 L635.10,343.28 L635.41,343.20 L635.72,343.19 L636.03,343.26 L636.34,343.40 L636.65,343.61 L636.96,343.89 L637.28,344.22 L637.59,344.60 L637.90,345.02 L638.21,345.46 L638.52,345.90 L638.83,346.34 L639.14,346.76 L639.46,347.15 L639.77,347.50 L640.08,347.80 L640.39,348.05 L640.70,348.23 L641.01,348.35 L641.33,348.40 L641.64,348.40 L641.95,348.34 L642.26,348.24 L642.57,348.09 L642.88,347.92 L643.19,347.73 L643.51,347.54 L643.82,347.35 L644.13,347.18 L644.44,347.04 L644.75,346.93 L645.06,346.87 L645.38,346.86 L645.69,346.89 L646.00,346.97 L646.31,347.10 L646.62,347.27 L646.93,347.47 L647.24,347.70 L647.56,347.94 L647.87,348.20 L648.18,348.45 L648.49,348.70 L648.80,348.94 L649.11,349.16 L649.43,349.36 L649.74,349.53 L650.05,349.67 L650.36,349.79 L650.67,349.88 L650.98,349.95 L651.29,349.99 L651.61,350.01 L651.92,350.01 L652.23,350.00 L652.54,349.98 L652.85,349.95 L653.16,349.91 L653.47,349.87 L653.79,349.82 L654.10,349.77 L654.41,349.72 L654.72,349.67 L655.03,349.61 L655.34,349.56 L655.66,349.50 L655.97,349.43 L656.28,349.36 L656.59,349.28 L656.90,349.19 L657.21,349.09 L657.52,348.98 L657.84,348.85 L658.15,348.70 L658.46,348.54 L658.77,348.36 L659.08,348.15 L659.39,347.93 L659.71,347.69 L660.02,347.44 L660.33,347.17 L660.64,346.89 L660.95,346.60 L661.26,346.31 L661.57,346.03 L661.89,345.75 L662.20,345.49 L662.51,345.25 L662.82,345.04 L663.13,344.85 L663.44,344.70 L663.75,344.59 L664.07,344.53 L664.38,344.50 L664.69,344.52 L665.00,344.59 L665.31,344.70 L665.62,344.84 L665.94,345.02 L666.25,345.24 L666.56,345.47 L666.87,345.73 L667.18,346.00 L667.49,346.28 L667.80,346.57 L668.12,346.85 L668.43,347.12 L668.74,347.38 L669.05,347.63 L669.36,347.85 L669.67,348.06 L669.99,348.25 L670.30,348.41 L670.61,348.56 L670.92,348.68 L671.23,348.78 L671.54,348.87 L671.85,348.94 L672.17,349.00 L672.48,349.05 L672.79,349.09 L673.10,349.12 L673.41,349.15 L673.72,349.17 L674.04,349.20 L674.35,349.23 L674.66,349.26 L674.97,349.29 L675.28,349.33 L675.59,349.38 L675.90,349.42 L676.22,349.48 L676.53,349.54 L676.84,349.60 L677.15,349.66 L677.46,349.73 L677.77,349.81 L678.08,349.88 L678.40,349.96 L678.71,350.04 L679.02,350.12 L679.33,350.20 L679.64,350.27 L679.95,350.35 L680.27,350.42 L680.58,350.49 L680.89,350.56 L681.20,350.62" fill="none" stroke="#000" stroke-width="1.5"/>
<rect x="494.6" y="362" width="186.60000000000002" height="34.30000000000001" fill="none" stroke="#000" stroke-width="1.2"/>
<line x1="492.8" y1="391.30" x2="494.6" y2="391.30" stroke="#000" stroke-width="0.9"/>
<text x="491.3" y="394.2" font-size="8.2" text-anchor="end" fill="#000" >0</text>
<line x1="492.8" y1="381.20" x2="494.6" y2="381.20" stroke="#000" stroke-width="0.9"/>
<text x="491.3" y="384.1" font-size="8.2" text-anchor="end" fill="#000" >5</text>
<line x1="492.8" y1="371.10" x2="494.6" y2="371.10" stroke="#000" stroke-width="0.9"/>
<text x="491.3" y="374.0" font-size="8.2" text-anchor="end" fill="#000" >10</text>
<line x1="494.60" y1="396.3" x2="494.60" y2="398.1" stroke="#000" stroke-width="0.9"/>
<line x1="541.25" y1="396.3" x2="541.25" y2="398.1" stroke="#000" stroke-width="0.9"/>
<line x1="587.90" y1="396.3" x2="587.90" y2="398.1" stroke="#000" stroke-width="0.9"/>
<line x1="634.55" y1="396.3" x2="634.55" y2="398.1" stroke="#000" stroke-width="0.9"/>
<line x1="681.20" y1="396.3" x2="681.20" y2="398.1" stroke="#000" stroke-width="0.9"/>
<line x1="517.93" y1="396.3" x2="517.93" y2="397.40000000000003" stroke="#000" stroke-width="0.9"/>
<line x1="564.58" y1="396.3" x2="564.58" y2="397.40000000000003" stroke="#000" stroke-width="0.9"/>
<line x1="611.23" y1="396.3" x2="611.23" y2="397.40000000000003" stroke="#000" stroke-width="0.9"/>
<line x1="657.88" y1="396.3" x2="657.88" y2="397.40000000000003" stroke="#000" stroke-width="0.9"/>
<path d="M494.60,389.89 L494.91,389.89 L495.22,389.89 L495.53,389.89 L495.85,389.89 L496.16,389.89 L496.47,389.89 L496.78,389.89 L497.09,389.89 L497.40,389.89 L497.72,389.89 L498.03,389.89 L498.34,389.89 L498.65,389.89 L498.96,389.89 L499.27,389.89 L499.58,389.89 L499.90,389.89 L500.21,389.89 L500.52,389.89 L500.83,389.89 L501.14,389.89 L501.45,389.89 L501.76,389.89 L502.08,389.89 L502.39,389.89 L502.70,389.89 L503.01,389.89 L503.32,389.89 L503.63,389.89 L503.95,389.89 L504.26,389.89 L504.57,389.89 L504.88,389.89 L505.19,389.88 L505.50,389.88 L505.81,389.88 L506.13,389.88 L506.44,389.87 L506.75,389.86 L507.06,389.84 L507.37,389.80 L507.68,389.76 L508.00,389.68 L508.31,389.57 L508.62,389.42 L508.93,389.20 L509.24,388.90 L509.55,388.50 L509.86,387.98 L510.18,387.32 L510.49,386.52 L510.80,385.56 L511.11,384.44 L511.42,383.18 L511.73,381.81 L512.05,380.36 L512.36,378.90 L512.67,377.48 L512.98,376.16 L513.29,375.02 L513.60,374.11 L513.91,373.46 L514.23,373.11 L514.54,373.06 L514.85,373.28 L515.16,373.73 L515.47,374.36 L515.78,375.10 L516.09,375.88 L516.41,376.66 L516.72,377.36 L517.03,377.97 L517.34,378.45 L517.65,378.81 L517.96,379.06 L518.28,379.22 L518.59,379.32 L518.90,379.39 L519.21,379.46 L519.52,379.56 L519.83,379.69 L520.14,379.87 L520.46,380.12 L520.77,380.42 L521.08,380.78 L521.39,381.21 L521.70,381.68 L522.01,382.21 L522.33,382.78 L522.64,383.39 L522.95,384.02 L523.26,384.67 L523.57,385.32 L523.88,385.95 L524.19,386.54 L524.51,387.07 L524.82,387.55 L525.13,387.94 L525.44,388.26 L525.75,388.50 L526.06,388.66 L526.37,388.75 L526.69,388.79 L527.00,388.78 L527.31,388.73 L527.62,388.65 L527.93,388.57 L528.24,388.48 L528.56,388.40 L528.87,388.33 L529.18,388.29 L529.49,388.27 L529.80,388.27 L530.11,388.31 L530.42,388.37 L530.74,388.45 L531.05,388.56 L531.36,388.67 L531.67,388.80 L531.98,388.93 L532.29,389.06 L532.61,389.19 L532.92,389.30 L533.23,389.41 L533.54,389.50 L533.85,389.58 L534.16,389.65 L534.47,389.71 L534.79,389.75 L535.10,389.79 L535.41,389.81 L535.72,389.84 L536.03,389.85 L536.34,389.86 L536.66,389.87 L536.97,389.88 L537.28,389.88 L537.59,389.88 L537.90,389.88 L538.21,389.88 L538.52,389.88 L538.84,389.89 L539.15,389.89 L539.46,389.89 L539.77,389.89 L540.08,389.89 L540.39,389.89 L540.70,389.89 L541.02,389.89 L541.33,389.89 L541.64,389.89 L541.95,389.89 L542.26,389.89 L542.57,389.89 L542.89,389.89 L543.20,389.89 L543.51,389.89 L543.82,389.89 L544.13,389.89 L544.44,389.89 L544.75,389.89 L545.07,389.89 L545.38,389.89 L545.69,389.89 L546.00,389.89 L546.31,389.89 L546.62,389.89 L546.94,389.89 L547.25,389.89 L547.56,389.89 L547.87,389.89 L548.18,389.89 L548.49,389.89 L548.80,389.89 L549.12,389.89 L549.43,389.89 L549.74,389.89 L550.05,389.89 L550.36,389.89 L550.67,389.89 L550.98,389.89 L551.30,389.89 L551.61,389.89 L551.92,389.89 L552.23,389.89 L552.54,389.89 L552.85,389.89 L553.17,389.89 L553.48,389.89 L553.79,389.89 L554.10,389.89 L554.41,389.89 L554.72,389.89 L555.03,389.89 L555.35,389.89 L555.66,389.89 L555.97,389.89 L556.28,389.89 L556.59,389.89 L556.90,389.89 L557.22,389.89 L557.53,389.89 L557.84,389.89 L558.15,389.89 L558.46,389.89 L558.77,389.89 L559.08,389.89 L559.40,389.89 L559.71,389.89 L560.02,389.89 L560.33,389.89 L560.64,389.89 L560.95,389.89 L561.27,389.89 L561.58,389.89 L561.89,389.89 L562.20,389.89 L562.51,389.89 L562.82,389.89 L563.13,389.89 L563.45,389.89 L563.76,389.89 L564.07,389.89 L564.38,389.89 L564.69,389.89 L565.00,389.89 L565.31,389.89 L565.63,389.89 L565.94,389.89 L566.25,389.89 L566.56,389.89 L566.87,389.89 L567.18,389.89 L567.50,389.89 L567.81,389.89 L568.12,389.89 L568.43,389.89 L568.74,389.89 L569.05,389.89 L569.36,389.89 L569.68,389.89 L569.99,389.89 L570.30,389.89 L570.61,389.89 L570.92,389.89 L571.23,389.89 L571.55,389.89 L571.86,389.89 L572.17,389.89 L572.48,389.89 L572.79,389.89 L573.10,389.89 L573.41,389.89 L573.73,389.89 L574.04,389.89 L574.35,389.89 L574.66,389.89 L574.97,389.89 L575.28,389.89 L575.59,389.89 L575.91,389.89 L576.22,389.89 L576.53,389.89 L576.84,389.89 L577.15,389.89 L577.46,389.89 L577.78,389.89 L578.09,389.89 L578.40,389.89 L578.71,389.89 L579.02,389.89 L579.33,389.89 L579.64,389.89 L579.96,389.89 L580.27,389.89 L580.58,389.89 L580.89,389.89 L581.20,389.89 L581.51,389.89 L581.83,389.89 L582.14,389.89 L582.45,389.89 L582.76,389.89 L583.07,389.89 L583.38,389.89 L583.69,389.89 L584.01,389.89 L584.32,389.89 L584.63,389.89 L584.94,389.89 L585.25,389.89 L585.56,389.89 L585.88,389.89 L586.19,389.89 L586.50,389.89 L586.81,389.89 L587.12,389.89 L587.43,389.89 L587.74,389.89 L588.06,389.89 L588.37,389.89 L588.68,389.89 L588.99,389.89 L589.30,389.89 L589.61,389.89 L589.92,389.89 L590.24,389.89 L590.55,389.89 L590.86,389.89 L591.17,389.89 L591.48,389.89 L591.79,389.89 L592.11,389.89 L592.42,389.89 L592.73,389.89 L593.04,389.89 L593.35,389.89 L593.66,389.89 L593.97,389.89 L594.29,389.89 L594.60,389.89 L594.91,389.89 L595.22,389.89 L595.53,389.89 L595.84,389.89 L596.16,389.89 L596.47,389.89 L596.78,389.89 L597.09,389.89 L597.40,389.89 L597.71,389.89 L598.02,389.89 L598.34,389.89 L598.65,389.89 L598.96,389.89 L599.27,389.89 L599.58,389.89 L599.89,389.89 L600.21,389.89 L600.52,389.89 L600.83,389.89 L601.14,389.89 L601.45,389.88 L601.76,389.88 L602.07,389.88 L602.39,389.87 L602.70,389.86 L603.01,389.85 L603.32,389.84 L603.63,389.81 L603.94,389.78 L604.25,389.73 L604.57,389.67 L604.88,389.57 L605.19,389.44 L605.50,389.26 L605.81,389.01 L606.12,388.69 L606.44,388.27 L606.75,387.73 L607.06,387.07 L607.37,386.26 L607.68,385.30 L607.99,384.18 L608.30,382.91 L608.62,381.50 L608.93,379.98 L609.24,378.40 L609.55,376.79 L609.86,375.21 L610.17,373.73 L610.49,372.41 L610.80,371.32 L611.11,370.48 L611.42,369.96 L611.73,369.77 L612.04,369.90 L612.35,370.35 L612.67,371.08 L612.98,372.05 L613.29,373.18 L613.60,374.42 L613.91,375.69 L614.22,376.95 L614.53,378.13 L614.85,379.19 L615.16,380.11 L615.47,380.88 L615.78,381.50 L616.09,381.98 L616.40,382.35 L616.72,382.63 L617.03,382.86 L617.34,383.06 L617.65,383.27 L617.96,383.51 L618.27,383.78 L618.58,384.11 L618.90,384.47 L619.21,384.88 L619.52,385.33 L619.83,385.79 L620.14,386.25 L620.45,386.71 L620.77,387.14 L621.08,387.53 L621.39,387.89 L621.70,388.20 L622.01,388.47 L622.32,388.68 L622.63,388.85 L622.95,388.97 L623.26,389.06 L623.57,389.12 L623.88,389.14 L624.19,389.14 L624.50,389.12 L624.82,389.08 L625.13,389.02 L625.44,388.95 L625.75,388.87 L626.06,388.77 L626.37,388.67 L626.68,388.55 L627.00,388.42 L627.31,388.28 L627.62,388.13 L627.93,387.97 L628.24,387.80 L628.55,387.61 L628.86,387.40 L629.18,387.18 L629.49,386.94 L629.80,386.68 L630.11,386.40 L630.42,386.10 L630.73,385.77 L631.05,385.42 L631.36,385.05 L631.67,384.66 L631.98,384.26 L632.29,383.84 L632.60,383.42 L632.91,383.00 L633.23,382.59 L633.54,382.20 L633.85,381.84 L634.16,381.52 L634.47,381.25 L634.78,381.03 L635.10,380.88 L635.41,380.80 L635.72,380.79 L636.03,380.86 L636.34,381.00 L636.65,381.21 L636.96,381.49 L637.28,381.82 L637.59,382.20 L637.90,382.62 L638.21,383.06 L638.52,383.50 L638.83,383.94 L639.14,384.36 L639.46,384.75 L639.77,385.10 L640.08,385.40 L640.39,385.65 L640.70,385.83 L641.01,385.95 L641.33,386.00 L641.64,386.00 L641.95,385.94 L642.26,385.84 L642.57,385.69 L642.88,385.52 L643.19,385.33 L643.51,385.14 L643.82,384.95 L644.13,384.78 L644.44,384.64 L644.75,384.53 L645.06,384.47 L645.38,384.46 L645.69,384.49 L646.00,384.57 L646.31,384.70 L646.62,384.87 L646.93,385.07 L647.24,385.30 L647.56,385.54 L647.87,385.80 L648.18,386.05 L648.49,386.30 L648.80,386.54 L649.11,386.76 L649.43,386.96 L649.74,387.13 L650.05,387.27 L650.36,387.39 L650.67,387.48 L650.98,387.55 L651.29,387.59 L651.61,387.61 L651.92,387.61 L652.23,387.60 L652.54,387.58 L652.85,387.55 L653.16,387.51 L653.47,387.47 L653.79,387.42 L654.10,387.37 L654.41,387.32 L654.72,387.27 L655.03,387.21 L655.34,387.16 L655.66,387.10 L655.97,387.03 L656.28,386.96 L656.59,386.88 L656.90,386.79 L657.21,386.69 L657.52,386.58 L657.84,386.45 L658.15,386.30 L658.46,386.14 L658.77,385.96 L659.08,385.75 L659.39,385.53 L659.71,385.29 L660.02,385.04 L660.33,384.77 L660.64,384.49 L660.95,384.20 L661.26,383.91 L661.57,383.63 L661.89,383.35 L662.20,383.09 L662.51,382.85 L662.82,382.64 L663.13,382.45 L663.44,382.30 L663.75,382.19 L664.07,382.13 L664.38,382.10 L664.69,382.12 L665.00,382.19 L665.31,382.30 L665.62,382.44 L665.94,382.62 L666.25,382.84 L666.56,383.07 L666.87,383.33 L667.18,383.60 L667.49,383.88 L667.80,384.17 L668.12,384.45 L668.43,384.72 L668.74,384.98 L669.05,385.23 L669.36,385.45 L669.67,385.66 L669.99,385.85 L670.30,386.01 L670.61,386.16 L670.92,386.28 L671.23,386.38 L671.54,386.47 L671.85,386.54 L672.17,386.60 L672.48,386.65 L672.79,386.69 L673.10,386.72 L673.41,386.75 L673.72,386.77 L674.04,386.80 L674.35,386.83 L674.66,386.86 L674.97,386.89 L675.28,386.93 L675.59,386.98 L675.90,387.02 L676.22,387.08 L676.53,387.14 L676.84,387.20 L677.15,387.26 L677.46,387.33 L677.77,387.41 L678.08,387.48 L678.40,387.56 L678.71,387.64 L679.02,387.72 L679.33,387.80 L679.64,387.87 L679.95,387.95 L680.27,388.02 L680.58,388.09 L680.89,388.16 L681.20,388.22" fill="none" stroke="#000" stroke-width="1.5"/>
<text x="509.4" y="336.5" font-size="8.4" text-anchor="middle" fill="#000" >Bi</text>
<text x="605.4" y="333.9" font-size="8.4" text-anchor="middle" fill="#000" >Ti</text>
<text x="621.9" y="343.2" font-size="8.4" text-anchor="middle" fill="#000" >La</text>
<text x="636.3" y="341.5" font-size="8.4" text-anchor="middle" fill="#000" >Pr</text>
<text x="647.4" y="345.9" font-size="8.4" text-anchor="middle" fill="#000" >Nd</text>
<text x="670.9" y="343.2" font-size="8.4" text-anchor="middle" fill="#000" >Sm</text>
<text x="509.4" y="374.4" font-size="8.4" text-anchor="middle" fill="#000" >Bi</text>
<text x="605.4" y="371.79999999999995" font-size="8.4" text-anchor="middle" fill="#000" >Ti</text>
<text x="621.9" y="381.09999999999997" font-size="8.4" text-anchor="middle" fill="#000" >La</text>
<text x="636.3" y="379.4" font-size="8.4" text-anchor="middle" fill="#000" >Pr</text>
<text x="647.4" y="383.79999999999995" font-size="8.4" text-anchor="middle" fill="#000" >Nd</text>
<text x="670.9" y="381.09999999999997" font-size="8.4" text-anchor="middle" fill="#000" >Sm</text>
<text x="557" y="347.4" font-size="8.6" text-anchor="middle" fill="#b8a422" >Bi: Ln=1: 2.69</text>
<text x="558.8" y="385.3" font-size="8.6" text-anchor="middle" fill="#3a58f0" >Bi: Ln=1: 3.04</text>
<text x="494.6" y="404.2" font-size="8.6" text-anchor="middle" fill="#000" >2</text>
<text x="541.25" y="404.2" font-size="8.6" text-anchor="middle" fill="#000" >3</text>
<text x="587.9" y="404.2" font-size="8.6" text-anchor="middle" fill="#000" >4</text>
<text x="634.55" y="404.2" font-size="8.6" text-anchor="middle" fill="#000" >5</text>
<text x="681.2" y="404.2" font-size="8.6" text-anchor="middle" fill="#000" >6</text>
<text x="587.6" y="413" font-size="10" text-anchor="middle">Energy (keV)</text>
<text transform="translate(481.8,358.7) rotate(-90)" font-size="8.6" text-anchor="middle">Intensity (counts)</text>
</svg>
</body></html>
